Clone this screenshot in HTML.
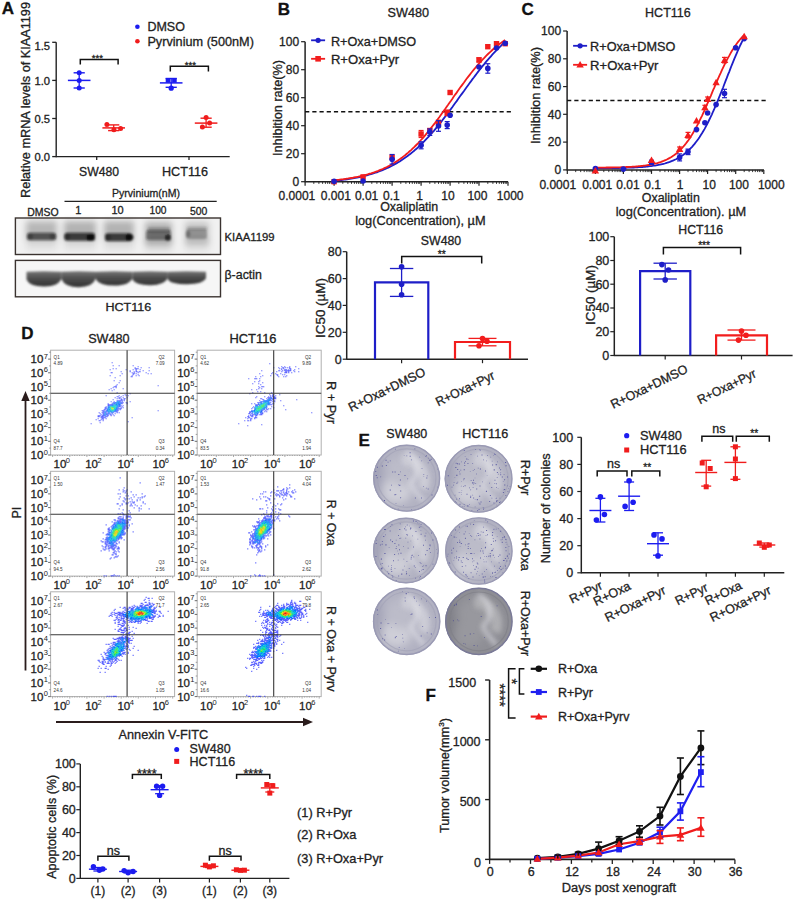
<!DOCTYPE html>
<html><head><meta charset="utf-8"><style>
html,body{margin:0;padding:0;background:#fff;overflow:hidden;}
svg{display:block;font-family:"Liberation Sans", sans-serif;}

</style></head><body>
<svg width="795" height="899" viewBox="0 0 795 899">
<rect width="795" height="899" fill="#fff"/>
<text x="1.8" y="13.8" font-size="17" text-anchor="start" fill="#111" stroke="#111" stroke-width="0.3" font-weight="bold">A</text>
<line x1="56.2" y1="42.3" x2="56.2" y2="157.2" stroke="#222" stroke-width="1.4"/>
<line x1="52.2" y1="42.3" x2="56.2" y2="42.3" stroke="#222" stroke-width="1.3"/>
<text x="50.0" y="49.7" font-size="11.2" text-anchor="end" fill="#222" stroke="#222" stroke-width="0.3" textLength="15.6" lengthAdjust="spacingAndGlyphs">1.5</text>
<line x1="52.2" y1="80.4" x2="56.2" y2="80.4" stroke="#222" stroke-width="1.3"/>
<text x="50.0" y="85.2" font-size="11.2" text-anchor="end" fill="#222" stroke="#222" stroke-width="0.3" textLength="15.6" lengthAdjust="spacingAndGlyphs">1.0</text>
<line x1="52.2" y1="118.5" x2="56.2" y2="118.5" stroke="#222" stroke-width="1.3"/>
<text x="50.0" y="122.5" font-size="11.2" text-anchor="end" fill="#222" stroke="#222" stroke-width="0.3" textLength="15.6" lengthAdjust="spacingAndGlyphs">0.5</text>
<line x1="52.2" y1="156.6" x2="56.2" y2="156.6" stroke="#222" stroke-width="1.3"/>
<text x="50.0" y="160.6" font-size="11.2" text-anchor="end" fill="#222" stroke="#222" stroke-width="0.3" textLength="15.6" lengthAdjust="spacingAndGlyphs">0.0</text>
<line x1="56.2" y1="156.6" x2="229.7" y2="156.6" stroke="#222" stroke-width="1.4"/>
<line x1="96.7" y1="156.6" x2="96.7" y2="160.1" stroke="#222" stroke-width="1.3"/>
<line x1="189.0" y1="156.6" x2="189.0" y2="160.1" stroke="#222" stroke-width="1.3"/>
<text x="99.0" y="175.5" font-size="12.5" text-anchor="middle" fill="#222" stroke="#222" stroke-width="0.3" textLength="40" lengthAdjust="spacingAndGlyphs">SW480</text>
<text x="185.0" y="175.5" font-size="12.5" text-anchor="middle" fill="#222" stroke="#222" stroke-width="0.3" textLength="46" lengthAdjust="spacingAndGlyphs">HCT116</text>
<text x="0.0" y="0.0" font-size="12.2" text-anchor="middle" fill="#222" stroke="#222" stroke-width="0.3" textLength="196" lengthAdjust="spacingAndGlyphs" transform="translate(29.6,100.0) rotate(-90)">Relative mRNA levels of KIAA1199</text>
<circle cx="137.4" cy="26.7" r="2.3" fill="#1c1cf0"/>
<text x="147.4" y="31.0" font-size="12.5" text-anchor="start" fill="#222" stroke="#222" stroke-width="0.3">DMSO</text>
<circle cx="137.4" cy="41.2" r="2.3" fill="#f01c1c"/>
<text x="147.4" y="45.5" font-size="12.5" text-anchor="start" fill="#222" stroke="#222" stroke-width="0.3" textLength="106.5" lengthAdjust="spacingAndGlyphs">Pyrvinium (500nM)</text>
<line x1="79.2" y1="72.8" x2="79.2" y2="88.0" stroke="#1c1cf0" stroke-width="1.3"/>
<line x1="67.9" y1="80.4" x2="90.5" y2="80.4" stroke="#1c1cf0" stroke-width="1.5"/>
<line x1="73.6" y1="72.8" x2="84.8" y2="72.8" stroke="#1c1cf0" stroke-width="1.4"/>
<line x1="73.6" y1="88.0" x2="84.8" y2="88.0" stroke="#1c1cf0" stroke-width="1.4"/>
<circle cx="79.2" cy="72.8" r="2.5" fill="#1c1cf0"/>
<circle cx="79.2" cy="80.4" r="2.5" fill="#1c1cf0"/>
<circle cx="79.2" cy="88.0" r="2.5" fill="#1c1cf0"/>
<line x1="113.7" y1="124.9" x2="113.7" y2="130.6" stroke="#f01c1c" stroke-width="1.3"/>
<line x1="102.4" y1="127.9" x2="125.0" y2="127.9" stroke="#f01c1c" stroke-width="1.5"/>
<line x1="108.1" y1="124.9" x2="119.3" y2="124.9" stroke="#f01c1c" stroke-width="1.4"/>
<line x1="108.1" y1="130.6" x2="119.3" y2="130.6" stroke="#f01c1c" stroke-width="1.4"/>
<circle cx="106.9" cy="124.6" r="2.5" fill="#f01c1c"/>
<circle cx="113.9" cy="129.8" r="2.5" fill="#f01c1c"/>
<circle cx="120.6" cy="128.6" r="2.5" fill="#f01c1c"/>
<line x1="171.2" y1="78.5" x2="171.2" y2="87.3" stroke="#1c1cf0" stroke-width="1.3"/>
<line x1="159.9" y1="82.9" x2="182.5" y2="82.9" stroke="#1c1cf0" stroke-width="1.5"/>
<line x1="165.6" y1="78.5" x2="176.8" y2="78.5" stroke="#1c1cf0" stroke-width="1.4"/>
<line x1="165.6" y1="87.3" x2="176.8" y2="87.3" stroke="#1c1cf0" stroke-width="1.4"/>
<rect x="165.7" y="78.1" width="4.6" height="4.6" fill="#1c1cf0"/>
<rect x="172.1" y="78.1" width="4.6" height="4.6" fill="#1c1cf0"/>
<circle cx="171.2" cy="88.2" r="2.6" fill="#1c1cf0"/>
<line x1="206.1" y1="118.2" x2="206.1" y2="127.2" stroke="#f01c1c" stroke-width="1.3"/>
<line x1="194.8" y1="123.1" x2="217.4" y2="123.1" stroke="#f01c1c" stroke-width="1.5"/>
<line x1="200.5" y1="118.2" x2="211.7" y2="118.2" stroke="#f01c1c" stroke-width="1.4"/>
<line x1="200.5" y1="127.2" x2="211.7" y2="127.2" stroke="#f01c1c" stroke-width="1.4"/>
<circle cx="206.1" cy="117.4" r="2.5" fill="#f01c1c"/>
<circle cx="209.6" cy="123.1" r="2.5" fill="#f01c1c"/>
<circle cx="202.4" cy="127.1" r="2.5" fill="#f01c1c"/>
<path d="M80.3 64.5V59.5H118.1V64.5" stroke="#111" stroke-width="1.5" fill="none"/>
<text x="97.4" y="61.0" font-size="9.6" text-anchor="middle" fill="#222" stroke="#222" stroke-width="0.3">***</text>
<path d="M170.3 71.6V66.3H208.4V71.6" stroke="#111" stroke-width="1.5" fill="none"/>
<text x="190.3" y="68.0" font-size="9.6" text-anchor="middle" fill="#222" stroke="#222" stroke-width="0.3">***</text>
<text x="146.0" y="196.8" font-size="11" text-anchor="middle" fill="#222" stroke="#222" stroke-width="0.3" textLength="68" lengthAdjust="spacingAndGlyphs">Pyrvinium(nM)</text>
<line x1="64.5" y1="201.4" x2="216.7" y2="201.4" stroke="#222" stroke-width="1.2"/>
<text x="42.9" y="215.8" font-size="11" text-anchor="middle" fill="#222" stroke="#222" stroke-width="0.3" textLength="31.4" lengthAdjust="spacingAndGlyphs">DMSO</text>
<text x="78.2" y="213.8" font-size="11" text-anchor="middle" fill="#222" stroke="#222" stroke-width="0.3">1</text>
<text x="117.5" y="213.8" font-size="11" text-anchor="middle" fill="#222" stroke="#222" stroke-width="0.3">10</text>
<text x="158.0" y="214.0" font-size="11" text-anchor="middle" fill="#222" stroke="#222" stroke-width="0.3" textLength="17" lengthAdjust="spacingAndGlyphs">100</text>
<text x="198.7" y="215.4" font-size="11" text-anchor="middle" fill="#222" stroke="#222" stroke-width="0.3" textLength="17.4" lengthAdjust="spacingAndGlyphs">500</text>
<defs><filter id="bl2" x="-20%" y="-50%" width="140%" height="200%"><feGaussianBlur stdDeviation="1.6"/></filter><filter id="bl1" x="-20%" y="-50%" width="140%" height="200%"><feGaussianBlur stdDeviation="1.3"/></filter><filter id="bl4" x="-30%" y="-60%" width="160%" height="220%"><feGaussianBlur stdDeviation="3"/></filter></defs>
<rect x="15.4" y="218.0" width="205.1" height="36.5" fill="#f1f1f1"/>
<g filter="url(#bl4)">
<rect x="26" y="221" width="31" height="19" fill="#000" opacity="0.24"/>
<rect x="64" y="221" width="32" height="19" fill="#000" opacity="0.26"/>
<rect x="104" y="221" width="30" height="19" fill="#000" opacity="0.26"/>
<rect x="145" y="222" width="27" height="22" fill="#000" opacity="0.26"/>
<rect x="185" y="222" width="24" height="22" fill="#000" opacity="0.19"/>
<rect x="26" y="238" width="31" height="12" fill="#000" opacity="0.08"/>
<rect x="64" y="238" width="32" height="12" fill="#000" opacity="0.08"/>
<rect x="104" y="238" width="30" height="12" fill="#000" opacity="0.08"/>
<rect x="145" y="238" width="27" height="13" fill="#000" opacity="0.1"/>
<rect x="185" y="238" width="24" height="13" fill="#000" opacity="0.08"/>
</g>
<g filter="url(#bl1)">
<rect x="27" y="232.85" width="29" height="7.5" rx="2.5" fill="#111" opacity="0.62"/>
<rect x="64.5" y="232.8" width="30.5" height="8" rx="2.5" fill="#111" opacity="0.75"/>
<rect x="105" y="233.2" width="27" height="8" rx="2.5" fill="#111" opacity="0.75"/>
<rect x="146" y="230.0" width="25" height="10" rx="2.5" fill="#111" opacity="0.45"/>
<rect x="186" y="229.0" width="21" height="10" rx="2.5" fill="#111" opacity="0.26"/>
<rect x="148" y="227.5" width="22" height="5" fill="#222" opacity="0.25"/>
<rect x="187" y="227" width="20" height="3" fill="#222" opacity="0.22"/>
<ellipse cx="30" cy="236.6" rx="3" ry="3.2" fill="#000" opacity="0.3"/>
<ellipse cx="53" cy="236.6" rx="3.4" ry="3.2" fill="#000" opacity="0.3"/>
<ellipse cx="67" cy="236.8" rx="3" ry="3.2" fill="#000" opacity="0.35"/>
<ellipse cx="90.5" cy="237.5" rx="4" ry="3.2" fill="#000" opacity="0.75"/>
<ellipse cx="108" cy="237.2" rx="3" ry="3.2" fill="#000" opacity="0.35"/>
<ellipse cx="129.5" cy="237.2" rx="4" ry="3.2" fill="#000" opacity="0.75"/>
<ellipse cx="168" cy="237.8" rx="3" ry="3.2" fill="#000" opacity="0.6"/>
<ellipse cx="188" cy="234" rx="2.4" ry="3.2" fill="#000" opacity="0.25"/>
</g>
<rect x="15.4" y="218.0" width="205.1" height="36.5" fill="none" stroke="#3b3330" stroke-width="1.4"/>
<rect x="15.4" y="260.4" width="205.1" height="36.4" fill="#f6f6f6"/>
<defs><linearGradient id="bact" x1="0" y1="0" x2="0" y2="1"><stop offset="0" stop-color="#767676"/><stop offset="0.45" stop-color="#4e4e4e"/><stop offset="1" stop-color="#333333"/></linearGradient></defs>
<g filter="url(#bl1)">
<path d="M26.5 271.8 Q44.1 270.8 61.7 271.8 L61.7 278 Q58.7 286.5 44.1 286.5 Q29.5 286.5 26.5 279.5 Z" fill="url(#bact)"/>
<path d="M61.7 271.8 Q78.85 270.8 96 271.8 L96 278 Q93 287.2 78.85 287.2 Q64.7 287.2 61.7 279.5 Z" fill="url(#bact)"/>
<path d="M96 271.8 Q114.25 270.8 132.5 271.8 L132.5 278 Q129.5 285.5 114.25 285.5 Q99 285.5 96 279.5 Z" fill="url(#bact)"/>
<path d="M132.5 271.8 Q150.15 270.8 167.8 271.8 L167.8 278 Q164.8 285.2 150.15 285.2 Q135.5 285.2 132.5 279.5 Z" fill="url(#bact)"/>
<path d="M167.8 271.8 Q186.9 270.8 206 271.8 L206 278 Q203 284.2 186.9 284.2 Q170.8 284.2 167.8 279.5 Z" fill="url(#bact)"/>
</g>
<rect x="15.4" y="260.4" width="205.1" height="36.4" fill="none" stroke="#3b3330" stroke-width="1.4"/>
<text x="224.5" y="240.7" font-size="11.3" text-anchor="start" fill="#222" stroke="#222" stroke-width="0.3">KIAA1199</text>
<text x="224.5" y="279.0" font-size="12" text-anchor="start" fill="#222" stroke="#222" stroke-width="0.3" textLength="37.4" lengthAdjust="spacingAndGlyphs">β-actin</text>
<text x="128.3" y="310.8" font-size="11.7" text-anchor="middle" fill="#222" stroke="#222" stroke-width="0.3" textLength="45.8" lengthAdjust="spacingAndGlyphs">HCT116</text>
<text x="277.7" y="14.8" font-size="17" text-anchor="start" fill="#111" stroke="#111" stroke-width="0.3" font-weight="bold">B</text>
<text x="408.3" y="17.2" font-size="12.6" text-anchor="middle" fill="#222" stroke="#222" stroke-width="0.3" textLength="41.5" lengthAdjust="spacingAndGlyphs">SW480</text>
<line x1="305.1" y1="41.7" x2="305.1" y2="182.3" stroke="#222" stroke-width="1.5"/>
<line x1="301.1" y1="181.7" x2="305.1" y2="181.7" stroke="#222" stroke-width="1.2"/>
<text x="299.1" y="186.0" font-size="12" text-anchor="end" fill="#222" stroke="#222" stroke-width="0.3">0</text>
<line x1="301.1" y1="153.7" x2="305.1" y2="153.7" stroke="#222" stroke-width="1.2"/>
<text x="299.1" y="158.0" font-size="12" text-anchor="end" fill="#222" stroke="#222" stroke-width="0.3">20</text>
<line x1="301.1" y1="125.7" x2="305.1" y2="125.7" stroke="#222" stroke-width="1.2"/>
<text x="299.1" y="130.0" font-size="12" text-anchor="end" fill="#222" stroke="#222" stroke-width="0.3">40</text>
<line x1="301.1" y1="97.7" x2="305.1" y2="97.7" stroke="#222" stroke-width="1.2"/>
<text x="299.1" y="102.0" font-size="12" text-anchor="end" fill="#222" stroke="#222" stroke-width="0.3">60</text>
<line x1="301.1" y1="69.7" x2="305.1" y2="69.7" stroke="#222" stroke-width="1.2"/>
<text x="299.1" y="74.0" font-size="12" text-anchor="end" fill="#222" stroke="#222" stroke-width="0.3">80</text>
<line x1="301.1" y1="41.7" x2="305.1" y2="41.7" stroke="#222" stroke-width="1.2"/>
<text x="299.1" y="46.0" font-size="12" text-anchor="end" fill="#222" stroke="#222" stroke-width="0.3">100</text>
<line x1="305.1" y1="181.7" x2="508.0" y2="181.7" stroke="#222" stroke-width="1.5"/>
<line x1="305.1" y1="181.7" x2="305.1" y2="185.7" stroke="#222" stroke-width="1.2"/>
<line x1="313.8" y1="181.7" x2="313.8" y2="183.9" stroke="#222" stroke-width="0.9"/>
<line x1="318.9" y1="181.7" x2="318.9" y2="183.9" stroke="#222" stroke-width="0.9"/>
<line x1="322.6" y1="181.7" x2="322.6" y2="183.9" stroke="#222" stroke-width="0.9"/>
<line x1="325.4" y1="181.7" x2="325.4" y2="183.9" stroke="#222" stroke-width="0.9"/>
<line x1="327.7" y1="181.7" x2="327.7" y2="183.9" stroke="#222" stroke-width="0.9"/>
<line x1="329.6" y1="181.7" x2="329.6" y2="183.9" stroke="#222" stroke-width="0.9"/>
<line x1="331.3" y1="181.7" x2="331.3" y2="183.9" stroke="#222" stroke-width="0.9"/>
<line x1="332.8" y1="181.7" x2="332.8" y2="183.9" stroke="#222" stroke-width="0.9"/>
<line x1="334.1" y1="181.7" x2="334.1" y2="185.7" stroke="#222" stroke-width="1.2"/>
<line x1="342.8" y1="181.7" x2="342.8" y2="183.9" stroke="#222" stroke-width="0.9"/>
<line x1="347.9" y1="181.7" x2="347.9" y2="183.9" stroke="#222" stroke-width="0.9"/>
<line x1="351.5" y1="181.7" x2="351.5" y2="183.9" stroke="#222" stroke-width="0.9"/>
<line x1="354.4" y1="181.7" x2="354.4" y2="183.9" stroke="#222" stroke-width="0.9"/>
<line x1="356.6" y1="181.7" x2="356.6" y2="183.9" stroke="#222" stroke-width="0.9"/>
<line x1="358.6" y1="181.7" x2="358.6" y2="183.9" stroke="#222" stroke-width="0.9"/>
<line x1="360.3" y1="181.7" x2="360.3" y2="183.9" stroke="#222" stroke-width="0.9"/>
<line x1="361.8" y1="181.7" x2="361.8" y2="183.9" stroke="#222" stroke-width="0.9"/>
<line x1="363.1" y1="181.7" x2="363.1" y2="185.7" stroke="#222" stroke-width="1.2"/>
<line x1="371.8" y1="181.7" x2="371.8" y2="183.9" stroke="#222" stroke-width="0.9"/>
<line x1="376.9" y1="181.7" x2="376.9" y2="183.9" stroke="#222" stroke-width="0.9"/>
<line x1="380.5" y1="181.7" x2="380.5" y2="183.9" stroke="#222" stroke-width="0.9"/>
<line x1="383.3" y1="181.7" x2="383.3" y2="183.9" stroke="#222" stroke-width="0.9"/>
<line x1="385.6" y1="181.7" x2="385.6" y2="183.9" stroke="#222" stroke-width="0.9"/>
<line x1="387.6" y1="181.7" x2="387.6" y2="183.9" stroke="#222" stroke-width="0.9"/>
<line x1="389.3" y1="181.7" x2="389.3" y2="183.9" stroke="#222" stroke-width="0.9"/>
<line x1="390.7" y1="181.7" x2="390.7" y2="183.9" stroke="#222" stroke-width="0.9"/>
<line x1="392.1" y1="181.7" x2="392.1" y2="185.7" stroke="#222" stroke-width="1.2"/>
<line x1="400.8" y1="181.7" x2="400.8" y2="183.9" stroke="#222" stroke-width="0.9"/>
<line x1="405.9" y1="181.7" x2="405.9" y2="183.9" stroke="#222" stroke-width="0.9"/>
<line x1="409.5" y1="181.7" x2="409.5" y2="183.9" stroke="#222" stroke-width="0.9"/>
<line x1="412.3" y1="181.7" x2="412.3" y2="183.9" stroke="#222" stroke-width="0.9"/>
<line x1="414.6" y1="181.7" x2="414.6" y2="183.9" stroke="#222" stroke-width="0.9"/>
<line x1="416.6" y1="181.7" x2="416.6" y2="183.9" stroke="#222" stroke-width="0.9"/>
<line x1="418.3" y1="181.7" x2="418.3" y2="183.9" stroke="#222" stroke-width="0.9"/>
<line x1="419.7" y1="181.7" x2="419.7" y2="183.9" stroke="#222" stroke-width="0.9"/>
<line x1="421.1" y1="181.7" x2="421.1" y2="185.7" stroke="#222" stroke-width="1.2"/>
<line x1="429.8" y1="181.7" x2="429.8" y2="183.9" stroke="#222" stroke-width="0.9"/>
<line x1="434.9" y1="181.7" x2="434.9" y2="183.9" stroke="#222" stroke-width="0.9"/>
<line x1="438.5" y1="181.7" x2="438.5" y2="183.9" stroke="#222" stroke-width="0.9"/>
<line x1="441.3" y1="181.7" x2="441.3" y2="183.9" stroke="#222" stroke-width="0.9"/>
<line x1="443.6" y1="181.7" x2="443.6" y2="183.9" stroke="#222" stroke-width="0.9"/>
<line x1="445.6" y1="181.7" x2="445.6" y2="183.9" stroke="#222" stroke-width="0.9"/>
<line x1="447.2" y1="181.7" x2="447.2" y2="183.9" stroke="#222" stroke-width="0.9"/>
<line x1="448.7" y1="181.7" x2="448.7" y2="183.9" stroke="#222" stroke-width="0.9"/>
<line x1="450.1" y1="181.7" x2="450.1" y2="185.7" stroke="#222" stroke-width="1.2"/>
<line x1="458.8" y1="181.7" x2="458.8" y2="183.9" stroke="#222" stroke-width="0.9"/>
<line x1="463.9" y1="181.7" x2="463.9" y2="183.9" stroke="#222" stroke-width="0.9"/>
<line x1="467.5" y1="181.7" x2="467.5" y2="183.9" stroke="#222" stroke-width="0.9"/>
<line x1="470.3" y1="181.7" x2="470.3" y2="183.9" stroke="#222" stroke-width="0.9"/>
<line x1="472.6" y1="181.7" x2="472.6" y2="183.9" stroke="#222" stroke-width="0.9"/>
<line x1="474.5" y1="181.7" x2="474.5" y2="183.9" stroke="#222" stroke-width="0.9"/>
<line x1="476.2" y1="181.7" x2="476.2" y2="183.9" stroke="#222" stroke-width="0.9"/>
<line x1="477.7" y1="181.7" x2="477.7" y2="183.9" stroke="#222" stroke-width="0.9"/>
<line x1="479.0" y1="181.7" x2="479.0" y2="185.7" stroke="#222" stroke-width="1.2"/>
<line x1="487.8" y1="181.7" x2="487.8" y2="183.9" stroke="#222" stroke-width="0.9"/>
<line x1="492.9" y1="181.7" x2="492.9" y2="183.9" stroke="#222" stroke-width="0.9"/>
<line x1="496.5" y1="181.7" x2="496.5" y2="183.9" stroke="#222" stroke-width="0.9"/>
<line x1="499.3" y1="181.7" x2="499.3" y2="183.9" stroke="#222" stroke-width="0.9"/>
<line x1="501.6" y1="181.7" x2="501.6" y2="183.9" stroke="#222" stroke-width="0.9"/>
<line x1="503.5" y1="181.7" x2="503.5" y2="183.9" stroke="#222" stroke-width="0.9"/>
<line x1="505.2" y1="181.7" x2="505.2" y2="183.9" stroke="#222" stroke-width="0.9"/>
<line x1="506.7" y1="181.7" x2="506.7" y2="183.9" stroke="#222" stroke-width="0.9"/>
<line x1="508.0" y1="181.7" x2="508.0" y2="185.7" stroke="#222" stroke-width="1.2"/>
<text x="296.9" y="199.6" font-size="12" text-anchor="middle" fill="#222" stroke="#222" stroke-width="0.3">0.0001</text>
<text x="335.8" y="199.6" font-size="12" text-anchor="middle" fill="#222" stroke="#222" stroke-width="0.3">0.001</text>
<text x="366.6" y="199.6" font-size="12" text-anchor="middle" fill="#222" stroke="#222" stroke-width="0.3">0.01</text>
<text x="391.4" y="199.6" font-size="12" text-anchor="middle" fill="#222" stroke="#222" stroke-width="0.3">0.1</text>
<text x="419.7" y="199.6" font-size="12" text-anchor="middle" fill="#222" stroke="#222" stroke-width="0.3">1</text>
<text x="447.9" y="199.6" font-size="12" text-anchor="middle" fill="#222" stroke="#222" stroke-width="0.3">10</text>
<text x="477.4" y="199.6" font-size="12" text-anchor="middle" fill="#222" stroke="#222" stroke-width="0.3">100</text>
<text x="510.2" y="199.6" font-size="12" text-anchor="middle" fill="#222" stroke="#222" stroke-width="0.3">1000</text>
<text x="409.2" y="211.4" font-size="12.5" text-anchor="middle" fill="#222" stroke="#222" stroke-width="0.3" textLength="58" lengthAdjust="spacingAndGlyphs">Oxaliplatin</text>
<text x="420.4" y="225.3" font-size="12.5" text-anchor="middle" fill="#222" stroke="#222" stroke-width="0.3" textLength="130.5" lengthAdjust="spacingAndGlyphs">log(Concentration), µM</text>
<text x="0.0" y="0.0" font-size="12" text-anchor="middle" fill="#222" stroke="#222" stroke-width="0.3" textLength="96" lengthAdjust="spacingAndGlyphs" transform="translate(281.5,108.0) rotate(-90)">Inhibition rate(%)</text>
<line x1="305.1" y1="111.7" x2="511.7" y2="111.7" stroke="#111" stroke-width="1.5" stroke-dasharray="4.2,3"/>
<path d="M334.1 180.9L335.5 180.8L336.9 180.6L338.4 180.4L339.8 180.3L341.2 180.1L342.6 179.9L344.1 179.7L345.5 179.5L346.9 179.3L348.3 179.1L349.8 178.9L351.2 178.7L352.6 178.4L354.0 178.1L355.5 177.9L356.9 177.6L358.3 177.3L359.7 177.0L361.2 176.7L362.6 176.4L364.0 176.0L365.4 175.7L366.9 175.3L368.3 174.9L369.7 174.5L371.1 174.1L372.6 173.7L374.0 173.2L375.4 172.7L376.9 172.3L378.3 171.7L379.7 171.2L381.1 170.7L382.6 170.1L384.0 169.5L385.4 168.9L386.8 168.3L388.3 167.6L389.7 166.9L391.1 166.2L392.5 165.5L394.0 164.7L395.4 163.9L396.8 163.1L398.2 162.3L399.7 161.4L401.1 160.5L402.5 159.6L403.9 158.6L405.4 157.6L406.8 156.6L408.2 155.5L409.6 154.4L411.1 153.3L412.5 152.1L413.9 151.0L415.3 149.7L416.8 148.5L418.2 147.2L419.6 145.9L421.0 144.5L422.5 143.1L423.9 141.7L425.3 140.2L426.7 138.7L428.2 137.2L429.6 135.6L431.0 134.0L432.4 132.4L433.9 130.8L435.3 129.1L436.7 127.4L438.1 125.6L439.6 123.8L441.0 122.1L442.4 120.2L443.8 118.4L445.3 116.5L446.7 114.7L448.1 112.8L449.5 110.8L451.0 108.9L452.4 107.0L453.8 105.0L455.2 103.0L456.7 101.1L458.1 99.1L459.5 97.1L460.9 95.1L462.4 93.1L463.8 91.2L465.2 89.2L466.6 87.2L468.1 85.2L469.5 83.3L470.9 81.4L472.3 79.4L473.8 77.5L475.2 75.6L476.6 73.7L478.0 71.9L479.5 70.0L480.9 68.2L482.3 66.4L483.8 64.7L485.2 62.9L486.6 61.2L488.0 59.6L489.5 57.9L490.9 56.3L492.3 54.7L493.7 53.2L495.2 51.6L496.6 50.1L498.0 48.7L499.4 47.3L500.9 45.9L502.3 44.5L503.7 43.2L505.1 41.9" stroke="#1e1ec8" stroke-width="1.8" fill="none"/>
<path d="M334.1 180.2L335.5 180.1L336.9 179.9L338.4 179.8L339.8 179.6L341.2 179.4L342.6 179.3L344.1 179.1L345.5 178.9L346.9 178.7L348.3 178.5L349.8 178.2L351.2 178.0L352.6 177.8L354.0 177.5L355.5 177.2L356.9 177.0L358.3 176.7L359.7 176.3L361.2 176.0L362.6 175.7L364.0 175.3L365.4 175.0L366.9 174.6L368.3 174.2L369.7 173.7L371.1 173.3L372.6 172.8L374.0 172.4L375.4 171.9L376.9 171.3L378.3 170.8L379.7 170.2L381.1 169.6L382.6 169.0L384.0 168.3L385.4 167.7L386.8 167.0L388.3 166.2L389.7 165.5L391.1 164.7L392.5 163.9L394.0 163.0L395.4 162.1L396.8 161.2L398.2 160.3L399.7 159.3L401.1 158.2L402.5 157.2L403.9 156.1L405.4 155.0L406.8 153.8L408.2 152.6L409.6 151.3L411.1 150.1L412.5 148.7L413.9 147.4L415.3 146.0L416.8 144.5L418.2 143.1L419.6 141.5L421.0 140.0L422.5 138.4L423.9 136.8L425.3 135.1L426.7 133.4L428.2 131.7L429.6 129.9L431.0 128.1L432.4 126.3L433.9 124.4L435.3 122.6L436.7 120.7L438.1 118.7L439.6 116.8L441.0 114.8L442.4 112.8L443.8 110.8L445.3 108.8L446.7 106.8L448.1 104.8L449.5 102.7L451.0 100.7L452.4 98.7L453.8 96.6L455.2 94.6L456.7 92.6L458.1 90.6L459.5 88.6L460.9 86.6L462.4 84.6L463.8 82.7L465.2 80.7L466.6 78.8L468.1 76.9L469.5 75.1L470.9 73.3L472.3 71.5L473.8 69.7L475.2 68.0L476.6 66.3L478.0 64.6L479.5 63.0L480.9 61.4L482.3 59.8L483.8 58.3L485.2 56.8L486.6 55.4L488.0 54.0L489.5 52.6L490.9 51.3L492.3 50.0L493.7 48.8L495.2 47.5L496.6 46.4L498.0 45.2L499.4 44.1L500.9 43.1L502.3 42.1L503.7 41.1L505.1 40.1" stroke="#f21d1d" stroke-width="1.8" fill="none"/>
<rect x="331.4" y="179.0" width="5.4" height="5.4" fill="#f21d1d"/>
<rect x="360.4" y="174.2" width="5.4" height="5.4" fill="#f21d1d"/>
<rect x="389.4" y="154.5" width="5.4" height="5.4" fill="#f21d1d"/>
<line x1="421.1" y1="130.5" x2="421.1" y2="137.5" stroke="#f21d1d" stroke-width="1.2"/>
<line x1="418.6" y1="130.5" x2="423.6" y2="130.5" stroke="#f21d1d" stroke-width="1.2"/>
<line x1="418.6" y1="137.5" x2="423.6" y2="137.5" stroke="#f21d1d" stroke-width="1.2"/>
<rect x="418.4" y="131.3" width="5.4" height="5.4" fill="#f21d1d"/>
<rect x="427.1" y="127.8" width="5.4" height="5.4" fill="#f21d1d"/>
<rect x="435.8" y="119.6" width="5.4" height="5.4" fill="#f21d1d"/>
<line x1="447.2" y1="110.0" x2="447.2" y2="115.6" stroke="#f21d1d" stroke-width="1.2"/>
<line x1="444.7" y1="110.0" x2="449.7" y2="110.0" stroke="#f21d1d" stroke-width="1.2"/>
<line x1="444.7" y1="115.6" x2="449.7" y2="115.6" stroke="#f21d1d" stroke-width="1.2"/>
<rect x="444.5" y="110.1" width="5.4" height="5.4" fill="#f21d1d"/>
<rect x="447.4" y="89.8" width="5.4" height="5.4" fill="#f21d1d"/>
<line x1="479.0" y1="57.8" x2="479.0" y2="62.0" stroke="#f21d1d" stroke-width="1.2"/>
<line x1="476.5" y1="57.8" x2="481.5" y2="57.8" stroke="#f21d1d" stroke-width="1.2"/>
<line x1="476.5" y1="62.0" x2="481.5" y2="62.0" stroke="#f21d1d" stroke-width="1.2"/>
<rect x="476.3" y="57.2" width="5.4" height="5.4" fill="#f21d1d"/>
<rect x="485.1" y="44.0" width="5.4" height="5.4" fill="#f21d1d"/>
<rect x="493.8" y="41.0" width="5.4" height="5.4" fill="#f21d1d"/>
<rect x="502.5" y="41.0" width="5.4" height="5.4" fill="#f21d1d"/>
<circle cx="334.1" cy="181.3" r="2.8" fill="#1e1ec8"/>
<circle cx="363.1" cy="181.0" r="2.8" fill="#1e1ec8"/>
<line x1="392.1" y1="154.5" x2="392.1" y2="164.1" stroke="#1e1ec8" stroke-width="1.2"/>
<line x1="389.6" y1="154.5" x2="394.6" y2="154.5" stroke="#1e1ec8" stroke-width="1.2"/>
<line x1="389.6" y1="164.1" x2="394.6" y2="164.1" stroke="#1e1ec8" stroke-width="1.2"/>
<circle cx="392.1" cy="159.3" r="2.8" fill="#1e1ec8"/>
<line x1="421.1" y1="141.8" x2="421.1" y2="148.8" stroke="#1e1ec8" stroke-width="1.2"/>
<line x1="418.6" y1="141.8" x2="423.6" y2="141.8" stroke="#1e1ec8" stroke-width="1.2"/>
<line x1="418.6" y1="148.8" x2="423.6" y2="148.8" stroke="#1e1ec8" stroke-width="1.2"/>
<circle cx="421.1" cy="145.3" r="2.8" fill="#1e1ec8"/>
<line x1="429.8" y1="128.9" x2="429.8" y2="135.4" stroke="#1e1ec8" stroke-width="1.2"/>
<line x1="427.3" y1="128.9" x2="432.3" y2="128.9" stroke="#1e1ec8" stroke-width="1.2"/>
<line x1="427.3" y1="135.4" x2="432.3" y2="135.4" stroke="#1e1ec8" stroke-width="1.2"/>
<circle cx="429.8" cy="132.1" r="2.8" fill="#1e1ec8"/>
<line x1="438.5" y1="120.7" x2="438.5" y2="131.3" stroke="#1e1ec8" stroke-width="1.2"/>
<line x1="436.0" y1="120.7" x2="441.0" y2="120.7" stroke="#1e1ec8" stroke-width="1.2"/>
<line x1="436.0" y1="131.3" x2="441.0" y2="131.3" stroke="#1e1ec8" stroke-width="1.2"/>
<circle cx="438.5" cy="126.0" r="2.8" fill="#1e1ec8"/>
<line x1="447.2" y1="121.6" x2="447.2" y2="128.6" stroke="#1e1ec8" stroke-width="1.2"/>
<line x1="444.7" y1="121.6" x2="449.7" y2="121.6" stroke="#1e1ec8" stroke-width="1.2"/>
<line x1="444.7" y1="128.6" x2="449.7" y2="128.6" stroke="#1e1ec8" stroke-width="1.2"/>
<circle cx="447.2" cy="125.1" r="2.8" fill="#1e1ec8"/>
<circle cx="450.1" cy="115.3" r="2.8" fill="#1e1ec8"/>
<circle cx="479.0" cy="67.0" r="2.8" fill="#1e1ec8"/>
<line x1="487.8" y1="63.7" x2="487.8" y2="73.2" stroke="#1e1ec8" stroke-width="1.2"/>
<line x1="485.3" y1="63.7" x2="490.3" y2="63.7" stroke="#1e1ec8" stroke-width="1.2"/>
<line x1="485.3" y1="73.2" x2="490.3" y2="73.2" stroke="#1e1ec8" stroke-width="1.2"/>
<circle cx="487.8" cy="68.4" r="2.8" fill="#1e1ec8"/>
<circle cx="496.5" cy="48.0" r="2.8" fill="#1e1ec8"/>
<circle cx="505.2" cy="43.2" r="2.8" fill="#1e1ec8"/>
<line x1="311.1" y1="40.3" x2="325.1" y2="40.3" stroke="#1e1ec8" stroke-width="1.8"/>
<circle cx="318.1" cy="40.3" r="2.6" fill="#1e1ec8"/>
<text x="330.9" y="45.9" font-size="12.8" text-anchor="start" fill="#222" stroke="#222" stroke-width="0.3" textLength="85.3" lengthAdjust="spacingAndGlyphs">R+Oxa+DMSO</text>
<line x1="311.1" y1="58.8" x2="325.1" y2="58.8" stroke="#f21d1d" stroke-width="1.8"/>
<rect x="315.3" y="56.0" width="5.6" height="5.6" fill="#f21d1d"/>
<text x="330.9" y="64.4" font-size="12.8" text-anchor="start" fill="#222" stroke="#222" stroke-width="0.3" textLength="68.3" lengthAdjust="spacingAndGlyphs">R+Oxa+Pyr</text>
<text x="521.6" y="14.8" font-size="17" text-anchor="start" fill="#111" stroke="#111" stroke-width="0.3" font-weight="bold">C</text>
<text x="667.9" y="16.6" font-size="12.6" text-anchor="middle" fill="#222" stroke="#222" stroke-width="0.3" textLength="45.6" lengthAdjust="spacingAndGlyphs">HCT116</text>
<line x1="567.1" y1="31.0" x2="567.1" y2="170.5" stroke="#222" stroke-width="1.5"/>
<line x1="563.1" y1="169.9" x2="567.1" y2="169.9" stroke="#222" stroke-width="1.2"/>
<text x="561.1" y="174.2" font-size="12" text-anchor="end" fill="#222" stroke="#222" stroke-width="0.3">0</text>
<line x1="563.1" y1="142.1" x2="567.1" y2="142.1" stroke="#222" stroke-width="1.2"/>
<text x="561.1" y="146.4" font-size="12" text-anchor="end" fill="#222" stroke="#222" stroke-width="0.3">20</text>
<line x1="563.1" y1="114.3" x2="567.1" y2="114.3" stroke="#222" stroke-width="1.2"/>
<text x="561.1" y="118.6" font-size="12" text-anchor="end" fill="#222" stroke="#222" stroke-width="0.3">40</text>
<line x1="563.1" y1="86.6" x2="567.1" y2="86.6" stroke="#222" stroke-width="1.2"/>
<text x="561.1" y="90.9" font-size="12" text-anchor="end" fill="#222" stroke="#222" stroke-width="0.3">60</text>
<line x1="563.1" y1="58.8" x2="567.1" y2="58.8" stroke="#222" stroke-width="1.2"/>
<text x="561.1" y="63.1" font-size="12" text-anchor="end" fill="#222" stroke="#222" stroke-width="0.3">80</text>
<line x1="563.1" y1="31.0" x2="567.1" y2="31.0" stroke="#222" stroke-width="1.2"/>
<text x="561.1" y="35.3" font-size="12" text-anchor="end" fill="#222" stroke="#222" stroke-width="0.3">100</text>
<line x1="567.1" y1="169.9" x2="764.0" y2="169.9" stroke="#222" stroke-width="1.5"/>
<line x1="567.3" y1="169.9" x2="567.3" y2="173.9" stroke="#222" stroke-width="1.2"/>
<line x1="575.7" y1="169.9" x2="575.7" y2="172.1" stroke="#222" stroke-width="0.9"/>
<line x1="580.7" y1="169.9" x2="580.7" y2="172.1" stroke="#222" stroke-width="0.9"/>
<line x1="584.2" y1="169.9" x2="584.2" y2="172.1" stroke="#222" stroke-width="0.9"/>
<line x1="586.9" y1="169.9" x2="586.9" y2="172.1" stroke="#222" stroke-width="0.9"/>
<line x1="589.1" y1="169.9" x2="589.1" y2="172.1" stroke="#222" stroke-width="0.9"/>
<line x1="591.0" y1="169.9" x2="591.0" y2="172.1" stroke="#222" stroke-width="0.9"/>
<line x1="592.6" y1="169.9" x2="592.6" y2="172.1" stroke="#222" stroke-width="0.9"/>
<line x1="594.1" y1="169.9" x2="594.1" y2="172.1" stroke="#222" stroke-width="0.9"/>
<line x1="595.4" y1="169.9" x2="595.4" y2="173.9" stroke="#222" stroke-width="1.2"/>
<line x1="603.8" y1="169.9" x2="603.8" y2="172.1" stroke="#222" stroke-width="0.9"/>
<line x1="608.8" y1="169.9" x2="608.8" y2="172.1" stroke="#222" stroke-width="0.9"/>
<line x1="612.3" y1="169.9" x2="612.3" y2="172.1" stroke="#222" stroke-width="0.9"/>
<line x1="615.0" y1="169.9" x2="615.0" y2="172.1" stroke="#222" stroke-width="0.9"/>
<line x1="617.2" y1="169.9" x2="617.2" y2="172.1" stroke="#222" stroke-width="0.9"/>
<line x1="619.1" y1="169.9" x2="619.1" y2="172.1" stroke="#222" stroke-width="0.9"/>
<line x1="620.7" y1="169.9" x2="620.7" y2="172.1" stroke="#222" stroke-width="0.9"/>
<line x1="622.2" y1="169.9" x2="622.2" y2="172.1" stroke="#222" stroke-width="0.9"/>
<line x1="623.4" y1="169.9" x2="623.4" y2="173.9" stroke="#222" stroke-width="1.2"/>
<line x1="631.9" y1="169.9" x2="631.9" y2="172.1" stroke="#222" stroke-width="0.9"/>
<line x1="636.8" y1="169.9" x2="636.8" y2="172.1" stroke="#222" stroke-width="0.9"/>
<line x1="640.3" y1="169.9" x2="640.3" y2="172.1" stroke="#222" stroke-width="0.9"/>
<line x1="643.1" y1="169.9" x2="643.1" y2="172.1" stroke="#222" stroke-width="0.9"/>
<line x1="645.3" y1="169.9" x2="645.3" y2="172.1" stroke="#222" stroke-width="0.9"/>
<line x1="647.2" y1="169.9" x2="647.2" y2="172.1" stroke="#222" stroke-width="0.9"/>
<line x1="648.8" y1="169.9" x2="648.8" y2="172.1" stroke="#222" stroke-width="0.9"/>
<line x1="650.2" y1="169.9" x2="650.2" y2="172.1" stroke="#222" stroke-width="0.9"/>
<line x1="651.5" y1="169.9" x2="651.5" y2="173.9" stroke="#222" stroke-width="1.2"/>
<line x1="660.0" y1="169.9" x2="660.0" y2="172.1" stroke="#222" stroke-width="0.9"/>
<line x1="664.9" y1="169.9" x2="664.9" y2="172.1" stroke="#222" stroke-width="0.9"/>
<line x1="668.4" y1="169.9" x2="668.4" y2="172.1" stroke="#222" stroke-width="0.9"/>
<line x1="671.1" y1="169.9" x2="671.1" y2="172.1" stroke="#222" stroke-width="0.9"/>
<line x1="673.4" y1="169.9" x2="673.4" y2="172.1" stroke="#222" stroke-width="0.9"/>
<line x1="675.2" y1="169.9" x2="675.2" y2="172.1" stroke="#222" stroke-width="0.9"/>
<line x1="676.9" y1="169.9" x2="676.9" y2="172.1" stroke="#222" stroke-width="0.9"/>
<line x1="678.3" y1="169.9" x2="678.3" y2="172.1" stroke="#222" stroke-width="0.9"/>
<line x1="679.6" y1="169.9" x2="679.6" y2="173.9" stroke="#222" stroke-width="1.2"/>
<line x1="688.0" y1="169.9" x2="688.0" y2="172.1" stroke="#222" stroke-width="0.9"/>
<line x1="693.0" y1="169.9" x2="693.0" y2="172.1" stroke="#222" stroke-width="0.9"/>
<line x1="696.5" y1="169.9" x2="696.5" y2="172.1" stroke="#222" stroke-width="0.9"/>
<line x1="699.2" y1="169.9" x2="699.2" y2="172.1" stroke="#222" stroke-width="0.9"/>
<line x1="701.4" y1="169.9" x2="701.4" y2="172.1" stroke="#222" stroke-width="0.9"/>
<line x1="703.3" y1="169.9" x2="703.3" y2="172.1" stroke="#222" stroke-width="0.9"/>
<line x1="704.9" y1="169.9" x2="704.9" y2="172.1" stroke="#222" stroke-width="0.9"/>
<line x1="706.4" y1="169.9" x2="706.4" y2="172.1" stroke="#222" stroke-width="0.9"/>
<line x1="707.6" y1="169.9" x2="707.6" y2="173.9" stroke="#222" stroke-width="1.2"/>
<line x1="716.1" y1="169.9" x2="716.1" y2="172.1" stroke="#222" stroke-width="0.9"/>
<line x1="721.0" y1="169.9" x2="721.0" y2="172.1" stroke="#222" stroke-width="0.9"/>
<line x1="724.5" y1="169.9" x2="724.5" y2="172.1" stroke="#222" stroke-width="0.9"/>
<line x1="727.3" y1="169.9" x2="727.3" y2="172.1" stroke="#222" stroke-width="0.9"/>
<line x1="729.5" y1="169.9" x2="729.5" y2="172.1" stroke="#222" stroke-width="0.9"/>
<line x1="731.4" y1="169.9" x2="731.4" y2="172.1" stroke="#222" stroke-width="0.9"/>
<line x1="733.0" y1="169.9" x2="733.0" y2="172.1" stroke="#222" stroke-width="0.9"/>
<line x1="734.4" y1="169.9" x2="734.4" y2="172.1" stroke="#222" stroke-width="0.9"/>
<line x1="735.7" y1="169.9" x2="735.7" y2="173.9" stroke="#222" stroke-width="1.2"/>
<line x1="744.2" y1="169.9" x2="744.2" y2="172.1" stroke="#222" stroke-width="0.9"/>
<line x1="749.1" y1="169.9" x2="749.1" y2="172.1" stroke="#222" stroke-width="0.9"/>
<line x1="752.6" y1="169.9" x2="752.6" y2="172.1" stroke="#222" stroke-width="0.9"/>
<line x1="755.3" y1="169.9" x2="755.3" y2="172.1" stroke="#222" stroke-width="0.9"/>
<line x1="757.6" y1="169.9" x2="757.6" y2="172.1" stroke="#222" stroke-width="0.9"/>
<line x1="759.4" y1="169.9" x2="759.4" y2="172.1" stroke="#222" stroke-width="0.9"/>
<line x1="761.1" y1="169.9" x2="761.1" y2="172.1" stroke="#222" stroke-width="0.9"/>
<line x1="762.5" y1="169.9" x2="762.5" y2="172.1" stroke="#222" stroke-width="0.9"/>
<line x1="763.8" y1="169.9" x2="763.8" y2="173.9" stroke="#222" stroke-width="1.2"/>
<text x="557.8" y="188.9" font-size="12" text-anchor="middle" fill="#222" stroke="#222" stroke-width="0.3">0.0001</text>
<text x="597.2" y="188.9" font-size="12" text-anchor="middle" fill="#222" stroke="#222" stroke-width="0.3">0.001</text>
<text x="627.9" y="188.9" font-size="12" text-anchor="middle" fill="#222" stroke="#222" stroke-width="0.3">0.01</text>
<text x="652.6" y="188.9" font-size="12" text-anchor="middle" fill="#222" stroke="#222" stroke-width="0.3">0.1</text>
<text x="680.0" y="188.9" font-size="12" text-anchor="middle" fill="#222" stroke="#222" stroke-width="0.3">1</text>
<text x="709.2" y="188.9" font-size="12" text-anchor="middle" fill="#222" stroke="#222" stroke-width="0.3">10</text>
<text x="738.9" y="188.9" font-size="12" text-anchor="middle" fill="#222" stroke="#222" stroke-width="0.3">100</text>
<text x="771.3" y="188.9" font-size="12" text-anchor="middle" fill="#222" stroke="#222" stroke-width="0.3">1000</text>
<text x="670.8" y="201.5" font-size="12.5" text-anchor="middle" fill="#222" stroke="#222" stroke-width="0.3" textLength="58" lengthAdjust="spacingAndGlyphs">Oxaliplatin</text>
<text x="681.0" y="215.5" font-size="12.5" text-anchor="middle" fill="#222" stroke="#222" stroke-width="0.3" textLength="130.5" lengthAdjust="spacingAndGlyphs">log(Concentration). µM</text>
<text x="0.0" y="0.0" font-size="12" text-anchor="middle" fill="#222" stroke="#222" stroke-width="0.3" textLength="97" lengthAdjust="spacingAndGlyphs" transform="translate(540.2,95.5) rotate(-90)">Inhibition rate(%)</text>
<line x1="567.1" y1="100.5" x2="767.0" y2="100.5" stroke="#111" stroke-width="1.5" stroke-dasharray="4.2,3"/>
<path d="M595.4 168.2L596.6 168.2L597.8 168.2L599.1 168.2L600.3 168.2L601.6 168.2L602.8 168.2L604.0 168.2L605.3 168.2L606.5 168.1L607.8 168.1L609.0 168.1L610.2 168.1L611.5 168.1L612.7 168.1L614.0 168.1L615.2 168.0L616.4 168.0L617.7 168.0L618.9 168.0L620.2 167.9L621.4 167.9L622.6 167.9L623.9 167.9L625.1 167.8L626.4 167.8L627.6 167.7L628.8 167.7L630.1 167.7L631.3 167.6L632.6 167.6L633.8 167.5L635.0 167.4L636.3 167.4L637.5 167.3L638.8 167.2L640.0 167.1L641.2 167.1L642.5 167.0L643.7 166.9L645.0 166.8L646.2 166.6L647.4 166.5L648.7 166.4L649.9 166.2L651.2 166.1L652.4 165.9L653.6 165.7L654.9 165.6L656.1 165.4L657.4 165.1L658.6 164.9L659.8 164.7L661.1 164.4L662.3 164.1L663.6 163.8L664.8 163.5L666.0 163.1L667.3 162.7L668.5 162.3L669.8 161.9L671.0 161.4L672.2 160.9L673.5 160.4L674.7 159.8L676.0 159.2L677.2 158.6L678.4 157.9L679.7 157.2L680.9 156.4L682.2 155.6L683.4 154.7L684.6 153.7L685.9 152.7L687.1 151.7L688.4 150.6L689.6 149.4L690.8 148.1L692.1 146.8L693.3 145.4L694.6 143.9L695.8 142.3L697.0 140.7L698.3 139.0L699.5 137.2L700.7 135.3L702.0 133.3L703.2 131.2L704.5 129.1L705.7 126.8L706.9 124.5L708.2 122.0L709.4 119.5L710.7 116.9L711.9 114.3L713.1 111.5L714.4 108.7L715.6 105.8L716.9 102.9L718.1 99.9L719.3 96.8L720.6 93.7L721.8 90.6L723.1 87.5L724.3 84.3L725.5 81.1L726.8 77.9L728.0 74.7L729.3 71.6L730.5 68.4L731.7 65.3L733.0 62.2L734.2 59.2L735.5 56.2L736.7 53.3L737.9 50.5L739.2 47.7L740.4 45.0L741.7 42.3L742.9 39.8L744.1 37.3" stroke="#1e1ec8" stroke-width="1.8" fill="none"/>
<path d="M595.4 167.6L596.6 167.6L597.8 167.6L599.1 167.6L600.3 167.6L601.6 167.6L602.8 167.6L604.0 167.6L605.3 167.6L606.5 167.5L607.8 167.5L609.0 167.5L610.2 167.5L611.5 167.5L612.7 167.4L614.0 167.4L615.2 167.4L616.4 167.4L617.7 167.3L618.9 167.3L620.2 167.3L621.4 167.2L622.6 167.2L623.9 167.1L625.1 167.1L626.4 167.0L627.6 167.0L628.8 166.9L630.1 166.9L631.3 166.8L632.6 166.7L633.8 166.6L635.0 166.6L636.3 166.5L637.5 166.4L638.8 166.2L640.0 166.1L641.2 166.0L642.5 165.9L643.7 165.7L645.0 165.6L646.2 165.4L647.4 165.2L648.7 165.0L649.9 164.8L651.2 164.5L652.4 164.3L653.6 164.0L654.9 163.7L656.1 163.4L657.4 163.1L658.6 162.7L659.8 162.3L661.1 161.9L662.3 161.4L663.6 160.9L664.8 160.4L666.0 159.9L667.3 159.3L668.5 158.6L669.8 157.9L671.0 157.2L672.2 156.4L673.5 155.6L674.7 154.7L676.0 153.7L677.2 152.7L678.4 151.6L679.7 150.4L680.9 149.2L682.2 147.9L683.4 146.5L684.6 145.1L685.9 143.5L687.1 141.9L688.4 140.2L689.6 138.4L690.8 136.5L692.1 134.5L693.3 132.5L694.6 130.3L695.8 128.1L697.0 125.8L698.3 123.4L699.5 120.9L700.7 118.4L702.0 115.8L703.2 113.1L704.5 110.4L705.7 107.6L706.9 104.7L708.2 101.9L709.4 99.0L710.7 96.1L711.9 93.1L713.1 90.2L714.4 87.3L715.6 84.4L716.9 81.5L718.1 78.6L719.3 75.8L720.6 73.1L721.8 70.4L723.1 67.7L724.3 65.1L725.5 62.6L726.8 60.2L728.0 57.8L729.3 55.6L730.5 53.4L731.7 51.3L733.0 49.3L734.2 47.3L735.5 45.5L736.7 43.8L737.9 42.1L739.2 40.5L740.4 39.0L741.7 37.6L742.9 36.3L744.1 35.0" stroke="#f21d1d" stroke-width="1.8" fill="none"/>
<circle cx="595.4" cy="168.5" r="2.8" fill="#1e1ec8"/>
<circle cx="623.4" cy="169.1" r="2.8" fill="#1e1ec8"/>
<line x1="651.5" y1="160.2" x2="651.5" y2="164.3" stroke="#1e1ec8" stroke-width="1.2"/>
<line x1="649.0" y1="160.2" x2="654.0" y2="160.2" stroke="#1e1ec8" stroke-width="1.2"/>
<line x1="649.0" y1="164.3" x2="654.0" y2="164.3" stroke="#1e1ec8" stroke-width="1.2"/>
<circle cx="651.5" cy="162.3" r="2.8" fill="#1e1ec8"/>
<line x1="679.6" y1="153.9" x2="679.6" y2="160.9" stroke="#1e1ec8" stroke-width="1.2"/>
<line x1="677.1" y1="153.9" x2="682.1" y2="153.9" stroke="#1e1ec8" stroke-width="1.2"/>
<line x1="677.1" y1="160.9" x2="682.1" y2="160.9" stroke="#1e1ec8" stroke-width="1.2"/>
<circle cx="679.6" cy="157.4" r="2.8" fill="#1e1ec8"/>
<line x1="688.0" y1="149.1" x2="688.0" y2="154.6" stroke="#1e1ec8" stroke-width="1.2"/>
<line x1="685.5" y1="149.1" x2="690.5" y2="149.1" stroke="#1e1ec8" stroke-width="1.2"/>
<line x1="685.5" y1="154.6" x2="690.5" y2="154.6" stroke="#1e1ec8" stroke-width="1.2"/>
<circle cx="688.0" cy="151.8" r="2.8" fill="#1e1ec8"/>
<circle cx="696.5" cy="129.6" r="2.8" fill="#1e1ec8"/>
<circle cx="704.9" cy="122.7" r="2.8" fill="#1e1ec8"/>
<circle cx="707.6" cy="113.0" r="2.8" fill="#1e1ec8"/>
<circle cx="716.1" cy="104.6" r="2.8" fill="#1e1ec8"/>
<line x1="724.5" y1="89.3" x2="724.5" y2="97.7" stroke="#1e1ec8" stroke-width="1.2"/>
<line x1="722.0" y1="89.3" x2="727.0" y2="89.3" stroke="#1e1ec8" stroke-width="1.2"/>
<line x1="722.0" y1="97.7" x2="727.0" y2="97.7" stroke="#1e1ec8" stroke-width="1.2"/>
<circle cx="724.5" cy="93.5" r="2.8" fill="#1e1ec8"/>
<circle cx="735.7" cy="47.7" r="2.8" fill="#1e1ec8"/>
<circle cx="744.2" cy="38.6" r="2.8" fill="#1e1ec8"/>
<path d="M595.4 166.9L599.1 173.4L591.6 173.4Z" fill="#f21d1d"/>
<path d="M651.5 156.5L655.2 163.0L647.8 163.0Z" fill="#f21d1d"/>
<line x1="679.6" y1="147.0" x2="679.6" y2="151.1" stroke="#f21d1d" stroke-width="1.2"/>
<line x1="677.1" y1="147.0" x2="682.1" y2="147.0" stroke="#f21d1d" stroke-width="1.2"/>
<line x1="677.1" y1="151.1" x2="682.1" y2="151.1" stroke="#f21d1d" stroke-width="1.2"/>
<path d="M679.6 145.3L683.3 151.9L675.9 151.9Z" fill="#f21d1d"/>
<line x1="688.0" y1="132.4" x2="688.0" y2="138.0" stroke="#f21d1d" stroke-width="1.2"/>
<line x1="685.5" y1="132.4" x2="690.5" y2="132.4" stroke="#f21d1d" stroke-width="1.2"/>
<line x1="685.5" y1="138.0" x2="690.5" y2="138.0" stroke="#f21d1d" stroke-width="1.2"/>
<path d="M688.0 131.5L691.7 138.0L684.3 138.0Z" fill="#f21d1d"/>
<path d="M696.5 116.9L700.2 123.4L692.8 123.4Z" fill="#f21d1d"/>
<line x1="704.9" y1="105.3" x2="704.9" y2="109.5" stroke="#f21d1d" stroke-width="1.2"/>
<line x1="702.4" y1="105.3" x2="707.4" y2="105.3" stroke="#f21d1d" stroke-width="1.2"/>
<line x1="702.4" y1="109.5" x2="707.4" y2="109.5" stroke="#f21d1d" stroke-width="1.2"/>
<path d="M704.9 103.7L708.6 110.2L701.2 110.2Z" fill="#f21d1d"/>
<line x1="707.6" y1="97.0" x2="707.6" y2="101.1" stroke="#f21d1d" stroke-width="1.2"/>
<line x1="705.1" y1="97.0" x2="710.1" y2="97.0" stroke="#f21d1d" stroke-width="1.2"/>
<line x1="705.1" y1="101.1" x2="710.1" y2="101.1" stroke="#f21d1d" stroke-width="1.2"/>
<path d="M707.6 95.3L711.4 101.9L703.9 101.9Z" fill="#f21d1d"/>
<path d="M716.1 78.7L719.8 85.2L712.4 85.2Z" fill="#f21d1d"/>
<line x1="724.5" y1="57.4" x2="724.5" y2="62.9" stroke="#f21d1d" stroke-width="1.2"/>
<line x1="722.0" y1="57.4" x2="727.0" y2="57.4" stroke="#f21d1d" stroke-width="1.2"/>
<line x1="722.0" y1="62.9" x2="727.0" y2="62.9" stroke="#f21d1d" stroke-width="1.2"/>
<path d="M724.5 56.4L728.3 63.0L720.8 63.0Z" fill="#f21d1d"/>
<path d="M744.2 32.8L747.9 39.3L740.4 39.3Z" fill="#f21d1d"/>
<line x1="573.1" y1="45.8" x2="587.1" y2="45.8" stroke="#1e1ec8" stroke-width="1.8"/>
<circle cx="580.1" cy="45.8" r="2.6" fill="#1e1ec8"/>
<text x="590.1" y="51.4" font-size="12.8" text-anchor="start" fill="#222" stroke="#222" stroke-width="0.3" textLength="85.3" lengthAdjust="spacingAndGlyphs">R+Oxa+DMSO</text>
<line x1="573.1" y1="64.8" x2="587.1" y2="64.8" stroke="#f21d1d" stroke-width="1.8"/>
<path d="M580.1 61.1L583.8 67.6L576.4 67.6Z" fill="#f21d1d"/>
<text x="590.1" y="70.4" font-size="12.8" text-anchor="start" fill="#222" stroke="#222" stroke-width="0.3" textLength="68.3" lengthAdjust="spacingAndGlyphs">R+Oxa+Pyr</text>
<text x="441.0" y="245.0" font-size="12.3" text-anchor="middle" fill="#222" stroke="#222" stroke-width="0.3">SW480</text>
<line x1="346.7" y1="251.7" x2="346.7" y2="359.8" stroke="#222" stroke-width="1.5"/>
<line x1="342.7" y1="359.2" x2="346.7" y2="359.2" stroke="#222" stroke-width="1.2"/>
<text x="341.7" y="363.5" font-size="12.5" text-anchor="end" fill="#222" stroke="#222" stroke-width="0.3">0</text>
<line x1="342.7" y1="332.3" x2="346.7" y2="332.3" stroke="#222" stroke-width="1.2"/>
<text x="341.7" y="336.6" font-size="12.5" text-anchor="end" fill="#222" stroke="#222" stroke-width="0.3">20</text>
<line x1="342.7" y1="305.4" x2="346.7" y2="305.4" stroke="#222" stroke-width="1.2"/>
<text x="341.7" y="309.7" font-size="12.5" text-anchor="end" fill="#222" stroke="#222" stroke-width="0.3">40</text>
<line x1="342.7" y1="278.6" x2="346.7" y2="278.6" stroke="#222" stroke-width="1.2"/>
<text x="341.7" y="282.9" font-size="12.5" text-anchor="end" fill="#222" stroke="#222" stroke-width="0.3">60</text>
<line x1="342.7" y1="251.7" x2="346.7" y2="251.7" stroke="#222" stroke-width="1.2"/>
<text x="341.7" y="256.0" font-size="12.5" text-anchor="end" fill="#222" stroke="#222" stroke-width="0.3">80</text>
<line x1="346.7" y1="359.2" x2="528.0" y2="359.2" stroke="#222" stroke-width="1.5"/>
<path d="M375.0 359.2V282.3H428.3V359.2" stroke="#1e1ec8" stroke-width="2.2" fill="none"/>
<line x1="401.6" y1="359.2" x2="401.6" y2="363.2" stroke="#222" stroke-width="1.2"/>
<line x1="401.6" y1="268.5" x2="401.6" y2="296.4" stroke="#1e1ec8" stroke-width="1.3"/>
<line x1="389.9" y1="268.5" x2="413.3" y2="268.5" stroke="#1e1ec8" stroke-width="1.3"/>
<line x1="389.9" y1="296.4" x2="413.3" y2="296.4" stroke="#1e1ec8" stroke-width="1.3"/>
<circle cx="401.6" cy="266.7" r="2.8" fill="#1e1ec8"/>
<circle cx="401.6" cy="284.3" r="2.8" fill="#1e1ec8"/>
<circle cx="401.6" cy="294.7" r="2.8" fill="#1e1ec8"/>
<path d="M455.0 359.2V342.0H510.0V359.2" stroke="#f21d1d" stroke-width="2.2" fill="none"/>
<line x1="482.5" y1="359.2" x2="482.5" y2="363.2" stroke="#222" stroke-width="1.2"/>
<line x1="482.5" y1="338.4" x2="482.5" y2="345.8" stroke="#f21d1d" stroke-width="1.3"/>
<line x1="468.5" y1="338.4" x2="496.5" y2="338.4" stroke="#f21d1d" stroke-width="1.3"/>
<line x1="468.5" y1="345.8" x2="496.5" y2="345.8" stroke="#f21d1d" stroke-width="1.3"/>
<circle cx="482.5" cy="338.6" r="2.8" fill="#f21d1d"/>
<circle cx="487.0" cy="341.3" r="2.8" fill="#f21d1d"/>
<circle cx="479.0" cy="345.8" r="2.8" fill="#f21d1d"/>
<path d="M401.7 263.6V256.6H481.7V263.6" stroke="#111" stroke-width="1.5" fill="none"/>
<text x="441.7" y="258.3" font-size="10.2" text-anchor="middle" fill="#222" stroke="#222" stroke-width="0.3">**</text>
<text x="0.0" y="0.0" font-size="12.5" text-anchor="middle" fill="#222" stroke="#222" stroke-width="0.3" textLength="60" lengthAdjust="spacingAndGlyphs" transform="translate(325.0,308.0) rotate(-90)">IC50 (µM)</text>
<text x="0.0" y="0.0" font-size="12.8" text-anchor="middle" fill="#222" stroke="#222" stroke-width="0.3" textLength="84" lengthAdjust="spacingAndGlyphs" transform="translate(388.8,393.5) rotate(-26)">R+Oxa+DMSO</text>
<text x="0.0" y="0.0" font-size="12.8" text-anchor="middle" fill="#222" stroke="#222" stroke-width="0.3" textLength="64" lengthAdjust="spacingAndGlyphs" transform="translate(467.0,392.5) rotate(-26)">R+Oxa+Pyr</text>
<text x="700.7" y="234.3" font-size="12.3" text-anchor="middle" fill="#222" stroke="#222" stroke-width="0.3">HCT116</text>
<line x1="614.3" y1="236.7" x2="614.3" y2="356.1" stroke="#222" stroke-width="1.5"/>
<line x1="610.3" y1="355.5" x2="614.3" y2="355.5" stroke="#222" stroke-width="1.2"/>
<text x="609.3" y="359.8" font-size="12.5" text-anchor="end" fill="#222" stroke="#222" stroke-width="0.3">0</text>
<line x1="610.3" y1="331.7" x2="614.3" y2="331.7" stroke="#222" stroke-width="1.2"/>
<text x="609.3" y="336.0" font-size="12.5" text-anchor="end" fill="#222" stroke="#222" stroke-width="0.3">20</text>
<line x1="610.3" y1="308.0" x2="614.3" y2="308.0" stroke="#222" stroke-width="1.2"/>
<text x="609.3" y="312.3" font-size="12.5" text-anchor="end" fill="#222" stroke="#222" stroke-width="0.3">40</text>
<line x1="610.3" y1="284.2" x2="614.3" y2="284.2" stroke="#222" stroke-width="1.2"/>
<text x="609.3" y="288.5" font-size="12.5" text-anchor="end" fill="#222" stroke="#222" stroke-width="0.3">60</text>
<line x1="610.3" y1="260.5" x2="614.3" y2="260.5" stroke="#222" stroke-width="1.2"/>
<text x="609.3" y="264.8" font-size="12.5" text-anchor="end" fill="#222" stroke="#222" stroke-width="0.3">80</text>
<line x1="610.3" y1="236.7" x2="614.3" y2="236.7" stroke="#222" stroke-width="1.2"/>
<text x="609.3" y="241.0" font-size="12.5" text-anchor="end" fill="#222" stroke="#222" stroke-width="0.3">100</text>
<line x1="614.3" y1="355.5" x2="792.6" y2="355.5" stroke="#222" stroke-width="1.5"/>
<path d="M640.1 355.5V271.2H690.3V355.5" stroke="#1e1ec8" stroke-width="2.2" fill="none"/>
<line x1="665.2" y1="355.5" x2="665.2" y2="359.5" stroke="#222" stroke-width="1.2"/>
<line x1="665.2" y1="263.2" x2="665.2" y2="279.0" stroke="#1e1ec8" stroke-width="1.3"/>
<line x1="653.5" y1="263.2" x2="676.9" y2="263.2" stroke="#1e1ec8" stroke-width="1.3"/>
<line x1="653.5" y1="279.0" x2="676.9" y2="279.0" stroke="#1e1ec8" stroke-width="1.3"/>
<circle cx="661.9" cy="264.6" r="2.8" fill="#1e1ec8"/>
<circle cx="668.5" cy="270.0" r="2.8" fill="#1e1ec8"/>
<circle cx="665.2" cy="279.9" r="2.8" fill="#1e1ec8"/>
<path d="M716.1 355.5V335.3H767.0V355.5" stroke="#f21d1d" stroke-width="2.2" fill="none"/>
<line x1="741.5" y1="355.5" x2="741.5" y2="359.5" stroke="#222" stroke-width="1.2"/>
<line x1="741.5" y1="330.0" x2="741.5" y2="340.1" stroke="#f21d1d" stroke-width="1.3"/>
<line x1="727.5" y1="330.0" x2="755.5" y2="330.0" stroke="#f21d1d" stroke-width="1.3"/>
<line x1="727.5" y1="340.1" x2="755.5" y2="340.1" stroke="#f21d1d" stroke-width="1.3"/>
<circle cx="741.5" cy="331.1" r="2.8" fill="#f21d1d"/>
<circle cx="746.0" cy="335.3" r="2.8" fill="#f21d1d"/>
<circle cx="738.5" cy="340.1" r="2.8" fill="#f21d1d"/>
<path d="M663.4 254.6V247.6H740.6V254.6" stroke="#111" stroke-width="1.5" fill="none"/>
<text x="704.1" y="249.3" font-size="10.2" text-anchor="middle" fill="#222" stroke="#222" stroke-width="0.3">***</text>
<text x="0.0" y="0.0" font-size="12.5" text-anchor="middle" fill="#222" stroke="#222" stroke-width="0.3" textLength="60" lengthAdjust="spacingAndGlyphs" transform="translate(595.0,295.0) rotate(-90)">IC50 (µM)</text>
<text x="0.0" y="0.0" font-size="12.8" text-anchor="middle" fill="#222" stroke="#222" stroke-width="0.3" textLength="84" lengthAdjust="spacingAndGlyphs" transform="translate(651.0,390.5) rotate(-26)">R+Oxa+DMSO</text>
<text x="0.0" y="0.0" font-size="12.8" text-anchor="middle" fill="#222" stroke="#222" stroke-width="0.3" textLength="63.5" lengthAdjust="spacingAndGlyphs" transform="translate(728.5,390.5) rotate(-26)">R+Oxa+Pyr</text>
<text x="21.3" y="338.7" font-size="17" text-anchor="start" fill="#111" stroke="#111" stroke-width="0.3" font-weight="bold">D</text>
<text x="108.9" y="343.4" font-size="12" text-anchor="middle" fill="#222" stroke="#222" stroke-width="0.3" textLength="41.4" lengthAdjust="spacingAndGlyphs">SW480</text>
<text x="253.0" y="343.4" font-size="12" text-anchor="middle" fill="#222" stroke="#222" stroke-width="0.3" textLength="47" lengthAdjust="spacingAndGlyphs">HCT116</text>
<defs><filter id="fblur" x="-5%" y="-5%" width="110%" height="110%"><feGaussianBlur stdDeviation="0.3"/></filter></defs>
<rect x="50.6" y="350.2" width="124" height="104.8" fill="#fff" stroke="#b0b0b0" stroke-width="1"/>
<g filter="url(#fblur)">
<path d="M111.6 362.2h1.1v1.1h-1.1zM112.6 365.2h1.1v1.1h-1.1zM118.6 365.2h1.1v1.1h-1.1zM132.6 365.2h1.1v1.1h-1.1zM137.6 366.2h1.1v1.1h-1.1zM134.6 367.2h1.1v1.1h-1.1zM140.6 367.2h1.1v1.1h-1.1zM148.6 367.2h1.1v1.1h-1.1zM112.6 368.2h1.1v1.1h-1.1zM115.6 368.2h1.1v1.1h-1.1zM137.6 368.2h1.1v1.1h-1.1zM109.6 369.2h1.1v1.1h-1.1zM125.6 369.2h1.1v1.1h-1.1zM132.6 369.2h1.1v1.1h-1.1zM139.6 369.2h1.1v1.1h-1.1zM129.6 370.2h1.1v1.1h-1.1zM142.6 370.2h1.1v1.1h-1.1zM148.6 370.2h1.1v1.1h-1.1zM120.6 371.2h1.1v1.1h-1.1zM129.6 371.2h1.1v1.1h-1.1zM138.6 371.2h1.1v1.1h-1.1zM139.6 371.2h1.1v1.1h-1.1zM110.6 372.2h1.1v1.1h-1.1zM111.6 372.2h1.1v1.1h-1.1zM137.6 372.2h1.1v1.1h-1.1zM145.6 372.2h1.1v1.1h-1.1zM121.6 373.2h1.1v1.1h-1.1zM135.6 373.2h1.1v1.1h-1.1zM147.6 373.2h1.1v1.1h-1.1zM150.6 373.2h1.1v1.1h-1.1zM137.6 374.2h1.1v1.1h-1.1zM109.6 375.2h1.1v1.1h-1.1zM119.6 375.2h1.1v1.1h-1.1zM135.6 375.2h1.1v1.1h-1.1zM138.6 375.2h1.1v1.1h-1.1zM130.6 376.2h1.1v1.1h-1.1zM131.6 376.2h1.1v1.1h-1.1zM114.6 377.2h1.1v1.1h-1.1zM113.6 380.2h1.1v1.1h-1.1zM119.6 380.2h1.1v1.1h-1.1zM118.6 382.2h1.1v1.1h-1.1zM116.6 384.2h1.1v1.1h-1.1zM157.6 385.2h1.1v1.1h-1.1zM113.6 386.2h1.1v1.1h-1.1zM112.6 387.2h1.1v1.1h-1.1zM115.6 387.2h1.1v1.1h-1.1zM110.6 388.2h1.1v1.1h-1.1zM122.6 388.2h1.1v1.1h-1.1zM108.6 389.2h1.1v1.1h-1.1zM113.6 389.2h1.1v1.1h-1.1zM111.6 390.2h1.1v1.1h-1.1zM116.6 392.2h1.1v1.1h-1.1zM126.6 393.2h1.1v1.1h-1.1zM129.6 393.2h1.1v1.1h-1.1zM124.6 394.2h1.1v1.1h-1.1zM105.6 395.2h1.1v1.1h-1.1zM118.6 395.2h1.1v1.1h-1.1zM122.6 395.2h1.1v1.1h-1.1zM125.6 395.2h1.1v1.1h-1.1zM127.6 395.2h1.1v1.1h-1.1zM116.6 396.2h1.1v1.1h-1.1zM120.6 396.2h1.1v1.1h-1.1zM114.6 397.2h1.1v1.1h-1.1zM126.6 397.2h1.1v1.1h-1.1zM112.6 399.2h1.1v1.1h-1.1zM117.6 400.2h1.1v1.1h-1.1zM110.6 401.2h1.1v1.1h-1.1zM129.6 401.2h1.1v1.1h-1.1zM122.6 405.2h1.1v1.1h-1.1zM122.6 407.2h1.1v1.1h-1.1zM106.6 408.2h1.1v1.1h-1.1zM157.6 410.2h1.1v1.1h-1.1zM103.6 411.2h1.1v1.1h-1.1zM98.6 412.2h1.1v1.1h-1.1zM118.6 412.2h1.1v1.1h-1.1zM103.6 413.2h1.1v1.1h-1.1zM109.6 413.2h1.1v1.1h-1.1zM113.6 415.2h1.1v1.1h-1.1zM131.6 417.2h1.1v1.1h-1.1zM97.6 418.2h1.1v1.1h-1.1zM95.6 419.2h1.1v1.1h-1.1zM98.6 420.2h1.1v1.1h-1.1zM99.6 420.2h1.1v1.1h-1.1zM102.6 420.2h1.1v1.1h-1.1zM127.6 421.2h1.1v1.1h-1.1zM99.6 422.2h1.1v1.1h-1.1zM90.6 423.2h1.1v1.1h-1.1z" fill="#323cff" opacity="0.8"/>
<path d="M134.6 368.2h1.1v1.1h-1.1zM135.6 368.2h1.1v1.1h-1.1zM136.6 368.2h1.1v1.1h-1.1zM135.6 369.2h1.1v1.1h-1.1zM135.6 370.2h1.1v1.1h-1.1zM133.6 371.2h1.1v1.1h-1.1zM135.6 371.2h1.1v1.1h-1.1zM136.6 371.2h1.1v1.1h-1.1zM131.6 372.2h1.1v1.1h-1.1zM133.6 372.2h1.1v1.1h-1.1zM132.6 373.2h1.1v1.1h-1.1zM133.6 373.2h1.1v1.1h-1.1zM132.6 374.2h1.1v1.1h-1.1zM131.6 375.2h1.1v1.1h-1.1zM115.6 385.2h1.1v1.1h-1.1zM114.6 386.2h1.1v1.1h-1.1zM115.6 386.2h1.1v1.1h-1.1zM117.6 396.2h1.1v1.1h-1.1zM118.6 397.2h1.1v1.1h-1.1zM119.6 397.2h1.1v1.1h-1.1zM122.6 397.2h1.1v1.1h-1.1zM116.6 398.2h1.1v1.1h-1.1zM118.6 398.2h1.1v1.1h-1.1zM120.6 398.2h1.1v1.1h-1.1zM123.6 398.2h1.1v1.1h-1.1zM124.6 398.2h1.1v1.1h-1.1zM120.6 399.2h1.1v1.1h-1.1zM121.6 399.2h1.1v1.1h-1.1zM123.6 399.2h1.1v1.1h-1.1zM121.6 400.2h1.1v1.1h-1.1zM123.6 400.2h1.1v1.1h-1.1zM113.6 401.2h1.1v1.1h-1.1zM121.6 401.2h1.1v1.1h-1.1zM112.6 402.2h1.1v1.1h-1.1zM122.6 402.2h1.1v1.1h-1.1zM125.6 402.2h1.1v1.1h-1.1zM126.6 402.2h1.1v1.1h-1.1zM107.6 403.2h1.1v1.1h-1.1zM126.6 403.2h1.1v1.1h-1.1zM107.6 404.2h1.1v1.1h-1.1zM108.6 404.2h1.1v1.1h-1.1zM107.6 405.2h1.1v1.1h-1.1zM108.6 405.2h1.1v1.1h-1.1zM117.6 405.2h1.1v1.1h-1.1zM120.6 405.2h1.1v1.1h-1.1zM105.6 406.2h1.1v1.1h-1.1zM121.6 406.2h1.1v1.1h-1.1zM104.6 407.2h1.1v1.1h-1.1zM105.6 407.2h1.1v1.1h-1.1zM120.6 407.2h1.1v1.1h-1.1zM104.6 408.2h1.1v1.1h-1.1zM117.6 408.2h1.1v1.1h-1.1zM118.6 408.2h1.1v1.1h-1.1zM119.6 408.2h1.1v1.1h-1.1zM120.6 408.2h1.1v1.1h-1.1zM103.6 409.2h1.1v1.1h-1.1zM104.6 409.2h1.1v1.1h-1.1zM119.6 409.2h1.1v1.1h-1.1zM101.6 410.2h1.1v1.1h-1.1zM102.6 410.2h1.1v1.1h-1.1zM105.6 410.2h1.1v1.1h-1.1zM117.6 410.2h1.1v1.1h-1.1zM102.6 411.2h1.1v1.1h-1.1zM116.6 411.2h1.1v1.1h-1.1zM101.6 412.2h1.1v1.1h-1.1zM103.6 412.2h1.1v1.1h-1.1zM105.6 412.2h1.1v1.1h-1.1zM110.6 412.2h1.1v1.1h-1.1zM116.6 412.2h1.1v1.1h-1.1zM99.6 413.2h1.1v1.1h-1.1zM114.6 413.2h1.1v1.1h-1.1zM100.6 414.2h1.1v1.1h-1.1zM104.6 414.2h1.1v1.1h-1.1zM107.6 414.2h1.1v1.1h-1.1zM109.6 414.2h1.1v1.1h-1.1zM110.6 414.2h1.1v1.1h-1.1zM112.6 414.2h1.1v1.1h-1.1zM97.6 415.2h1.1v1.1h-1.1zM98.6 415.2h1.1v1.1h-1.1zM99.6 415.2h1.1v1.1h-1.1zM107.6 415.2h1.1v1.1h-1.1zM110.6 415.2h1.1v1.1h-1.1zM97.6 416.2h1.1v1.1h-1.1zM98.6 416.2h1.1v1.1h-1.1zM105.6 416.2h1.1v1.1h-1.1zM106.6 416.2h1.1v1.1h-1.1zM100.6 417.2h1.1v1.1h-1.1zM102.6 417.2h1.1v1.1h-1.1zM103.6 417.2h1.1v1.1h-1.1zM104.6 417.2h1.1v1.1h-1.1zM101.6 418.2h1.1v1.1h-1.1zM102.6 418.2h1.1v1.1h-1.1zM105.6 418.2h1.1v1.1h-1.1zM100.6 419.2h1.1v1.1h-1.1zM102.6 419.2h1.1v1.1h-1.1z" fill="#323cff" opacity="0.8"/>
<path d="M116.6 400.2h1.1v1.1h-1.1zM118.6 400.2h1.1v1.1h-1.1zM119.6 400.2h1.1v1.1h-1.1zM120.6 400.2h1.1v1.1h-1.1zM119.6 401.2h1.1v1.1h-1.1zM113.6 402.2h1.1v1.1h-1.1zM119.6 402.2h1.1v1.1h-1.1zM121.6 402.2h1.1v1.1h-1.1zM111.6 403.2h1.1v1.1h-1.1zM113.6 403.2h1.1v1.1h-1.1zM114.6 403.2h1.1v1.1h-1.1zM120.6 403.2h1.1v1.1h-1.1zM121.6 403.2h1.1v1.1h-1.1zM109.6 404.2h1.1v1.1h-1.1zM110.6 404.2h1.1v1.1h-1.1zM111.6 404.2h1.1v1.1h-1.1zM112.6 404.2h1.1v1.1h-1.1zM119.6 405.2h1.1v1.1h-1.1zM117.6 406.2h1.1v1.1h-1.1zM119.6 406.2h1.1v1.1h-1.1zM117.6 407.2h1.1v1.1h-1.1zM105.6 408.2h1.1v1.1h-1.1zM116.6 409.2h1.1v1.1h-1.1zM117.6 409.2h1.1v1.1h-1.1zM103.6 410.2h1.1v1.1h-1.1zM115.6 410.2h1.1v1.1h-1.1zM116.6 410.2h1.1v1.1h-1.1zM105.6 411.2h1.1v1.1h-1.1zM106.6 411.2h1.1v1.1h-1.1zM113.6 411.2h1.1v1.1h-1.1zM115.6 411.2h1.1v1.1h-1.1zM102.6 412.2h1.1v1.1h-1.1zM107.6 412.2h1.1v1.1h-1.1zM112.6 412.2h1.1v1.1h-1.1zM102.6 413.2h1.1v1.1h-1.1zM105.6 413.2h1.1v1.1h-1.1zM106.6 413.2h1.1v1.1h-1.1zM108.6 413.2h1.1v1.1h-1.1zM111.6 413.2h1.1v1.1h-1.1zM102.6 414.2h1.1v1.1h-1.1zM106.6 414.2h1.1v1.1h-1.1zM101.6 415.2h1.1v1.1h-1.1zM102.6 415.2h1.1v1.1h-1.1zM103.6 415.2h1.1v1.1h-1.1zM106.6 415.2h1.1v1.1h-1.1zM100.6 416.2h1.1v1.1h-1.1zM101.6 416.2h1.1v1.1h-1.1zM102.6 416.2h1.1v1.1h-1.1zM104.6 416.2h1.1v1.1h-1.1zM101.6 417.2h1.1v1.1h-1.1z" fill="#323cff" opacity="0.8"/>
<path d="M116.6 401.2h1.1v1.1h-1.1zM118.6 401.2h1.1v1.1h-1.1zM114.6 402.2h1.1v1.1h-1.1zM115.6 402.2h1.1v1.1h-1.1zM120.6 402.2h1.1v1.1h-1.1zM116.6 403.2h1.1v1.1h-1.1zM118.6 403.2h1.1v1.1h-1.1zM118.6 404.2h1.1v1.1h-1.1zM119.6 404.2h1.1v1.1h-1.1zM110.6 405.2h1.1v1.1h-1.1zM118.6 405.2h1.1v1.1h-1.1zM107.6 406.2h1.1v1.1h-1.1zM118.6 406.2h1.1v1.1h-1.1zM107.6 407.2h1.1v1.1h-1.1zM116.6 408.2h1.1v1.1h-1.1zM106.6 409.2h1.1v1.1h-1.1zM107.6 409.2h1.1v1.1h-1.1zM106.6 410.2h1.1v1.1h-1.1zM113.6 410.2h1.1v1.1h-1.1zM114.6 411.2h1.1v1.1h-1.1zM104.6 412.2h1.1v1.1h-1.1zM108.6 412.2h1.1v1.1h-1.1zM111.6 412.2h1.1v1.1h-1.1zM103.6 414.2h1.1v1.1h-1.1zM105.6 414.2h1.1v1.1h-1.1zM104.6 415.2h1.1v1.1h-1.1z" fill="#0a64ff" opacity="1"/>
<path d="M117.6 402.2h1.1v1.1h-1.1zM118.6 402.2h1.1v1.1h-1.1zM117.6 403.2h1.1v1.1h-1.1zM119.6 403.2h1.1v1.1h-1.1zM114.6 404.2h1.1v1.1h-1.1zM117.6 404.2h1.1v1.1h-1.1zM109.6 405.2h1.1v1.1h-1.1zM111.6 405.2h1.1v1.1h-1.1zM112.6 405.2h1.1v1.1h-1.1zM115.6 405.2h1.1v1.1h-1.1zM108.6 406.2h1.1v1.1h-1.1zM108.6 407.2h1.1v1.1h-1.1zM115.6 407.2h1.1v1.1h-1.1zM116.6 407.2h1.1v1.1h-1.1zM115.6 408.2h1.1v1.1h-1.1zM114.6 409.2h1.1v1.1h-1.1zM115.6 409.2h1.1v1.1h-1.1zM110.6 410.2h1.1v1.1h-1.1zM114.6 410.2h1.1v1.1h-1.1zM108.6 411.2h1.1v1.1h-1.1zM110.6 411.2h1.1v1.1h-1.1zM112.6 411.2h1.1v1.1h-1.1zM107.6 413.2h1.1v1.1h-1.1z" fill="#0078ff" opacity="1"/>
<path d="M117.6 401.2h1.1v1.1h-1.1zM116.6 402.2h1.1v1.1h-1.1zM112.6 403.2h1.1v1.1h-1.1zM115.6 403.2h1.1v1.1h-1.1zM115.6 404.2h1.1v1.1h-1.1zM116.6 404.2h1.1v1.1h-1.1zM113.6 405.2h1.1v1.1h-1.1zM116.6 405.2h1.1v1.1h-1.1zM116.6 406.2h1.1v1.1h-1.1zM109.6 407.2h1.1v1.1h-1.1zM107.6 408.2h1.1v1.1h-1.1zM108.6 408.2h1.1v1.1h-1.1zM108.6 409.2h1.1v1.1h-1.1zM109.6 409.2h1.1v1.1h-1.1zM107.6 410.2h1.1v1.1h-1.1zM109.6 410.2h1.1v1.1h-1.1zM104.6 411.2h1.1v1.1h-1.1zM107.6 411.2h1.1v1.1h-1.1zM109.6 411.2h1.1v1.1h-1.1zM111.6 411.2h1.1v1.1h-1.1z" fill="#0097ed" opacity="1"/>
<path d="M113.6 404.2h1.1v1.1h-1.1zM110.6 406.2h1.1v1.1h-1.1zM115.6 406.2h1.1v1.1h-1.1zM108.6 410.2h1.1v1.1h-1.1zM104.6 413.2h1.1v1.1h-1.1z" fill="#00b6dc" opacity="1"/>
<path d="M109.6 406.2h1.1v1.1h-1.1zM111.6 406.2h1.1v1.1h-1.1zM112.6 406.2h1.1v1.1h-1.1zM113.6 406.2h1.1v1.1h-1.1zM114.6 406.2h1.1v1.1h-1.1zM114.6 407.2h1.1v1.1h-1.1zM109.6 408.2h1.1v1.1h-1.1zM110.6 408.2h1.1v1.1h-1.1zM113.6 408.2h1.1v1.1h-1.1zM114.6 408.2h1.1v1.1h-1.1zM113.6 409.2h1.1v1.1h-1.1zM111.6 410.2h1.1v1.1h-1.1zM112.6 410.2h1.1v1.1h-1.1z" fill="#00d5cb" opacity="1"/>
<path d="M114.6 405.2h1.1v1.1h-1.1zM112.6 407.2h1.1v1.1h-1.1zM113.6 407.2h1.1v1.1h-1.1zM110.6 409.2h1.1v1.1h-1.1zM112.6 409.2h1.1v1.1h-1.1z" fill="#0ddf99" opacity="1"/>
<path d="M111.6 409.2h1.1v1.1h-1.1z" fill="#1ee35e" opacity="1"/>
<path d="M111.6 407.2h1.1v1.1h-1.1z" fill="#47e631" opacity="1"/>
<path d="M110.6 407.2h1.1v1.1h-1.1z" fill="#96e619" opacity="1"/>
<path d="M111.6 408.2h1.1v1.1h-1.1zM112.6 408.2h1.1v1.1h-1.1z" fill="#e6e600" opacity="1"/>
</g>
<line x1="127.1" y1="350.2" x2="127.1" y2="455.0" stroke="#383838" stroke-width="1.1"/>
<line x1="50.6" y1="393.2" x2="174.6" y2="393.2" stroke="#383838" stroke-width="1.1"/>
<text x="53.6" y="358.5" font-size="4.6" text-anchor="start" fill="#333" stroke="#333" stroke-width="0">Q1</text>
<text x="53.6" y="365.2" font-size="4.6" text-anchor="start" fill="#333" stroke="#333" stroke-width="0">4.89</text>
<text x="164.6" y="358.5" font-size="4.6" text-anchor="end" fill="#333" stroke="#333" stroke-width="0">Q2</text>
<text x="164.6" y="365.2" font-size="4.6" text-anchor="end" fill="#333" stroke="#333" stroke-width="0">7.09</text>
<text x="53.6" y="443.0" font-size="4.6" text-anchor="start" fill="#333" stroke="#333" stroke-width="0">Q4</text>
<text x="53.6" y="450.0" font-size="4.6" text-anchor="start" fill="#333" stroke="#333" stroke-width="0">87.7</text>
<text x="164.6" y="443.0" font-size="4.6" text-anchor="end" fill="#333" stroke="#333" stroke-width="0">Q3</text>
<text x="164.6" y="450.0" font-size="4.6" text-anchor="end" fill="#333" stroke="#333" stroke-width="0">0.34</text>
<text x="43.4" y="459.0" font-size="11.5" text-anchor="end" fill="#222" stroke="#222" stroke-width="0.3">10</text>
<text x="43.7" y="454.5" font-size="7.5" text-anchor="start" fill="#222" stroke="#222" stroke-width="0">0</text>
<line x1="48.1" y1="455.0" x2="50.6" y2="455.0" stroke="#444" stroke-width="0.8"/>
<line x1="49.1" y1="448.1" x2="50.6" y2="448.1" stroke="#666" stroke-width="0.6"/>
<text x="43.4" y="445.3" font-size="11.5" text-anchor="end" fill="#222" stroke="#222" stroke-width="0.3">10</text>
<text x="43.7" y="440.8" font-size="7.5" text-anchor="start" fill="#222" stroke="#222" stroke-width="0">1</text>
<line x1="48.1" y1="441.3" x2="50.6" y2="441.3" stroke="#444" stroke-width="0.8"/>
<line x1="49.1" y1="434.4" x2="50.6" y2="434.4" stroke="#666" stroke-width="0.6"/>
<text x="43.4" y="431.6" font-size="11.5" text-anchor="end" fill="#222" stroke="#222" stroke-width="0.3">10</text>
<text x="43.7" y="427.1" font-size="7.5" text-anchor="start" fill="#222" stroke="#222" stroke-width="0">2</text>
<line x1="48.1" y1="427.6" x2="50.6" y2="427.6" stroke="#444" stroke-width="0.8"/>
<line x1="49.1" y1="420.8" x2="50.6" y2="420.8" stroke="#666" stroke-width="0.6"/>
<text x="43.4" y="417.9" font-size="11.5" text-anchor="end" fill="#222" stroke="#222" stroke-width="0.3">10</text>
<text x="43.7" y="413.4" font-size="7.5" text-anchor="start" fill="#222" stroke="#222" stroke-width="0">3</text>
<line x1="48.1" y1="413.9" x2="50.6" y2="413.9" stroke="#444" stroke-width="0.8"/>
<line x1="49.1" y1="407.0" x2="50.6" y2="407.0" stroke="#666" stroke-width="0.6"/>
<text x="43.4" y="404.2" font-size="11.5" text-anchor="end" fill="#222" stroke="#222" stroke-width="0.3">10</text>
<text x="43.7" y="399.7" font-size="7.5" text-anchor="start" fill="#222" stroke="#222" stroke-width="0">4</text>
<line x1="48.1" y1="400.2" x2="50.6" y2="400.2" stroke="#444" stroke-width="0.8"/>
<line x1="49.1" y1="393.3" x2="50.6" y2="393.3" stroke="#666" stroke-width="0.6"/>
<text x="43.4" y="390.5" font-size="11.5" text-anchor="end" fill="#222" stroke="#222" stroke-width="0.3">10</text>
<text x="43.7" y="386.0" font-size="7.5" text-anchor="start" fill="#222" stroke="#222" stroke-width="0">5</text>
<line x1="48.1" y1="386.5" x2="50.6" y2="386.5" stroke="#444" stroke-width="0.8"/>
<line x1="49.1" y1="379.6" x2="50.6" y2="379.6" stroke="#666" stroke-width="0.6"/>
<text x="43.4" y="376.8" font-size="11.5" text-anchor="end" fill="#222" stroke="#222" stroke-width="0.3">10</text>
<text x="43.7" y="372.3" font-size="7.5" text-anchor="start" fill="#222" stroke="#222" stroke-width="0">6</text>
<line x1="48.1" y1="372.8" x2="50.6" y2="372.8" stroke="#444" stroke-width="0.8"/>
<line x1="49.1" y1="365.9" x2="50.6" y2="365.9" stroke="#666" stroke-width="0.6"/>
<text x="43.4" y="363.1" font-size="11.5" text-anchor="end" fill="#222" stroke="#222" stroke-width="0.3">10</text>
<text x="43.7" y="358.6" font-size="7.5" text-anchor="start" fill="#222" stroke="#222" stroke-width="0">7</text>
<line x1="48.1" y1="359.1" x2="50.6" y2="359.1" stroke="#444" stroke-width="0.8"/>
<line x1="49.1" y1="352.2" x2="50.6" y2="352.2" stroke="#666" stroke-width="0.6"/>
<text x="53.5" y="468.0" font-size="11.5" text-anchor="start" fill="#222" stroke="#222" stroke-width="0.3">10</text>
<text x="65.8" y="463.0" font-size="7.5" text-anchor="start" fill="#222" stroke="#222" stroke-width="0">0</text>
<text x="85.2" y="468.0" font-size="11.5" text-anchor="start" fill="#222" stroke="#222" stroke-width="0.3">10</text>
<text x="97.5" y="463.0" font-size="7.5" text-anchor="start" fill="#222" stroke="#222" stroke-width="0">2</text>
<text x="117.4" y="468.0" font-size="11.5" text-anchor="start" fill="#222" stroke="#222" stroke-width="0.3">10</text>
<text x="129.7" y="463.0" font-size="7.5" text-anchor="start" fill="#222" stroke="#222" stroke-width="0">4</text>
<text x="152.4" y="468.0" font-size="11.5" text-anchor="start" fill="#222" stroke="#222" stroke-width="0.3">10</text>
<text x="164.7" y="463.0" font-size="7.5" text-anchor="start" fill="#222" stroke="#222" stroke-width="0">6</text>
<line x1="52.6" y1="455.0" x2="52.6" y2="457.0" stroke="#777" stroke-width="0.6"/>
<line x1="55.1" y1="455.0" x2="55.1" y2="456.0" stroke="#777" stroke-width="0.6"/>
<line x1="57.5" y1="455.0" x2="57.5" y2="456.0" stroke="#777" stroke-width="0.6"/>
<line x1="60.0" y1="455.0" x2="60.0" y2="456.0" stroke="#777" stroke-width="0.6"/>
<line x1="62.4" y1="455.0" x2="62.4" y2="456.0" stroke="#777" stroke-width="0.6"/>
<line x1="64.8" y1="455.0" x2="64.8" y2="456.0" stroke="#777" stroke-width="0.6"/>
<line x1="67.3" y1="455.0" x2="67.3" y2="456.0" stroke="#777" stroke-width="0.6"/>
<line x1="69.8" y1="455.0" x2="69.8" y2="457.0" stroke="#777" stroke-width="0.6"/>
<line x1="72.2" y1="455.0" x2="72.2" y2="456.0" stroke="#777" stroke-width="0.6"/>
<line x1="74.7" y1="455.0" x2="74.7" y2="456.0" stroke="#777" stroke-width="0.6"/>
<line x1="77.1" y1="455.0" x2="77.1" y2="456.0" stroke="#777" stroke-width="0.6"/>
<line x1="79.6" y1="455.0" x2="79.6" y2="456.0" stroke="#777" stroke-width="0.6"/>
<line x1="82.0" y1="455.0" x2="82.0" y2="456.0" stroke="#777" stroke-width="0.6"/>
<line x1="84.5" y1="455.0" x2="84.5" y2="456.0" stroke="#777" stroke-width="0.6"/>
<line x1="86.9" y1="455.0" x2="86.9" y2="457.0" stroke="#777" stroke-width="0.6"/>
<line x1="89.3" y1="455.0" x2="89.3" y2="456.0" stroke="#777" stroke-width="0.6"/>
<line x1="91.8" y1="455.0" x2="91.8" y2="456.0" stroke="#777" stroke-width="0.6"/>
<line x1="94.2" y1="455.0" x2="94.2" y2="456.0" stroke="#777" stroke-width="0.6"/>
<line x1="96.7" y1="455.0" x2="96.7" y2="456.0" stroke="#777" stroke-width="0.6"/>
<line x1="99.2" y1="455.0" x2="99.2" y2="456.0" stroke="#777" stroke-width="0.6"/>
<line x1="101.6" y1="455.0" x2="101.6" y2="456.0" stroke="#777" stroke-width="0.6"/>
<line x1="104.1" y1="455.0" x2="104.1" y2="457.0" stroke="#777" stroke-width="0.6"/>
<line x1="106.5" y1="455.0" x2="106.5" y2="456.0" stroke="#777" stroke-width="0.6"/>
<line x1="109.0" y1="455.0" x2="109.0" y2="456.0" stroke="#777" stroke-width="0.6"/>
<line x1="111.4" y1="455.0" x2="111.4" y2="456.0" stroke="#777" stroke-width="0.6"/>
<line x1="113.9" y1="455.0" x2="113.9" y2="456.0" stroke="#777" stroke-width="0.6"/>
<line x1="116.3" y1="455.0" x2="116.3" y2="456.0" stroke="#777" stroke-width="0.6"/>
<line x1="118.8" y1="455.0" x2="118.8" y2="456.0" stroke="#777" stroke-width="0.6"/>
<line x1="121.2" y1="455.0" x2="121.2" y2="457.0" stroke="#777" stroke-width="0.6"/>
<line x1="123.7" y1="455.0" x2="123.7" y2="456.0" stroke="#777" stroke-width="0.6"/>
<line x1="126.1" y1="455.0" x2="126.1" y2="456.0" stroke="#777" stroke-width="0.6"/>
<line x1="128.6" y1="455.0" x2="128.6" y2="456.0" stroke="#777" stroke-width="0.6"/>
<line x1="131.0" y1="455.0" x2="131.0" y2="456.0" stroke="#777" stroke-width="0.6"/>
<line x1="133.5" y1="455.0" x2="133.5" y2="456.0" stroke="#777" stroke-width="0.6"/>
<line x1="135.9" y1="455.0" x2="135.9" y2="456.0" stroke="#777" stroke-width="0.6"/>
<line x1="138.3" y1="455.0" x2="138.3" y2="457.0" stroke="#777" stroke-width="0.6"/>
<line x1="140.8" y1="455.0" x2="140.8" y2="456.0" stroke="#777" stroke-width="0.6"/>
<line x1="143.2" y1="455.0" x2="143.2" y2="456.0" stroke="#777" stroke-width="0.6"/>
<line x1="145.7" y1="455.0" x2="145.7" y2="456.0" stroke="#777" stroke-width="0.6"/>
<line x1="148.2" y1="455.0" x2="148.2" y2="456.0" stroke="#777" stroke-width="0.6"/>
<line x1="150.6" y1="455.0" x2="150.6" y2="456.0" stroke="#777" stroke-width="0.6"/>
<line x1="153.1" y1="455.0" x2="153.1" y2="456.0" stroke="#777" stroke-width="0.6"/>
<line x1="155.5" y1="455.0" x2="155.5" y2="457.0" stroke="#777" stroke-width="0.6"/>
<line x1="158.0" y1="455.0" x2="158.0" y2="456.0" stroke="#777" stroke-width="0.6"/>
<line x1="160.4" y1="455.0" x2="160.4" y2="456.0" stroke="#777" stroke-width="0.6"/>
<line x1="162.9" y1="455.0" x2="162.9" y2="456.0" stroke="#777" stroke-width="0.6"/>
<line x1="165.3" y1="455.0" x2="165.3" y2="456.0" stroke="#777" stroke-width="0.6"/>
<line x1="167.8" y1="455.0" x2="167.8" y2="456.0" stroke="#777" stroke-width="0.6"/>
<line x1="170.2" y1="455.0" x2="170.2" y2="456.0" stroke="#777" stroke-width="0.6"/>
<line x1="172.7" y1="455.0" x2="172.7" y2="457.0" stroke="#777" stroke-width="0.6"/>
<rect x="197.2" y="350.2" width="124" height="104.8" fill="#fff" stroke="#b0b0b0" stroke-width="1"/>
<g filter="url(#fblur)">
<path d="M269.2 363.2h1.1v1.1h-1.1zM281.2 366.2h1.1v1.1h-1.1zM295.2 366.2h1.1v1.1h-1.1zM273.2 367.2h1.1v1.1h-1.1zM278.2 367.2h1.1v1.1h-1.1zM298.2 368.2h1.1v1.1h-1.1zM294.2 369.2h1.1v1.1h-1.1zM261.2 370.2h1.1v1.1h-1.1zM278.2 370.2h1.1v1.1h-1.1zM293.2 370.2h1.1v1.1h-1.1zM276.2 371.2h1.1v1.1h-1.1zM294.2 371.2h1.1v1.1h-1.1zM298.2 371.2h1.1v1.1h-1.1zM272.2 372.2h1.1v1.1h-1.1zM291.2 372.2h1.1v1.1h-1.1zM259.2 373.2h1.1v1.1h-1.1zM271.2 373.2h1.1v1.1h-1.1zM275.2 373.2h1.1v1.1h-1.1zM280.2 373.2h1.1v1.1h-1.1zM282.2 374.2h1.1v1.1h-1.1zM262.2 375.2h1.1v1.1h-1.1zM270.2 375.2h1.1v1.1h-1.1zM286.2 375.2h1.1v1.1h-1.1zM255.2 376.2h1.1v1.1h-1.1zM260.2 376.2h1.1v1.1h-1.1zM278.2 376.2h1.1v1.1h-1.1zM283.2 376.2h1.1v1.1h-1.1zM285.2 376.2h1.1v1.1h-1.1zM248.2 378.2h1.1v1.1h-1.1zM254.2 378.2h1.1v1.1h-1.1zM256.2 378.2h1.1v1.1h-1.1zM259.2 378.2h1.1v1.1h-1.1zM259.2 380.2h1.1v1.1h-1.1zM254.2 381.2h1.1v1.1h-1.1zM258.2 381.2h1.1v1.1h-1.1zM262.2 382.2h1.1v1.1h-1.1zM252.2 383.2h1.1v1.1h-1.1zM258.2 383.2h1.1v1.1h-1.1zM260.2 384.2h1.1v1.1h-1.1zM258.2 386.2h1.1v1.1h-1.1zM263.2 386.2h1.1v1.1h-1.1zM258.2 388.2h1.1v1.1h-1.1zM261.2 388.2h1.1v1.1h-1.1zM251.2 389.2h1.1v1.1h-1.1zM256.2 389.2h1.1v1.1h-1.1zM257.2 391.2h1.1v1.1h-1.1zM260.2 391.2h1.1v1.1h-1.1zM252.2 392.2h1.1v1.1h-1.1zM264.2 392.2h1.1v1.1h-1.1zM271.2 392.2h1.1v1.1h-1.1zM249.2 393.2h1.1v1.1h-1.1zM279.2 394.2h1.1v1.1h-1.1zM256.2 396.2h1.1v1.1h-1.1zM264.2 396.2h1.1v1.1h-1.1zM255.2 397.2h1.1v1.1h-1.1zM271.2 397.2h1.1v1.1h-1.1zM260.2 398.2h1.1v1.1h-1.1zM296.2 399.2h1.1v1.1h-1.1zM270.2 400.2h1.1v1.1h-1.1zM280.2 400.2h1.1v1.1h-1.1zM251.2 403.2h1.1v1.1h-1.1zM254.2 403.2h1.1v1.1h-1.1zM257.2 404.2h1.1v1.1h-1.1zM283.2 405.2h1.1v1.1h-1.1zM271.2 406.2h1.1v1.1h-1.1zM273.2 407.2h1.1v1.1h-1.1zM270.2 408.2h1.1v1.1h-1.1zM285.2 409.2h1.1v1.1h-1.1zM266.2 411.2h1.1v1.1h-1.1zM311.2 412.2h1.1v1.1h-1.1zM252.2 413.2h1.1v1.1h-1.1zM245.2 417.2h1.1v1.1h-1.1zM244.2 420.2h1.1v1.1h-1.1zM247.2 420.2h1.1v1.1h-1.1zM238.2 423.2h1.1v1.1h-1.1zM261.2 424.2h1.1v1.1h-1.1zM247.2 425.2h1.1v1.1h-1.1z" fill="#323cff" opacity="0.8"/>
<path d="M284.2 366.2h1.1v1.1h-1.1zM289.2 366.2h1.1v1.1h-1.1zM282.2 367.2h1.1v1.1h-1.1zM283.2 367.2h1.1v1.1h-1.1zM285.2 367.2h1.1v1.1h-1.1zM287.2 367.2h1.1v1.1h-1.1zM289.2 367.2h1.1v1.1h-1.1zM279.2 368.2h1.1v1.1h-1.1zM281.2 368.2h1.1v1.1h-1.1zM283.2 368.2h1.1v1.1h-1.1zM289.2 368.2h1.1v1.1h-1.1zM290.2 368.2h1.1v1.1h-1.1zM281.2 369.2h1.1v1.1h-1.1zM284.2 369.2h1.1v1.1h-1.1zM285.2 369.2h1.1v1.1h-1.1zM286.2 369.2h1.1v1.1h-1.1zM288.2 369.2h1.1v1.1h-1.1zM290.2 369.2h1.1v1.1h-1.1zM279.2 370.2h1.1v1.1h-1.1zM282.2 370.2h1.1v1.1h-1.1zM284.2 370.2h1.1v1.1h-1.1zM287.2 370.2h1.1v1.1h-1.1zM288.2 370.2h1.1v1.1h-1.1zM289.2 370.2h1.1v1.1h-1.1zM290.2 370.2h1.1v1.1h-1.1zM281.2 371.2h1.1v1.1h-1.1zM285.2 371.2h1.1v1.1h-1.1zM286.2 371.2h1.1v1.1h-1.1zM288.2 371.2h1.1v1.1h-1.1zM284.2 372.2h1.1v1.1h-1.1zM285.2 372.2h1.1v1.1h-1.1zM286.2 372.2h1.1v1.1h-1.1zM288.2 372.2h1.1v1.1h-1.1zM276.2 374.2h1.1v1.1h-1.1zM277.2 374.2h1.1v1.1h-1.1zM284.2 374.2h1.1v1.1h-1.1zM277.2 375.2h1.1v1.1h-1.1zM255.2 378.2h1.1v1.1h-1.1zM261.2 386.2h1.1v1.1h-1.1zM262.2 386.2h1.1v1.1h-1.1zM259.2 387.2h1.1v1.1h-1.1zM269.2 394.2h1.1v1.1h-1.1zM272.2 394.2h1.1v1.1h-1.1zM273.2 394.2h1.1v1.1h-1.1zM270.2 395.2h1.1v1.1h-1.1zM272.2 395.2h1.1v1.1h-1.1zM275.2 395.2h1.1v1.1h-1.1zM268.2 396.2h1.1v1.1h-1.1zM272.2 396.2h1.1v1.1h-1.1zM273.2 396.2h1.1v1.1h-1.1zM274.2 396.2h1.1v1.1h-1.1zM269.2 397.2h1.1v1.1h-1.1zM273.2 397.2h1.1v1.1h-1.1zM274.2 397.2h1.1v1.1h-1.1zM275.2 397.2h1.1v1.1h-1.1zM261.2 398.2h1.1v1.1h-1.1zM273.2 398.2h1.1v1.1h-1.1zM274.2 398.2h1.1v1.1h-1.1zM275.2 398.2h1.1v1.1h-1.1zM262.2 399.2h1.1v1.1h-1.1zM263.2 399.2h1.1v1.1h-1.1zM259.2 400.2h1.1v1.1h-1.1zM274.2 400.2h1.1v1.1h-1.1zM262.2 401.2h1.1v1.1h-1.1zM272.2 401.2h1.1v1.1h-1.1zM274.2 401.2h1.1v1.1h-1.1zM257.2 402.2h1.1v1.1h-1.1zM259.2 402.2h1.1v1.1h-1.1zM261.2 402.2h1.1v1.1h-1.1zM272.2 403.2h1.1v1.1h-1.1zM273.2 403.2h1.1v1.1h-1.1zM255.2 404.2h1.1v1.1h-1.1zM267.2 404.2h1.1v1.1h-1.1zM271.2 404.2h1.1v1.1h-1.1zM253.2 406.2h1.1v1.1h-1.1zM252.2 407.2h1.1v1.1h-1.1zM251.2 408.2h1.1v1.1h-1.1zM268.2 408.2h1.1v1.1h-1.1zM262.2 409.2h1.1v1.1h-1.1zM263.2 409.2h1.1v1.1h-1.1zM266.2 409.2h1.1v1.1h-1.1zM267.2 409.2h1.1v1.1h-1.1zM265.2 410.2h1.1v1.1h-1.1zM249.2 411.2h1.1v1.1h-1.1zM250.2 411.2h1.1v1.1h-1.1zM264.2 411.2h1.1v1.1h-1.1zM249.2 412.2h1.1v1.1h-1.1zM262.2 412.2h1.1v1.1h-1.1zM248.2 413.2h1.1v1.1h-1.1zM249.2 413.2h1.1v1.1h-1.1zM256.2 413.2h1.1v1.1h-1.1zM261.2 413.2h1.1v1.1h-1.1zM262.2 413.2h1.1v1.1h-1.1zM250.2 414.2h1.1v1.1h-1.1zM253.2 414.2h1.1v1.1h-1.1zM259.2 414.2h1.1v1.1h-1.1zM260.2 414.2h1.1v1.1h-1.1zM261.2 414.2h1.1v1.1h-1.1zM248.2 415.2h1.1v1.1h-1.1zM250.2 415.2h1.1v1.1h-1.1zM247.2 416.2h1.1v1.1h-1.1zM248.2 416.2h1.1v1.1h-1.1zM251.2 416.2h1.1v1.1h-1.1zM252.2 416.2h1.1v1.1h-1.1zM255.2 416.2h1.1v1.1h-1.1zM248.2 417.2h1.1v1.1h-1.1zM249.2 417.2h1.1v1.1h-1.1zM254.2 417.2h1.1v1.1h-1.1zM255.2 417.2h1.1v1.1h-1.1zM256.2 417.2h1.1v1.1h-1.1zM247.2 418.2h1.1v1.1h-1.1zM250.2 418.2h1.1v1.1h-1.1zM251.2 418.2h1.1v1.1h-1.1zM254.2 418.2h1.1v1.1h-1.1zM250.2 419.2h1.1v1.1h-1.1zM248.2 420.2h1.1v1.1h-1.1zM250.2 420.2h1.1v1.1h-1.1z" fill="#323cff" opacity="0.8"/>
<path d="M285.2 370.2h1.1v1.1h-1.1zM286.2 370.2h1.1v1.1h-1.1zM270.2 396.2h1.1v1.1h-1.1zM267.2 397.2h1.1v1.1h-1.1zM268.2 397.2h1.1v1.1h-1.1zM266.2 398.2h1.1v1.1h-1.1zM268.2 398.2h1.1v1.1h-1.1zM270.2 398.2h1.1v1.1h-1.1zM272.2 398.2h1.1v1.1h-1.1zM270.2 399.2h1.1v1.1h-1.1zM272.2 399.2h1.1v1.1h-1.1zM263.2 400.2h1.1v1.1h-1.1zM271.2 400.2h1.1v1.1h-1.1zM260.2 401.2h1.1v1.1h-1.1zM258.2 402.2h1.1v1.1h-1.1zM269.2 402.2h1.1v1.1h-1.1zM270.2 402.2h1.1v1.1h-1.1zM256.2 404.2h1.1v1.1h-1.1zM269.2 404.2h1.1v1.1h-1.1zM270.2 404.2h1.1v1.1h-1.1zM257.2 405.2h1.1v1.1h-1.1zM265.2 406.2h1.1v1.1h-1.1zM266.2 407.2h1.1v1.1h-1.1zM254.2 408.2h1.1v1.1h-1.1zM266.2 408.2h1.1v1.1h-1.1zM264.2 409.2h1.1v1.1h-1.1zM252.2 410.2h1.1v1.1h-1.1zM260.2 410.2h1.1v1.1h-1.1zM262.2 410.2h1.1v1.1h-1.1zM259.2 411.2h1.1v1.1h-1.1zM250.2 412.2h1.1v1.1h-1.1zM261.2 412.2h1.1v1.1h-1.1zM251.2 413.2h1.1v1.1h-1.1zM260.2 413.2h1.1v1.1h-1.1zM252.2 414.2h1.1v1.1h-1.1zM254.2 414.2h1.1v1.1h-1.1zM256.2 414.2h1.1v1.1h-1.1zM257.2 414.2h1.1v1.1h-1.1zM251.2 415.2h1.1v1.1h-1.1zM252.2 415.2h1.1v1.1h-1.1zM255.2 415.2h1.1v1.1h-1.1zM256.2 415.2h1.1v1.1h-1.1z" fill="#323cff" opacity="0.8"/>
<path d="M270.2 397.2h1.1v1.1h-1.1zM269.2 398.2h1.1v1.1h-1.1zM271.2 398.2h1.1v1.1h-1.1zM267.2 399.2h1.1v1.1h-1.1zM265.2 400.2h1.1v1.1h-1.1zM266.2 400.2h1.1v1.1h-1.1zM268.2 400.2h1.1v1.1h-1.1zM269.2 400.2h1.1v1.1h-1.1zM261.2 401.2h1.1v1.1h-1.1zM264.2 401.2h1.1v1.1h-1.1zM267.2 401.2h1.1v1.1h-1.1zM260.2 402.2h1.1v1.1h-1.1zM258.2 403.2h1.1v1.1h-1.1zM261.2 403.2h1.1v1.1h-1.1zM267.2 403.2h1.1v1.1h-1.1zM269.2 403.2h1.1v1.1h-1.1zM258.2 404.2h1.1v1.1h-1.1zM268.2 404.2h1.1v1.1h-1.1zM255.2 405.2h1.1v1.1h-1.1zM256.2 405.2h1.1v1.1h-1.1zM259.2 405.2h1.1v1.1h-1.1zM265.2 407.2h1.1v1.1h-1.1zM255.2 408.2h1.1v1.1h-1.1zM263.2 408.2h1.1v1.1h-1.1zM261.2 409.2h1.1v1.1h-1.1zM251.2 410.2h1.1v1.1h-1.1zM261.2 410.2h1.1v1.1h-1.1zM251.2 411.2h1.1v1.1h-1.1zM252.2 411.2h1.1v1.1h-1.1zM260.2 411.2h1.1v1.1h-1.1zM261.2 411.2h1.1v1.1h-1.1zM257.2 412.2h1.1v1.1h-1.1zM260.2 412.2h1.1v1.1h-1.1zM254.2 413.2h1.1v1.1h-1.1zM257.2 413.2h1.1v1.1h-1.1zM255.2 414.2h1.1v1.1h-1.1z" fill="#0a64ff" opacity="1"/>
<path d="M268.2 399.2h1.1v1.1h-1.1zM269.2 399.2h1.1v1.1h-1.1zM264.2 400.2h1.1v1.1h-1.1zM267.2 400.2h1.1v1.1h-1.1zM263.2 401.2h1.1v1.1h-1.1zM265.2 401.2h1.1v1.1h-1.1zM266.2 401.2h1.1v1.1h-1.1zM268.2 401.2h1.1v1.1h-1.1zM268.2 402.2h1.1v1.1h-1.1zM266.2 403.2h1.1v1.1h-1.1zM268.2 403.2h1.1v1.1h-1.1zM265.2 404.2h1.1v1.1h-1.1zM266.2 405.2h1.1v1.1h-1.1zM255.2 406.2h1.1v1.1h-1.1zM257.2 406.2h1.1v1.1h-1.1zM266.2 406.2h1.1v1.1h-1.1zM263.2 407.2h1.1v1.1h-1.1zM262.2 408.2h1.1v1.1h-1.1zM254.2 409.2h1.1v1.1h-1.1zM255.2 409.2h1.1v1.1h-1.1zM253.2 410.2h1.1v1.1h-1.1zM254.2 410.2h1.1v1.1h-1.1zM254.2 411.2h1.1v1.1h-1.1zM258.2 411.2h1.1v1.1h-1.1zM252.2 412.2h1.1v1.1h-1.1zM255.2 412.2h1.1v1.1h-1.1zM256.2 412.2h1.1v1.1h-1.1z" fill="#0078ff" opacity="1"/>
<path d="M264.2 402.2h1.1v1.1h-1.1zM265.2 402.2h1.1v1.1h-1.1zM267.2 402.2h1.1v1.1h-1.1zM260.2 403.2h1.1v1.1h-1.1zM263.2 403.2h1.1v1.1h-1.1zM259.2 404.2h1.1v1.1h-1.1zM264.2 406.2h1.1v1.1h-1.1zM254.2 407.2h1.1v1.1h-1.1zM264.2 407.2h1.1v1.1h-1.1zM264.2 408.2h1.1v1.1h-1.1zM254.2 412.2h1.1v1.1h-1.1zM258.2 412.2h1.1v1.1h-1.1z" fill="#0097ed" opacity="1"/>
<path d="M263.2 402.2h1.1v1.1h-1.1zM266.2 402.2h1.1v1.1h-1.1zM262.2 403.2h1.1v1.1h-1.1zM260.2 404.2h1.1v1.1h-1.1zM261.2 404.2h1.1v1.1h-1.1zM266.2 404.2h1.1v1.1h-1.1zM264.2 405.2h1.1v1.1h-1.1zM265.2 405.2h1.1v1.1h-1.1zM256.2 406.2h1.1v1.1h-1.1zM255.2 407.2h1.1v1.1h-1.1zM257.2 407.2h1.1v1.1h-1.1zM259.2 407.2h1.1v1.1h-1.1zM262.2 407.2h1.1v1.1h-1.1zM256.2 408.2h1.1v1.1h-1.1zM261.2 408.2h1.1v1.1h-1.1zM260.2 409.2h1.1v1.1h-1.1zM257.2 410.2h1.1v1.1h-1.1zM253.2 411.2h1.1v1.1h-1.1zM255.2 411.2h1.1v1.1h-1.1zM256.2 411.2h1.1v1.1h-1.1zM257.2 411.2h1.1v1.1h-1.1zM255.2 413.2h1.1v1.1h-1.1z" fill="#00b6dc" opacity="1"/>
<path d="M265.2 403.2h1.1v1.1h-1.1zM264.2 404.2h1.1v1.1h-1.1zM260.2 405.2h1.1v1.1h-1.1zM261.2 406.2h1.1v1.1h-1.1zM256.2 407.2h1.1v1.1h-1.1zM260.2 408.2h1.1v1.1h-1.1zM257.2 409.2h1.1v1.1h-1.1zM259.2 409.2h1.1v1.1h-1.1zM255.2 410.2h1.1v1.1h-1.1zM259.2 410.2h1.1v1.1h-1.1z" fill="#00d5cb" opacity="1"/>
<path d="M264.2 403.2h1.1v1.1h-1.1zM262.2 404.2h1.1v1.1h-1.1zM263.2 405.2h1.1v1.1h-1.1zM259.2 406.2h1.1v1.1h-1.1zM260.2 406.2h1.1v1.1h-1.1zM263.2 406.2h1.1v1.1h-1.1zM258.2 407.2h1.1v1.1h-1.1zM261.2 407.2h1.1v1.1h-1.1zM256.2 409.2h1.1v1.1h-1.1zM258.2 409.2h1.1v1.1h-1.1zM256.2 410.2h1.1v1.1h-1.1zM258.2 410.2h1.1v1.1h-1.1z" fill="#0ddf99" opacity="1"/>
<path d="M262.2 405.2h1.1v1.1h-1.1zM258.2 406.2h1.1v1.1h-1.1zM260.2 407.2h1.1v1.1h-1.1zM257.2 408.2h1.1v1.1h-1.1zM258.2 408.2h1.1v1.1h-1.1z" fill="#1ee35e" opacity="1"/>
<path d="M263.2 404.2h1.1v1.1h-1.1zM261.2 405.2h1.1v1.1h-1.1zM262.2 406.2h1.1v1.1h-1.1zM259.2 408.2h1.1v1.1h-1.1z" fill="#47e631" opacity="1"/>
</g>
<line x1="273.7" y1="350.2" x2="273.7" y2="455.0" stroke="#383838" stroke-width="1.1"/>
<line x1="197.2" y1="393.2" x2="321.2" y2="393.2" stroke="#383838" stroke-width="1.1"/>
<text x="200.2" y="358.5" font-size="4.6" text-anchor="start" fill="#333" stroke="#333" stroke-width="0">Q1</text>
<text x="200.2" y="365.2" font-size="4.6" text-anchor="start" fill="#333" stroke="#333" stroke-width="0">4.62</text>
<text x="311.2" y="358.5" font-size="4.6" text-anchor="end" fill="#333" stroke="#333" stroke-width="0">Q2</text>
<text x="311.2" y="365.2" font-size="4.6" text-anchor="end" fill="#333" stroke="#333" stroke-width="0">9.89</text>
<text x="200.2" y="443.0" font-size="4.6" text-anchor="start" fill="#333" stroke="#333" stroke-width="0">Q4</text>
<text x="200.2" y="450.0" font-size="4.6" text-anchor="start" fill="#333" stroke="#333" stroke-width="0">83.5</text>
<text x="311.2" y="443.0" font-size="4.6" text-anchor="end" fill="#333" stroke="#333" stroke-width="0">Q3</text>
<text x="311.2" y="450.0" font-size="4.6" text-anchor="end" fill="#333" stroke="#333" stroke-width="0">1.94</text>
<text x="190.0" y="459.0" font-size="11.5" text-anchor="end" fill="#222" stroke="#222" stroke-width="0.3">10</text>
<text x="190.3" y="454.5" font-size="7.5" text-anchor="start" fill="#222" stroke="#222" stroke-width="0">0</text>
<line x1="194.7" y1="455.0" x2="197.2" y2="455.0" stroke="#444" stroke-width="0.8"/>
<line x1="195.7" y1="448.1" x2="197.2" y2="448.1" stroke="#666" stroke-width="0.6"/>
<text x="190.0" y="445.3" font-size="11.5" text-anchor="end" fill="#222" stroke="#222" stroke-width="0.3">10</text>
<text x="190.3" y="440.8" font-size="7.5" text-anchor="start" fill="#222" stroke="#222" stroke-width="0">1</text>
<line x1="194.7" y1="441.3" x2="197.2" y2="441.3" stroke="#444" stroke-width="0.8"/>
<line x1="195.7" y1="434.4" x2="197.2" y2="434.4" stroke="#666" stroke-width="0.6"/>
<text x="190.0" y="431.6" font-size="11.5" text-anchor="end" fill="#222" stroke="#222" stroke-width="0.3">10</text>
<text x="190.3" y="427.1" font-size="7.5" text-anchor="start" fill="#222" stroke="#222" stroke-width="0">2</text>
<line x1="194.7" y1="427.6" x2="197.2" y2="427.6" stroke="#444" stroke-width="0.8"/>
<line x1="195.7" y1="420.8" x2="197.2" y2="420.8" stroke="#666" stroke-width="0.6"/>
<text x="190.0" y="417.9" font-size="11.5" text-anchor="end" fill="#222" stroke="#222" stroke-width="0.3">10</text>
<text x="190.3" y="413.4" font-size="7.5" text-anchor="start" fill="#222" stroke="#222" stroke-width="0">3</text>
<line x1="194.7" y1="413.9" x2="197.2" y2="413.9" stroke="#444" stroke-width="0.8"/>
<line x1="195.7" y1="407.0" x2="197.2" y2="407.0" stroke="#666" stroke-width="0.6"/>
<text x="190.0" y="404.2" font-size="11.5" text-anchor="end" fill="#222" stroke="#222" stroke-width="0.3">10</text>
<text x="190.3" y="399.7" font-size="7.5" text-anchor="start" fill="#222" stroke="#222" stroke-width="0">4</text>
<line x1="194.7" y1="400.2" x2="197.2" y2="400.2" stroke="#444" stroke-width="0.8"/>
<line x1="195.7" y1="393.3" x2="197.2" y2="393.3" stroke="#666" stroke-width="0.6"/>
<text x="190.0" y="390.5" font-size="11.5" text-anchor="end" fill="#222" stroke="#222" stroke-width="0.3">10</text>
<text x="190.3" y="386.0" font-size="7.5" text-anchor="start" fill="#222" stroke="#222" stroke-width="0">5</text>
<line x1="194.7" y1="386.5" x2="197.2" y2="386.5" stroke="#444" stroke-width="0.8"/>
<line x1="195.7" y1="379.6" x2="197.2" y2="379.6" stroke="#666" stroke-width="0.6"/>
<text x="190.0" y="376.8" font-size="11.5" text-anchor="end" fill="#222" stroke="#222" stroke-width="0.3">10</text>
<text x="190.3" y="372.3" font-size="7.5" text-anchor="start" fill="#222" stroke="#222" stroke-width="0">6</text>
<line x1="194.7" y1="372.8" x2="197.2" y2="372.8" stroke="#444" stroke-width="0.8"/>
<line x1="195.7" y1="365.9" x2="197.2" y2="365.9" stroke="#666" stroke-width="0.6"/>
<text x="190.0" y="363.1" font-size="11.5" text-anchor="end" fill="#222" stroke="#222" stroke-width="0.3">10</text>
<text x="190.3" y="358.6" font-size="7.5" text-anchor="start" fill="#222" stroke="#222" stroke-width="0">7</text>
<line x1="194.7" y1="359.1" x2="197.2" y2="359.1" stroke="#444" stroke-width="0.8"/>
<line x1="195.7" y1="352.2" x2="197.2" y2="352.2" stroke="#666" stroke-width="0.6"/>
<text x="200.1" y="468.0" font-size="11.5" text-anchor="start" fill="#222" stroke="#222" stroke-width="0.3">10</text>
<text x="212.4" y="463.0" font-size="7.5" text-anchor="start" fill="#222" stroke="#222" stroke-width="0">0</text>
<text x="231.8" y="468.0" font-size="11.5" text-anchor="start" fill="#222" stroke="#222" stroke-width="0.3">10</text>
<text x="244.1" y="463.0" font-size="7.5" text-anchor="start" fill="#222" stroke="#222" stroke-width="0">2</text>
<text x="264.0" y="468.0" font-size="11.5" text-anchor="start" fill="#222" stroke="#222" stroke-width="0.3">10</text>
<text x="276.3" y="463.0" font-size="7.5" text-anchor="start" fill="#222" stroke="#222" stroke-width="0">4</text>
<text x="299.0" y="468.0" font-size="11.5" text-anchor="start" fill="#222" stroke="#222" stroke-width="0.3">10</text>
<text x="311.3" y="463.0" font-size="7.5" text-anchor="start" fill="#222" stroke="#222" stroke-width="0">6</text>
<line x1="199.2" y1="455.0" x2="199.2" y2="457.0" stroke="#777" stroke-width="0.6"/>
<line x1="201.6" y1="455.0" x2="201.6" y2="456.0" stroke="#777" stroke-width="0.6"/>
<line x1="204.1" y1="455.0" x2="204.1" y2="456.0" stroke="#777" stroke-width="0.6"/>
<line x1="206.5" y1="455.0" x2="206.5" y2="456.0" stroke="#777" stroke-width="0.6"/>
<line x1="209.0" y1="455.0" x2="209.0" y2="456.0" stroke="#777" stroke-width="0.6"/>
<line x1="211.4" y1="455.0" x2="211.4" y2="456.0" stroke="#777" stroke-width="0.6"/>
<line x1="213.9" y1="455.0" x2="213.9" y2="456.0" stroke="#777" stroke-width="0.6"/>
<line x1="216.3" y1="455.0" x2="216.3" y2="457.0" stroke="#777" stroke-width="0.6"/>
<line x1="218.8" y1="455.0" x2="218.8" y2="456.0" stroke="#777" stroke-width="0.6"/>
<line x1="221.2" y1="455.0" x2="221.2" y2="456.0" stroke="#777" stroke-width="0.6"/>
<line x1="223.7" y1="455.0" x2="223.7" y2="456.0" stroke="#777" stroke-width="0.6"/>
<line x1="226.1" y1="455.0" x2="226.1" y2="456.0" stroke="#777" stroke-width="0.6"/>
<line x1="228.6" y1="455.0" x2="228.6" y2="456.0" stroke="#777" stroke-width="0.6"/>
<line x1="231.0" y1="455.0" x2="231.0" y2="456.0" stroke="#777" stroke-width="0.6"/>
<line x1="233.5" y1="455.0" x2="233.5" y2="457.0" stroke="#777" stroke-width="0.6"/>
<line x1="235.9" y1="455.0" x2="235.9" y2="456.0" stroke="#777" stroke-width="0.6"/>
<line x1="238.4" y1="455.0" x2="238.4" y2="456.0" stroke="#777" stroke-width="0.6"/>
<line x1="240.8" y1="455.0" x2="240.8" y2="456.0" stroke="#777" stroke-width="0.6"/>
<line x1="243.3" y1="455.0" x2="243.3" y2="456.0" stroke="#777" stroke-width="0.6"/>
<line x1="245.8" y1="455.0" x2="245.8" y2="456.0" stroke="#777" stroke-width="0.6"/>
<line x1="248.2" y1="455.0" x2="248.2" y2="456.0" stroke="#777" stroke-width="0.6"/>
<line x1="250.6" y1="455.0" x2="250.6" y2="457.0" stroke="#777" stroke-width="0.6"/>
<line x1="253.1" y1="455.0" x2="253.1" y2="456.0" stroke="#777" stroke-width="0.6"/>
<line x1="255.5" y1="455.0" x2="255.5" y2="456.0" stroke="#777" stroke-width="0.6"/>
<line x1="258.0" y1="455.0" x2="258.0" y2="456.0" stroke="#777" stroke-width="0.6"/>
<line x1="260.4" y1="455.0" x2="260.4" y2="456.0" stroke="#777" stroke-width="0.6"/>
<line x1="262.9" y1="455.0" x2="262.9" y2="456.0" stroke="#777" stroke-width="0.6"/>
<line x1="265.4" y1="455.0" x2="265.4" y2="456.0" stroke="#777" stroke-width="0.6"/>
<line x1="267.8" y1="455.0" x2="267.8" y2="457.0" stroke="#777" stroke-width="0.6"/>
<line x1="270.2" y1="455.0" x2="270.2" y2="456.0" stroke="#777" stroke-width="0.6"/>
<line x1="272.7" y1="455.0" x2="272.7" y2="456.0" stroke="#777" stroke-width="0.6"/>
<line x1="275.1" y1="455.0" x2="275.1" y2="456.0" stroke="#777" stroke-width="0.6"/>
<line x1="277.6" y1="455.0" x2="277.6" y2="456.0" stroke="#777" stroke-width="0.6"/>
<line x1="280.1" y1="455.0" x2="280.1" y2="456.0" stroke="#777" stroke-width="0.6"/>
<line x1="282.5" y1="455.0" x2="282.5" y2="456.0" stroke="#777" stroke-width="0.6"/>
<line x1="284.9" y1="455.0" x2="284.9" y2="457.0" stroke="#777" stroke-width="0.6"/>
<line x1="287.4" y1="455.0" x2="287.4" y2="456.0" stroke="#777" stroke-width="0.6"/>
<line x1="289.9" y1="455.0" x2="289.9" y2="456.0" stroke="#777" stroke-width="0.6"/>
<line x1="292.3" y1="455.0" x2="292.3" y2="456.0" stroke="#777" stroke-width="0.6"/>
<line x1="294.8" y1="455.0" x2="294.8" y2="456.0" stroke="#777" stroke-width="0.6"/>
<line x1="297.2" y1="455.0" x2="297.2" y2="456.0" stroke="#777" stroke-width="0.6"/>
<line x1="299.6" y1="455.0" x2="299.6" y2="456.0" stroke="#777" stroke-width="0.6"/>
<line x1="302.1" y1="455.0" x2="302.1" y2="457.0" stroke="#777" stroke-width="0.6"/>
<line x1="304.6" y1="455.0" x2="304.6" y2="456.0" stroke="#777" stroke-width="0.6"/>
<line x1="307.0" y1="455.0" x2="307.0" y2="456.0" stroke="#777" stroke-width="0.6"/>
<line x1="309.4" y1="455.0" x2="309.4" y2="456.0" stroke="#777" stroke-width="0.6"/>
<line x1="311.9" y1="455.0" x2="311.9" y2="456.0" stroke="#777" stroke-width="0.6"/>
<line x1="314.4" y1="455.0" x2="314.4" y2="456.0" stroke="#777" stroke-width="0.6"/>
<line x1="316.8" y1="455.0" x2="316.8" y2="456.0" stroke="#777" stroke-width="0.6"/>
<line x1="319.2" y1="455.0" x2="319.2" y2="457.0" stroke="#777" stroke-width="0.6"/>
<text x="0.0" y="0.0" font-size="13.3" text-anchor="middle" fill="#222" stroke="#222" stroke-width="0.3" textLength="43" lengthAdjust="spacingAndGlyphs" transform="translate(326.7,402.4) rotate(90)">R + Pyr</text>
<rect x="50.6" y="471.3" width="124" height="104.8" fill="#fff" stroke="#b0b0b0" stroke-width="1"/>
<g filter="url(#fblur)">
<path d="M119.6 477.3h1.1v1.1h-1.1zM139.6 482.3h1.1v1.1h-1.1zM123.6 487.3h1.1v1.1h-1.1zM118.6 489.3h1.1v1.1h-1.1zM122.6 489.3h1.1v1.1h-1.1zM126.6 489.3h1.1v1.1h-1.1zM122.6 491.3h1.1v1.1h-1.1zM130.6 491.3h1.1v1.1h-1.1zM124.6 492.3h1.1v1.1h-1.1zM117.6 493.3h1.1v1.1h-1.1zM119.6 493.3h1.1v1.1h-1.1zM126.6 493.3h1.1v1.1h-1.1zM141.6 493.3h1.1v1.1h-1.1zM132.6 494.3h1.1v1.1h-1.1zM135.6 494.3h1.1v1.1h-1.1zM125.6 495.3h1.1v1.1h-1.1zM127.6 495.3h1.1v1.1h-1.1zM144.6 495.3h1.1v1.1h-1.1zM119.6 496.3h1.1v1.1h-1.1zM133.6 496.3h1.1v1.1h-1.1zM141.6 496.3h1.1v1.1h-1.1zM143.6 496.3h1.1v1.1h-1.1zM123.6 497.3h1.1v1.1h-1.1zM130.6 497.3h1.1v1.1h-1.1zM137.6 497.3h1.1v1.1h-1.1zM139.6 497.3h1.1v1.1h-1.1zM141.6 497.3h1.1v1.1h-1.1zM118.6 498.3h1.1v1.1h-1.1zM126.6 498.3h1.1v1.1h-1.1zM128.6 498.3h1.1v1.1h-1.1zM131.6 499.3h1.1v1.1h-1.1zM136.6 499.3h1.1v1.1h-1.1zM139.6 499.3h1.1v1.1h-1.1zM122.6 500.3h1.1v1.1h-1.1zM136.6 500.3h1.1v1.1h-1.1zM123.6 501.3h1.1v1.1h-1.1zM129.6 501.3h1.1v1.1h-1.1zM131.6 501.3h1.1v1.1h-1.1zM133.6 501.3h1.1v1.1h-1.1zM142.6 501.3h1.1v1.1h-1.1zM127.6 502.3h1.1v1.1h-1.1zM142.6 502.3h1.1v1.1h-1.1zM116.6 503.3h1.1v1.1h-1.1zM117.6 503.3h1.1v1.1h-1.1zM121.6 503.3h1.1v1.1h-1.1zM130.6 503.3h1.1v1.1h-1.1zM144.6 503.3h1.1v1.1h-1.1zM121.6 504.3h1.1v1.1h-1.1zM134.6 504.3h1.1v1.1h-1.1zM119.6 505.3h1.1v1.1h-1.1zM129.6 505.3h1.1v1.1h-1.1zM131.6 505.3h1.1v1.1h-1.1zM136.6 505.3h1.1v1.1h-1.1zM140.6 505.3h1.1v1.1h-1.1zM133.6 507.3h1.1v1.1h-1.1zM138.6 507.3h1.1v1.1h-1.1zM118.6 508.3h1.1v1.1h-1.1zM138.6 508.3h1.1v1.1h-1.1zM140.6 508.3h1.1v1.1h-1.1zM148.6 508.3h1.1v1.1h-1.1zM122.6 509.3h1.1v1.1h-1.1zM128.6 510.3h1.1v1.1h-1.1zM138.6 510.3h1.1v1.1h-1.1zM121.6 512.3h1.1v1.1h-1.1zM129.6 512.3h1.1v1.1h-1.1zM117.6 513.3h1.1v1.1h-1.1zM119.6 513.3h1.1v1.1h-1.1zM127.6 513.3h1.1v1.1h-1.1zM130.6 517.3h1.1v1.1h-1.1zM113.6 519.3h1.1v1.1h-1.1zM129.6 519.3h1.1v1.1h-1.1zM111.6 521.3h1.1v1.1h-1.1zM131.6 523.3h1.1v1.1h-1.1zM105.6 524.3h1.1v1.1h-1.1zM126.6 530.3h1.1v1.1h-1.1zM132.6 531.3h1.1v1.1h-1.1zM102.6 532.3h1.1v1.1h-1.1zM102.6 538.3h1.1v1.1h-1.1zM123.6 539.3h1.1v1.1h-1.1zM100.6 540.3h1.1v1.1h-1.1zM118.6 541.3h1.1v1.1h-1.1zM118.6 542.3h1.1v1.1h-1.1zM113.6 544.3h1.1v1.1h-1.1zM101.6 545.3h1.1v1.1h-1.1zM102.6 548.3h1.1v1.1h-1.1zM103.6 549.3h1.1v1.1h-1.1zM104.6 549.3h1.1v1.1h-1.1zM100.6 550.3h1.1v1.1h-1.1zM108.6 550.3h1.1v1.1h-1.1zM117.6 550.3h1.1v1.1h-1.1zM115.6 551.3h1.1v1.1h-1.1zM118.6 551.3h1.1v1.1h-1.1zM111.6 554.3h1.1v1.1h-1.1zM112.6 554.3h1.1v1.1h-1.1zM117.6 555.3h1.1v1.1h-1.1zM116.6 556.3h1.1v1.1h-1.1zM110.6 557.3h1.1v1.1h-1.1zM113.6 557.3h1.1v1.1h-1.1zM109.6 558.3h1.1v1.1h-1.1zM103.6 575.3h1.1v1.1h-1.1zM105.6 575.3h1.1v1.1h-1.1zM114.6 575.3h1.1v1.1h-1.1zM116.6 575.3h1.1v1.1h-1.1zM118.6 575.3h1.1v1.1h-1.1z" fill="#323cff" opacity="0.8"/>
<path d="M123.6 490.3h1.1v1.1h-1.1zM125.6 490.3h1.1v1.1h-1.1zM125.6 491.3h1.1v1.1h-1.1zM124.6 498.3h1.1v1.1h-1.1zM124.6 499.3h1.1v1.1h-1.1zM125.6 502.3h1.1v1.1h-1.1zM132.6 502.3h1.1v1.1h-1.1zM133.6 502.3h1.1v1.1h-1.1zM125.6 503.3h1.1v1.1h-1.1zM126.6 503.3h1.1v1.1h-1.1zM130.6 504.3h1.1v1.1h-1.1zM122.6 513.3h1.1v1.1h-1.1zM122.6 514.3h1.1v1.1h-1.1zM123.6 514.3h1.1v1.1h-1.1zM125.6 514.3h1.1v1.1h-1.1zM125.6 515.3h1.1v1.1h-1.1zM127.6 515.3h1.1v1.1h-1.1zM129.6 515.3h1.1v1.1h-1.1zM118.6 516.3h1.1v1.1h-1.1zM119.6 516.3h1.1v1.1h-1.1zM120.6 516.3h1.1v1.1h-1.1zM122.6 516.3h1.1v1.1h-1.1zM125.6 516.3h1.1v1.1h-1.1zM126.6 516.3h1.1v1.1h-1.1zM127.6 516.3h1.1v1.1h-1.1zM128.6 516.3h1.1v1.1h-1.1zM129.6 516.3h1.1v1.1h-1.1zM117.6 517.3h1.1v1.1h-1.1zM122.6 517.3h1.1v1.1h-1.1zM125.6 517.3h1.1v1.1h-1.1zM117.6 518.3h1.1v1.1h-1.1zM118.6 518.3h1.1v1.1h-1.1zM119.6 518.3h1.1v1.1h-1.1zM120.6 518.3h1.1v1.1h-1.1zM125.6 518.3h1.1v1.1h-1.1zM114.6 519.3h1.1v1.1h-1.1zM119.6 519.3h1.1v1.1h-1.1zM124.6 519.3h1.1v1.1h-1.1zM127.6 519.3h1.1v1.1h-1.1zM128.6 519.3h1.1v1.1h-1.1zM114.6 520.3h1.1v1.1h-1.1zM116.6 520.3h1.1v1.1h-1.1zM117.6 520.3h1.1v1.1h-1.1zM126.6 520.3h1.1v1.1h-1.1zM118.6 521.3h1.1v1.1h-1.1zM127.6 521.3h1.1v1.1h-1.1zM113.6 522.3h1.1v1.1h-1.1zM114.6 522.3h1.1v1.1h-1.1zM126.6 522.3h1.1v1.1h-1.1zM127.6 522.3h1.1v1.1h-1.1zM113.6 523.3h1.1v1.1h-1.1zM126.6 523.3h1.1v1.1h-1.1zM112.6 524.3h1.1v1.1h-1.1zM128.6 524.3h1.1v1.1h-1.1zM111.6 525.3h1.1v1.1h-1.1zM124.6 525.3h1.1v1.1h-1.1zM125.6 525.3h1.1v1.1h-1.1zM126.6 525.3h1.1v1.1h-1.1zM128.6 525.3h1.1v1.1h-1.1zM110.6 526.3h1.1v1.1h-1.1zM126.6 526.3h1.1v1.1h-1.1zM108.6 527.3h1.1v1.1h-1.1zM126.6 527.3h1.1v1.1h-1.1zM127.6 527.3h1.1v1.1h-1.1zM107.6 528.3h1.1v1.1h-1.1zM108.6 528.3h1.1v1.1h-1.1zM123.6 528.3h1.1v1.1h-1.1zM124.6 528.3h1.1v1.1h-1.1zM126.6 528.3h1.1v1.1h-1.1zM107.6 529.3h1.1v1.1h-1.1zM108.6 529.3h1.1v1.1h-1.1zM107.6 531.3h1.1v1.1h-1.1zM123.6 531.3h1.1v1.1h-1.1zM110.6 532.3h1.1v1.1h-1.1zM124.6 532.3h1.1v1.1h-1.1zM106.6 533.3h1.1v1.1h-1.1zM107.6 533.3h1.1v1.1h-1.1zM121.6 533.3h1.1v1.1h-1.1zM123.6 533.3h1.1v1.1h-1.1zM124.6 533.3h1.1v1.1h-1.1zM105.6 534.3h1.1v1.1h-1.1zM106.6 534.3h1.1v1.1h-1.1zM122.6 534.3h1.1v1.1h-1.1zM123.6 534.3h1.1v1.1h-1.1zM106.6 536.3h1.1v1.1h-1.1zM105.6 537.3h1.1v1.1h-1.1zM120.6 537.3h1.1v1.1h-1.1zM121.6 537.3h1.1v1.1h-1.1zM105.6 538.3h1.1v1.1h-1.1zM118.6 538.3h1.1v1.1h-1.1zM120.6 538.3h1.1v1.1h-1.1zM104.6 539.3h1.1v1.1h-1.1zM117.6 539.3h1.1v1.1h-1.1zM101.6 541.3h1.1v1.1h-1.1zM102.6 541.3h1.1v1.1h-1.1zM104.6 541.3h1.1v1.1h-1.1zM105.6 541.3h1.1v1.1h-1.1zM107.6 541.3h1.1v1.1h-1.1zM109.6 541.3h1.1v1.1h-1.1zM111.6 541.3h1.1v1.1h-1.1zM113.6 541.3h1.1v1.1h-1.1zM104.6 542.3h1.1v1.1h-1.1zM106.6 542.3h1.1v1.1h-1.1zM115.6 542.3h1.1v1.1h-1.1zM104.6 543.3h1.1v1.1h-1.1zM105.6 543.3h1.1v1.1h-1.1zM107.6 543.3h1.1v1.1h-1.1zM115.6 543.3h1.1v1.1h-1.1zM116.6 543.3h1.1v1.1h-1.1zM105.6 544.3h1.1v1.1h-1.1zM106.6 544.3h1.1v1.1h-1.1zM105.6 545.3h1.1v1.1h-1.1zM107.6 545.3h1.1v1.1h-1.1zM108.6 545.3h1.1v1.1h-1.1zM111.6 545.3h1.1v1.1h-1.1zM114.6 545.3h1.1v1.1h-1.1zM115.6 545.3h1.1v1.1h-1.1zM102.6 546.3h1.1v1.1h-1.1zM104.6 546.3h1.1v1.1h-1.1zM105.6 546.3h1.1v1.1h-1.1zM107.6 546.3h1.1v1.1h-1.1zM115.6 546.3h1.1v1.1h-1.1zM117.6 546.3h1.1v1.1h-1.1zM104.6 547.3h1.1v1.1h-1.1zM108.6 547.3h1.1v1.1h-1.1zM109.6 547.3h1.1v1.1h-1.1zM110.6 547.3h1.1v1.1h-1.1zM113.6 547.3h1.1v1.1h-1.1zM114.6 547.3h1.1v1.1h-1.1zM117.6 547.3h1.1v1.1h-1.1zM118.6 547.3h1.1v1.1h-1.1zM105.6 548.3h1.1v1.1h-1.1zM107.6 548.3h1.1v1.1h-1.1zM108.6 548.3h1.1v1.1h-1.1zM111.6 548.3h1.1v1.1h-1.1zM112.6 548.3h1.1v1.1h-1.1zM113.6 548.3h1.1v1.1h-1.1zM116.6 548.3h1.1v1.1h-1.1zM117.6 548.3h1.1v1.1h-1.1zM118.6 548.3h1.1v1.1h-1.1zM112.6 549.3h1.1v1.1h-1.1zM113.6 549.3h1.1v1.1h-1.1zM114.6 550.3h1.1v1.1h-1.1zM113.6 551.3h1.1v1.1h-1.1zM112.6 552.3h1.1v1.1h-1.1zM113.6 552.3h1.1v1.1h-1.1zM114.6 553.3h1.1v1.1h-1.1zM115.6 553.3h1.1v1.1h-1.1zM115.6 554.3h1.1v1.1h-1.1zM114.6 556.3h1.1v1.1h-1.1zM115.6 556.3h1.1v1.1h-1.1zM113.6 574.3h1.1v1.1h-1.1zM110.6 575.3h1.1v1.1h-1.1zM111.6 575.3h1.1v1.1h-1.1zM112.6 575.3h1.1v1.1h-1.1z" fill="#323cff" opacity="0.8"/>
<path d="M121.6 518.3h1.1v1.1h-1.1zM122.6 518.3h1.1v1.1h-1.1zM120.6 519.3h1.1v1.1h-1.1zM123.6 519.3h1.1v1.1h-1.1zM118.6 520.3h1.1v1.1h-1.1zM119.6 520.3h1.1v1.1h-1.1zM121.6 520.3h1.1v1.1h-1.1zM124.6 520.3h1.1v1.1h-1.1zM125.6 520.3h1.1v1.1h-1.1zM116.6 521.3h1.1v1.1h-1.1zM119.6 521.3h1.1v1.1h-1.1zM120.6 521.3h1.1v1.1h-1.1zM124.6 521.3h1.1v1.1h-1.1zM126.6 521.3h1.1v1.1h-1.1zM119.6 522.3h1.1v1.1h-1.1zM120.6 522.3h1.1v1.1h-1.1zM124.6 522.3h1.1v1.1h-1.1zM125.6 522.3h1.1v1.1h-1.1zM114.6 523.3h1.1v1.1h-1.1zM125.6 523.3h1.1v1.1h-1.1zM112.6 525.3h1.1v1.1h-1.1zM123.6 525.3h1.1v1.1h-1.1zM123.6 526.3h1.1v1.1h-1.1zM124.6 526.3h1.1v1.1h-1.1zM111.6 527.3h1.1v1.1h-1.1zM123.6 527.3h1.1v1.1h-1.1zM124.6 527.3h1.1v1.1h-1.1zM122.6 528.3h1.1v1.1h-1.1zM109.6 529.3h1.1v1.1h-1.1zM122.6 529.3h1.1v1.1h-1.1zM123.6 529.3h1.1v1.1h-1.1zM108.6 530.3h1.1v1.1h-1.1zM108.6 531.3h1.1v1.1h-1.1zM121.6 531.3h1.1v1.1h-1.1zM108.6 533.3h1.1v1.1h-1.1zM120.6 533.3h1.1v1.1h-1.1zM122.6 533.3h1.1v1.1h-1.1zM120.6 535.3h1.1v1.1h-1.1zM108.6 536.3h1.1v1.1h-1.1zM118.6 536.3h1.1v1.1h-1.1zM120.6 536.3h1.1v1.1h-1.1zM106.6 537.3h1.1v1.1h-1.1zM118.6 537.3h1.1v1.1h-1.1zM119.6 537.3h1.1v1.1h-1.1zM106.6 538.3h1.1v1.1h-1.1zM107.6 538.3h1.1v1.1h-1.1zM116.6 538.3h1.1v1.1h-1.1zM105.6 539.3h1.1v1.1h-1.1zM106.6 540.3h1.1v1.1h-1.1zM107.6 540.3h1.1v1.1h-1.1zM115.6 540.3h1.1v1.1h-1.1zM116.6 540.3h1.1v1.1h-1.1zM106.6 541.3h1.1v1.1h-1.1zM109.6 542.3h1.1v1.1h-1.1zM112.6 542.3h1.1v1.1h-1.1zM113.6 542.3h1.1v1.1h-1.1zM108.6 543.3h1.1v1.1h-1.1zM110.6 543.3h1.1v1.1h-1.1zM111.6 544.3h1.1v1.1h-1.1zM112.6 544.3h1.1v1.1h-1.1zM114.6 544.3h1.1v1.1h-1.1zM109.6 545.3h1.1v1.1h-1.1zM110.6 545.3h1.1v1.1h-1.1zM113.6 545.3h1.1v1.1h-1.1zM110.6 546.3h1.1v1.1h-1.1zM111.6 546.3h1.1v1.1h-1.1zM112.6 546.3h1.1v1.1h-1.1zM111.6 547.3h1.1v1.1h-1.1z" fill="#323cff" opacity="0.8"/>
<path d="M122.6 520.3h1.1v1.1h-1.1zM123.6 521.3h1.1v1.1h-1.1zM115.6 522.3h1.1v1.1h-1.1zM117.6 522.3h1.1v1.1h-1.1zM118.6 522.3h1.1v1.1h-1.1zM123.6 522.3h1.1v1.1h-1.1zM116.6 523.3h1.1v1.1h-1.1zM121.6 523.3h1.1v1.1h-1.1zM122.6 523.3h1.1v1.1h-1.1zM124.6 523.3h1.1v1.1h-1.1zM113.6 524.3h1.1v1.1h-1.1zM122.6 525.3h1.1v1.1h-1.1zM112.6 527.3h1.1v1.1h-1.1zM121.6 527.3h1.1v1.1h-1.1zM111.6 528.3h1.1v1.1h-1.1zM121.6 529.3h1.1v1.1h-1.1zM121.6 530.3h1.1v1.1h-1.1zM122.6 530.3h1.1v1.1h-1.1zM110.6 531.3h1.1v1.1h-1.1zM120.6 531.3h1.1v1.1h-1.1zM108.6 532.3h1.1v1.1h-1.1zM109.6 532.3h1.1v1.1h-1.1zM120.6 532.3h1.1v1.1h-1.1zM107.6 534.3h1.1v1.1h-1.1zM108.6 534.3h1.1v1.1h-1.1zM109.6 534.3h1.1v1.1h-1.1zM119.6 534.3h1.1v1.1h-1.1zM120.6 534.3h1.1v1.1h-1.1zM118.6 535.3h1.1v1.1h-1.1zM119.6 535.3h1.1v1.1h-1.1zM110.6 536.3h1.1v1.1h-1.1zM119.6 536.3h1.1v1.1h-1.1zM108.6 538.3h1.1v1.1h-1.1zM106.6 539.3h1.1v1.1h-1.1zM108.6 539.3h1.1v1.1h-1.1zM112.6 539.3h1.1v1.1h-1.1zM115.6 539.3h1.1v1.1h-1.1zM108.6 541.3h1.1v1.1h-1.1zM114.6 541.3h1.1v1.1h-1.1zM108.6 542.3h1.1v1.1h-1.1zM110.6 542.3h1.1v1.1h-1.1zM109.6 543.3h1.1v1.1h-1.1zM112.6 543.3h1.1v1.1h-1.1zM112.6 545.3h1.1v1.1h-1.1z" fill="#0a64ff" opacity="1"/>
<path d="M121.6 519.3h1.1v1.1h-1.1zM122.6 519.3h1.1v1.1h-1.1zM123.6 520.3h1.1v1.1h-1.1zM117.6 521.3h1.1v1.1h-1.1zM121.6 521.3h1.1v1.1h-1.1zM121.6 522.3h1.1v1.1h-1.1zM122.6 522.3h1.1v1.1h-1.1zM117.6 523.3h1.1v1.1h-1.1zM118.6 523.3h1.1v1.1h-1.1zM119.6 523.3h1.1v1.1h-1.1zM123.6 523.3h1.1v1.1h-1.1zM114.6 524.3h1.1v1.1h-1.1zM121.6 524.3h1.1v1.1h-1.1zM123.6 524.3h1.1v1.1h-1.1zM114.6 525.3h1.1v1.1h-1.1zM115.6 525.3h1.1v1.1h-1.1zM121.6 525.3h1.1v1.1h-1.1zM112.6 526.3h1.1v1.1h-1.1zM113.6 526.3h1.1v1.1h-1.1zM122.6 526.3h1.1v1.1h-1.1zM113.6 527.3h1.1v1.1h-1.1zM122.6 527.3h1.1v1.1h-1.1zM111.6 529.3h1.1v1.1h-1.1zM110.6 530.3h1.1v1.1h-1.1zM122.6 531.3h1.1v1.1h-1.1zM121.6 532.3h1.1v1.1h-1.1zM122.6 532.3h1.1v1.1h-1.1zM119.6 533.3h1.1v1.1h-1.1zM121.6 534.3h1.1v1.1h-1.1zM109.6 535.3h1.1v1.1h-1.1zM109.6 536.3h1.1v1.1h-1.1zM117.6 536.3h1.1v1.1h-1.1zM107.6 537.3h1.1v1.1h-1.1zM108.6 537.3h1.1v1.1h-1.1zM109.6 537.3h1.1v1.1h-1.1zM117.6 537.3h1.1v1.1h-1.1zM112.6 538.3h1.1v1.1h-1.1zM117.6 538.3h1.1v1.1h-1.1zM107.6 539.3h1.1v1.1h-1.1zM111.6 540.3h1.1v1.1h-1.1zM112.6 540.3h1.1v1.1h-1.1zM113.6 540.3h1.1v1.1h-1.1zM110.6 541.3h1.1v1.1h-1.1zM111.6 542.3h1.1v1.1h-1.1zM111.6 543.3h1.1v1.1h-1.1z" fill="#0078ff" opacity="1"/>
<path d="M120.6 523.3h1.1v1.1h-1.1zM115.6 524.3h1.1v1.1h-1.1zM116.6 524.3h1.1v1.1h-1.1zM119.6 524.3h1.1v1.1h-1.1zM124.6 524.3h1.1v1.1h-1.1zM119.6 525.3h1.1v1.1h-1.1zM114.6 526.3h1.1v1.1h-1.1zM115.6 526.3h1.1v1.1h-1.1zM116.6 526.3h1.1v1.1h-1.1zM114.6 527.3h1.1v1.1h-1.1zM116.6 527.3h1.1v1.1h-1.1zM112.6 528.3h1.1v1.1h-1.1zM113.6 528.3h1.1v1.1h-1.1zM121.6 528.3h1.1v1.1h-1.1zM120.6 530.3h1.1v1.1h-1.1zM118.6 533.3h1.1v1.1h-1.1zM117.6 534.3h1.1v1.1h-1.1zM116.6 535.3h1.1v1.1h-1.1zM115.6 536.3h1.1v1.1h-1.1zM116.6 536.3h1.1v1.1h-1.1zM110.6 537.3h1.1v1.1h-1.1zM116.6 537.3h1.1v1.1h-1.1zM110.6 538.3h1.1v1.1h-1.1zM111.6 538.3h1.1v1.1h-1.1zM115.6 538.3h1.1v1.1h-1.1zM110.6 539.3h1.1v1.1h-1.1zM113.6 539.3h1.1v1.1h-1.1zM109.6 540.3h1.1v1.1h-1.1zM110.6 540.3h1.1v1.1h-1.1zM114.6 540.3h1.1v1.1h-1.1zM110.6 544.3h1.1v1.1h-1.1z" fill="#0097ed" opacity="1"/>
<path d="M116.6 522.3h1.1v1.1h-1.1zM118.6 524.3h1.1v1.1h-1.1zM120.6 524.3h1.1v1.1h-1.1zM122.6 524.3h1.1v1.1h-1.1zM116.6 525.3h1.1v1.1h-1.1zM118.6 526.3h1.1v1.1h-1.1zM120.6 526.3h1.1v1.1h-1.1zM121.6 526.3h1.1v1.1h-1.1zM115.6 527.3h1.1v1.1h-1.1zM120.6 529.3h1.1v1.1h-1.1zM112.6 531.3h1.1v1.1h-1.1zM119.6 531.3h1.1v1.1h-1.1zM111.6 532.3h1.1v1.1h-1.1zM119.6 532.3h1.1v1.1h-1.1zM110.6 533.3h1.1v1.1h-1.1zM110.6 534.3h1.1v1.1h-1.1zM111.6 534.3h1.1v1.1h-1.1zM112.6 534.3h1.1v1.1h-1.1zM110.6 535.3h1.1v1.1h-1.1zM111.6 535.3h1.1v1.1h-1.1zM117.6 535.3h1.1v1.1h-1.1zM111.6 536.3h1.1v1.1h-1.1zM111.6 537.3h1.1v1.1h-1.1zM113.6 537.3h1.1v1.1h-1.1zM115.6 537.3h1.1v1.1h-1.1zM109.6 538.3h1.1v1.1h-1.1zM113.6 538.3h1.1v1.1h-1.1zM109.6 539.3h1.1v1.1h-1.1zM114.6 539.3h1.1v1.1h-1.1z" fill="#00b6dc" opacity="1"/>
<path d="M117.6 525.3h1.1v1.1h-1.1zM120.6 525.3h1.1v1.1h-1.1zM118.6 527.3h1.1v1.1h-1.1zM116.6 528.3h1.1v1.1h-1.1zM113.6 529.3h1.1v1.1h-1.1zM111.6 531.3h1.1v1.1h-1.1zM118.6 532.3h1.1v1.1h-1.1zM111.6 533.3h1.1v1.1h-1.1zM117.6 533.3h1.1v1.1h-1.1zM118.6 534.3h1.1v1.1h-1.1zM113.6 536.3h1.1v1.1h-1.1zM114.6 536.3h1.1v1.1h-1.1zM114.6 538.3h1.1v1.1h-1.1zM111.6 539.3h1.1v1.1h-1.1z" fill="#00d5cb" opacity="1"/>
<path d="M117.6 524.3h1.1v1.1h-1.1zM117.6 526.3h1.1v1.1h-1.1zM119.6 526.3h1.1v1.1h-1.1zM117.6 527.3h1.1v1.1h-1.1zM120.6 527.3h1.1v1.1h-1.1zM114.6 528.3h1.1v1.1h-1.1zM117.6 528.3h1.1v1.1h-1.1zM119.6 528.3h1.1v1.1h-1.1zM112.6 529.3h1.1v1.1h-1.1zM117.6 529.3h1.1v1.1h-1.1zM119.6 529.3h1.1v1.1h-1.1zM112.6 530.3h1.1v1.1h-1.1zM119.6 530.3h1.1v1.1h-1.1zM118.6 531.3h1.1v1.1h-1.1zM117.6 532.3h1.1v1.1h-1.1zM116.6 534.3h1.1v1.1h-1.1zM115.6 535.3h1.1v1.1h-1.1zM112.6 537.3h1.1v1.1h-1.1zM114.6 537.3h1.1v1.1h-1.1z" fill="#0ddf99" opacity="1"/>
<path d="M118.6 525.3h1.1v1.1h-1.1zM119.6 527.3h1.1v1.1h-1.1zM115.6 528.3h1.1v1.1h-1.1zM118.6 528.3h1.1v1.1h-1.1zM120.6 528.3h1.1v1.1h-1.1zM113.6 530.3h1.1v1.1h-1.1zM112.6 532.3h1.1v1.1h-1.1zM112.6 535.3h1.1v1.1h-1.1zM112.6 536.3h1.1v1.1h-1.1z" fill="#1ee35e" opacity="1"/>
<path d="M114.6 529.3h1.1v1.1h-1.1zM115.6 529.3h1.1v1.1h-1.1zM116.6 529.3h1.1v1.1h-1.1zM114.6 530.3h1.1v1.1h-1.1zM117.6 530.3h1.1v1.1h-1.1zM118.6 530.3h1.1v1.1h-1.1zM113.6 531.3h1.1v1.1h-1.1zM113.6 532.3h1.1v1.1h-1.1zM112.6 533.3h1.1v1.1h-1.1zM116.6 533.3h1.1v1.1h-1.1zM113.6 535.3h1.1v1.1h-1.1z" fill="#47e631" opacity="1"/>
<path d="M118.6 529.3h1.1v1.1h-1.1zM117.6 531.3h1.1v1.1h-1.1zM114.6 532.3h1.1v1.1h-1.1zM116.6 532.3h1.1v1.1h-1.1zM113.6 533.3h1.1v1.1h-1.1zM114.6 534.3h1.1v1.1h-1.1z" fill="#96e619" opacity="1"/>
<path d="M115.6 530.3h1.1v1.1h-1.1zM116.6 530.3h1.1v1.1h-1.1zM115.6 531.3h1.1v1.1h-1.1zM115.6 533.3h1.1v1.1h-1.1zM113.6 534.3h1.1v1.1h-1.1zM115.6 534.3h1.1v1.1h-1.1zM114.6 535.3h1.1v1.1h-1.1z" fill="#e6e600" opacity="1"/>
<path d="M114.6 531.3h1.1v1.1h-1.1zM115.6 532.3h1.1v1.1h-1.1zM114.6 533.3h1.1v1.1h-1.1z" fill="#f2ba00" opacity="1"/>
<path d="M116.6 531.3h1.1v1.1h-1.1z" fill="#fe8f00" opacity="1"/>
</g>
<line x1="127.1" y1="471.3" x2="127.1" y2="576.1" stroke="#383838" stroke-width="1.1"/>
<line x1="50.6" y1="514.3" x2="174.6" y2="514.3" stroke="#383838" stroke-width="1.1"/>
<text x="53.6" y="479.6" font-size="4.6" text-anchor="start" fill="#333" stroke="#333" stroke-width="0">Q1</text>
<text x="53.6" y="486.3" font-size="4.6" text-anchor="start" fill="#333" stroke="#333" stroke-width="0">1.50</text>
<text x="164.6" y="479.6" font-size="4.6" text-anchor="end" fill="#333" stroke="#333" stroke-width="0">Q2</text>
<text x="164.6" y="486.3" font-size="4.6" text-anchor="end" fill="#333" stroke="#333" stroke-width="0">1.47</text>
<text x="53.6" y="564.1" font-size="4.6" text-anchor="start" fill="#333" stroke="#333" stroke-width="0">Q4</text>
<text x="53.6" y="571.1" font-size="4.6" text-anchor="start" fill="#333" stroke="#333" stroke-width="0">94.5</text>
<text x="164.6" y="564.1" font-size="4.6" text-anchor="end" fill="#333" stroke="#333" stroke-width="0">Q3</text>
<text x="164.6" y="571.1" font-size="4.6" text-anchor="end" fill="#333" stroke="#333" stroke-width="0">2.56</text>
<text x="43.4" y="580.1" font-size="11.5" text-anchor="end" fill="#222" stroke="#222" stroke-width="0.3">10</text>
<text x="43.7" y="575.6" font-size="7.5" text-anchor="start" fill="#222" stroke="#222" stroke-width="0">0</text>
<line x1="48.1" y1="576.1" x2="50.6" y2="576.1" stroke="#444" stroke-width="0.8"/>
<line x1="49.1" y1="569.2" x2="50.6" y2="569.2" stroke="#666" stroke-width="0.6"/>
<text x="43.4" y="566.4" font-size="11.5" text-anchor="end" fill="#222" stroke="#222" stroke-width="0.3">10</text>
<text x="43.7" y="561.9" font-size="7.5" text-anchor="start" fill="#222" stroke="#222" stroke-width="0">1</text>
<line x1="48.1" y1="562.4" x2="50.6" y2="562.4" stroke="#444" stroke-width="0.8"/>
<line x1="49.1" y1="555.5" x2="50.6" y2="555.5" stroke="#666" stroke-width="0.6"/>
<text x="43.4" y="552.7" font-size="11.5" text-anchor="end" fill="#222" stroke="#222" stroke-width="0.3">10</text>
<text x="43.7" y="548.2" font-size="7.5" text-anchor="start" fill="#222" stroke="#222" stroke-width="0">2</text>
<line x1="48.1" y1="548.7" x2="50.6" y2="548.7" stroke="#444" stroke-width="0.8"/>
<line x1="49.1" y1="541.9" x2="50.6" y2="541.9" stroke="#666" stroke-width="0.6"/>
<text x="43.4" y="539.0" font-size="11.5" text-anchor="end" fill="#222" stroke="#222" stroke-width="0.3">10</text>
<text x="43.7" y="534.5" font-size="7.5" text-anchor="start" fill="#222" stroke="#222" stroke-width="0">3</text>
<line x1="48.1" y1="535.0" x2="50.6" y2="535.0" stroke="#444" stroke-width="0.8"/>
<line x1="49.1" y1="528.1" x2="50.6" y2="528.1" stroke="#666" stroke-width="0.6"/>
<text x="43.4" y="525.3" font-size="11.5" text-anchor="end" fill="#222" stroke="#222" stroke-width="0.3">10</text>
<text x="43.7" y="520.8" font-size="7.5" text-anchor="start" fill="#222" stroke="#222" stroke-width="0">4</text>
<line x1="48.1" y1="521.3" x2="50.6" y2="521.3" stroke="#444" stroke-width="0.8"/>
<line x1="49.1" y1="514.5" x2="50.6" y2="514.5" stroke="#666" stroke-width="0.6"/>
<text x="43.4" y="511.6" font-size="11.5" text-anchor="end" fill="#222" stroke="#222" stroke-width="0.3">10</text>
<text x="43.7" y="507.1" font-size="7.5" text-anchor="start" fill="#222" stroke="#222" stroke-width="0">5</text>
<line x1="48.1" y1="507.6" x2="50.6" y2="507.6" stroke="#444" stroke-width="0.8"/>
<line x1="49.1" y1="500.8" x2="50.6" y2="500.8" stroke="#666" stroke-width="0.6"/>
<text x="43.4" y="497.9" font-size="11.5" text-anchor="end" fill="#222" stroke="#222" stroke-width="0.3">10</text>
<text x="43.7" y="493.4" font-size="7.5" text-anchor="start" fill="#222" stroke="#222" stroke-width="0">6</text>
<line x1="48.1" y1="493.9" x2="50.6" y2="493.9" stroke="#444" stroke-width="0.8"/>
<line x1="49.1" y1="487.1" x2="50.6" y2="487.1" stroke="#666" stroke-width="0.6"/>
<text x="43.4" y="484.2" font-size="11.5" text-anchor="end" fill="#222" stroke="#222" stroke-width="0.3">10</text>
<text x="43.7" y="479.7" font-size="7.5" text-anchor="start" fill="#222" stroke="#222" stroke-width="0">7</text>
<line x1="48.1" y1="480.2" x2="50.6" y2="480.2" stroke="#444" stroke-width="0.8"/>
<line x1="49.1" y1="473.4" x2="50.6" y2="473.4" stroke="#666" stroke-width="0.6"/>
<text x="53.5" y="589.1" font-size="11.5" text-anchor="start" fill="#222" stroke="#222" stroke-width="0.3">10</text>
<text x="65.8" y="584.1" font-size="7.5" text-anchor="start" fill="#222" stroke="#222" stroke-width="0">0</text>
<text x="85.2" y="589.1" font-size="11.5" text-anchor="start" fill="#222" stroke="#222" stroke-width="0.3">10</text>
<text x="97.5" y="584.1" font-size="7.5" text-anchor="start" fill="#222" stroke="#222" stroke-width="0">2</text>
<text x="117.4" y="589.1" font-size="11.5" text-anchor="start" fill="#222" stroke="#222" stroke-width="0.3">10</text>
<text x="129.7" y="584.1" font-size="7.5" text-anchor="start" fill="#222" stroke="#222" stroke-width="0">4</text>
<text x="152.4" y="589.1" font-size="11.5" text-anchor="start" fill="#222" stroke="#222" stroke-width="0.3">10</text>
<text x="164.7" y="584.1" font-size="7.5" text-anchor="start" fill="#222" stroke="#222" stroke-width="0">6</text>
<line x1="52.6" y1="576.1" x2="52.6" y2="578.1" stroke="#777" stroke-width="0.6"/>
<line x1="55.1" y1="576.1" x2="55.1" y2="577.1" stroke="#777" stroke-width="0.6"/>
<line x1="57.5" y1="576.1" x2="57.5" y2="577.1" stroke="#777" stroke-width="0.6"/>
<line x1="60.0" y1="576.1" x2="60.0" y2="577.1" stroke="#777" stroke-width="0.6"/>
<line x1="62.4" y1="576.1" x2="62.4" y2="577.1" stroke="#777" stroke-width="0.6"/>
<line x1="64.8" y1="576.1" x2="64.8" y2="577.1" stroke="#777" stroke-width="0.6"/>
<line x1="67.3" y1="576.1" x2="67.3" y2="577.1" stroke="#777" stroke-width="0.6"/>
<line x1="69.8" y1="576.1" x2="69.8" y2="578.1" stroke="#777" stroke-width="0.6"/>
<line x1="72.2" y1="576.1" x2="72.2" y2="577.1" stroke="#777" stroke-width="0.6"/>
<line x1="74.7" y1="576.1" x2="74.7" y2="577.1" stroke="#777" stroke-width="0.6"/>
<line x1="77.1" y1="576.1" x2="77.1" y2="577.1" stroke="#777" stroke-width="0.6"/>
<line x1="79.6" y1="576.1" x2="79.6" y2="577.1" stroke="#777" stroke-width="0.6"/>
<line x1="82.0" y1="576.1" x2="82.0" y2="577.1" stroke="#777" stroke-width="0.6"/>
<line x1="84.5" y1="576.1" x2="84.5" y2="577.1" stroke="#777" stroke-width="0.6"/>
<line x1="86.9" y1="576.1" x2="86.9" y2="578.1" stroke="#777" stroke-width="0.6"/>
<line x1="89.3" y1="576.1" x2="89.3" y2="577.1" stroke="#777" stroke-width="0.6"/>
<line x1="91.8" y1="576.1" x2="91.8" y2="577.1" stroke="#777" stroke-width="0.6"/>
<line x1="94.2" y1="576.1" x2="94.2" y2="577.1" stroke="#777" stroke-width="0.6"/>
<line x1="96.7" y1="576.1" x2="96.7" y2="577.1" stroke="#777" stroke-width="0.6"/>
<line x1="99.2" y1="576.1" x2="99.2" y2="577.1" stroke="#777" stroke-width="0.6"/>
<line x1="101.6" y1="576.1" x2="101.6" y2="577.1" stroke="#777" stroke-width="0.6"/>
<line x1="104.1" y1="576.1" x2="104.1" y2="578.1" stroke="#777" stroke-width="0.6"/>
<line x1="106.5" y1="576.1" x2="106.5" y2="577.1" stroke="#777" stroke-width="0.6"/>
<line x1="109.0" y1="576.1" x2="109.0" y2="577.1" stroke="#777" stroke-width="0.6"/>
<line x1="111.4" y1="576.1" x2="111.4" y2="577.1" stroke="#777" stroke-width="0.6"/>
<line x1="113.9" y1="576.1" x2="113.9" y2="577.1" stroke="#777" stroke-width="0.6"/>
<line x1="116.3" y1="576.1" x2="116.3" y2="577.1" stroke="#777" stroke-width="0.6"/>
<line x1="118.8" y1="576.1" x2="118.8" y2="577.1" stroke="#777" stroke-width="0.6"/>
<line x1="121.2" y1="576.1" x2="121.2" y2="578.1" stroke="#777" stroke-width="0.6"/>
<line x1="123.7" y1="576.1" x2="123.7" y2="577.1" stroke="#777" stroke-width="0.6"/>
<line x1="126.1" y1="576.1" x2="126.1" y2="577.1" stroke="#777" stroke-width="0.6"/>
<line x1="128.6" y1="576.1" x2="128.6" y2="577.1" stroke="#777" stroke-width="0.6"/>
<line x1="131.0" y1="576.1" x2="131.0" y2="577.1" stroke="#777" stroke-width="0.6"/>
<line x1="133.5" y1="576.1" x2="133.5" y2="577.1" stroke="#777" stroke-width="0.6"/>
<line x1="135.9" y1="576.1" x2="135.9" y2="577.1" stroke="#777" stroke-width="0.6"/>
<line x1="138.3" y1="576.1" x2="138.3" y2="578.1" stroke="#777" stroke-width="0.6"/>
<line x1="140.8" y1="576.1" x2="140.8" y2="577.1" stroke="#777" stroke-width="0.6"/>
<line x1="143.2" y1="576.1" x2="143.2" y2="577.1" stroke="#777" stroke-width="0.6"/>
<line x1="145.7" y1="576.1" x2="145.7" y2="577.1" stroke="#777" stroke-width="0.6"/>
<line x1="148.2" y1="576.1" x2="148.2" y2="577.1" stroke="#777" stroke-width="0.6"/>
<line x1="150.6" y1="576.1" x2="150.6" y2="577.1" stroke="#777" stroke-width="0.6"/>
<line x1="153.1" y1="576.1" x2="153.1" y2="577.1" stroke="#777" stroke-width="0.6"/>
<line x1="155.5" y1="576.1" x2="155.5" y2="578.1" stroke="#777" stroke-width="0.6"/>
<line x1="158.0" y1="576.1" x2="158.0" y2="577.1" stroke="#777" stroke-width="0.6"/>
<line x1="160.4" y1="576.1" x2="160.4" y2="577.1" stroke="#777" stroke-width="0.6"/>
<line x1="162.9" y1="576.1" x2="162.9" y2="577.1" stroke="#777" stroke-width="0.6"/>
<line x1="165.3" y1="576.1" x2="165.3" y2="577.1" stroke="#777" stroke-width="0.6"/>
<line x1="167.8" y1="576.1" x2="167.8" y2="577.1" stroke="#777" stroke-width="0.6"/>
<line x1="170.2" y1="576.1" x2="170.2" y2="577.1" stroke="#777" stroke-width="0.6"/>
<line x1="172.7" y1="576.1" x2="172.7" y2="578.1" stroke="#777" stroke-width="0.6"/>
<rect x="197.2" y="471.3" width="124" height="104.8" fill="#fff" stroke="#b0b0b0" stroke-width="1"/>
<g filter="url(#fblur)">
<path d="M289.2 484.3h1.1v1.1h-1.1zM277.2 486.3h1.1v1.1h-1.1zM286.2 487.3h1.1v1.1h-1.1zM289.2 487.3h1.1v1.1h-1.1zM287.2 488.3h1.1v1.1h-1.1zM273.2 489.3h1.1v1.1h-1.1zM294.2 489.3h1.1v1.1h-1.1zM276.2 490.3h1.1v1.1h-1.1zM277.2 490.3h1.1v1.1h-1.1zM278.2 490.3h1.1v1.1h-1.1zM292.2 490.3h1.1v1.1h-1.1zM263.2 491.3h1.1v1.1h-1.1zM265.2 491.3h1.1v1.1h-1.1zM271.2 491.3h1.1v1.1h-1.1zM288.2 491.3h1.1v1.1h-1.1zM291.2 491.3h1.1v1.1h-1.1zM295.2 491.3h1.1v1.1h-1.1zM270.2 492.3h1.1v1.1h-1.1zM274.2 492.3h1.1v1.1h-1.1zM292.2 492.3h1.1v1.1h-1.1zM293.2 492.3h1.1v1.1h-1.1zM260.2 493.3h1.1v1.1h-1.1zM262.2 493.3h1.1v1.1h-1.1zM275.2 494.3h1.1v1.1h-1.1zM289.2 494.3h1.1v1.1h-1.1zM270.2 495.3h1.1v1.1h-1.1zM276.2 495.3h1.1v1.1h-1.1zM259.2 496.3h1.1v1.1h-1.1zM263.2 496.3h1.1v1.1h-1.1zM265.2 496.3h1.1v1.1h-1.1zM279.2 496.3h1.1v1.1h-1.1zM267.2 497.3h1.1v1.1h-1.1zM282.2 497.3h1.1v1.1h-1.1zM252.2 498.3h1.1v1.1h-1.1zM260.2 498.3h1.1v1.1h-1.1zM269.2 498.3h1.1v1.1h-1.1zM274.2 498.3h1.1v1.1h-1.1zM285.2 498.3h1.1v1.1h-1.1zM294.2 498.3h1.1v1.1h-1.1zM256.2 499.3h1.1v1.1h-1.1zM269.2 499.3h1.1v1.1h-1.1zM283.2 499.3h1.1v1.1h-1.1zM265.2 500.3h1.1v1.1h-1.1zM266.2 500.3h1.1v1.1h-1.1zM270.2 502.3h1.1v1.1h-1.1zM277.2 503.3h1.1v1.1h-1.1zM281.2 503.3h1.1v1.1h-1.1zM266.2 504.3h1.1v1.1h-1.1zM273.2 504.3h1.1v1.1h-1.1zM280.2 504.3h1.1v1.1h-1.1zM275.2 505.3h1.1v1.1h-1.1zM272.2 506.3h1.1v1.1h-1.1zM267.2 507.3h1.1v1.1h-1.1zM259.2 508.3h1.1v1.1h-1.1zM260.2 508.3h1.1v1.1h-1.1zM262.2 508.3h1.1v1.1h-1.1zM271.2 508.3h1.1v1.1h-1.1zM275.2 508.3h1.1v1.1h-1.1zM278.2 508.3h1.1v1.1h-1.1zM272.2 509.3h1.1v1.1h-1.1zM279.2 509.3h1.1v1.1h-1.1zM280.2 509.3h1.1v1.1h-1.1zM266.2 510.3h1.1v1.1h-1.1zM272.2 510.3h1.1v1.1h-1.1zM275.2 511.3h1.1v1.1h-1.1zM266.2 512.3h1.1v1.1h-1.1zM271.2 512.3h1.1v1.1h-1.1zM278.2 512.3h1.1v1.1h-1.1zM263.2 513.3h1.1v1.1h-1.1zM280.2 513.3h1.1v1.1h-1.1zM261.2 514.3h1.1v1.1h-1.1zM264.2 514.3h1.1v1.1h-1.1zM278.2 515.3h1.1v1.1h-1.1zM288.2 515.3h1.1v1.1h-1.1zM275.2 516.3h1.1v1.1h-1.1zM289.2 516.3h1.1v1.1h-1.1zM258.2 518.3h1.1v1.1h-1.1zM267.2 518.3h1.1v1.1h-1.1zM276.2 518.3h1.1v1.1h-1.1zM278.2 518.3h1.1v1.1h-1.1zM279.2 520.3h1.1v1.1h-1.1zM260.2 522.3h1.1v1.1h-1.1zM252.2 525.3h1.1v1.1h-1.1zM273.2 528.3h1.1v1.1h-1.1zM251.2 531.3h1.1v1.1h-1.1zM270.2 534.3h1.1v1.1h-1.1zM268.2 535.3h1.1v1.1h-1.1zM267.2 538.3h1.1v1.1h-1.1zM249.2 544.3h1.1v1.1h-1.1zM267.2 544.3h1.1v1.1h-1.1zM265.2 545.3h1.1v1.1h-1.1zM265.2 546.3h1.1v1.1h-1.1zM252.2 547.3h1.1v1.1h-1.1zM254.2 547.3h1.1v1.1h-1.1zM247.2 548.3h1.1v1.1h-1.1zM264.2 549.3h1.1v1.1h-1.1zM261.2 550.3h1.1v1.1h-1.1zM260.2 551.3h1.1v1.1h-1.1zM257.2 552.3h1.1v1.1h-1.1zM256.2 554.3h1.1v1.1h-1.1zM255.2 562.3h1.1v1.1h-1.1zM254.2 574.3h1.1v1.1h-1.1zM273.2 574.3h1.1v1.1h-1.1zM250.2 575.3h1.1v1.1h-1.1zM255.2 575.3h1.1v1.1h-1.1zM262.2 575.3h1.1v1.1h-1.1zM264.2 575.3h1.1v1.1h-1.1z" fill="#323cff" opacity="0.8"/>
<path d="M283.2 488.3h1.1v1.1h-1.1zM282.2 489.3h1.1v1.1h-1.1zM283.2 489.3h1.1v1.1h-1.1zM286.2 489.3h1.1v1.1h-1.1zM280.2 490.3h1.1v1.1h-1.1zM281.2 490.3h1.1v1.1h-1.1zM286.2 490.3h1.1v1.1h-1.1zM283.2 491.3h1.1v1.1h-1.1zM286.2 491.3h1.1v1.1h-1.1zM279.2 492.3h1.1v1.1h-1.1zM281.2 492.3h1.1v1.1h-1.1zM283.2 492.3h1.1v1.1h-1.1zM285.2 492.3h1.1v1.1h-1.1zM286.2 492.3h1.1v1.1h-1.1zM276.2 493.3h1.1v1.1h-1.1zM280.2 493.3h1.1v1.1h-1.1zM284.2 493.3h1.1v1.1h-1.1zM286.2 493.3h1.1v1.1h-1.1zM287.2 493.3h1.1v1.1h-1.1zM277.2 494.3h1.1v1.1h-1.1zM278.2 494.3h1.1v1.1h-1.1zM281.2 494.3h1.1v1.1h-1.1zM282.2 494.3h1.1v1.1h-1.1zM284.2 494.3h1.1v1.1h-1.1zM285.2 494.3h1.1v1.1h-1.1zM279.2 495.3h1.1v1.1h-1.1zM283.2 495.3h1.1v1.1h-1.1zM286.2 495.3h1.1v1.1h-1.1zM290.2 495.3h1.1v1.1h-1.1zM290.2 496.3h1.1v1.1h-1.1zM291.2 496.3h1.1v1.1h-1.1zM268.2 498.3h1.1v1.1h-1.1zM270.2 513.3h1.1v1.1h-1.1zM273.2 513.3h1.1v1.1h-1.1zM268.2 514.3h1.1v1.1h-1.1zM270.2 514.3h1.1v1.1h-1.1zM271.2 514.3h1.1v1.1h-1.1zM273.2 514.3h1.1v1.1h-1.1zM266.2 515.3h1.1v1.1h-1.1zM267.2 515.3h1.1v1.1h-1.1zM270.2 515.3h1.1v1.1h-1.1zM271.2 515.3h1.1v1.1h-1.1zM264.2 516.3h1.1v1.1h-1.1zM265.2 516.3h1.1v1.1h-1.1zM267.2 516.3h1.1v1.1h-1.1zM268.2 516.3h1.1v1.1h-1.1zM269.2 516.3h1.1v1.1h-1.1zM271.2 516.3h1.1v1.1h-1.1zM277.2 516.3h1.1v1.1h-1.1zM263.2 517.3h1.1v1.1h-1.1zM264.2 517.3h1.1v1.1h-1.1zM271.2 517.3h1.1v1.1h-1.1zM273.2 517.3h1.1v1.1h-1.1zM277.2 517.3h1.1v1.1h-1.1zM263.2 518.3h1.1v1.1h-1.1zM265.2 518.3h1.1v1.1h-1.1zM266.2 518.3h1.1v1.1h-1.1zM270.2 518.3h1.1v1.1h-1.1zM262.2 519.3h1.1v1.1h-1.1zM272.2 519.3h1.1v1.1h-1.1zM274.2 519.3h1.1v1.1h-1.1zM259.2 520.3h1.1v1.1h-1.1zM261.2 520.3h1.1v1.1h-1.1zM271.2 520.3h1.1v1.1h-1.1zM272.2 520.3h1.1v1.1h-1.1zM273.2 520.3h1.1v1.1h-1.1zM274.2 520.3h1.1v1.1h-1.1zM256.2 521.3h1.1v1.1h-1.1zM257.2 521.3h1.1v1.1h-1.1zM258.2 521.3h1.1v1.1h-1.1zM269.2 521.3h1.1v1.1h-1.1zM257.2 522.3h1.1v1.1h-1.1zM258.2 522.3h1.1v1.1h-1.1zM272.2 522.3h1.1v1.1h-1.1zM272.2 523.3h1.1v1.1h-1.1zM258.2 524.3h1.1v1.1h-1.1zM254.2 525.3h1.1v1.1h-1.1zM256.2 525.3h1.1v1.1h-1.1zM257.2 525.3h1.1v1.1h-1.1zM253.2 526.3h1.1v1.1h-1.1zM254.2 526.3h1.1v1.1h-1.1zM255.2 526.3h1.1v1.1h-1.1zM271.2 526.3h1.1v1.1h-1.1zM271.2 527.3h1.1v1.1h-1.1zM255.2 528.3h1.1v1.1h-1.1zM253.2 529.3h1.1v1.1h-1.1zM269.2 531.3h1.1v1.1h-1.1zM270.2 531.3h1.1v1.1h-1.1zM248.2 532.3h1.1v1.1h-1.1zM249.2 532.3h1.1v1.1h-1.1zM269.2 532.3h1.1v1.1h-1.1zM252.2 533.3h1.1v1.1h-1.1zM253.2 533.3h1.1v1.1h-1.1zM265.2 533.3h1.1v1.1h-1.1zM268.2 533.3h1.1v1.1h-1.1zM250.2 534.3h1.1v1.1h-1.1zM252.2 534.3h1.1v1.1h-1.1zM255.2 534.3h1.1v1.1h-1.1zM263.2 534.3h1.1v1.1h-1.1zM267.2 534.3h1.1v1.1h-1.1zM250.2 535.3h1.1v1.1h-1.1zM251.2 535.3h1.1v1.1h-1.1zM254.2 535.3h1.1v1.1h-1.1zM265.2 535.3h1.1v1.1h-1.1zM266.2 535.3h1.1v1.1h-1.1zM251.2 536.3h1.1v1.1h-1.1zM253.2 536.3h1.1v1.1h-1.1zM250.2 537.3h1.1v1.1h-1.1zM253.2 537.3h1.1v1.1h-1.1zM262.2 537.3h1.1v1.1h-1.1zM264.2 537.3h1.1v1.1h-1.1zM249.2 538.3h1.1v1.1h-1.1zM254.2 538.3h1.1v1.1h-1.1zM263.2 538.3h1.1v1.1h-1.1zM249.2 539.3h1.1v1.1h-1.1zM250.2 539.3h1.1v1.1h-1.1zM254.2 539.3h1.1v1.1h-1.1zM251.2 540.3h1.1v1.1h-1.1zM254.2 540.3h1.1v1.1h-1.1zM255.2 540.3h1.1v1.1h-1.1zM249.2 541.3h1.1v1.1h-1.1zM250.2 541.3h1.1v1.1h-1.1zM254.2 541.3h1.1v1.1h-1.1zM261.2 541.3h1.1v1.1h-1.1zM249.2 542.3h1.1v1.1h-1.1zM250.2 542.3h1.1v1.1h-1.1zM252.2 542.3h1.1v1.1h-1.1zM260.2 542.3h1.1v1.1h-1.1zM250.2 543.3h1.1v1.1h-1.1zM252.2 543.3h1.1v1.1h-1.1zM253.2 543.3h1.1v1.1h-1.1zM262.2 543.3h1.1v1.1h-1.1zM256.2 544.3h1.1v1.1h-1.1zM257.2 544.3h1.1v1.1h-1.1zM259.2 544.3h1.1v1.1h-1.1zM251.2 545.3h1.1v1.1h-1.1zM255.2 545.3h1.1v1.1h-1.1zM256.2 545.3h1.1v1.1h-1.1zM260.2 545.3h1.1v1.1h-1.1zM251.2 546.3h1.1v1.1h-1.1zM252.2 546.3h1.1v1.1h-1.1zM256.2 546.3h1.1v1.1h-1.1zM259.2 546.3h1.1v1.1h-1.1zM260.2 546.3h1.1v1.1h-1.1zM261.2 546.3h1.1v1.1h-1.1zM256.2 547.3h1.1v1.1h-1.1zM257.2 547.3h1.1v1.1h-1.1zM258.2 547.3h1.1v1.1h-1.1zM261.2 547.3h1.1v1.1h-1.1zM258.2 548.3h1.1v1.1h-1.1zM261.2 548.3h1.1v1.1h-1.1zM257.2 549.3h1.1v1.1h-1.1zM259.2 549.3h1.1v1.1h-1.1zM258.2 550.3h1.1v1.1h-1.1zM259.2 550.3h1.1v1.1h-1.1zM258.2 551.3h1.1v1.1h-1.1zM259.2 574.3h1.1v1.1h-1.1zM258.2 575.3h1.1v1.1h-1.1zM259.2 575.3h1.1v1.1h-1.1zM260.2 575.3h1.1v1.1h-1.1z" fill="#323cff" opacity="0.8"/>
<path d="M270.2 516.3h1.1v1.1h-1.1zM265.2 517.3h1.1v1.1h-1.1zM264.2 518.3h1.1v1.1h-1.1zM268.2 518.3h1.1v1.1h-1.1zM267.2 519.3h1.1v1.1h-1.1zM262.2 520.3h1.1v1.1h-1.1zM267.2 520.3h1.1v1.1h-1.1zM268.2 520.3h1.1v1.1h-1.1zM269.2 520.3h1.1v1.1h-1.1zM261.2 521.3h1.1v1.1h-1.1zM262.2 521.3h1.1v1.1h-1.1zM271.2 521.3h1.1v1.1h-1.1zM259.2 522.3h1.1v1.1h-1.1zM271.2 522.3h1.1v1.1h-1.1zM269.2 523.3h1.1v1.1h-1.1zM259.2 524.3h1.1v1.1h-1.1zM271.2 525.3h1.1v1.1h-1.1zM255.2 527.3h1.1v1.1h-1.1zM257.2 527.3h1.1v1.1h-1.1zM270.2 528.3h1.1v1.1h-1.1zM254.2 529.3h1.1v1.1h-1.1zM255.2 529.3h1.1v1.1h-1.1zM268.2 530.3h1.1v1.1h-1.1zM254.2 531.3h1.1v1.1h-1.1zM267.2 531.3h1.1v1.1h-1.1zM254.2 532.3h1.1v1.1h-1.1zM267.2 532.3h1.1v1.1h-1.1zM252.2 535.3h1.1v1.1h-1.1zM253.2 535.3h1.1v1.1h-1.1zM262.2 535.3h1.1v1.1h-1.1zM263.2 535.3h1.1v1.1h-1.1zM264.2 535.3h1.1v1.1h-1.1zM252.2 536.3h1.1v1.1h-1.1zM263.2 537.3h1.1v1.1h-1.1zM252.2 538.3h1.1v1.1h-1.1zM252.2 539.3h1.1v1.1h-1.1zM255.2 539.3h1.1v1.1h-1.1zM259.2 539.3h1.1v1.1h-1.1zM260.2 539.3h1.1v1.1h-1.1zM261.2 539.3h1.1v1.1h-1.1zM252.2 540.3h1.1v1.1h-1.1zM256.2 540.3h1.1v1.1h-1.1zM257.2 540.3h1.1v1.1h-1.1zM258.2 540.3h1.1v1.1h-1.1zM260.2 540.3h1.1v1.1h-1.1zM252.2 541.3h1.1v1.1h-1.1zM257.2 541.3h1.1v1.1h-1.1zM253.2 542.3h1.1v1.1h-1.1zM255.2 542.3h1.1v1.1h-1.1zM259.2 542.3h1.1v1.1h-1.1zM257.2 543.3h1.1v1.1h-1.1zM258.2 543.3h1.1v1.1h-1.1zM259.2 543.3h1.1v1.1h-1.1z" fill="#323cff" opacity="0.8"/>
<path d="M265.2 519.3h1.1v1.1h-1.1zM266.2 519.3h1.1v1.1h-1.1zM268.2 519.3h1.1v1.1h-1.1zM269.2 519.3h1.1v1.1h-1.1zM270.2 519.3h1.1v1.1h-1.1zM263.2 520.3h1.1v1.1h-1.1zM264.2 520.3h1.1v1.1h-1.1zM265.2 520.3h1.1v1.1h-1.1zM270.2 521.3h1.1v1.1h-1.1zM266.2 522.3h1.1v1.1h-1.1zM269.2 522.3h1.1v1.1h-1.1zM267.2 523.3h1.1v1.1h-1.1zM270.2 523.3h1.1v1.1h-1.1zM258.2 525.3h1.1v1.1h-1.1zM269.2 527.3h1.1v1.1h-1.1zM270.2 527.3h1.1v1.1h-1.1zM256.2 528.3h1.1v1.1h-1.1zM268.2 528.3h1.1v1.1h-1.1zM269.2 528.3h1.1v1.1h-1.1zM267.2 529.3h1.1v1.1h-1.1zM268.2 529.3h1.1v1.1h-1.1zM269.2 529.3h1.1v1.1h-1.1zM267.2 530.3h1.1v1.1h-1.1zM255.2 531.3h1.1v1.1h-1.1zM254.2 533.3h1.1v1.1h-1.1zM264.2 533.3h1.1v1.1h-1.1zM252.2 537.3h1.1v1.1h-1.1zM261.2 537.3h1.1v1.1h-1.1zM253.2 538.3h1.1v1.1h-1.1zM255.2 538.3h1.1v1.1h-1.1zM257.2 538.3h1.1v1.1h-1.1zM260.2 538.3h1.1v1.1h-1.1zM261.2 538.3h1.1v1.1h-1.1zM256.2 539.3h1.1v1.1h-1.1zM257.2 539.3h1.1v1.1h-1.1zM259.2 540.3h1.1v1.1h-1.1zM253.2 541.3h1.1v1.1h-1.1zM259.2 541.3h1.1v1.1h-1.1zM254.2 542.3h1.1v1.1h-1.1zM258.2 542.3h1.1v1.1h-1.1z" fill="#0a64ff" opacity="1"/>
<path d="M269.2 518.3h1.1v1.1h-1.1zM266.2 520.3h1.1v1.1h-1.1zM266.2 521.3h1.1v1.1h-1.1zM268.2 521.3h1.1v1.1h-1.1zM268.2 522.3h1.1v1.1h-1.1zM259.2 523.3h1.1v1.1h-1.1zM269.2 524.3h1.1v1.1h-1.1zM259.2 525.3h1.1v1.1h-1.1zM268.2 525.3h1.1v1.1h-1.1zM270.2 525.3h1.1v1.1h-1.1zM258.2 526.3h1.1v1.1h-1.1zM267.2 527.3h1.1v1.1h-1.1zM257.2 528.3h1.1v1.1h-1.1zM256.2 530.3h1.1v1.1h-1.1zM266.2 530.3h1.1v1.1h-1.1zM265.2 531.3h1.1v1.1h-1.1zM256.2 532.3h1.1v1.1h-1.1zM266.2 532.3h1.1v1.1h-1.1zM255.2 533.3h1.1v1.1h-1.1zM254.2 534.3h1.1v1.1h-1.1zM255.2 535.3h1.1v1.1h-1.1zM256.2 535.3h1.1v1.1h-1.1zM255.2 536.3h1.1v1.1h-1.1zM261.2 536.3h1.1v1.1h-1.1zM262.2 536.3h1.1v1.1h-1.1zM263.2 536.3h1.1v1.1h-1.1zM255.2 537.3h1.1v1.1h-1.1zM256.2 537.3h1.1v1.1h-1.1zM260.2 537.3h1.1v1.1h-1.1zM258.2 539.3h1.1v1.1h-1.1zM255.2 541.3h1.1v1.1h-1.1zM257.2 542.3h1.1v1.1h-1.1z" fill="#0078ff" opacity="1"/>
<path d="M265.2 521.3h1.1v1.1h-1.1zM267.2 521.3h1.1v1.1h-1.1zM261.2 522.3h1.1v1.1h-1.1zM263.2 522.3h1.1v1.1h-1.1zM264.2 522.3h1.1v1.1h-1.1zM265.2 522.3h1.1v1.1h-1.1zM267.2 522.3h1.1v1.1h-1.1zM264.2 523.3h1.1v1.1h-1.1zM260.2 524.3h1.1v1.1h-1.1zM267.2 524.3h1.1v1.1h-1.1zM268.2 524.3h1.1v1.1h-1.1zM270.2 524.3h1.1v1.1h-1.1zM271.2 524.3h1.1v1.1h-1.1zM268.2 526.3h1.1v1.1h-1.1zM269.2 526.3h1.1v1.1h-1.1zM258.2 527.3h1.1v1.1h-1.1zM256.2 529.3h1.1v1.1h-1.1zM266.2 529.3h1.1v1.1h-1.1zM255.2 530.3h1.1v1.1h-1.1zM266.2 531.3h1.1v1.1h-1.1zM255.2 532.3h1.1v1.1h-1.1zM256.2 533.3h1.1v1.1h-1.1zM257.2 533.3h1.1v1.1h-1.1zM263.2 533.3h1.1v1.1h-1.1zM257.2 535.3h1.1v1.1h-1.1zM258.2 535.3h1.1v1.1h-1.1zM254.2 536.3h1.1v1.1h-1.1zM257.2 536.3h1.1v1.1h-1.1zM259.2 536.3h1.1v1.1h-1.1zM260.2 536.3h1.1v1.1h-1.1zM257.2 537.3h1.1v1.1h-1.1zM256.2 541.3h1.1v1.1h-1.1z" fill="#0097ed" opacity="1"/>
<path d="M263.2 521.3h1.1v1.1h-1.1zM264.2 521.3h1.1v1.1h-1.1zM262.2 522.3h1.1v1.1h-1.1zM261.2 523.3h1.1v1.1h-1.1zM262.2 523.3h1.1v1.1h-1.1zM263.2 523.3h1.1v1.1h-1.1zM268.2 523.3h1.1v1.1h-1.1zM266.2 524.3h1.1v1.1h-1.1zM260.2 525.3h1.1v1.1h-1.1zM267.2 525.3h1.1v1.1h-1.1zM266.2 526.3h1.1v1.1h-1.1zM267.2 526.3h1.1v1.1h-1.1zM266.2 527.3h1.1v1.1h-1.1zM257.2 529.3h1.1v1.1h-1.1zM257.2 530.3h1.1v1.1h-1.1zM264.2 530.3h1.1v1.1h-1.1zM257.2 531.3h1.1v1.1h-1.1zM257.2 532.3h1.1v1.1h-1.1zM264.2 532.3h1.1v1.1h-1.1zM265.2 532.3h1.1v1.1h-1.1zM262.2 533.3h1.1v1.1h-1.1zM256.2 534.3h1.1v1.1h-1.1zM260.2 534.3h1.1v1.1h-1.1zM262.2 534.3h1.1v1.1h-1.1zM260.2 535.3h1.1v1.1h-1.1zM256.2 536.3h1.1v1.1h-1.1zM258.2 536.3h1.1v1.1h-1.1zM258.2 537.3h1.1v1.1h-1.1zM256.2 538.3h1.1v1.1h-1.1zM258.2 538.3h1.1v1.1h-1.1z" fill="#00b6dc" opacity="1"/>
<path d="M265.2 523.3h1.1v1.1h-1.1zM266.2 523.3h1.1v1.1h-1.1zM261.2 524.3h1.1v1.1h-1.1zM262.2 524.3h1.1v1.1h-1.1zM264.2 524.3h1.1v1.1h-1.1zM261.2 525.3h1.1v1.1h-1.1zM259.2 526.3h1.1v1.1h-1.1zM259.2 527.3h1.1v1.1h-1.1zM268.2 527.3h1.1v1.1h-1.1zM258.2 528.3h1.1v1.1h-1.1zM259.2 528.3h1.1v1.1h-1.1zM266.2 528.3h1.1v1.1h-1.1zM267.2 528.3h1.1v1.1h-1.1zM264.2 529.3h1.1v1.1h-1.1zM265.2 530.3h1.1v1.1h-1.1zM256.2 531.3h1.1v1.1h-1.1zM264.2 531.3h1.1v1.1h-1.1zM261.2 534.3h1.1v1.1h-1.1zM261.2 535.3h1.1v1.1h-1.1zM259.2 537.3h1.1v1.1h-1.1zM259.2 538.3h1.1v1.1h-1.1z" fill="#00d5cb" opacity="1"/>
<path d="M263.2 525.3h1.1v1.1h-1.1zM264.2 525.3h1.1v1.1h-1.1zM260.2 526.3h1.1v1.1h-1.1zM261.2 526.3h1.1v1.1h-1.1zM258.2 530.3h1.1v1.1h-1.1zM258.2 531.3h1.1v1.1h-1.1zM263.2 532.3h1.1v1.1h-1.1zM257.2 534.3h1.1v1.1h-1.1zM258.2 534.3h1.1v1.1h-1.1z" fill="#0ddf99" opacity="1"/>
<path d="M265.2 524.3h1.1v1.1h-1.1zM262.2 525.3h1.1v1.1h-1.1zM265.2 525.3h1.1v1.1h-1.1zM265.2 526.3h1.1v1.1h-1.1zM265.2 527.3h1.1v1.1h-1.1zM265.2 528.3h1.1v1.1h-1.1zM265.2 529.3h1.1v1.1h-1.1zM259.2 530.3h1.1v1.1h-1.1zM263.2 531.3h1.1v1.1h-1.1zM262.2 532.3h1.1v1.1h-1.1zM259.2 535.3h1.1v1.1h-1.1z" fill="#1ee35e" opacity="1"/>
<path d="M263.2 524.3h1.1v1.1h-1.1zM262.2 526.3h1.1v1.1h-1.1zM261.2 527.3h1.1v1.1h-1.1zM264.2 528.3h1.1v1.1h-1.1zM258.2 529.3h1.1v1.1h-1.1zM262.2 530.3h1.1v1.1h-1.1zM262.2 531.3h1.1v1.1h-1.1zM258.2 532.3h1.1v1.1h-1.1zM258.2 533.3h1.1v1.1h-1.1zM259.2 533.3h1.1v1.1h-1.1zM260.2 533.3h1.1v1.1h-1.1zM261.2 533.3h1.1v1.1h-1.1zM259.2 534.3h1.1v1.1h-1.1z" fill="#47e631" opacity="1"/>
<path d="M264.2 526.3h1.1v1.1h-1.1zM260.2 527.3h1.1v1.1h-1.1zM262.2 527.3h1.1v1.1h-1.1zM260.2 528.3h1.1v1.1h-1.1zM262.2 528.3h1.1v1.1h-1.1zM259.2 529.3h1.1v1.1h-1.1zM263.2 530.3h1.1v1.1h-1.1zM259.2 532.3h1.1v1.1h-1.1z" fill="#96e619" opacity="1"/>
<path d="M263.2 526.3h1.1v1.1h-1.1zM264.2 527.3h1.1v1.1h-1.1zM262.2 529.3h1.1v1.1h-1.1zM263.2 529.3h1.1v1.1h-1.1zM260.2 530.3h1.1v1.1h-1.1zM259.2 531.3h1.1v1.1h-1.1zM260.2 531.3h1.1v1.1h-1.1zM260.2 532.3h1.1v1.1h-1.1z" fill="#e6e600" opacity="1"/>
<path d="M263.2 527.3h1.1v1.1h-1.1zM261.2 528.3h1.1v1.1h-1.1zM263.2 528.3h1.1v1.1h-1.1zM260.2 529.3h1.1v1.1h-1.1zM261.2 529.3h1.1v1.1h-1.1zM261.2 530.3h1.1v1.1h-1.1zM261.2 531.3h1.1v1.1h-1.1zM261.2 532.3h1.1v1.1h-1.1z" fill="#f2ba00" opacity="1"/>
</g>
<line x1="273.7" y1="471.3" x2="273.7" y2="576.1" stroke="#383838" stroke-width="1.1"/>
<line x1="197.2" y1="514.3" x2="321.2" y2="514.3" stroke="#383838" stroke-width="1.1"/>
<text x="200.2" y="479.6" font-size="4.6" text-anchor="start" fill="#333" stroke="#333" stroke-width="0">Q1</text>
<text x="200.2" y="486.3" font-size="4.6" text-anchor="start" fill="#333" stroke="#333" stroke-width="0">1.53</text>
<text x="311.2" y="479.6" font-size="4.6" text-anchor="end" fill="#333" stroke="#333" stroke-width="0">Q2</text>
<text x="311.2" y="486.3" font-size="4.6" text-anchor="end" fill="#333" stroke="#333" stroke-width="0">4.04</text>
<text x="200.2" y="564.1" font-size="4.6" text-anchor="start" fill="#333" stroke="#333" stroke-width="0">Q4</text>
<text x="200.2" y="571.1" font-size="4.6" text-anchor="start" fill="#333" stroke="#333" stroke-width="0">91.8</text>
<text x="311.2" y="564.1" font-size="4.6" text-anchor="end" fill="#333" stroke="#333" stroke-width="0">Q3</text>
<text x="311.2" y="571.1" font-size="4.6" text-anchor="end" fill="#333" stroke="#333" stroke-width="0">2.62</text>
<text x="190.0" y="580.1" font-size="11.5" text-anchor="end" fill="#222" stroke="#222" stroke-width="0.3">10</text>
<text x="190.3" y="575.6" font-size="7.5" text-anchor="start" fill="#222" stroke="#222" stroke-width="0">0</text>
<line x1="194.7" y1="576.1" x2="197.2" y2="576.1" stroke="#444" stroke-width="0.8"/>
<line x1="195.7" y1="569.2" x2="197.2" y2="569.2" stroke="#666" stroke-width="0.6"/>
<text x="190.0" y="566.4" font-size="11.5" text-anchor="end" fill="#222" stroke="#222" stroke-width="0.3">10</text>
<text x="190.3" y="561.9" font-size="7.5" text-anchor="start" fill="#222" stroke="#222" stroke-width="0">1</text>
<line x1="194.7" y1="562.4" x2="197.2" y2="562.4" stroke="#444" stroke-width="0.8"/>
<line x1="195.7" y1="555.5" x2="197.2" y2="555.5" stroke="#666" stroke-width="0.6"/>
<text x="190.0" y="552.7" font-size="11.5" text-anchor="end" fill="#222" stroke="#222" stroke-width="0.3">10</text>
<text x="190.3" y="548.2" font-size="7.5" text-anchor="start" fill="#222" stroke="#222" stroke-width="0">2</text>
<line x1="194.7" y1="548.7" x2="197.2" y2="548.7" stroke="#444" stroke-width="0.8"/>
<line x1="195.7" y1="541.9" x2="197.2" y2="541.9" stroke="#666" stroke-width="0.6"/>
<text x="190.0" y="539.0" font-size="11.5" text-anchor="end" fill="#222" stroke="#222" stroke-width="0.3">10</text>
<text x="190.3" y="534.5" font-size="7.5" text-anchor="start" fill="#222" stroke="#222" stroke-width="0">3</text>
<line x1="194.7" y1="535.0" x2="197.2" y2="535.0" stroke="#444" stroke-width="0.8"/>
<line x1="195.7" y1="528.1" x2="197.2" y2="528.1" stroke="#666" stroke-width="0.6"/>
<text x="190.0" y="525.3" font-size="11.5" text-anchor="end" fill="#222" stroke="#222" stroke-width="0.3">10</text>
<text x="190.3" y="520.8" font-size="7.5" text-anchor="start" fill="#222" stroke="#222" stroke-width="0">4</text>
<line x1="194.7" y1="521.3" x2="197.2" y2="521.3" stroke="#444" stroke-width="0.8"/>
<line x1="195.7" y1="514.5" x2="197.2" y2="514.5" stroke="#666" stroke-width="0.6"/>
<text x="190.0" y="511.6" font-size="11.5" text-anchor="end" fill="#222" stroke="#222" stroke-width="0.3">10</text>
<text x="190.3" y="507.1" font-size="7.5" text-anchor="start" fill="#222" stroke="#222" stroke-width="0">5</text>
<line x1="194.7" y1="507.6" x2="197.2" y2="507.6" stroke="#444" stroke-width="0.8"/>
<line x1="195.7" y1="500.8" x2="197.2" y2="500.8" stroke="#666" stroke-width="0.6"/>
<text x="190.0" y="497.9" font-size="11.5" text-anchor="end" fill="#222" stroke="#222" stroke-width="0.3">10</text>
<text x="190.3" y="493.4" font-size="7.5" text-anchor="start" fill="#222" stroke="#222" stroke-width="0">6</text>
<line x1="194.7" y1="493.9" x2="197.2" y2="493.9" stroke="#444" stroke-width="0.8"/>
<line x1="195.7" y1="487.1" x2="197.2" y2="487.1" stroke="#666" stroke-width="0.6"/>
<text x="190.0" y="484.2" font-size="11.5" text-anchor="end" fill="#222" stroke="#222" stroke-width="0.3">10</text>
<text x="190.3" y="479.7" font-size="7.5" text-anchor="start" fill="#222" stroke="#222" stroke-width="0">7</text>
<line x1="194.7" y1="480.2" x2="197.2" y2="480.2" stroke="#444" stroke-width="0.8"/>
<line x1="195.7" y1="473.4" x2="197.2" y2="473.4" stroke="#666" stroke-width="0.6"/>
<text x="200.1" y="589.1" font-size="11.5" text-anchor="start" fill="#222" stroke="#222" stroke-width="0.3">10</text>
<text x="212.4" y="584.1" font-size="7.5" text-anchor="start" fill="#222" stroke="#222" stroke-width="0">0</text>
<text x="231.8" y="589.1" font-size="11.5" text-anchor="start" fill="#222" stroke="#222" stroke-width="0.3">10</text>
<text x="244.1" y="584.1" font-size="7.5" text-anchor="start" fill="#222" stroke="#222" stroke-width="0">2</text>
<text x="264.0" y="589.1" font-size="11.5" text-anchor="start" fill="#222" stroke="#222" stroke-width="0.3">10</text>
<text x="276.3" y="584.1" font-size="7.5" text-anchor="start" fill="#222" stroke="#222" stroke-width="0">4</text>
<text x="299.0" y="589.1" font-size="11.5" text-anchor="start" fill="#222" stroke="#222" stroke-width="0.3">10</text>
<text x="311.3" y="584.1" font-size="7.5" text-anchor="start" fill="#222" stroke="#222" stroke-width="0">6</text>
<line x1="199.2" y1="576.1" x2="199.2" y2="578.1" stroke="#777" stroke-width="0.6"/>
<line x1="201.6" y1="576.1" x2="201.6" y2="577.1" stroke="#777" stroke-width="0.6"/>
<line x1="204.1" y1="576.1" x2="204.1" y2="577.1" stroke="#777" stroke-width="0.6"/>
<line x1="206.5" y1="576.1" x2="206.5" y2="577.1" stroke="#777" stroke-width="0.6"/>
<line x1="209.0" y1="576.1" x2="209.0" y2="577.1" stroke="#777" stroke-width="0.6"/>
<line x1="211.4" y1="576.1" x2="211.4" y2="577.1" stroke="#777" stroke-width="0.6"/>
<line x1="213.9" y1="576.1" x2="213.9" y2="577.1" stroke="#777" stroke-width="0.6"/>
<line x1="216.3" y1="576.1" x2="216.3" y2="578.1" stroke="#777" stroke-width="0.6"/>
<line x1="218.8" y1="576.1" x2="218.8" y2="577.1" stroke="#777" stroke-width="0.6"/>
<line x1="221.2" y1="576.1" x2="221.2" y2="577.1" stroke="#777" stroke-width="0.6"/>
<line x1="223.7" y1="576.1" x2="223.7" y2="577.1" stroke="#777" stroke-width="0.6"/>
<line x1="226.1" y1="576.1" x2="226.1" y2="577.1" stroke="#777" stroke-width="0.6"/>
<line x1="228.6" y1="576.1" x2="228.6" y2="577.1" stroke="#777" stroke-width="0.6"/>
<line x1="231.0" y1="576.1" x2="231.0" y2="577.1" stroke="#777" stroke-width="0.6"/>
<line x1="233.5" y1="576.1" x2="233.5" y2="578.1" stroke="#777" stroke-width="0.6"/>
<line x1="235.9" y1="576.1" x2="235.9" y2="577.1" stroke="#777" stroke-width="0.6"/>
<line x1="238.4" y1="576.1" x2="238.4" y2="577.1" stroke="#777" stroke-width="0.6"/>
<line x1="240.8" y1="576.1" x2="240.8" y2="577.1" stroke="#777" stroke-width="0.6"/>
<line x1="243.3" y1="576.1" x2="243.3" y2="577.1" stroke="#777" stroke-width="0.6"/>
<line x1="245.8" y1="576.1" x2="245.8" y2="577.1" stroke="#777" stroke-width="0.6"/>
<line x1="248.2" y1="576.1" x2="248.2" y2="577.1" stroke="#777" stroke-width="0.6"/>
<line x1="250.6" y1="576.1" x2="250.6" y2="578.1" stroke="#777" stroke-width="0.6"/>
<line x1="253.1" y1="576.1" x2="253.1" y2="577.1" stroke="#777" stroke-width="0.6"/>
<line x1="255.5" y1="576.1" x2="255.5" y2="577.1" stroke="#777" stroke-width="0.6"/>
<line x1="258.0" y1="576.1" x2="258.0" y2="577.1" stroke="#777" stroke-width="0.6"/>
<line x1="260.4" y1="576.1" x2="260.4" y2="577.1" stroke="#777" stroke-width="0.6"/>
<line x1="262.9" y1="576.1" x2="262.9" y2="577.1" stroke="#777" stroke-width="0.6"/>
<line x1="265.4" y1="576.1" x2="265.4" y2="577.1" stroke="#777" stroke-width="0.6"/>
<line x1="267.8" y1="576.1" x2="267.8" y2="578.1" stroke="#777" stroke-width="0.6"/>
<line x1="270.2" y1="576.1" x2="270.2" y2="577.1" stroke="#777" stroke-width="0.6"/>
<line x1="272.7" y1="576.1" x2="272.7" y2="577.1" stroke="#777" stroke-width="0.6"/>
<line x1="275.1" y1="576.1" x2="275.1" y2="577.1" stroke="#777" stroke-width="0.6"/>
<line x1="277.6" y1="576.1" x2="277.6" y2="577.1" stroke="#777" stroke-width="0.6"/>
<line x1="280.1" y1="576.1" x2="280.1" y2="577.1" stroke="#777" stroke-width="0.6"/>
<line x1="282.5" y1="576.1" x2="282.5" y2="577.1" stroke="#777" stroke-width="0.6"/>
<line x1="284.9" y1="576.1" x2="284.9" y2="578.1" stroke="#777" stroke-width="0.6"/>
<line x1="287.4" y1="576.1" x2="287.4" y2="577.1" stroke="#777" stroke-width="0.6"/>
<line x1="289.9" y1="576.1" x2="289.9" y2="577.1" stroke="#777" stroke-width="0.6"/>
<line x1="292.3" y1="576.1" x2="292.3" y2="577.1" stroke="#777" stroke-width="0.6"/>
<line x1="294.8" y1="576.1" x2="294.8" y2="577.1" stroke="#777" stroke-width="0.6"/>
<line x1="297.2" y1="576.1" x2="297.2" y2="577.1" stroke="#777" stroke-width="0.6"/>
<line x1="299.6" y1="576.1" x2="299.6" y2="577.1" stroke="#777" stroke-width="0.6"/>
<line x1="302.1" y1="576.1" x2="302.1" y2="578.1" stroke="#777" stroke-width="0.6"/>
<line x1="304.6" y1="576.1" x2="304.6" y2="577.1" stroke="#777" stroke-width="0.6"/>
<line x1="307.0" y1="576.1" x2="307.0" y2="577.1" stroke="#777" stroke-width="0.6"/>
<line x1="309.4" y1="576.1" x2="309.4" y2="577.1" stroke="#777" stroke-width="0.6"/>
<line x1="311.9" y1="576.1" x2="311.9" y2="577.1" stroke="#777" stroke-width="0.6"/>
<line x1="314.4" y1="576.1" x2="314.4" y2="577.1" stroke="#777" stroke-width="0.6"/>
<line x1="316.8" y1="576.1" x2="316.8" y2="577.1" stroke="#777" stroke-width="0.6"/>
<line x1="319.2" y1="576.1" x2="319.2" y2="578.1" stroke="#777" stroke-width="0.6"/>
<text x="0.0" y="0.0" font-size="13.3" text-anchor="middle" fill="#222" stroke="#222" stroke-width="0.3" textLength="46" lengthAdjust="spacingAndGlyphs" transform="translate(326.7,522.7) rotate(90)">R + Oxa</text>
<rect x="50.6" y="591.8" width="124" height="104.8" fill="#fff" stroke="#b0b0b0" stroke-width="1"/>
<g filter="url(#fblur)">
<path d="M145.6 596.8h1.1v1.1h-1.1zM147.6 597.8h1.1v1.1h-1.1zM148.6 597.8h1.1v1.1h-1.1zM151.6 597.8h1.1v1.1h-1.1zM144.6 598.8h1.1v1.1h-1.1zM143.6 599.8h1.1v1.1h-1.1zM148.6 599.8h1.1v1.1h-1.1zM144.6 601.8h1.1v1.1h-1.1zM145.6 601.8h1.1v1.1h-1.1zM133.6 604.8h1.1v1.1h-1.1zM143.6 605.8h1.1v1.1h-1.1zM119.6 606.8h1.1v1.1h-1.1zM159.6 606.8h1.1v1.1h-1.1zM122.6 607.8h1.1v1.1h-1.1zM114.6 608.8h1.1v1.1h-1.1zM113.6 609.8h1.1v1.1h-1.1zM153.6 610.8h1.1v1.1h-1.1zM167.6 610.8h1.1v1.1h-1.1zM111.6 611.8h1.1v1.1h-1.1zM160.6 612.8h1.1v1.1h-1.1zM162.6 614.8h1.1v1.1h-1.1zM108.6 615.8h1.1v1.1h-1.1zM111.6 615.8h1.1v1.1h-1.1zM162.6 615.8h1.1v1.1h-1.1zM123.6 616.8h1.1v1.1h-1.1zM157.6 616.8h1.1v1.1h-1.1zM113.6 619.8h1.1v1.1h-1.1zM114.6 621.8h1.1v1.1h-1.1zM114.6 622.8h1.1v1.1h-1.1zM146.6 622.8h1.1v1.1h-1.1zM127.6 624.8h1.1v1.1h-1.1zM128.6 626.8h1.1v1.1h-1.1zM132.6 626.8h1.1v1.1h-1.1zM135.6 627.8h1.1v1.1h-1.1zM114.6 628.8h1.1v1.1h-1.1zM128.6 628.8h1.1v1.1h-1.1zM131.6 630.8h1.1v1.1h-1.1zM133.6 632.8h1.1v1.1h-1.1zM112.6 637.8h1.1v1.1h-1.1zM120.6 637.8h1.1v1.1h-1.1zM132.6 637.8h1.1v1.1h-1.1zM127.6 639.8h1.1v1.1h-1.1zM119.6 640.8h1.1v1.1h-1.1zM130.6 642.8h1.1v1.1h-1.1zM105.6 643.8h1.1v1.1h-1.1zM107.6 643.8h1.1v1.1h-1.1zM133.6 645.8h1.1v1.1h-1.1zM132.6 647.8h1.1v1.1h-1.1zM137.6 649.8h1.1v1.1h-1.1zM127.6 651.8h1.1v1.1h-1.1zM127.6 652.8h1.1v1.1h-1.1zM100.6 653.8h1.1v1.1h-1.1zM132.6 654.8h1.1v1.1h-1.1zM101.6 655.8h1.1v1.1h-1.1zM106.6 658.8h1.1v1.1h-1.1zM97.6 659.8h1.1v1.1h-1.1zM118.6 659.8h1.1v1.1h-1.1zM120.6 659.8h1.1v1.1h-1.1zM114.6 662.8h1.1v1.1h-1.1zM98.6 665.8h1.1v1.1h-1.1zM105.6 665.8h1.1v1.1h-1.1zM109.6 665.8h1.1v1.1h-1.1zM97.6 667.8h1.1v1.1h-1.1zM100.6 667.8h1.1v1.1h-1.1zM104.6 667.8h1.1v1.1h-1.1zM105.6 667.8h1.1v1.1h-1.1zM107.6 668.8h1.1v1.1h-1.1zM99.6 671.8h1.1v1.1h-1.1zM104.6 671.8h1.1v1.1h-1.1zM106.6 695.8h1.1v1.1h-1.1zM108.6 695.8h1.1v1.1h-1.1z" fill="#323cff" opacity="0.8"/>
<path d="M148.6 601.8h1.1v1.1h-1.1zM140.6 602.8h1.1v1.1h-1.1zM141.6 602.8h1.1v1.1h-1.1zM148.6 602.8h1.1v1.1h-1.1zM149.6 602.8h1.1v1.1h-1.1zM151.6 602.8h1.1v1.1h-1.1zM142.6 603.8h1.1v1.1h-1.1zM146.6 603.8h1.1v1.1h-1.1zM148.6 603.8h1.1v1.1h-1.1zM149.6 603.8h1.1v1.1h-1.1zM152.6 603.8h1.1v1.1h-1.1zM153.6 603.8h1.1v1.1h-1.1zM139.6 604.8h1.1v1.1h-1.1zM141.6 604.8h1.1v1.1h-1.1zM144.6 604.8h1.1v1.1h-1.1zM145.6 604.8h1.1v1.1h-1.1zM146.6 604.8h1.1v1.1h-1.1zM147.6 604.8h1.1v1.1h-1.1zM152.6 604.8h1.1v1.1h-1.1zM131.6 605.8h1.1v1.1h-1.1zM134.6 605.8h1.1v1.1h-1.1zM136.6 605.8h1.1v1.1h-1.1zM148.6 605.8h1.1v1.1h-1.1zM151.6 605.8h1.1v1.1h-1.1zM123.6 606.8h1.1v1.1h-1.1zM124.6 606.8h1.1v1.1h-1.1zM128.6 606.8h1.1v1.1h-1.1zM129.6 606.8h1.1v1.1h-1.1zM132.6 606.8h1.1v1.1h-1.1zM133.6 606.8h1.1v1.1h-1.1zM137.6 606.8h1.1v1.1h-1.1zM140.6 606.8h1.1v1.1h-1.1zM150.6 606.8h1.1v1.1h-1.1zM153.6 606.8h1.1v1.1h-1.1zM155.6 606.8h1.1v1.1h-1.1zM124.6 607.8h1.1v1.1h-1.1zM126.6 607.8h1.1v1.1h-1.1zM128.6 607.8h1.1v1.1h-1.1zM130.6 607.8h1.1v1.1h-1.1zM131.6 607.8h1.1v1.1h-1.1zM132.6 607.8h1.1v1.1h-1.1zM146.6 607.8h1.1v1.1h-1.1zM148.6 607.8h1.1v1.1h-1.1zM153.6 607.8h1.1v1.1h-1.1zM154.6 607.8h1.1v1.1h-1.1zM124.6 608.8h1.1v1.1h-1.1zM126.6 608.8h1.1v1.1h-1.1zM127.6 608.8h1.1v1.1h-1.1zM147.6 608.8h1.1v1.1h-1.1zM150.6 608.8h1.1v1.1h-1.1zM152.6 608.8h1.1v1.1h-1.1zM153.6 608.8h1.1v1.1h-1.1zM124.6 609.8h1.1v1.1h-1.1zM126.6 609.8h1.1v1.1h-1.1zM155.6 609.8h1.1v1.1h-1.1zM122.6 610.8h1.1v1.1h-1.1zM152.6 610.8h1.1v1.1h-1.1zM155.6 610.8h1.1v1.1h-1.1zM158.6 610.8h1.1v1.1h-1.1zM159.6 610.8h1.1v1.1h-1.1zM113.6 611.8h1.1v1.1h-1.1zM117.6 611.8h1.1v1.1h-1.1zM118.6 611.8h1.1v1.1h-1.1zM119.6 611.8h1.1v1.1h-1.1zM121.6 611.8h1.1v1.1h-1.1zM123.6 611.8h1.1v1.1h-1.1zM124.6 611.8h1.1v1.1h-1.1zM153.6 611.8h1.1v1.1h-1.1zM159.6 611.8h1.1v1.1h-1.1zM110.6 612.8h1.1v1.1h-1.1zM114.6 612.8h1.1v1.1h-1.1zM115.6 612.8h1.1v1.1h-1.1zM116.6 612.8h1.1v1.1h-1.1zM111.6 613.8h1.1v1.1h-1.1zM113.6 613.8h1.1v1.1h-1.1zM156.6 613.8h1.1v1.1h-1.1zM109.6 614.8h1.1v1.1h-1.1zM110.6 614.8h1.1v1.1h-1.1zM114.6 614.8h1.1v1.1h-1.1zM116.6 614.8h1.1v1.1h-1.1zM119.6 614.8h1.1v1.1h-1.1zM121.6 614.8h1.1v1.1h-1.1zM154.6 614.8h1.1v1.1h-1.1zM158.6 614.8h1.1v1.1h-1.1zM116.6 615.8h1.1v1.1h-1.1zM153.6 615.8h1.1v1.1h-1.1zM154.6 615.8h1.1v1.1h-1.1zM158.6 615.8h1.1v1.1h-1.1zM159.6 615.8h1.1v1.1h-1.1zM115.6 616.8h1.1v1.1h-1.1zM116.6 616.8h1.1v1.1h-1.1zM118.6 616.8h1.1v1.1h-1.1zM120.6 616.8h1.1v1.1h-1.1zM152.6 616.8h1.1v1.1h-1.1zM153.6 616.8h1.1v1.1h-1.1zM116.6 617.8h1.1v1.1h-1.1zM120.6 617.8h1.1v1.1h-1.1zM121.6 617.8h1.1v1.1h-1.1zM148.6 617.8h1.1v1.1h-1.1zM149.6 617.8h1.1v1.1h-1.1zM150.6 617.8h1.1v1.1h-1.1zM152.6 617.8h1.1v1.1h-1.1zM115.6 618.8h1.1v1.1h-1.1zM117.6 618.8h1.1v1.1h-1.1zM118.6 618.8h1.1v1.1h-1.1zM120.6 618.8h1.1v1.1h-1.1zM122.6 618.8h1.1v1.1h-1.1zM125.6 618.8h1.1v1.1h-1.1zM129.6 618.8h1.1v1.1h-1.1zM132.6 618.8h1.1v1.1h-1.1zM146.6 618.8h1.1v1.1h-1.1zM151.6 618.8h1.1v1.1h-1.1zM152.6 618.8h1.1v1.1h-1.1zM114.6 619.8h1.1v1.1h-1.1zM117.6 619.8h1.1v1.1h-1.1zM119.6 619.8h1.1v1.1h-1.1zM120.6 619.8h1.1v1.1h-1.1zM122.6 619.8h1.1v1.1h-1.1zM123.6 619.8h1.1v1.1h-1.1zM127.6 619.8h1.1v1.1h-1.1zM128.6 619.8h1.1v1.1h-1.1zM134.6 619.8h1.1v1.1h-1.1zM144.6 619.8h1.1v1.1h-1.1zM145.6 619.8h1.1v1.1h-1.1zM146.6 619.8h1.1v1.1h-1.1zM118.6 620.8h1.1v1.1h-1.1zM122.6 620.8h1.1v1.1h-1.1zM123.6 620.8h1.1v1.1h-1.1zM124.6 620.8h1.1v1.1h-1.1zM129.6 620.8h1.1v1.1h-1.1zM140.6 620.8h1.1v1.1h-1.1zM147.6 620.8h1.1v1.1h-1.1zM148.6 620.8h1.1v1.1h-1.1zM150.6 620.8h1.1v1.1h-1.1zM151.6 620.8h1.1v1.1h-1.1zM117.6 621.8h1.1v1.1h-1.1zM118.6 621.8h1.1v1.1h-1.1zM123.6 621.8h1.1v1.1h-1.1zM124.6 621.8h1.1v1.1h-1.1zM128.6 621.8h1.1v1.1h-1.1zM130.6 621.8h1.1v1.1h-1.1zM131.6 621.8h1.1v1.1h-1.1zM137.6 621.8h1.1v1.1h-1.1zM140.6 621.8h1.1v1.1h-1.1zM121.6 622.8h1.1v1.1h-1.1zM122.6 622.8h1.1v1.1h-1.1zM124.6 622.8h1.1v1.1h-1.1zM137.6 622.8h1.1v1.1h-1.1zM139.6 622.8h1.1v1.1h-1.1zM117.6 623.8h1.1v1.1h-1.1zM118.6 623.8h1.1v1.1h-1.1zM119.6 623.8h1.1v1.1h-1.1zM123.6 623.8h1.1v1.1h-1.1zM120.6 624.8h1.1v1.1h-1.1zM121.6 624.8h1.1v1.1h-1.1zM122.6 624.8h1.1v1.1h-1.1zM123.6 624.8h1.1v1.1h-1.1zM117.6 625.8h1.1v1.1h-1.1zM121.6 625.8h1.1v1.1h-1.1zM122.6 625.8h1.1v1.1h-1.1zM120.6 626.8h1.1v1.1h-1.1zM124.6 626.8h1.1v1.1h-1.1zM119.6 627.8h1.1v1.1h-1.1zM123.6 627.8h1.1v1.1h-1.1zM124.6 627.8h1.1v1.1h-1.1zM125.6 627.8h1.1v1.1h-1.1zM118.6 628.8h1.1v1.1h-1.1zM119.6 628.8h1.1v1.1h-1.1zM123.6 628.8h1.1v1.1h-1.1zM125.6 628.8h1.1v1.1h-1.1zM117.6 629.8h1.1v1.1h-1.1zM120.6 629.8h1.1v1.1h-1.1zM121.6 629.8h1.1v1.1h-1.1zM122.6 629.8h1.1v1.1h-1.1zM123.6 629.8h1.1v1.1h-1.1zM125.6 629.8h1.1v1.1h-1.1zM126.6 629.8h1.1v1.1h-1.1zM117.6 630.8h1.1v1.1h-1.1zM118.6 630.8h1.1v1.1h-1.1zM124.6 630.8h1.1v1.1h-1.1zM120.6 631.8h1.1v1.1h-1.1zM121.6 631.8h1.1v1.1h-1.1zM122.6 631.8h1.1v1.1h-1.1zM123.6 631.8h1.1v1.1h-1.1zM128.6 631.8h1.1v1.1h-1.1zM129.6 631.8h1.1v1.1h-1.1zM122.6 632.8h1.1v1.1h-1.1zM125.6 632.8h1.1v1.1h-1.1zM127.6 632.8h1.1v1.1h-1.1zM128.6 632.8h1.1v1.1h-1.1zM120.6 633.8h1.1v1.1h-1.1zM125.6 633.8h1.1v1.1h-1.1zM128.6 633.8h1.1v1.1h-1.1zM122.6 634.8h1.1v1.1h-1.1zM128.6 634.8h1.1v1.1h-1.1zM131.6 635.8h1.1v1.1h-1.1zM118.6 636.8h1.1v1.1h-1.1zM119.6 636.8h1.1v1.1h-1.1zM116.6 637.8h1.1v1.1h-1.1zM117.6 637.8h1.1v1.1h-1.1zM118.6 637.8h1.1v1.1h-1.1zM119.6 637.8h1.1v1.1h-1.1zM122.6 637.8h1.1v1.1h-1.1zM123.6 637.8h1.1v1.1h-1.1zM128.6 637.8h1.1v1.1h-1.1zM129.6 637.8h1.1v1.1h-1.1zM113.6 638.8h1.1v1.1h-1.1zM114.6 638.8h1.1v1.1h-1.1zM115.6 638.8h1.1v1.1h-1.1zM117.6 638.8h1.1v1.1h-1.1zM117.6 639.8h1.1v1.1h-1.1zM129.6 639.8h1.1v1.1h-1.1zM130.6 639.8h1.1v1.1h-1.1zM131.6 639.8h1.1v1.1h-1.1zM116.6 640.8h1.1v1.1h-1.1zM112.6 641.8h1.1v1.1h-1.1zM113.6 641.8h1.1v1.1h-1.1zM114.6 641.8h1.1v1.1h-1.1zM118.6 641.8h1.1v1.1h-1.1zM127.6 641.8h1.1v1.1h-1.1zM128.6 641.8h1.1v1.1h-1.1zM110.6 642.8h1.1v1.1h-1.1zM112.6 642.8h1.1v1.1h-1.1zM114.6 642.8h1.1v1.1h-1.1zM128.6 642.8h1.1v1.1h-1.1zM108.6 643.8h1.1v1.1h-1.1zM112.6 643.8h1.1v1.1h-1.1zM126.6 643.8h1.1v1.1h-1.1zM111.6 644.8h1.1v1.1h-1.1zM123.6 644.8h1.1v1.1h-1.1zM125.6 644.8h1.1v1.1h-1.1zM127.6 644.8h1.1v1.1h-1.1zM109.6 645.8h1.1v1.1h-1.1zM113.6 645.8h1.1v1.1h-1.1zM125.6 645.8h1.1v1.1h-1.1zM126.6 645.8h1.1v1.1h-1.1zM127.6 645.8h1.1v1.1h-1.1zM111.6 646.8h1.1v1.1h-1.1zM127.6 646.8h1.1v1.1h-1.1zM108.6 647.8h1.1v1.1h-1.1zM126.6 647.8h1.1v1.1h-1.1zM107.6 648.8h1.1v1.1h-1.1zM125.6 648.8h1.1v1.1h-1.1zM128.6 648.8h1.1v1.1h-1.1zM106.6 649.8h1.1v1.1h-1.1zM129.6 649.8h1.1v1.1h-1.1zM107.6 650.8h1.1v1.1h-1.1zM103.6 651.8h1.1v1.1h-1.1zM106.6 651.8h1.1v1.1h-1.1zM123.6 651.8h1.1v1.1h-1.1zM124.6 651.8h1.1v1.1h-1.1zM104.6 652.8h1.1v1.1h-1.1zM105.6 652.8h1.1v1.1h-1.1zM123.6 652.8h1.1v1.1h-1.1zM104.6 653.8h1.1v1.1h-1.1zM122.6 653.8h1.1v1.1h-1.1zM124.6 653.8h1.1v1.1h-1.1zM105.6 654.8h1.1v1.1h-1.1zM107.6 654.8h1.1v1.1h-1.1zM121.6 655.8h1.1v1.1h-1.1zM102.6 656.8h1.1v1.1h-1.1zM102.6 657.8h1.1v1.1h-1.1zM102.6 658.8h1.1v1.1h-1.1zM103.6 658.8h1.1v1.1h-1.1zM104.6 658.8h1.1v1.1h-1.1zM108.6 658.8h1.1v1.1h-1.1zM117.6 658.8h1.1v1.1h-1.1zM98.6 659.8h1.1v1.1h-1.1zM103.6 659.8h1.1v1.1h-1.1zM114.6 659.8h1.1v1.1h-1.1zM115.6 659.8h1.1v1.1h-1.1zM98.6 660.8h1.1v1.1h-1.1zM101.6 660.8h1.1v1.1h-1.1zM102.6 660.8h1.1v1.1h-1.1zM104.6 660.8h1.1v1.1h-1.1zM107.6 660.8h1.1v1.1h-1.1zM111.6 660.8h1.1v1.1h-1.1zM113.6 660.8h1.1v1.1h-1.1zM116.6 660.8h1.1v1.1h-1.1zM99.6 661.8h1.1v1.1h-1.1zM101.6 661.8h1.1v1.1h-1.1zM102.6 661.8h1.1v1.1h-1.1zM104.6 661.8h1.1v1.1h-1.1zM107.6 661.8h1.1v1.1h-1.1zM110.6 661.8h1.1v1.1h-1.1zM112.6 661.8h1.1v1.1h-1.1zM115.6 661.8h1.1v1.1h-1.1zM101.6 662.8h1.1v1.1h-1.1zM102.6 662.8h1.1v1.1h-1.1zM106.6 662.8h1.1v1.1h-1.1zM107.6 662.8h1.1v1.1h-1.1zM108.6 662.8h1.1v1.1h-1.1zM110.6 662.8h1.1v1.1h-1.1zM111.6 662.8h1.1v1.1h-1.1zM102.6 663.8h1.1v1.1h-1.1zM103.6 663.8h1.1v1.1h-1.1zM110.6 663.8h1.1v1.1h-1.1zM110.6 664.8h1.1v1.1h-1.1zM110.6 695.8h1.1v1.1h-1.1zM112.6 695.8h1.1v1.1h-1.1zM113.6 695.8h1.1v1.1h-1.1zM114.6 695.8h1.1v1.1h-1.1zM115.6 695.8h1.1v1.1h-1.1z" fill="#323cff" opacity="0.8"/>
<path d="M140.6 604.8h1.1v1.1h-1.1zM150.6 604.8h1.1v1.1h-1.1zM139.6 605.8h1.1v1.1h-1.1zM140.6 605.8h1.1v1.1h-1.1zM141.6 605.8h1.1v1.1h-1.1zM144.6 605.8h1.1v1.1h-1.1zM141.6 606.8h1.1v1.1h-1.1zM142.6 606.8h1.1v1.1h-1.1zM146.6 606.8h1.1v1.1h-1.1zM135.6 607.8h1.1v1.1h-1.1zM137.6 607.8h1.1v1.1h-1.1zM138.6 607.8h1.1v1.1h-1.1zM140.6 607.8h1.1v1.1h-1.1zM143.6 607.8h1.1v1.1h-1.1zM144.6 607.8h1.1v1.1h-1.1zM130.6 608.8h1.1v1.1h-1.1zM131.6 608.8h1.1v1.1h-1.1zM132.6 608.8h1.1v1.1h-1.1zM132.6 609.8h1.1v1.1h-1.1zM152.6 609.8h1.1v1.1h-1.1zM153.6 609.8h1.1v1.1h-1.1zM126.6 610.8h1.1v1.1h-1.1zM130.6 610.8h1.1v1.1h-1.1zM151.6 610.8h1.1v1.1h-1.1zM154.6 610.8h1.1v1.1h-1.1zM150.6 611.8h1.1v1.1h-1.1zM154.6 611.8h1.1v1.1h-1.1zM118.6 612.8h1.1v1.1h-1.1zM119.6 612.8h1.1v1.1h-1.1zM120.6 612.8h1.1v1.1h-1.1zM121.6 612.8h1.1v1.1h-1.1zM122.6 612.8h1.1v1.1h-1.1zM126.6 612.8h1.1v1.1h-1.1zM150.6 612.8h1.1v1.1h-1.1zM153.6 612.8h1.1v1.1h-1.1zM154.6 612.8h1.1v1.1h-1.1zM117.6 613.8h1.1v1.1h-1.1zM118.6 613.8h1.1v1.1h-1.1zM119.6 613.8h1.1v1.1h-1.1zM121.6 613.8h1.1v1.1h-1.1zM118.6 614.8h1.1v1.1h-1.1zM120.6 614.8h1.1v1.1h-1.1zM122.6 614.8h1.1v1.1h-1.1zM123.6 614.8h1.1v1.1h-1.1zM152.6 614.8h1.1v1.1h-1.1zM120.6 615.8h1.1v1.1h-1.1zM122.6 615.8h1.1v1.1h-1.1zM123.6 615.8h1.1v1.1h-1.1zM127.6 615.8h1.1v1.1h-1.1zM152.6 615.8h1.1v1.1h-1.1zM150.6 616.8h1.1v1.1h-1.1zM151.6 616.8h1.1v1.1h-1.1zM122.6 617.8h1.1v1.1h-1.1zM123.6 617.8h1.1v1.1h-1.1zM126.6 617.8h1.1v1.1h-1.1zM127.6 617.8h1.1v1.1h-1.1zM144.6 617.8h1.1v1.1h-1.1zM146.6 617.8h1.1v1.1h-1.1zM135.6 618.8h1.1v1.1h-1.1zM130.6 619.8h1.1v1.1h-1.1zM135.6 619.8h1.1v1.1h-1.1zM139.6 619.8h1.1v1.1h-1.1zM142.6 619.8h1.1v1.1h-1.1zM130.6 620.8h1.1v1.1h-1.1zM132.6 620.8h1.1v1.1h-1.1zM136.6 620.8h1.1v1.1h-1.1zM137.6 620.8h1.1v1.1h-1.1zM138.6 620.8h1.1v1.1h-1.1zM139.6 620.8h1.1v1.1h-1.1zM133.6 621.8h1.1v1.1h-1.1zM134.6 621.8h1.1v1.1h-1.1zM120.6 628.8h1.1v1.1h-1.1zM126.6 633.8h1.1v1.1h-1.1zM126.6 634.8h1.1v1.1h-1.1zM121.6 635.8h1.1v1.1h-1.1zM124.6 635.8h1.1v1.1h-1.1zM125.6 635.8h1.1v1.1h-1.1zM120.6 636.8h1.1v1.1h-1.1zM121.6 636.8h1.1v1.1h-1.1zM122.6 636.8h1.1v1.1h-1.1zM124.6 636.8h1.1v1.1h-1.1zM125.6 636.8h1.1v1.1h-1.1zM126.6 636.8h1.1v1.1h-1.1zM127.6 636.8h1.1v1.1h-1.1zM125.6 637.8h1.1v1.1h-1.1zM127.6 637.8h1.1v1.1h-1.1zM120.6 638.8h1.1v1.1h-1.1zM124.6 638.8h1.1v1.1h-1.1zM126.6 638.8h1.1v1.1h-1.1zM127.6 638.8h1.1v1.1h-1.1zM128.6 638.8h1.1v1.1h-1.1zM118.6 639.8h1.1v1.1h-1.1zM120.6 639.8h1.1v1.1h-1.1zM122.6 639.8h1.1v1.1h-1.1zM128.6 639.8h1.1v1.1h-1.1zM117.6 640.8h1.1v1.1h-1.1zM118.6 640.8h1.1v1.1h-1.1zM122.6 640.8h1.1v1.1h-1.1zM127.6 640.8h1.1v1.1h-1.1zM128.6 640.8h1.1v1.1h-1.1zM120.6 641.8h1.1v1.1h-1.1zM121.6 641.8h1.1v1.1h-1.1zM124.6 641.8h1.1v1.1h-1.1zM121.6 642.8h1.1v1.1h-1.1zM123.6 642.8h1.1v1.1h-1.1zM125.6 642.8h1.1v1.1h-1.1zM113.6 643.8h1.1v1.1h-1.1zM119.6 643.8h1.1v1.1h-1.1zM123.6 643.8h1.1v1.1h-1.1zM112.6 645.8h1.1v1.1h-1.1zM124.6 645.8h1.1v1.1h-1.1zM110.6 646.8h1.1v1.1h-1.1zM124.6 646.8h1.1v1.1h-1.1zM109.6 647.8h1.1v1.1h-1.1zM112.6 647.8h1.1v1.1h-1.1zM124.6 647.8h1.1v1.1h-1.1zM110.6 648.8h1.1v1.1h-1.1zM108.6 649.8h1.1v1.1h-1.1zM119.6 649.8h1.1v1.1h-1.1zM123.6 649.8h1.1v1.1h-1.1zM120.6 650.8h1.1v1.1h-1.1zM121.6 650.8h1.1v1.1h-1.1zM107.6 651.8h1.1v1.1h-1.1zM109.6 651.8h1.1v1.1h-1.1zM122.6 651.8h1.1v1.1h-1.1zM108.6 652.8h1.1v1.1h-1.1zM121.6 652.8h1.1v1.1h-1.1zM122.6 652.8h1.1v1.1h-1.1zM106.6 654.8h1.1v1.1h-1.1zM119.6 654.8h1.1v1.1h-1.1zM120.6 654.8h1.1v1.1h-1.1zM107.6 655.8h1.1v1.1h-1.1zM116.6 655.8h1.1v1.1h-1.1zM118.6 655.8h1.1v1.1h-1.1zM105.6 656.8h1.1v1.1h-1.1zM107.6 656.8h1.1v1.1h-1.1zM115.6 656.8h1.1v1.1h-1.1zM107.6 657.8h1.1v1.1h-1.1zM108.6 657.8h1.1v1.1h-1.1zM109.6 657.8h1.1v1.1h-1.1zM110.6 657.8h1.1v1.1h-1.1zM116.6 657.8h1.1v1.1h-1.1zM105.6 658.8h1.1v1.1h-1.1zM109.6 658.8h1.1v1.1h-1.1zM111.6 658.8h1.1v1.1h-1.1zM112.6 658.8h1.1v1.1h-1.1zM114.6 658.8h1.1v1.1h-1.1zM115.6 658.8h1.1v1.1h-1.1zM109.6 659.8h1.1v1.1h-1.1zM111.6 659.8h1.1v1.1h-1.1zM109.6 660.8h1.1v1.1h-1.1z" fill="#323cff" opacity="0.8"/>
<path d="M150.6 605.8h1.1v1.1h-1.1zM136.6 606.8h1.1v1.1h-1.1zM138.6 606.8h1.1v1.1h-1.1zM144.6 606.8h1.1v1.1h-1.1zM148.6 606.8h1.1v1.1h-1.1zM149.6 606.8h1.1v1.1h-1.1zM142.6 607.8h1.1v1.1h-1.1zM145.6 607.8h1.1v1.1h-1.1zM149.6 607.8h1.1v1.1h-1.1zM134.6 608.8h1.1v1.1h-1.1zM142.6 608.8h1.1v1.1h-1.1zM144.6 608.8h1.1v1.1h-1.1zM149.6 608.8h1.1v1.1h-1.1zM130.6 609.8h1.1v1.1h-1.1zM151.6 609.8h1.1v1.1h-1.1zM127.6 610.8h1.1v1.1h-1.1zM129.6 610.8h1.1v1.1h-1.1zM148.6 610.8h1.1v1.1h-1.1zM149.6 610.8h1.1v1.1h-1.1zM150.6 610.8h1.1v1.1h-1.1zM128.6 611.8h1.1v1.1h-1.1zM129.6 611.8h1.1v1.1h-1.1zM131.6 611.8h1.1v1.1h-1.1zM151.6 611.8h1.1v1.1h-1.1zM152.6 611.8h1.1v1.1h-1.1zM131.6 612.8h1.1v1.1h-1.1zM122.6 613.8h1.1v1.1h-1.1zM123.6 613.8h1.1v1.1h-1.1zM151.6 613.8h1.1v1.1h-1.1zM124.6 614.8h1.1v1.1h-1.1zM126.6 614.8h1.1v1.1h-1.1zM127.6 614.8h1.1v1.1h-1.1zM147.6 614.8h1.1v1.1h-1.1zM124.6 615.8h1.1v1.1h-1.1zM125.6 615.8h1.1v1.1h-1.1zM145.6 615.8h1.1v1.1h-1.1zM146.6 615.8h1.1v1.1h-1.1zM148.6 615.8h1.1v1.1h-1.1zM149.6 615.8h1.1v1.1h-1.1zM125.6 616.8h1.1v1.1h-1.1zM126.6 616.8h1.1v1.1h-1.1zM132.6 616.8h1.1v1.1h-1.1zM144.6 616.8h1.1v1.1h-1.1zM148.6 616.8h1.1v1.1h-1.1zM149.6 616.8h1.1v1.1h-1.1zM132.6 617.8h1.1v1.1h-1.1zM130.6 618.8h1.1v1.1h-1.1zM133.6 618.8h1.1v1.1h-1.1zM137.6 618.8h1.1v1.1h-1.1zM141.6 618.8h1.1v1.1h-1.1zM143.6 618.8h1.1v1.1h-1.1zM144.6 618.8h1.1v1.1h-1.1zM137.6 619.8h1.1v1.1h-1.1zM134.6 620.8h1.1v1.1h-1.1zM135.6 620.8h1.1v1.1h-1.1zM124.6 637.8h1.1v1.1h-1.1zM126.6 637.8h1.1v1.1h-1.1zM119.6 638.8h1.1v1.1h-1.1zM121.6 638.8h1.1v1.1h-1.1zM121.6 639.8h1.1v1.1h-1.1zM125.6 639.8h1.1v1.1h-1.1zM123.6 640.8h1.1v1.1h-1.1zM124.6 640.8h1.1v1.1h-1.1zM126.6 640.8h1.1v1.1h-1.1zM117.6 641.8h1.1v1.1h-1.1zM120.6 642.8h1.1v1.1h-1.1zM114.6 643.8h1.1v1.1h-1.1zM117.6 643.8h1.1v1.1h-1.1zM120.6 643.8h1.1v1.1h-1.1zM122.6 643.8h1.1v1.1h-1.1zM114.6 644.8h1.1v1.1h-1.1zM115.6 644.8h1.1v1.1h-1.1zM120.6 645.8h1.1v1.1h-1.1zM111.6 647.8h1.1v1.1h-1.1zM123.6 647.8h1.1v1.1h-1.1zM122.6 648.8h1.1v1.1h-1.1zM109.6 649.8h1.1v1.1h-1.1zM110.6 649.8h1.1v1.1h-1.1zM122.6 649.8h1.1v1.1h-1.1zM109.6 650.8h1.1v1.1h-1.1zM110.6 651.8h1.1v1.1h-1.1zM109.6 653.8h1.1v1.1h-1.1zM110.6 653.8h1.1v1.1h-1.1zM119.6 653.8h1.1v1.1h-1.1zM120.6 653.8h1.1v1.1h-1.1zM118.6 654.8h1.1v1.1h-1.1zM108.6 655.8h1.1v1.1h-1.1zM109.6 655.8h1.1v1.1h-1.1zM110.6 655.8h1.1v1.1h-1.1zM106.6 656.8h1.1v1.1h-1.1zM114.6 656.8h1.1v1.1h-1.1zM111.6 657.8h1.1v1.1h-1.1zM113.6 657.8h1.1v1.1h-1.1zM115.6 657.8h1.1v1.1h-1.1zM108.6 659.8h1.1v1.1h-1.1z" fill="#0a64ff" opacity="1"/>
<path d="M149.6 605.8h1.1v1.1h-1.1zM143.6 606.8h1.1v1.1h-1.1zM136.6 607.8h1.1v1.1h-1.1zM141.6 607.8h1.1v1.1h-1.1zM135.6 608.8h1.1v1.1h-1.1zM137.6 608.8h1.1v1.1h-1.1zM138.6 608.8h1.1v1.1h-1.1zM139.6 608.8h1.1v1.1h-1.1zM140.6 608.8h1.1v1.1h-1.1zM141.6 608.8h1.1v1.1h-1.1zM146.6 608.8h1.1v1.1h-1.1zM131.6 609.8h1.1v1.1h-1.1zM143.6 609.8h1.1v1.1h-1.1zM148.6 609.8h1.1v1.1h-1.1zM149.6 609.8h1.1v1.1h-1.1zM128.6 610.8h1.1v1.1h-1.1zM133.6 610.8h1.1v1.1h-1.1zM129.6 612.8h1.1v1.1h-1.1zM124.6 613.8h1.1v1.1h-1.1zM125.6 613.8h1.1v1.1h-1.1zM150.6 613.8h1.1v1.1h-1.1zM125.6 614.8h1.1v1.1h-1.1zM129.6 614.8h1.1v1.1h-1.1zM148.6 614.8h1.1v1.1h-1.1zM151.6 614.8h1.1v1.1h-1.1zM126.6 615.8h1.1v1.1h-1.1zM128.6 615.8h1.1v1.1h-1.1zM144.6 615.8h1.1v1.1h-1.1zM147.6 615.8h1.1v1.1h-1.1zM127.6 616.8h1.1v1.1h-1.1zM130.6 616.8h1.1v1.1h-1.1zM131.6 616.8h1.1v1.1h-1.1zM145.6 616.8h1.1v1.1h-1.1zM146.6 616.8h1.1v1.1h-1.1zM129.6 617.8h1.1v1.1h-1.1zM130.6 617.8h1.1v1.1h-1.1zM131.6 617.8h1.1v1.1h-1.1zM133.6 617.8h1.1v1.1h-1.1zM137.6 617.8h1.1v1.1h-1.1zM138.6 617.8h1.1v1.1h-1.1zM139.6 617.8h1.1v1.1h-1.1zM142.6 617.8h1.1v1.1h-1.1zM134.6 618.8h1.1v1.1h-1.1zM136.6 618.8h1.1v1.1h-1.1zM138.6 618.8h1.1v1.1h-1.1zM140.6 618.8h1.1v1.1h-1.1zM131.6 619.8h1.1v1.1h-1.1zM140.6 619.8h1.1v1.1h-1.1zM121.6 637.8h1.1v1.1h-1.1zM122.6 638.8h1.1v1.1h-1.1zM126.6 639.8h1.1v1.1h-1.1zM121.6 640.8h1.1v1.1h-1.1zM116.6 642.8h1.1v1.1h-1.1zM117.6 642.8h1.1v1.1h-1.1zM119.6 642.8h1.1v1.1h-1.1zM122.6 642.8h1.1v1.1h-1.1zM118.6 643.8h1.1v1.1h-1.1zM116.6 644.8h1.1v1.1h-1.1zM120.6 644.8h1.1v1.1h-1.1zM116.6 645.8h1.1v1.1h-1.1zM117.6 645.8h1.1v1.1h-1.1zM118.6 645.8h1.1v1.1h-1.1zM122.6 645.8h1.1v1.1h-1.1zM123.6 645.8h1.1v1.1h-1.1zM113.6 646.8h1.1v1.1h-1.1zM114.6 646.8h1.1v1.1h-1.1zM119.6 646.8h1.1v1.1h-1.1zM122.6 646.8h1.1v1.1h-1.1zM119.6 647.8h1.1v1.1h-1.1zM111.6 648.8h1.1v1.1h-1.1zM112.6 648.8h1.1v1.1h-1.1zM120.6 648.8h1.1v1.1h-1.1zM121.6 648.8h1.1v1.1h-1.1zM120.6 649.8h1.1v1.1h-1.1zM121.6 649.8h1.1v1.1h-1.1zM118.6 650.8h1.1v1.1h-1.1zM119.6 650.8h1.1v1.1h-1.1zM108.6 651.8h1.1v1.1h-1.1zM119.6 651.8h1.1v1.1h-1.1zM108.6 653.8h1.1v1.1h-1.1zM118.6 653.8h1.1v1.1h-1.1zM108.6 654.8h1.1v1.1h-1.1zM110.6 654.8h1.1v1.1h-1.1zM115.6 654.8h1.1v1.1h-1.1zM117.6 654.8h1.1v1.1h-1.1zM108.6 656.8h1.1v1.1h-1.1zM112.6 656.8h1.1v1.1h-1.1zM106.6 657.8h1.1v1.1h-1.1zM107.6 658.8h1.1v1.1h-1.1zM110.6 658.8h1.1v1.1h-1.1z" fill="#0078ff" opacity="1"/>
<path d="M145.6 606.8h1.1v1.1h-1.1zM136.6 608.8h1.1v1.1h-1.1zM145.6 608.8h1.1v1.1h-1.1zM148.6 608.8h1.1v1.1h-1.1zM134.6 609.8h1.1v1.1h-1.1zM136.6 609.8h1.1v1.1h-1.1zM144.6 609.8h1.1v1.1h-1.1zM145.6 609.8h1.1v1.1h-1.1zM146.6 609.8h1.1v1.1h-1.1zM147.6 609.8h1.1v1.1h-1.1zM150.6 609.8h1.1v1.1h-1.1zM132.6 610.8h1.1v1.1h-1.1zM126.6 611.8h1.1v1.1h-1.1zM132.6 611.8h1.1v1.1h-1.1zM146.6 611.8h1.1v1.1h-1.1zM147.6 611.8h1.1v1.1h-1.1zM148.6 611.8h1.1v1.1h-1.1zM125.6 612.8h1.1v1.1h-1.1zM127.6 612.8h1.1v1.1h-1.1zM128.6 612.8h1.1v1.1h-1.1zM149.6 612.8h1.1v1.1h-1.1zM127.6 613.8h1.1v1.1h-1.1zM129.6 613.8h1.1v1.1h-1.1zM130.6 613.8h1.1v1.1h-1.1zM148.6 613.8h1.1v1.1h-1.1zM131.6 614.8h1.1v1.1h-1.1zM132.6 614.8h1.1v1.1h-1.1zM145.6 614.8h1.1v1.1h-1.1zM130.6 615.8h1.1v1.1h-1.1zM129.6 616.8h1.1v1.1h-1.1zM134.6 616.8h1.1v1.1h-1.1zM139.6 616.8h1.1v1.1h-1.1zM134.6 617.8h1.1v1.1h-1.1zM135.6 617.8h1.1v1.1h-1.1zM136.6 617.8h1.1v1.1h-1.1zM131.6 618.8h1.1v1.1h-1.1zM142.6 618.8h1.1v1.1h-1.1zM125.6 638.8h1.1v1.1h-1.1zM119.6 641.8h1.1v1.1h-1.1zM122.6 641.8h1.1v1.1h-1.1zM123.6 641.8h1.1v1.1h-1.1zM115.6 642.8h1.1v1.1h-1.1zM118.6 642.8h1.1v1.1h-1.1zM115.6 643.8h1.1v1.1h-1.1zM116.6 643.8h1.1v1.1h-1.1zM119.6 644.8h1.1v1.1h-1.1zM122.6 644.8h1.1v1.1h-1.1zM115.6 645.8h1.1v1.1h-1.1zM121.6 645.8h1.1v1.1h-1.1zM112.6 646.8h1.1v1.1h-1.1zM117.6 646.8h1.1v1.1h-1.1zM118.6 646.8h1.1v1.1h-1.1zM120.6 646.8h1.1v1.1h-1.1zM121.6 646.8h1.1v1.1h-1.1zM113.6 647.8h1.1v1.1h-1.1zM118.6 647.8h1.1v1.1h-1.1zM121.6 647.8h1.1v1.1h-1.1zM122.6 647.8h1.1v1.1h-1.1zM119.6 648.8h1.1v1.1h-1.1zM110.6 650.8h1.1v1.1h-1.1zM110.6 652.8h1.1v1.1h-1.1zM118.6 652.8h1.1v1.1h-1.1zM119.6 652.8h1.1v1.1h-1.1zM111.6 653.8h1.1v1.1h-1.1zM117.6 653.8h1.1v1.1h-1.1zM109.6 654.8h1.1v1.1h-1.1zM116.6 654.8h1.1v1.1h-1.1zM111.6 655.8h1.1v1.1h-1.1zM112.6 655.8h1.1v1.1h-1.1zM113.6 655.8h1.1v1.1h-1.1zM115.6 655.8h1.1v1.1h-1.1zM110.6 656.8h1.1v1.1h-1.1zM111.6 656.8h1.1v1.1h-1.1z" fill="#0097ed" opacity="1"/>
<path d="M139.6 609.8h1.1v1.1h-1.1zM140.6 609.8h1.1v1.1h-1.1zM142.6 609.8h1.1v1.1h-1.1zM131.6 610.8h1.1v1.1h-1.1zM144.6 610.8h1.1v1.1h-1.1zM147.6 610.8h1.1v1.1h-1.1zM149.6 611.8h1.1v1.1h-1.1zM130.6 612.8h1.1v1.1h-1.1zM132.6 612.8h1.1v1.1h-1.1zM148.6 612.8h1.1v1.1h-1.1zM128.6 613.8h1.1v1.1h-1.1zM131.6 613.8h1.1v1.1h-1.1zM132.6 613.8h1.1v1.1h-1.1zM147.6 613.8h1.1v1.1h-1.1zM149.6 613.8h1.1v1.1h-1.1zM128.6 614.8h1.1v1.1h-1.1zM130.6 614.8h1.1v1.1h-1.1zM146.6 614.8h1.1v1.1h-1.1zM149.6 614.8h1.1v1.1h-1.1zM131.6 615.8h1.1v1.1h-1.1zM135.6 615.8h1.1v1.1h-1.1zM138.6 615.8h1.1v1.1h-1.1zM133.6 616.8h1.1v1.1h-1.1zM135.6 616.8h1.1v1.1h-1.1zM136.6 616.8h1.1v1.1h-1.1zM137.6 616.8h1.1v1.1h-1.1zM140.6 616.8h1.1v1.1h-1.1zM141.6 616.8h1.1v1.1h-1.1zM142.6 616.8h1.1v1.1h-1.1zM140.6 617.8h1.1v1.1h-1.1zM141.6 617.8h1.1v1.1h-1.1zM121.6 643.8h1.1v1.1h-1.1zM117.6 644.8h1.1v1.1h-1.1zM119.6 645.8h1.1v1.1h-1.1zM115.6 646.8h1.1v1.1h-1.1zM114.6 647.8h1.1v1.1h-1.1zM120.6 647.8h1.1v1.1h-1.1zM113.6 648.8h1.1v1.1h-1.1zM118.6 648.8h1.1v1.1h-1.1zM112.6 649.8h1.1v1.1h-1.1zM111.6 650.8h1.1v1.1h-1.1zM112.6 650.8h1.1v1.1h-1.1zM116.6 650.8h1.1v1.1h-1.1zM112.6 651.8h1.1v1.1h-1.1zM113.6 651.8h1.1v1.1h-1.1zM107.6 652.8h1.1v1.1h-1.1zM117.6 652.8h1.1v1.1h-1.1zM115.6 653.8h1.1v1.1h-1.1zM116.6 653.8h1.1v1.1h-1.1zM111.6 654.8h1.1v1.1h-1.1zM112.6 654.8h1.1v1.1h-1.1z" fill="#00b6dc" opacity="1"/>
<path d="M137.6 609.8h1.1v1.1h-1.1zM138.6 609.8h1.1v1.1h-1.1zM141.6 609.8h1.1v1.1h-1.1zM136.6 610.8h1.1v1.1h-1.1zM145.6 610.8h1.1v1.1h-1.1zM146.6 610.8h1.1v1.1h-1.1zM130.6 611.8h1.1v1.1h-1.1zM133.6 611.8h1.1v1.1h-1.1zM147.6 612.8h1.1v1.1h-1.1zM146.6 613.8h1.1v1.1h-1.1zM133.6 614.8h1.1v1.1h-1.1zM144.6 614.8h1.1v1.1h-1.1zM129.6 615.8h1.1v1.1h-1.1zM132.6 615.8h1.1v1.1h-1.1zM136.6 615.8h1.1v1.1h-1.1zM137.6 615.8h1.1v1.1h-1.1zM141.6 615.8h1.1v1.1h-1.1zM143.6 615.8h1.1v1.1h-1.1zM138.6 616.8h1.1v1.1h-1.1zM143.6 616.8h1.1v1.1h-1.1zM118.6 644.8h1.1v1.1h-1.1zM115.6 647.8h1.1v1.1h-1.1zM117.6 647.8h1.1v1.1h-1.1zM117.6 648.8h1.1v1.1h-1.1zM111.6 649.8h1.1v1.1h-1.1zM113.6 649.8h1.1v1.1h-1.1zM117.6 649.8h1.1v1.1h-1.1zM118.6 649.8h1.1v1.1h-1.1zM117.6 650.8h1.1v1.1h-1.1zM111.6 651.8h1.1v1.1h-1.1zM118.6 651.8h1.1v1.1h-1.1zM111.6 652.8h1.1v1.1h-1.1zM113.6 652.8h1.1v1.1h-1.1zM112.6 653.8h1.1v1.1h-1.1zM114.6 654.8h1.1v1.1h-1.1zM109.6 656.8h1.1v1.1h-1.1z" fill="#00d5cb" opacity="1"/>
<path d="M135.6 609.8h1.1v1.1h-1.1zM134.6 610.8h1.1v1.1h-1.1zM135.6 610.8h1.1v1.1h-1.1zM143.6 610.8h1.1v1.1h-1.1zM145.6 611.8h1.1v1.1h-1.1zM134.6 612.8h1.1v1.1h-1.1zM143.6 614.8h1.1v1.1h-1.1zM133.6 615.8h1.1v1.1h-1.1zM134.6 615.8h1.1v1.1h-1.1zM139.6 615.8h1.1v1.1h-1.1zM140.6 615.8h1.1v1.1h-1.1zM142.6 615.8h1.1v1.1h-1.1zM116.6 646.8h1.1v1.1h-1.1zM114.6 648.8h1.1v1.1h-1.1zM116.6 648.8h1.1v1.1h-1.1zM114.6 649.8h1.1v1.1h-1.1zM113.6 650.8h1.1v1.1h-1.1zM117.6 651.8h1.1v1.1h-1.1zM112.6 652.8h1.1v1.1h-1.1zM116.6 652.8h1.1v1.1h-1.1zM114.6 655.8h1.1v1.1h-1.1z" fill="#0ddf99" opacity="1"/>
<path d="M137.6 610.8h1.1v1.1h-1.1zM142.6 610.8h1.1v1.1h-1.1zM133.6 612.8h1.1v1.1h-1.1zM145.6 612.8h1.1v1.1h-1.1zM146.6 612.8h1.1v1.1h-1.1zM133.6 613.8h1.1v1.1h-1.1zM144.6 613.8h1.1v1.1h-1.1zM145.6 613.8h1.1v1.1h-1.1zM134.6 614.8h1.1v1.1h-1.1zM136.6 614.8h1.1v1.1h-1.1zM142.6 614.8h1.1v1.1h-1.1zM116.6 647.8h1.1v1.1h-1.1zM115.6 649.8h1.1v1.1h-1.1zM115.6 650.8h1.1v1.1h-1.1zM115.6 652.8h1.1v1.1h-1.1zM113.6 653.8h1.1v1.1h-1.1zM114.6 653.8h1.1v1.1h-1.1zM113.6 654.8h1.1v1.1h-1.1z" fill="#1ee35e" opacity="1"/>
<path d="M138.6 610.8h1.1v1.1h-1.1zM140.6 610.8h1.1v1.1h-1.1zM141.6 610.8h1.1v1.1h-1.1zM134.6 611.8h1.1v1.1h-1.1zM143.6 611.8h1.1v1.1h-1.1zM144.6 612.8h1.1v1.1h-1.1zM135.6 613.8h1.1v1.1h-1.1zM136.6 613.8h1.1v1.1h-1.1zM135.6 614.8h1.1v1.1h-1.1zM140.6 614.8h1.1v1.1h-1.1zM141.6 614.8h1.1v1.1h-1.1zM115.6 648.8h1.1v1.1h-1.1zM116.6 649.8h1.1v1.1h-1.1zM114.6 650.8h1.1v1.1h-1.1zM115.6 651.8h1.1v1.1h-1.1zM116.6 651.8h1.1v1.1h-1.1zM114.6 652.8h1.1v1.1h-1.1z" fill="#47e631" opacity="1"/>
<path d="M144.6 611.8h1.1v1.1h-1.1zM135.6 612.8h1.1v1.1h-1.1zM134.6 613.8h1.1v1.1h-1.1zM143.6 613.8h1.1v1.1h-1.1zM139.6 614.8h1.1v1.1h-1.1zM114.6 651.8h1.1v1.1h-1.1z" fill="#96e619" opacity="1"/>
<path d="M135.6 611.8h1.1v1.1h-1.1zM136.6 611.8h1.1v1.1h-1.1zM137.6 611.8h1.1v1.1h-1.1zM142.6 611.8h1.1v1.1h-1.1zM143.6 612.8h1.1v1.1h-1.1zM140.6 613.8h1.1v1.1h-1.1zM137.6 614.8h1.1v1.1h-1.1z" fill="#e6e600" opacity="1"/>
<path d="M139.6 610.8h1.1v1.1h-1.1zM142.6 613.8h1.1v1.1h-1.1zM138.6 614.8h1.1v1.1h-1.1z" fill="#f2ba00" opacity="1"/>
<path d="M141.6 611.8h1.1v1.1h-1.1zM136.6 612.8h1.1v1.1h-1.1z" fill="#fe8f00" opacity="1"/>
<path d="M138.6 611.8h1.1v1.1h-1.1zM139.6 611.8h1.1v1.1h-1.1zM137.6 612.8h1.1v1.1h-1.1zM138.6 612.8h1.1v1.1h-1.1zM139.6 612.8h1.1v1.1h-1.1zM140.6 612.8h1.1v1.1h-1.1zM142.6 612.8h1.1v1.1h-1.1zM137.6 613.8h1.1v1.1h-1.1zM138.6 613.8h1.1v1.1h-1.1zM139.6 613.8h1.1v1.1h-1.1z" fill="#f35209" opacity="1"/>
<path d="M140.6 611.8h1.1v1.1h-1.1zM141.6 612.8h1.1v1.1h-1.1zM141.6 613.8h1.1v1.1h-1.1z" fill="#e61414" opacity="1"/>
</g>
<line x1="127.1" y1="591.8" x2="127.1" y2="696.6" stroke="#383838" stroke-width="1.1"/>
<line x1="50.6" y1="634.8" x2="174.6" y2="634.8" stroke="#383838" stroke-width="1.1"/>
<text x="53.6" y="600.1" font-size="4.6" text-anchor="start" fill="#333" stroke="#333" stroke-width="0">Q1</text>
<text x="53.6" y="606.8" font-size="4.6" text-anchor="start" fill="#333" stroke="#333" stroke-width="0">2.67</text>
<text x="164.6" y="600.1" font-size="4.6" text-anchor="end" fill="#333" stroke="#333" stroke-width="0">Q2</text>
<text x="164.6" y="606.8" font-size="4.6" text-anchor="end" fill="#333" stroke="#333" stroke-width="0">71.7</text>
<text x="53.6" y="684.6" font-size="4.6" text-anchor="start" fill="#333" stroke="#333" stroke-width="0">Q4</text>
<text x="53.6" y="691.6" font-size="4.6" text-anchor="start" fill="#333" stroke="#333" stroke-width="0">24.6</text>
<text x="164.6" y="684.6" font-size="4.6" text-anchor="end" fill="#333" stroke="#333" stroke-width="0">Q3</text>
<text x="164.6" y="691.6" font-size="4.6" text-anchor="end" fill="#333" stroke="#333" stroke-width="0">1.05</text>
<text x="43.4" y="700.6" font-size="11.5" text-anchor="end" fill="#222" stroke="#222" stroke-width="0.3">10</text>
<text x="43.7" y="696.1" font-size="7.5" text-anchor="start" fill="#222" stroke="#222" stroke-width="0">0</text>
<line x1="48.1" y1="696.6" x2="50.6" y2="696.6" stroke="#444" stroke-width="0.8"/>
<line x1="49.1" y1="689.7" x2="50.6" y2="689.7" stroke="#666" stroke-width="0.6"/>
<text x="43.4" y="686.9" font-size="11.5" text-anchor="end" fill="#222" stroke="#222" stroke-width="0.3">10</text>
<text x="43.7" y="682.4" font-size="7.5" text-anchor="start" fill="#222" stroke="#222" stroke-width="0">1</text>
<line x1="48.1" y1="682.9" x2="50.6" y2="682.9" stroke="#444" stroke-width="0.8"/>
<line x1="49.1" y1="676.0" x2="50.6" y2="676.0" stroke="#666" stroke-width="0.6"/>
<text x="43.4" y="673.2" font-size="11.5" text-anchor="end" fill="#222" stroke="#222" stroke-width="0.3">10</text>
<text x="43.7" y="668.7" font-size="7.5" text-anchor="start" fill="#222" stroke="#222" stroke-width="0">2</text>
<line x1="48.1" y1="669.2" x2="50.6" y2="669.2" stroke="#444" stroke-width="0.8"/>
<line x1="49.1" y1="662.3" x2="50.6" y2="662.3" stroke="#666" stroke-width="0.6"/>
<text x="43.4" y="659.5" font-size="11.5" text-anchor="end" fill="#222" stroke="#222" stroke-width="0.3">10</text>
<text x="43.7" y="655.0" font-size="7.5" text-anchor="start" fill="#222" stroke="#222" stroke-width="0">3</text>
<line x1="48.1" y1="655.5" x2="50.6" y2="655.5" stroke="#444" stroke-width="0.8"/>
<line x1="49.1" y1="648.6" x2="50.6" y2="648.6" stroke="#666" stroke-width="0.6"/>
<text x="43.4" y="645.8" font-size="11.5" text-anchor="end" fill="#222" stroke="#222" stroke-width="0.3">10</text>
<text x="43.7" y="641.3" font-size="7.5" text-anchor="start" fill="#222" stroke="#222" stroke-width="0">4</text>
<line x1="48.1" y1="641.8" x2="50.6" y2="641.8" stroke="#444" stroke-width="0.8"/>
<line x1="49.1" y1="634.9" x2="50.6" y2="634.9" stroke="#666" stroke-width="0.6"/>
<text x="43.4" y="632.1" font-size="11.5" text-anchor="end" fill="#222" stroke="#222" stroke-width="0.3">10</text>
<text x="43.7" y="627.6" font-size="7.5" text-anchor="start" fill="#222" stroke="#222" stroke-width="0">5</text>
<line x1="48.1" y1="628.1" x2="50.6" y2="628.1" stroke="#444" stroke-width="0.8"/>
<line x1="49.1" y1="621.2" x2="50.6" y2="621.2" stroke="#666" stroke-width="0.6"/>
<text x="43.4" y="618.4" font-size="11.5" text-anchor="end" fill="#222" stroke="#222" stroke-width="0.3">10</text>
<text x="43.7" y="613.9" font-size="7.5" text-anchor="start" fill="#222" stroke="#222" stroke-width="0">6</text>
<line x1="48.1" y1="614.4" x2="50.6" y2="614.4" stroke="#444" stroke-width="0.8"/>
<line x1="49.1" y1="607.5" x2="50.6" y2="607.5" stroke="#666" stroke-width="0.6"/>
<text x="43.4" y="604.7" font-size="11.5" text-anchor="end" fill="#222" stroke="#222" stroke-width="0.3">10</text>
<text x="43.7" y="600.2" font-size="7.5" text-anchor="start" fill="#222" stroke="#222" stroke-width="0">7</text>
<line x1="48.1" y1="600.7" x2="50.6" y2="600.7" stroke="#444" stroke-width="0.8"/>
<line x1="49.1" y1="593.8" x2="50.6" y2="593.8" stroke="#666" stroke-width="0.6"/>
<text x="53.5" y="709.6" font-size="11.5" text-anchor="start" fill="#222" stroke="#222" stroke-width="0.3">10</text>
<text x="65.8" y="704.6" font-size="7.5" text-anchor="start" fill="#222" stroke="#222" stroke-width="0">0</text>
<text x="85.2" y="709.6" font-size="11.5" text-anchor="start" fill="#222" stroke="#222" stroke-width="0.3">10</text>
<text x="97.5" y="704.6" font-size="7.5" text-anchor="start" fill="#222" stroke="#222" stroke-width="0">2</text>
<text x="117.4" y="709.6" font-size="11.5" text-anchor="start" fill="#222" stroke="#222" stroke-width="0.3">10</text>
<text x="129.7" y="704.6" font-size="7.5" text-anchor="start" fill="#222" stroke="#222" stroke-width="0">4</text>
<text x="152.4" y="709.6" font-size="11.5" text-anchor="start" fill="#222" stroke="#222" stroke-width="0.3">10</text>
<text x="164.7" y="704.6" font-size="7.5" text-anchor="start" fill="#222" stroke="#222" stroke-width="0">6</text>
<line x1="52.6" y1="696.6" x2="52.6" y2="698.6" stroke="#777" stroke-width="0.6"/>
<line x1="55.1" y1="696.6" x2="55.1" y2="697.6" stroke="#777" stroke-width="0.6"/>
<line x1="57.5" y1="696.6" x2="57.5" y2="697.6" stroke="#777" stroke-width="0.6"/>
<line x1="60.0" y1="696.6" x2="60.0" y2="697.6" stroke="#777" stroke-width="0.6"/>
<line x1="62.4" y1="696.6" x2="62.4" y2="697.6" stroke="#777" stroke-width="0.6"/>
<line x1="64.8" y1="696.6" x2="64.8" y2="697.6" stroke="#777" stroke-width="0.6"/>
<line x1="67.3" y1="696.6" x2="67.3" y2="697.6" stroke="#777" stroke-width="0.6"/>
<line x1="69.8" y1="696.6" x2="69.8" y2="698.6" stroke="#777" stroke-width="0.6"/>
<line x1="72.2" y1="696.6" x2="72.2" y2="697.6" stroke="#777" stroke-width="0.6"/>
<line x1="74.7" y1="696.6" x2="74.7" y2="697.6" stroke="#777" stroke-width="0.6"/>
<line x1="77.1" y1="696.6" x2="77.1" y2="697.6" stroke="#777" stroke-width="0.6"/>
<line x1="79.6" y1="696.6" x2="79.6" y2="697.6" stroke="#777" stroke-width="0.6"/>
<line x1="82.0" y1="696.6" x2="82.0" y2="697.6" stroke="#777" stroke-width="0.6"/>
<line x1="84.5" y1="696.6" x2="84.5" y2="697.6" stroke="#777" stroke-width="0.6"/>
<line x1="86.9" y1="696.6" x2="86.9" y2="698.6" stroke="#777" stroke-width="0.6"/>
<line x1="89.3" y1="696.6" x2="89.3" y2="697.6" stroke="#777" stroke-width="0.6"/>
<line x1="91.8" y1="696.6" x2="91.8" y2="697.6" stroke="#777" stroke-width="0.6"/>
<line x1="94.2" y1="696.6" x2="94.2" y2="697.6" stroke="#777" stroke-width="0.6"/>
<line x1="96.7" y1="696.6" x2="96.7" y2="697.6" stroke="#777" stroke-width="0.6"/>
<line x1="99.2" y1="696.6" x2="99.2" y2="697.6" stroke="#777" stroke-width="0.6"/>
<line x1="101.6" y1="696.6" x2="101.6" y2="697.6" stroke="#777" stroke-width="0.6"/>
<line x1="104.1" y1="696.6" x2="104.1" y2="698.6" stroke="#777" stroke-width="0.6"/>
<line x1="106.5" y1="696.6" x2="106.5" y2="697.6" stroke="#777" stroke-width="0.6"/>
<line x1="109.0" y1="696.6" x2="109.0" y2="697.6" stroke="#777" stroke-width="0.6"/>
<line x1="111.4" y1="696.6" x2="111.4" y2="697.6" stroke="#777" stroke-width="0.6"/>
<line x1="113.9" y1="696.6" x2="113.9" y2="697.6" stroke="#777" stroke-width="0.6"/>
<line x1="116.3" y1="696.6" x2="116.3" y2="697.6" stroke="#777" stroke-width="0.6"/>
<line x1="118.8" y1="696.6" x2="118.8" y2="697.6" stroke="#777" stroke-width="0.6"/>
<line x1="121.2" y1="696.6" x2="121.2" y2="698.6" stroke="#777" stroke-width="0.6"/>
<line x1="123.7" y1="696.6" x2="123.7" y2="697.6" stroke="#777" stroke-width="0.6"/>
<line x1="126.1" y1="696.6" x2="126.1" y2="697.6" stroke="#777" stroke-width="0.6"/>
<line x1="128.6" y1="696.6" x2="128.6" y2="697.6" stroke="#777" stroke-width="0.6"/>
<line x1="131.0" y1="696.6" x2="131.0" y2="697.6" stroke="#777" stroke-width="0.6"/>
<line x1="133.5" y1="696.6" x2="133.5" y2="697.6" stroke="#777" stroke-width="0.6"/>
<line x1="135.9" y1="696.6" x2="135.9" y2="697.6" stroke="#777" stroke-width="0.6"/>
<line x1="138.3" y1="696.6" x2="138.3" y2="698.6" stroke="#777" stroke-width="0.6"/>
<line x1="140.8" y1="696.6" x2="140.8" y2="697.6" stroke="#777" stroke-width="0.6"/>
<line x1="143.2" y1="696.6" x2="143.2" y2="697.6" stroke="#777" stroke-width="0.6"/>
<line x1="145.7" y1="696.6" x2="145.7" y2="697.6" stroke="#777" stroke-width="0.6"/>
<line x1="148.2" y1="696.6" x2="148.2" y2="697.6" stroke="#777" stroke-width="0.6"/>
<line x1="150.6" y1="696.6" x2="150.6" y2="697.6" stroke="#777" stroke-width="0.6"/>
<line x1="153.1" y1="696.6" x2="153.1" y2="697.6" stroke="#777" stroke-width="0.6"/>
<line x1="155.5" y1="696.6" x2="155.5" y2="698.6" stroke="#777" stroke-width="0.6"/>
<line x1="158.0" y1="696.6" x2="158.0" y2="697.6" stroke="#777" stroke-width="0.6"/>
<line x1="160.4" y1="696.6" x2="160.4" y2="697.6" stroke="#777" stroke-width="0.6"/>
<line x1="162.9" y1="696.6" x2="162.9" y2="697.6" stroke="#777" stroke-width="0.6"/>
<line x1="165.3" y1="696.6" x2="165.3" y2="697.6" stroke="#777" stroke-width="0.6"/>
<line x1="167.8" y1="696.6" x2="167.8" y2="697.6" stroke="#777" stroke-width="0.6"/>
<line x1="170.2" y1="696.6" x2="170.2" y2="697.6" stroke="#777" stroke-width="0.6"/>
<line x1="172.7" y1="696.6" x2="172.7" y2="698.6" stroke="#777" stroke-width="0.6"/>
<rect x="197.2" y="591.8" width="124" height="104.8" fill="#fff" stroke="#b0b0b0" stroke-width="1"/>
<g filter="url(#fblur)">
<path d="M291.2 599.8h1.1v1.1h-1.1zM299.2 600.8h1.1v1.1h-1.1zM277.2 602.8h1.1v1.1h-1.1zM269.2 605.8h1.1v1.1h-1.1zM306.2 605.8h1.1v1.1h-1.1zM260.2 606.8h1.1v1.1h-1.1zM284.2 606.8h1.1v1.1h-1.1zM304.2 606.8h1.1v1.1h-1.1zM260.2 608.8h1.1v1.1h-1.1zM296.2 608.8h1.1v1.1h-1.1zM309.2 608.8h1.1v1.1h-1.1zM259.2 609.8h1.1v1.1h-1.1zM265.2 609.8h1.1v1.1h-1.1zM258.2 611.8h1.1v1.1h-1.1zM259.2 611.8h1.1v1.1h-1.1zM272.2 612.8h1.1v1.1h-1.1zM298.2 612.8h1.1v1.1h-1.1zM306.2 612.8h1.1v1.1h-1.1zM296.2 613.8h1.1v1.1h-1.1zM305.2 613.8h1.1v1.1h-1.1zM259.2 615.8h1.1v1.1h-1.1zM269.2 615.8h1.1v1.1h-1.1zM306.2 615.8h1.1v1.1h-1.1zM271.2 616.8h1.1v1.1h-1.1zM303.2 616.8h1.1v1.1h-1.1zM286.2 618.8h1.1v1.1h-1.1zM263.2 619.8h1.1v1.1h-1.1zM300.2 619.8h1.1v1.1h-1.1zM255.2 620.8h1.1v1.1h-1.1zM307.2 621.8h1.1v1.1h-1.1zM261.2 622.8h1.1v1.1h-1.1zM289.2 623.8h1.1v1.1h-1.1zM261.2 624.8h1.1v1.1h-1.1zM281.2 624.8h1.1v1.1h-1.1zM269.2 625.8h1.1v1.1h-1.1zM262.2 626.8h1.1v1.1h-1.1zM277.2 626.8h1.1v1.1h-1.1zM260.2 629.8h1.1v1.1h-1.1zM262.2 631.8h1.1v1.1h-1.1zM271.2 633.8h1.1v1.1h-1.1zM260.2 634.8h1.1v1.1h-1.1zM280.2 634.8h1.1v1.1h-1.1zM259.2 638.8h1.1v1.1h-1.1zM257.2 639.8h1.1v1.1h-1.1zM279.2 639.8h1.1v1.1h-1.1zM283.2 641.8h1.1v1.1h-1.1zM256.2 642.8h1.1v1.1h-1.1zM253.2 643.8h1.1v1.1h-1.1zM281.2 643.8h1.1v1.1h-1.1zM258.2 645.8h1.1v1.1h-1.1zM276.2 649.8h1.1v1.1h-1.1zM273.2 650.8h1.1v1.1h-1.1zM267.2 651.8h1.1v1.1h-1.1zM265.2 652.8h1.1v1.1h-1.1zM282.2 652.8h1.1v1.1h-1.1zM267.2 656.8h1.1v1.1h-1.1zM269.2 656.8h1.1v1.1h-1.1zM271.2 656.8h1.1v1.1h-1.1zM247.2 657.8h1.1v1.1h-1.1zM251.2 661.8h1.1v1.1h-1.1zM250.2 664.8h1.1v1.1h-1.1zM245.2 666.8h1.1v1.1h-1.1zM258.2 666.8h1.1v1.1h-1.1zM246.2 667.8h1.1v1.1h-1.1zM253.2 667.8h1.1v1.1h-1.1zM256.2 668.8h1.1v1.1h-1.1zM251.2 670.8h1.1v1.1h-1.1zM246.2 694.8h1.1v1.1h-1.1zM248.2 695.8h1.1v1.1h-1.1zM249.2 695.8h1.1v1.1h-1.1zM253.2 695.8h1.1v1.1h-1.1zM256.2 695.8h1.1v1.1h-1.1zM260.2 695.8h1.1v1.1h-1.1zM264.2 695.8h1.1v1.1h-1.1z" fill="#323cff" opacity="0.8"/>
<path d="M291.2 600.8h1.1v1.1h-1.1zM300.2 600.8h1.1v1.1h-1.1zM290.2 601.8h1.1v1.1h-1.1zM291.2 601.8h1.1v1.1h-1.1zM294.2 601.8h1.1v1.1h-1.1zM286.2 602.8h1.1v1.1h-1.1zM290.2 602.8h1.1v1.1h-1.1zM292.2 602.8h1.1v1.1h-1.1zM294.2 602.8h1.1v1.1h-1.1zM295.2 602.8h1.1v1.1h-1.1zM283.2 603.8h1.1v1.1h-1.1zM286.2 603.8h1.1v1.1h-1.1zM287.2 603.8h1.1v1.1h-1.1zM288.2 603.8h1.1v1.1h-1.1zM292.2 603.8h1.1v1.1h-1.1zM295.2 603.8h1.1v1.1h-1.1zM276.2 604.8h1.1v1.1h-1.1zM277.2 604.8h1.1v1.1h-1.1zM281.2 604.8h1.1v1.1h-1.1zM283.2 604.8h1.1v1.1h-1.1zM286.2 604.8h1.1v1.1h-1.1zM290.2 604.8h1.1v1.1h-1.1zM295.2 604.8h1.1v1.1h-1.1zM296.2 604.8h1.1v1.1h-1.1zM297.2 604.8h1.1v1.1h-1.1zM299.2 604.8h1.1v1.1h-1.1zM300.2 604.8h1.1v1.1h-1.1zM275.2 605.8h1.1v1.1h-1.1zM278.2 605.8h1.1v1.1h-1.1zM289.2 605.8h1.1v1.1h-1.1zM295.2 605.8h1.1v1.1h-1.1zM298.2 605.8h1.1v1.1h-1.1zM274.2 606.8h1.1v1.1h-1.1zM278.2 606.8h1.1v1.1h-1.1zM279.2 606.8h1.1v1.1h-1.1zM283.2 606.8h1.1v1.1h-1.1zM296.2 606.8h1.1v1.1h-1.1zM299.2 606.8h1.1v1.1h-1.1zM303.2 606.8h1.1v1.1h-1.1zM272.2 607.8h1.1v1.1h-1.1zM275.2 607.8h1.1v1.1h-1.1zM276.2 607.8h1.1v1.1h-1.1zM294.2 607.8h1.1v1.1h-1.1zM298.2 607.8h1.1v1.1h-1.1zM299.2 607.8h1.1v1.1h-1.1zM301.2 607.8h1.1v1.1h-1.1zM302.2 607.8h1.1v1.1h-1.1zM272.2 608.8h1.1v1.1h-1.1zM277.2 608.8h1.1v1.1h-1.1zM278.2 608.8h1.1v1.1h-1.1zM293.2 608.8h1.1v1.1h-1.1zM299.2 608.8h1.1v1.1h-1.1zM300.2 608.8h1.1v1.1h-1.1zM301.2 608.8h1.1v1.1h-1.1zM305.2 608.8h1.1v1.1h-1.1zM267.2 609.8h1.1v1.1h-1.1zM277.2 609.8h1.1v1.1h-1.1zM278.2 609.8h1.1v1.1h-1.1zM300.2 609.8h1.1v1.1h-1.1zM304.2 609.8h1.1v1.1h-1.1zM305.2 609.8h1.1v1.1h-1.1zM263.2 610.8h1.1v1.1h-1.1zM276.2 610.8h1.1v1.1h-1.1zM300.2 610.8h1.1v1.1h-1.1zM305.2 610.8h1.1v1.1h-1.1zM263.2 611.8h1.1v1.1h-1.1zM268.2 611.8h1.1v1.1h-1.1zM297.2 611.8h1.1v1.1h-1.1zM300.2 611.8h1.1v1.1h-1.1zM301.2 611.8h1.1v1.1h-1.1zM262.2 612.8h1.1v1.1h-1.1zM263.2 612.8h1.1v1.1h-1.1zM264.2 612.8h1.1v1.1h-1.1zM301.2 612.8h1.1v1.1h-1.1zM302.2 612.8h1.1v1.1h-1.1zM260.2 613.8h1.1v1.1h-1.1zM262.2 613.8h1.1v1.1h-1.1zM263.2 613.8h1.1v1.1h-1.1zM301.2 613.8h1.1v1.1h-1.1zM302.2 613.8h1.1v1.1h-1.1zM262.2 614.8h1.1v1.1h-1.1zM263.2 614.8h1.1v1.1h-1.1zM264.2 614.8h1.1v1.1h-1.1zM267.2 614.8h1.1v1.1h-1.1zM299.2 614.8h1.1v1.1h-1.1zM301.2 614.8h1.1v1.1h-1.1zM303.2 614.8h1.1v1.1h-1.1zM261.2 615.8h1.1v1.1h-1.1zM266.2 615.8h1.1v1.1h-1.1zM267.2 615.8h1.1v1.1h-1.1zM298.2 615.8h1.1v1.1h-1.1zM301.2 615.8h1.1v1.1h-1.1zM303.2 615.8h1.1v1.1h-1.1zM264.2 616.8h1.1v1.1h-1.1zM265.2 616.8h1.1v1.1h-1.1zM269.2 616.8h1.1v1.1h-1.1zM294.2 616.8h1.1v1.1h-1.1zM296.2 616.8h1.1v1.1h-1.1zM297.2 616.8h1.1v1.1h-1.1zM299.2 616.8h1.1v1.1h-1.1zM301.2 616.8h1.1v1.1h-1.1zM267.2 617.8h1.1v1.1h-1.1zM270.2 617.8h1.1v1.1h-1.1zM271.2 617.8h1.1v1.1h-1.1zM272.2 617.8h1.1v1.1h-1.1zM276.2 617.8h1.1v1.1h-1.1zM295.2 617.8h1.1v1.1h-1.1zM297.2 617.8h1.1v1.1h-1.1zM299.2 617.8h1.1v1.1h-1.1zM300.2 617.8h1.1v1.1h-1.1zM266.2 618.8h1.1v1.1h-1.1zM267.2 618.8h1.1v1.1h-1.1zM274.2 618.8h1.1v1.1h-1.1zM282.2 618.8h1.1v1.1h-1.1zM283.2 618.8h1.1v1.1h-1.1zM287.2 618.8h1.1v1.1h-1.1zM288.2 618.8h1.1v1.1h-1.1zM294.2 618.8h1.1v1.1h-1.1zM295.2 618.8h1.1v1.1h-1.1zM265.2 619.8h1.1v1.1h-1.1zM267.2 619.8h1.1v1.1h-1.1zM268.2 619.8h1.1v1.1h-1.1zM272.2 619.8h1.1v1.1h-1.1zM274.2 619.8h1.1v1.1h-1.1zM275.2 619.8h1.1v1.1h-1.1zM277.2 619.8h1.1v1.1h-1.1zM280.2 619.8h1.1v1.1h-1.1zM281.2 619.8h1.1v1.1h-1.1zM287.2 619.8h1.1v1.1h-1.1zM290.2 619.8h1.1v1.1h-1.1zM297.2 619.8h1.1v1.1h-1.1zM265.2 620.8h1.1v1.1h-1.1zM266.2 620.8h1.1v1.1h-1.1zM267.2 620.8h1.1v1.1h-1.1zM276.2 620.8h1.1v1.1h-1.1zM278.2 620.8h1.1v1.1h-1.1zM279.2 620.8h1.1v1.1h-1.1zM282.2 620.8h1.1v1.1h-1.1zM285.2 620.8h1.1v1.1h-1.1zM262.2 621.8h1.1v1.1h-1.1zM265.2 621.8h1.1v1.1h-1.1zM266.2 621.8h1.1v1.1h-1.1zM269.2 621.8h1.1v1.1h-1.1zM271.2 621.8h1.1v1.1h-1.1zM272.2 621.8h1.1v1.1h-1.1zM277.2 621.8h1.1v1.1h-1.1zM278.2 621.8h1.1v1.1h-1.1zM280.2 621.8h1.1v1.1h-1.1zM282.2 621.8h1.1v1.1h-1.1zM283.2 621.8h1.1v1.1h-1.1zM286.2 621.8h1.1v1.1h-1.1zM287.2 621.8h1.1v1.1h-1.1zM263.2 622.8h1.1v1.1h-1.1zM267.2 622.8h1.1v1.1h-1.1zM271.2 622.8h1.1v1.1h-1.1zM274.2 622.8h1.1v1.1h-1.1zM281.2 622.8h1.1v1.1h-1.1zM282.2 622.8h1.1v1.1h-1.1zM267.2 623.8h1.1v1.1h-1.1zM269.2 623.8h1.1v1.1h-1.1zM270.2 623.8h1.1v1.1h-1.1zM274.2 623.8h1.1v1.1h-1.1zM276.2 623.8h1.1v1.1h-1.1zM264.2 624.8h1.1v1.1h-1.1zM266.2 624.8h1.1v1.1h-1.1zM271.2 624.8h1.1v1.1h-1.1zM272.2 624.8h1.1v1.1h-1.1zM275.2 624.8h1.1v1.1h-1.1zM266.2 625.8h1.1v1.1h-1.1zM272.2 625.8h1.1v1.1h-1.1zM276.2 625.8h1.1v1.1h-1.1zM264.2 626.8h1.1v1.1h-1.1zM265.2 626.8h1.1v1.1h-1.1zM272.2 626.8h1.1v1.1h-1.1zM275.2 626.8h1.1v1.1h-1.1zM263.2 627.8h1.1v1.1h-1.1zM265.2 627.8h1.1v1.1h-1.1zM266.2 627.8h1.1v1.1h-1.1zM267.2 627.8h1.1v1.1h-1.1zM271.2 627.8h1.1v1.1h-1.1zM275.2 627.8h1.1v1.1h-1.1zM266.2 628.8h1.1v1.1h-1.1zM267.2 628.8h1.1v1.1h-1.1zM269.2 628.8h1.1v1.1h-1.1zM271.2 628.8h1.1v1.1h-1.1zM272.2 628.8h1.1v1.1h-1.1zM266.2 629.8h1.1v1.1h-1.1zM268.2 629.8h1.1v1.1h-1.1zM269.2 629.8h1.1v1.1h-1.1zM272.2 629.8h1.1v1.1h-1.1zM273.2 629.8h1.1v1.1h-1.1zM274.2 629.8h1.1v1.1h-1.1zM275.2 629.8h1.1v1.1h-1.1zM277.2 629.8h1.1v1.1h-1.1zM265.2 630.8h1.1v1.1h-1.1zM270.2 630.8h1.1v1.1h-1.1zM276.2 630.8h1.1v1.1h-1.1zM277.2 630.8h1.1v1.1h-1.1zM265.2 631.8h1.1v1.1h-1.1zM266.2 631.8h1.1v1.1h-1.1zM271.2 631.8h1.1v1.1h-1.1zM274.2 631.8h1.1v1.1h-1.1zM275.2 631.8h1.1v1.1h-1.1zM276.2 631.8h1.1v1.1h-1.1zM277.2 631.8h1.1v1.1h-1.1zM265.2 632.8h1.1v1.1h-1.1zM268.2 632.8h1.1v1.1h-1.1zM272.2 632.8h1.1v1.1h-1.1zM273.2 632.8h1.1v1.1h-1.1zM277.2 632.8h1.1v1.1h-1.1zM265.2 633.8h1.1v1.1h-1.1zM268.2 633.8h1.1v1.1h-1.1zM274.2 633.8h1.1v1.1h-1.1zM276.2 633.8h1.1v1.1h-1.1zM277.2 633.8h1.1v1.1h-1.1zM262.2 634.8h1.1v1.1h-1.1zM263.2 634.8h1.1v1.1h-1.1zM265.2 634.8h1.1v1.1h-1.1zM267.2 634.8h1.1v1.1h-1.1zM273.2 634.8h1.1v1.1h-1.1zM275.2 634.8h1.1v1.1h-1.1zM276.2 634.8h1.1v1.1h-1.1zM277.2 634.8h1.1v1.1h-1.1zM263.2 635.8h1.1v1.1h-1.1zM265.2 635.8h1.1v1.1h-1.1zM269.2 635.8h1.1v1.1h-1.1zM274.2 635.8h1.1v1.1h-1.1zM276.2 635.8h1.1v1.1h-1.1zM277.2 635.8h1.1v1.1h-1.1zM279.2 635.8h1.1v1.1h-1.1zM264.2 636.8h1.1v1.1h-1.1zM266.2 636.8h1.1v1.1h-1.1zM270.2 636.8h1.1v1.1h-1.1zM275.2 636.8h1.1v1.1h-1.1zM277.2 636.8h1.1v1.1h-1.1zM264.2 637.8h1.1v1.1h-1.1zM272.2 637.8h1.1v1.1h-1.1zM274.2 637.8h1.1v1.1h-1.1zM275.2 637.8h1.1v1.1h-1.1zM262.2 638.8h1.1v1.1h-1.1zM264.2 638.8h1.1v1.1h-1.1zM268.2 638.8h1.1v1.1h-1.1zM272.2 638.8h1.1v1.1h-1.1zM276.2 638.8h1.1v1.1h-1.1zM277.2 638.8h1.1v1.1h-1.1zM261.2 639.8h1.1v1.1h-1.1zM262.2 639.8h1.1v1.1h-1.1zM272.2 639.8h1.1v1.1h-1.1zM273.2 639.8h1.1v1.1h-1.1zM274.2 639.8h1.1v1.1h-1.1zM277.2 639.8h1.1v1.1h-1.1zM260.2 640.8h1.1v1.1h-1.1zM261.2 640.8h1.1v1.1h-1.1zM262.2 640.8h1.1v1.1h-1.1zM263.2 640.8h1.1v1.1h-1.1zM267.2 640.8h1.1v1.1h-1.1zM270.2 640.8h1.1v1.1h-1.1zM275.2 640.8h1.1v1.1h-1.1zM277.2 640.8h1.1v1.1h-1.1zM258.2 641.8h1.1v1.1h-1.1zM265.2 641.8h1.1v1.1h-1.1zM266.2 641.8h1.1v1.1h-1.1zM275.2 641.8h1.1v1.1h-1.1zM257.2 642.8h1.1v1.1h-1.1zM258.2 642.8h1.1v1.1h-1.1zM260.2 642.8h1.1v1.1h-1.1zM263.2 642.8h1.1v1.1h-1.1zM270.2 642.8h1.1v1.1h-1.1zM274.2 642.8h1.1v1.1h-1.1zM276.2 642.8h1.1v1.1h-1.1zM273.2 643.8h1.1v1.1h-1.1zM274.2 643.8h1.1v1.1h-1.1zM276.2 643.8h1.1v1.1h-1.1zM269.2 644.8h1.1v1.1h-1.1zM273.2 644.8h1.1v1.1h-1.1zM274.2 644.8h1.1v1.1h-1.1zM255.2 645.8h1.1v1.1h-1.1zM274.2 645.8h1.1v1.1h-1.1zM253.2 646.8h1.1v1.1h-1.1zM254.2 646.8h1.1v1.1h-1.1zM273.2 646.8h1.1v1.1h-1.1zM253.2 647.8h1.1v1.1h-1.1zM255.2 647.8h1.1v1.1h-1.1zM271.2 647.8h1.1v1.1h-1.1zM273.2 647.8h1.1v1.1h-1.1zM269.2 648.8h1.1v1.1h-1.1zM270.2 649.8h1.1v1.1h-1.1zM252.2 650.8h1.1v1.1h-1.1zM254.2 650.8h1.1v1.1h-1.1zM270.2 650.8h1.1v1.1h-1.1zM251.2 651.8h1.1v1.1h-1.1zM252.2 651.8h1.1v1.1h-1.1zM253.2 651.8h1.1v1.1h-1.1zM266.2 651.8h1.1v1.1h-1.1zM268.2 652.8h1.1v1.1h-1.1zM249.2 653.8h1.1v1.1h-1.1zM251.2 653.8h1.1v1.1h-1.1zM269.2 653.8h1.1v1.1h-1.1zM250.2 654.8h1.1v1.1h-1.1zM266.2 654.8h1.1v1.1h-1.1zM269.2 654.8h1.1v1.1h-1.1zM251.2 655.8h1.1v1.1h-1.1zM268.2 655.8h1.1v1.1h-1.1zM251.2 656.8h1.1v1.1h-1.1zM252.2 656.8h1.1v1.1h-1.1zM253.2 656.8h1.1v1.1h-1.1zM254.2 656.8h1.1v1.1h-1.1zM249.2 657.8h1.1v1.1h-1.1zM250.2 657.8h1.1v1.1h-1.1zM252.2 657.8h1.1v1.1h-1.1zM258.2 657.8h1.1v1.1h-1.1zM263.2 657.8h1.1v1.1h-1.1zM264.2 657.8h1.1v1.1h-1.1zM249.2 658.8h1.1v1.1h-1.1zM253.2 658.8h1.1v1.1h-1.1zM254.2 658.8h1.1v1.1h-1.1zM255.2 658.8h1.1v1.1h-1.1zM256.2 658.8h1.1v1.1h-1.1zM255.2 659.8h1.1v1.1h-1.1zM256.2 659.8h1.1v1.1h-1.1zM257.2 659.8h1.1v1.1h-1.1zM261.2 659.8h1.1v1.1h-1.1zM263.2 659.8h1.1v1.1h-1.1zM253.2 660.8h1.1v1.1h-1.1zM255.2 660.8h1.1v1.1h-1.1zM262.2 660.8h1.1v1.1h-1.1zM252.2 661.8h1.1v1.1h-1.1zM254.2 661.8h1.1v1.1h-1.1zM258.2 661.8h1.1v1.1h-1.1zM259.2 661.8h1.1v1.1h-1.1zM260.2 661.8h1.1v1.1h-1.1zM261.2 661.8h1.1v1.1h-1.1zM262.2 661.8h1.1v1.1h-1.1zM254.2 662.8h1.1v1.1h-1.1zM255.2 662.8h1.1v1.1h-1.1zM256.2 662.8h1.1v1.1h-1.1zM258.2 662.8h1.1v1.1h-1.1zM260.2 662.8h1.1v1.1h-1.1zM261.2 662.8h1.1v1.1h-1.1zM251.2 663.8h1.1v1.1h-1.1zM252.2 663.8h1.1v1.1h-1.1zM253.2 663.8h1.1v1.1h-1.1zM254.2 663.8h1.1v1.1h-1.1zM256.2 663.8h1.1v1.1h-1.1zM258.2 663.8h1.1v1.1h-1.1zM251.2 664.8h1.1v1.1h-1.1zM254.2 664.8h1.1v1.1h-1.1zM257.2 664.8h1.1v1.1h-1.1zM258.2 664.8h1.1v1.1h-1.1zM253.2 665.8h1.1v1.1h-1.1zM252.2 695.8h1.1v1.1h-1.1zM258.2 695.8h1.1v1.1h-1.1zM259.2 695.8h1.1v1.1h-1.1z" fill="#323cff" opacity="0.8"/>
<path d="M290.2 603.8h1.1v1.1h-1.1zM291.2 603.8h1.1v1.1h-1.1zM289.2 604.8h1.1v1.1h-1.1zM292.2 604.8h1.1v1.1h-1.1zM283.2 605.8h1.1v1.1h-1.1zM284.2 605.8h1.1v1.1h-1.1zM288.2 605.8h1.1v1.1h-1.1zM291.2 605.8h1.1v1.1h-1.1zM292.2 605.8h1.1v1.1h-1.1zM293.2 605.8h1.1v1.1h-1.1zM281.2 606.8h1.1v1.1h-1.1zM282.2 606.8h1.1v1.1h-1.1zM286.2 606.8h1.1v1.1h-1.1zM295.2 606.8h1.1v1.1h-1.1zM279.2 607.8h1.1v1.1h-1.1zM280.2 607.8h1.1v1.1h-1.1zM282.2 607.8h1.1v1.1h-1.1zM284.2 607.8h1.1v1.1h-1.1zM296.2 607.8h1.1v1.1h-1.1zM297.2 607.8h1.1v1.1h-1.1zM276.2 608.8h1.1v1.1h-1.1zM279.2 608.8h1.1v1.1h-1.1zM294.2 608.8h1.1v1.1h-1.1zM295.2 608.8h1.1v1.1h-1.1zM271.2 609.8h1.1v1.1h-1.1zM275.2 609.8h1.1v1.1h-1.1zM296.2 609.8h1.1v1.1h-1.1zM297.2 609.8h1.1v1.1h-1.1zM298.2 609.8h1.1v1.1h-1.1zM299.2 609.8h1.1v1.1h-1.1zM268.2 610.8h1.1v1.1h-1.1zM271.2 610.8h1.1v1.1h-1.1zM275.2 610.8h1.1v1.1h-1.1zM298.2 610.8h1.1v1.1h-1.1zM299.2 610.8h1.1v1.1h-1.1zM266.2 611.8h1.1v1.1h-1.1zM272.2 611.8h1.1v1.1h-1.1zM299.2 611.8h1.1v1.1h-1.1zM265.2 612.8h1.1v1.1h-1.1zM269.2 612.8h1.1v1.1h-1.1zM271.2 612.8h1.1v1.1h-1.1zM274.2 612.8h1.1v1.1h-1.1zM299.2 612.8h1.1v1.1h-1.1zM265.2 613.8h1.1v1.1h-1.1zM266.2 613.8h1.1v1.1h-1.1zM271.2 613.8h1.1v1.1h-1.1zM298.2 613.8h1.1v1.1h-1.1zM299.2 613.8h1.1v1.1h-1.1zM265.2 614.8h1.1v1.1h-1.1zM266.2 614.8h1.1v1.1h-1.1zM269.2 614.8h1.1v1.1h-1.1zM272.2 614.8h1.1v1.1h-1.1zM274.2 614.8h1.1v1.1h-1.1zM294.2 614.8h1.1v1.1h-1.1zM296.2 614.8h1.1v1.1h-1.1zM297.2 614.8h1.1v1.1h-1.1zM298.2 614.8h1.1v1.1h-1.1zM270.2 615.8h1.1v1.1h-1.1zM271.2 615.8h1.1v1.1h-1.1zM296.2 615.8h1.1v1.1h-1.1zM270.2 616.8h1.1v1.1h-1.1zM274.2 616.8h1.1v1.1h-1.1zM293.2 616.8h1.1v1.1h-1.1zM273.2 617.8h1.1v1.1h-1.1zM274.2 617.8h1.1v1.1h-1.1zM280.2 617.8h1.1v1.1h-1.1zM281.2 617.8h1.1v1.1h-1.1zM282.2 617.8h1.1v1.1h-1.1zM283.2 617.8h1.1v1.1h-1.1zM293.2 617.8h1.1v1.1h-1.1zM294.2 617.8h1.1v1.1h-1.1zM275.2 618.8h1.1v1.1h-1.1zM276.2 618.8h1.1v1.1h-1.1zM277.2 618.8h1.1v1.1h-1.1zM284.2 618.8h1.1v1.1h-1.1zM285.2 618.8h1.1v1.1h-1.1zM290.2 618.8h1.1v1.1h-1.1zM291.2 618.8h1.1v1.1h-1.1zM283.2 619.8h1.1v1.1h-1.1zM284.2 619.8h1.1v1.1h-1.1zM285.2 619.8h1.1v1.1h-1.1zM286.2 619.8h1.1v1.1h-1.1zM269.2 631.8h1.1v1.1h-1.1zM270.2 631.8h1.1v1.1h-1.1zM269.2 632.8h1.1v1.1h-1.1zM270.2 632.8h1.1v1.1h-1.1zM271.2 632.8h1.1v1.1h-1.1zM270.2 633.8h1.1v1.1h-1.1zM272.2 633.8h1.1v1.1h-1.1zM268.2 634.8h1.1v1.1h-1.1zM269.2 634.8h1.1v1.1h-1.1zM271.2 634.8h1.1v1.1h-1.1zM272.2 634.8h1.1v1.1h-1.1zM268.2 635.8h1.1v1.1h-1.1zM271.2 635.8h1.1v1.1h-1.1zM272.2 635.8h1.1v1.1h-1.1zM267.2 636.8h1.1v1.1h-1.1zM271.2 636.8h1.1v1.1h-1.1zM265.2 637.8h1.1v1.1h-1.1zM266.2 637.8h1.1v1.1h-1.1zM267.2 637.8h1.1v1.1h-1.1zM268.2 637.8h1.1v1.1h-1.1zM265.2 638.8h1.1v1.1h-1.1zM270.2 638.8h1.1v1.1h-1.1zM264.2 639.8h1.1v1.1h-1.1zM265.2 639.8h1.1v1.1h-1.1zM266.2 639.8h1.1v1.1h-1.1zM268.2 639.8h1.1v1.1h-1.1zM270.2 639.8h1.1v1.1h-1.1zM271.2 639.8h1.1v1.1h-1.1zM264.2 640.8h1.1v1.1h-1.1zM266.2 640.8h1.1v1.1h-1.1zM272.2 641.8h1.1v1.1h-1.1zM273.2 641.8h1.1v1.1h-1.1zM261.2 642.8h1.1v1.1h-1.1zM267.2 642.8h1.1v1.1h-1.1zM271.2 642.8h1.1v1.1h-1.1zM272.2 642.8h1.1v1.1h-1.1zM273.2 642.8h1.1v1.1h-1.1zM260.2 643.8h1.1v1.1h-1.1zM269.2 643.8h1.1v1.1h-1.1zM271.2 643.8h1.1v1.1h-1.1zM258.2 644.8h1.1v1.1h-1.1zM271.2 644.8h1.1v1.1h-1.1zM267.2 645.8h1.1v1.1h-1.1zM269.2 645.8h1.1v1.1h-1.1zM271.2 645.8h1.1v1.1h-1.1zM256.2 646.8h1.1v1.1h-1.1zM269.2 646.8h1.1v1.1h-1.1zM271.2 646.8h1.1v1.1h-1.1zM256.2 647.8h1.1v1.1h-1.1zM257.2 647.8h1.1v1.1h-1.1zM268.2 647.8h1.1v1.1h-1.1zM270.2 647.8h1.1v1.1h-1.1zM255.2 648.8h1.1v1.1h-1.1zM267.2 649.8h1.1v1.1h-1.1zM269.2 649.8h1.1v1.1h-1.1zM255.2 650.8h1.1v1.1h-1.1zM256.2 650.8h1.1v1.1h-1.1zM269.2 650.8h1.1v1.1h-1.1zM254.2 652.8h1.1v1.1h-1.1zM267.2 652.8h1.1v1.1h-1.1zM252.2 653.8h1.1v1.1h-1.1zM254.2 653.8h1.1v1.1h-1.1zM255.2 653.8h1.1v1.1h-1.1zM266.2 653.8h1.1v1.1h-1.1zM251.2 654.8h1.1v1.1h-1.1zM252.2 654.8h1.1v1.1h-1.1zM253.2 654.8h1.1v1.1h-1.1zM255.2 654.8h1.1v1.1h-1.1zM256.2 654.8h1.1v1.1h-1.1zM265.2 654.8h1.1v1.1h-1.1zM252.2 655.8h1.1v1.1h-1.1zM254.2 655.8h1.1v1.1h-1.1zM262.2 655.8h1.1v1.1h-1.1zM255.2 656.8h1.1v1.1h-1.1zM264.2 656.8h1.1v1.1h-1.1zM256.2 657.8h1.1v1.1h-1.1zM257.2 657.8h1.1v1.1h-1.1zM259.2 657.8h1.1v1.1h-1.1zM260.2 657.8h1.1v1.1h-1.1zM261.2 657.8h1.1v1.1h-1.1zM258.2 658.8h1.1v1.1h-1.1zM259.2 658.8h1.1v1.1h-1.1z" fill="#323cff" opacity="0.8"/>
<path d="M287.2 606.8h1.1v1.1h-1.1zM289.2 606.8h1.1v1.1h-1.1zM292.2 606.8h1.1v1.1h-1.1zM294.2 606.8h1.1v1.1h-1.1zM281.2 607.8h1.1v1.1h-1.1zM286.2 607.8h1.1v1.1h-1.1zM287.2 607.8h1.1v1.1h-1.1zM289.2 607.8h1.1v1.1h-1.1zM292.2 607.8h1.1v1.1h-1.1zM280.2 608.8h1.1v1.1h-1.1zM281.2 608.8h1.1v1.1h-1.1zM288.2 608.8h1.1v1.1h-1.1zM289.2 608.8h1.1v1.1h-1.1zM292.2 608.8h1.1v1.1h-1.1zM297.2 608.8h1.1v1.1h-1.1zM272.2 609.8h1.1v1.1h-1.1zM273.2 609.8h1.1v1.1h-1.1zM272.2 610.8h1.1v1.1h-1.1zM273.2 610.8h1.1v1.1h-1.1zM278.2 610.8h1.1v1.1h-1.1zM297.2 610.8h1.1v1.1h-1.1zM273.2 611.8h1.1v1.1h-1.1zM266.2 612.8h1.1v1.1h-1.1zM268.2 612.8h1.1v1.1h-1.1zM270.2 612.8h1.1v1.1h-1.1zM267.2 613.8h1.1v1.1h-1.1zM268.2 613.8h1.1v1.1h-1.1zM272.2 613.8h1.1v1.1h-1.1zM273.2 613.8h1.1v1.1h-1.1zM275.2 613.8h1.1v1.1h-1.1zM295.2 613.8h1.1v1.1h-1.1zM293.2 614.8h1.1v1.1h-1.1zM272.2 615.8h1.1v1.1h-1.1zM274.2 615.8h1.1v1.1h-1.1zM276.2 615.8h1.1v1.1h-1.1zM293.2 615.8h1.1v1.1h-1.1zM294.2 615.8h1.1v1.1h-1.1zM273.2 616.8h1.1v1.1h-1.1zM277.2 616.8h1.1v1.1h-1.1zM281.2 616.8h1.1v1.1h-1.1zM286.2 617.8h1.1v1.1h-1.1zM287.2 617.8h1.1v1.1h-1.1zM291.2 617.8h1.1v1.1h-1.1zM292.2 617.8h1.1v1.1h-1.1zM279.2 618.8h1.1v1.1h-1.1zM280.2 618.8h1.1v1.1h-1.1zM281.2 618.8h1.1v1.1h-1.1zM268.2 636.8h1.1v1.1h-1.1zM269.2 636.8h1.1v1.1h-1.1zM270.2 637.8h1.1v1.1h-1.1zM269.2 638.8h1.1v1.1h-1.1zM267.2 639.8h1.1v1.1h-1.1zM269.2 639.8h1.1v1.1h-1.1zM268.2 640.8h1.1v1.1h-1.1zM269.2 640.8h1.1v1.1h-1.1zM268.2 641.8h1.1v1.1h-1.1zM262.2 642.8h1.1v1.1h-1.1zM264.2 642.8h1.1v1.1h-1.1zM265.2 642.8h1.1v1.1h-1.1zM269.2 642.8h1.1v1.1h-1.1zM261.2 643.8h1.1v1.1h-1.1zM264.2 643.8h1.1v1.1h-1.1zM267.2 644.8h1.1v1.1h-1.1zM270.2 644.8h1.1v1.1h-1.1zM259.2 645.8h1.1v1.1h-1.1zM260.2 645.8h1.1v1.1h-1.1zM258.2 646.8h1.1v1.1h-1.1zM267.2 646.8h1.1v1.1h-1.1zM259.2 647.8h1.1v1.1h-1.1zM268.2 648.8h1.1v1.1h-1.1zM266.2 649.8h1.1v1.1h-1.1zM268.2 650.8h1.1v1.1h-1.1zM256.2 652.8h1.1v1.1h-1.1zM258.2 652.8h1.1v1.1h-1.1zM263.2 652.8h1.1v1.1h-1.1zM264.2 652.8h1.1v1.1h-1.1zM260.2 653.8h1.1v1.1h-1.1zM263.2 653.8h1.1v1.1h-1.1zM265.2 653.8h1.1v1.1h-1.1zM254.2 654.8h1.1v1.1h-1.1zM257.2 654.8h1.1v1.1h-1.1zM259.2 654.8h1.1v1.1h-1.1zM260.2 654.8h1.1v1.1h-1.1zM255.2 655.8h1.1v1.1h-1.1zM260.2 655.8h1.1v1.1h-1.1zM261.2 655.8h1.1v1.1h-1.1zM263.2 655.8h1.1v1.1h-1.1zM264.2 655.8h1.1v1.1h-1.1zM256.2 656.8h1.1v1.1h-1.1zM257.2 656.8h1.1v1.1h-1.1zM260.2 656.8h1.1v1.1h-1.1zM262.2 656.8h1.1v1.1h-1.1z" fill="#0a64ff" opacity="1"/>
<path d="M290.2 606.8h1.1v1.1h-1.1zM291.2 606.8h1.1v1.1h-1.1zM283.2 607.8h1.1v1.1h-1.1zM290.2 607.8h1.1v1.1h-1.1zM290.2 608.8h1.1v1.1h-1.1zM279.2 609.8h1.1v1.1h-1.1zM280.2 609.8h1.1v1.1h-1.1zM293.2 609.8h1.1v1.1h-1.1zM294.2 609.8h1.1v1.1h-1.1zM295.2 609.8h1.1v1.1h-1.1zM294.2 610.8h1.1v1.1h-1.1zM295.2 610.8h1.1v1.1h-1.1zM267.2 611.8h1.1v1.1h-1.1zM269.2 611.8h1.1v1.1h-1.1zM270.2 611.8h1.1v1.1h-1.1zM274.2 611.8h1.1v1.1h-1.1zM296.2 611.8h1.1v1.1h-1.1zM275.2 612.8h1.1v1.1h-1.1zM296.2 612.8h1.1v1.1h-1.1zM268.2 614.8h1.1v1.1h-1.1zM273.2 614.8h1.1v1.1h-1.1zM276.2 614.8h1.1v1.1h-1.1zM277.2 614.8h1.1v1.1h-1.1zM292.2 614.8h1.1v1.1h-1.1zM295.2 614.8h1.1v1.1h-1.1zM273.2 615.8h1.1v1.1h-1.1zM277.2 615.8h1.1v1.1h-1.1zM276.2 616.8h1.1v1.1h-1.1zM278.2 616.8h1.1v1.1h-1.1zM279.2 616.8h1.1v1.1h-1.1zM280.2 616.8h1.1v1.1h-1.1zM282.2 616.8h1.1v1.1h-1.1zM286.2 616.8h1.1v1.1h-1.1zM289.2 616.8h1.1v1.1h-1.1zM290.2 616.8h1.1v1.1h-1.1zM291.2 616.8h1.1v1.1h-1.1zM277.2 617.8h1.1v1.1h-1.1zM278.2 617.8h1.1v1.1h-1.1zM279.2 617.8h1.1v1.1h-1.1zM284.2 617.8h1.1v1.1h-1.1zM288.2 617.8h1.1v1.1h-1.1zM289.2 617.8h1.1v1.1h-1.1zM264.2 641.8h1.1v1.1h-1.1zM267.2 641.8h1.1v1.1h-1.1zM269.2 641.8h1.1v1.1h-1.1zM266.2 642.8h1.1v1.1h-1.1zM268.2 642.8h1.1v1.1h-1.1zM262.2 643.8h1.1v1.1h-1.1zM263.2 643.8h1.1v1.1h-1.1zM265.2 643.8h1.1v1.1h-1.1zM266.2 643.8h1.1v1.1h-1.1zM268.2 643.8h1.1v1.1h-1.1zM261.2 644.8h1.1v1.1h-1.1zM262.2 644.8h1.1v1.1h-1.1zM268.2 644.8h1.1v1.1h-1.1zM257.2 646.8h1.1v1.1h-1.1zM259.2 646.8h1.1v1.1h-1.1zM266.2 646.8h1.1v1.1h-1.1zM270.2 646.8h1.1v1.1h-1.1zM256.2 648.8h1.1v1.1h-1.1zM268.2 649.8h1.1v1.1h-1.1zM258.2 650.8h1.1v1.1h-1.1zM264.2 650.8h1.1v1.1h-1.1zM265.2 650.8h1.1v1.1h-1.1zM255.2 651.8h1.1v1.1h-1.1zM257.2 651.8h1.1v1.1h-1.1zM265.2 651.8h1.1v1.1h-1.1zM257.2 652.8h1.1v1.1h-1.1zM260.2 652.8h1.1v1.1h-1.1zM261.2 652.8h1.1v1.1h-1.1zM257.2 653.8h1.1v1.1h-1.1zM258.2 653.8h1.1v1.1h-1.1zM264.2 653.8h1.1v1.1h-1.1zM263.2 654.8h1.1v1.1h-1.1zM264.2 654.8h1.1v1.1h-1.1zM256.2 655.8h1.1v1.1h-1.1zM257.2 655.8h1.1v1.1h-1.1zM258.2 655.8h1.1v1.1h-1.1zM259.2 655.8h1.1v1.1h-1.1z" fill="#0078ff" opacity="1"/>
<path d="M290.2 605.8h1.1v1.1h-1.1zM288.2 607.8h1.1v1.1h-1.1zM291.2 607.8h1.1v1.1h-1.1zM282.2 608.8h1.1v1.1h-1.1zM283.2 608.8h1.1v1.1h-1.1zM285.2 608.8h1.1v1.1h-1.1zM286.2 608.8h1.1v1.1h-1.1zM291.2 609.8h1.1v1.1h-1.1zM292.2 610.8h1.1v1.1h-1.1zM293.2 610.8h1.1v1.1h-1.1zM276.2 611.8h1.1v1.1h-1.1zM277.2 611.8h1.1v1.1h-1.1zM295.2 611.8h1.1v1.1h-1.1zM276.2 612.8h1.1v1.1h-1.1zM292.2 612.8h1.1v1.1h-1.1zM295.2 612.8h1.1v1.1h-1.1zM269.2 613.8h1.1v1.1h-1.1zM270.2 613.8h1.1v1.1h-1.1zM274.2 613.8h1.1v1.1h-1.1zM293.2 613.8h1.1v1.1h-1.1zM294.2 613.8h1.1v1.1h-1.1zM270.2 614.8h1.1v1.1h-1.1zM271.2 614.8h1.1v1.1h-1.1zM275.2 614.8h1.1v1.1h-1.1zM278.2 614.8h1.1v1.1h-1.1zM275.2 615.8h1.1v1.1h-1.1zM278.2 615.8h1.1v1.1h-1.1zM290.2 615.8h1.1v1.1h-1.1zM295.2 615.8h1.1v1.1h-1.1zM287.2 616.8h1.1v1.1h-1.1zM270.2 641.8h1.1v1.1h-1.1zM267.2 643.8h1.1v1.1h-1.1zM264.2 644.8h1.1v1.1h-1.1zM257.2 645.8h1.1v1.1h-1.1zM261.2 645.8h1.1v1.1h-1.1zM265.2 645.8h1.1v1.1h-1.1zM266.2 645.8h1.1v1.1h-1.1zM268.2 645.8h1.1v1.1h-1.1zM260.2 646.8h1.1v1.1h-1.1zM262.2 646.8h1.1v1.1h-1.1zM265.2 646.8h1.1v1.1h-1.1zM268.2 646.8h1.1v1.1h-1.1zM260.2 647.8h1.1v1.1h-1.1zM267.2 647.8h1.1v1.1h-1.1zM261.2 648.8h1.1v1.1h-1.1zM265.2 648.8h1.1v1.1h-1.1zM267.2 648.8h1.1v1.1h-1.1zM257.2 649.8h1.1v1.1h-1.1zM258.2 649.8h1.1v1.1h-1.1zM259.2 649.8h1.1v1.1h-1.1zM257.2 650.8h1.1v1.1h-1.1zM266.2 650.8h1.1v1.1h-1.1zM267.2 650.8h1.1v1.1h-1.1zM256.2 651.8h1.1v1.1h-1.1zM258.2 651.8h1.1v1.1h-1.1zM259.2 652.8h1.1v1.1h-1.1zM262.2 653.8h1.1v1.1h-1.1zM258.2 654.8h1.1v1.1h-1.1zM261.2 654.8h1.1v1.1h-1.1zM262.2 654.8h1.1v1.1h-1.1z" fill="#0097ed" opacity="1"/>
<path d="M281.2 609.8h1.1v1.1h-1.1zM289.2 609.8h1.1v1.1h-1.1zM292.2 609.8h1.1v1.1h-1.1zM279.2 610.8h1.1v1.1h-1.1zM281.2 610.8h1.1v1.1h-1.1zM291.2 610.8h1.1v1.1h-1.1zM293.2 611.8h1.1v1.1h-1.1zM294.2 611.8h1.1v1.1h-1.1zM277.2 612.8h1.1v1.1h-1.1zM278.2 612.8h1.1v1.1h-1.1zM294.2 612.8h1.1v1.1h-1.1zM276.2 613.8h1.1v1.1h-1.1zM277.2 613.8h1.1v1.1h-1.1zM279.2 614.8h1.1v1.1h-1.1zM279.2 615.8h1.1v1.1h-1.1zM280.2 615.8h1.1v1.1h-1.1zM287.2 615.8h1.1v1.1h-1.1zM292.2 615.8h1.1v1.1h-1.1zM265.2 644.8h1.1v1.1h-1.1zM266.2 644.8h1.1v1.1h-1.1zM262.2 645.8h1.1v1.1h-1.1zM263.2 645.8h1.1v1.1h-1.1zM264.2 645.8h1.1v1.1h-1.1zM265.2 647.8h1.1v1.1h-1.1zM266.2 647.8h1.1v1.1h-1.1zM257.2 648.8h1.1v1.1h-1.1zM259.2 648.8h1.1v1.1h-1.1zM266.2 648.8h1.1v1.1h-1.1zM262.2 649.8h1.1v1.1h-1.1zM259.2 650.8h1.1v1.1h-1.1zM260.2 651.8h1.1v1.1h-1.1zM261.2 651.8h1.1v1.1h-1.1zM262.2 651.8h1.1v1.1h-1.1zM264.2 651.8h1.1v1.1h-1.1zM262.2 652.8h1.1v1.1h-1.1zM259.2 653.8h1.1v1.1h-1.1z" fill="#00b6dc" opacity="1"/>
<path d="M287.2 608.8h1.1v1.1h-1.1zM282.2 609.8h1.1v1.1h-1.1zM287.2 609.8h1.1v1.1h-1.1zM290.2 609.8h1.1v1.1h-1.1zM280.2 610.8h1.1v1.1h-1.1zM278.2 611.8h1.1v1.1h-1.1zM290.2 611.8h1.1v1.1h-1.1zM292.2 611.8h1.1v1.1h-1.1zM293.2 612.8h1.1v1.1h-1.1zM278.2 613.8h1.1v1.1h-1.1zM279.2 613.8h1.1v1.1h-1.1zM280.2 614.8h1.1v1.1h-1.1zM286.2 615.8h1.1v1.1h-1.1zM291.2 615.8h1.1v1.1h-1.1zM283.2 616.8h1.1v1.1h-1.1zM285.2 616.8h1.1v1.1h-1.1zM288.2 616.8h1.1v1.1h-1.1zM263.2 644.8h1.1v1.1h-1.1zM261.2 646.8h1.1v1.1h-1.1zM264.2 646.8h1.1v1.1h-1.1zM261.2 647.8h1.1v1.1h-1.1zM262.2 647.8h1.1v1.1h-1.1zM263.2 647.8h1.1v1.1h-1.1zM258.2 648.8h1.1v1.1h-1.1zM260.2 649.8h1.1v1.1h-1.1zM263.2 649.8h1.1v1.1h-1.1zM264.2 649.8h1.1v1.1h-1.1zM265.2 649.8h1.1v1.1h-1.1zM259.2 651.8h1.1v1.1h-1.1zM263.2 651.8h1.1v1.1h-1.1zM261.2 653.8h1.1v1.1h-1.1z" fill="#00d5cb" opacity="1"/>
<path d="M283.2 609.8h1.1v1.1h-1.1zM291.2 611.8h1.1v1.1h-1.1zM279.2 612.8h1.1v1.1h-1.1zM291.2 612.8h1.1v1.1h-1.1zM291.2 613.8h1.1v1.1h-1.1zM291.2 614.8h1.1v1.1h-1.1zM281.2 615.8h1.1v1.1h-1.1zM282.2 615.8h1.1v1.1h-1.1zM283.2 615.8h1.1v1.1h-1.1zM285.2 615.8h1.1v1.1h-1.1zM263.2 646.8h1.1v1.1h-1.1zM264.2 647.8h1.1v1.1h-1.1zM260.2 648.8h1.1v1.1h-1.1zM262.2 650.8h1.1v1.1h-1.1zM263.2 650.8h1.1v1.1h-1.1z" fill="#0ddf99" opacity="1"/>
<path d="M284.2 609.8h1.1v1.1h-1.1zM285.2 609.8h1.1v1.1h-1.1zM286.2 609.8h1.1v1.1h-1.1zM288.2 609.8h1.1v1.1h-1.1zM279.2 611.8h1.1v1.1h-1.1zM280.2 611.8h1.1v1.1h-1.1zM281.2 611.8h1.1v1.1h-1.1zM289.2 611.8h1.1v1.1h-1.1zM280.2 613.8h1.1v1.1h-1.1zM292.2 613.8h1.1v1.1h-1.1zM281.2 614.8h1.1v1.1h-1.1zM290.2 614.8h1.1v1.1h-1.1zM284.2 615.8h1.1v1.1h-1.1zM289.2 615.8h1.1v1.1h-1.1zM284.2 616.8h1.1v1.1h-1.1zM262.2 648.8h1.1v1.1h-1.1zM263.2 648.8h1.1v1.1h-1.1zM264.2 648.8h1.1v1.1h-1.1zM260.2 650.8h1.1v1.1h-1.1zM261.2 650.8h1.1v1.1h-1.1z" fill="#1ee35e" opacity="1"/>
<path d="M282.2 610.8h1.1v1.1h-1.1zM283.2 610.8h1.1v1.1h-1.1zM286.2 610.8h1.1v1.1h-1.1zM287.2 610.8h1.1v1.1h-1.1zM288.2 610.8h1.1v1.1h-1.1zM289.2 610.8h1.1v1.1h-1.1zM290.2 610.8h1.1v1.1h-1.1zM280.2 612.8h1.1v1.1h-1.1zM281.2 613.8h1.1v1.1h-1.1zM282.2 614.8h1.1v1.1h-1.1zM287.2 614.8h1.1v1.1h-1.1zM288.2 614.8h1.1v1.1h-1.1zM288.2 615.8h1.1v1.1h-1.1z" fill="#47e631" opacity="1"/>
<path d="M288.2 611.8h1.1v1.1h-1.1zM290.2 612.8h1.1v1.1h-1.1zM290.2 613.8h1.1v1.1h-1.1zM283.2 614.8h1.1v1.1h-1.1zM289.2 614.8h1.1v1.1h-1.1zM261.2 649.8h1.1v1.1h-1.1z" fill="#96e619" opacity="1"/>
<path d="M285.2 610.8h1.1v1.1h-1.1zM282.2 611.8h1.1v1.1h-1.1zM281.2 612.8h1.1v1.1h-1.1zM282.2 612.8h1.1v1.1h-1.1zM289.2 613.8h1.1v1.1h-1.1zM286.2 614.8h1.1v1.1h-1.1z" fill="#e6e600" opacity="1"/>
<path d="M284.2 610.8h1.1v1.1h-1.1zM284.2 611.8h1.1v1.1h-1.1zM286.2 611.8h1.1v1.1h-1.1zM288.2 612.8h1.1v1.1h-1.1zM282.2 613.8h1.1v1.1h-1.1zM284.2 613.8h1.1v1.1h-1.1zM287.2 613.8h1.1v1.1h-1.1z" fill="#f2ba00" opacity="1"/>
<path d="M283.2 611.8h1.1v1.1h-1.1zM287.2 611.8h1.1v1.1h-1.1zM283.2 612.8h1.1v1.1h-1.1zM287.2 612.8h1.1v1.1h-1.1zM289.2 612.8h1.1v1.1h-1.1zM285.2 613.8h1.1v1.1h-1.1zM286.2 613.8h1.1v1.1h-1.1zM284.2 614.8h1.1v1.1h-1.1z" fill="#fe8f00" opacity="1"/>
<path d="M285.2 611.8h1.1v1.1h-1.1zM286.2 612.8h1.1v1.1h-1.1zM288.2 613.8h1.1v1.1h-1.1zM285.2 614.8h1.1v1.1h-1.1z" fill="#f35209" opacity="1"/>
<path d="M284.2 612.8h1.1v1.1h-1.1zM285.2 612.8h1.1v1.1h-1.1zM283.2 613.8h1.1v1.1h-1.1z" fill="#e61414" opacity="1"/>
</g>
<line x1="273.7" y1="591.8" x2="273.7" y2="696.6" stroke="#383838" stroke-width="1.1"/>
<line x1="197.2" y1="634.8" x2="321.2" y2="634.8" stroke="#383838" stroke-width="1.1"/>
<text x="200.2" y="600.1" font-size="4.6" text-anchor="start" fill="#333" stroke="#333" stroke-width="0">Q1</text>
<text x="200.2" y="606.8" font-size="4.6" text-anchor="start" fill="#333" stroke="#333" stroke-width="0">2.65</text>
<text x="311.2" y="600.1" font-size="4.6" text-anchor="end" fill="#333" stroke="#333" stroke-width="0">Q2</text>
<text x="311.2" y="606.8" font-size="4.6" text-anchor="end" fill="#333" stroke="#333" stroke-width="0">79.8</text>
<text x="200.2" y="684.6" font-size="4.6" text-anchor="start" fill="#333" stroke="#333" stroke-width="0">Q4</text>
<text x="200.2" y="691.6" font-size="4.6" text-anchor="start" fill="#333" stroke="#333" stroke-width="0">16.6</text>
<text x="311.2" y="684.6" font-size="4.6" text-anchor="end" fill="#333" stroke="#333" stroke-width="0">Q3</text>
<text x="311.2" y="691.6" font-size="4.6" text-anchor="end" fill="#333" stroke="#333" stroke-width="0">1.04</text>
<text x="190.0" y="700.6" font-size="11.5" text-anchor="end" fill="#222" stroke="#222" stroke-width="0.3">10</text>
<text x="190.3" y="696.1" font-size="7.5" text-anchor="start" fill="#222" stroke="#222" stroke-width="0">0</text>
<line x1="194.7" y1="696.6" x2="197.2" y2="696.6" stroke="#444" stroke-width="0.8"/>
<line x1="195.7" y1="689.7" x2="197.2" y2="689.7" stroke="#666" stroke-width="0.6"/>
<text x="190.0" y="686.9" font-size="11.5" text-anchor="end" fill="#222" stroke="#222" stroke-width="0.3">10</text>
<text x="190.3" y="682.4" font-size="7.5" text-anchor="start" fill="#222" stroke="#222" stroke-width="0">1</text>
<line x1="194.7" y1="682.9" x2="197.2" y2="682.9" stroke="#444" stroke-width="0.8"/>
<line x1="195.7" y1="676.0" x2="197.2" y2="676.0" stroke="#666" stroke-width="0.6"/>
<text x="190.0" y="673.2" font-size="11.5" text-anchor="end" fill="#222" stroke="#222" stroke-width="0.3">10</text>
<text x="190.3" y="668.7" font-size="7.5" text-anchor="start" fill="#222" stroke="#222" stroke-width="0">2</text>
<line x1="194.7" y1="669.2" x2="197.2" y2="669.2" stroke="#444" stroke-width="0.8"/>
<line x1="195.7" y1="662.3" x2="197.2" y2="662.3" stroke="#666" stroke-width="0.6"/>
<text x="190.0" y="659.5" font-size="11.5" text-anchor="end" fill="#222" stroke="#222" stroke-width="0.3">10</text>
<text x="190.3" y="655.0" font-size="7.5" text-anchor="start" fill="#222" stroke="#222" stroke-width="0">3</text>
<line x1="194.7" y1="655.5" x2="197.2" y2="655.5" stroke="#444" stroke-width="0.8"/>
<line x1="195.7" y1="648.6" x2="197.2" y2="648.6" stroke="#666" stroke-width="0.6"/>
<text x="190.0" y="645.8" font-size="11.5" text-anchor="end" fill="#222" stroke="#222" stroke-width="0.3">10</text>
<text x="190.3" y="641.3" font-size="7.5" text-anchor="start" fill="#222" stroke="#222" stroke-width="0">4</text>
<line x1="194.7" y1="641.8" x2="197.2" y2="641.8" stroke="#444" stroke-width="0.8"/>
<line x1="195.7" y1="634.9" x2="197.2" y2="634.9" stroke="#666" stroke-width="0.6"/>
<text x="190.0" y="632.1" font-size="11.5" text-anchor="end" fill="#222" stroke="#222" stroke-width="0.3">10</text>
<text x="190.3" y="627.6" font-size="7.5" text-anchor="start" fill="#222" stroke="#222" stroke-width="0">5</text>
<line x1="194.7" y1="628.1" x2="197.2" y2="628.1" stroke="#444" stroke-width="0.8"/>
<line x1="195.7" y1="621.2" x2="197.2" y2="621.2" stroke="#666" stroke-width="0.6"/>
<text x="190.0" y="618.4" font-size="11.5" text-anchor="end" fill="#222" stroke="#222" stroke-width="0.3">10</text>
<text x="190.3" y="613.9" font-size="7.5" text-anchor="start" fill="#222" stroke="#222" stroke-width="0">6</text>
<line x1="194.7" y1="614.4" x2="197.2" y2="614.4" stroke="#444" stroke-width="0.8"/>
<line x1="195.7" y1="607.5" x2="197.2" y2="607.5" stroke="#666" stroke-width="0.6"/>
<text x="190.0" y="604.7" font-size="11.5" text-anchor="end" fill="#222" stroke="#222" stroke-width="0.3">10</text>
<text x="190.3" y="600.2" font-size="7.5" text-anchor="start" fill="#222" stroke="#222" stroke-width="0">7</text>
<line x1="194.7" y1="600.7" x2="197.2" y2="600.7" stroke="#444" stroke-width="0.8"/>
<line x1="195.7" y1="593.8" x2="197.2" y2="593.8" stroke="#666" stroke-width="0.6"/>
<text x="200.1" y="709.6" font-size="11.5" text-anchor="start" fill="#222" stroke="#222" stroke-width="0.3">10</text>
<text x="212.4" y="704.6" font-size="7.5" text-anchor="start" fill="#222" stroke="#222" stroke-width="0">0</text>
<text x="231.8" y="709.6" font-size="11.5" text-anchor="start" fill="#222" stroke="#222" stroke-width="0.3">10</text>
<text x="244.1" y="704.6" font-size="7.5" text-anchor="start" fill="#222" stroke="#222" stroke-width="0">2</text>
<text x="264.0" y="709.6" font-size="11.5" text-anchor="start" fill="#222" stroke="#222" stroke-width="0.3">10</text>
<text x="276.3" y="704.6" font-size="7.5" text-anchor="start" fill="#222" stroke="#222" stroke-width="0">4</text>
<text x="299.0" y="709.6" font-size="11.5" text-anchor="start" fill="#222" stroke="#222" stroke-width="0.3">10</text>
<text x="311.3" y="704.6" font-size="7.5" text-anchor="start" fill="#222" stroke="#222" stroke-width="0">6</text>
<line x1="199.2" y1="696.6" x2="199.2" y2="698.6" stroke="#777" stroke-width="0.6"/>
<line x1="201.6" y1="696.6" x2="201.6" y2="697.6" stroke="#777" stroke-width="0.6"/>
<line x1="204.1" y1="696.6" x2="204.1" y2="697.6" stroke="#777" stroke-width="0.6"/>
<line x1="206.5" y1="696.6" x2="206.5" y2="697.6" stroke="#777" stroke-width="0.6"/>
<line x1="209.0" y1="696.6" x2="209.0" y2="697.6" stroke="#777" stroke-width="0.6"/>
<line x1="211.4" y1="696.6" x2="211.4" y2="697.6" stroke="#777" stroke-width="0.6"/>
<line x1="213.9" y1="696.6" x2="213.9" y2="697.6" stroke="#777" stroke-width="0.6"/>
<line x1="216.3" y1="696.6" x2="216.3" y2="698.6" stroke="#777" stroke-width="0.6"/>
<line x1="218.8" y1="696.6" x2="218.8" y2="697.6" stroke="#777" stroke-width="0.6"/>
<line x1="221.2" y1="696.6" x2="221.2" y2="697.6" stroke="#777" stroke-width="0.6"/>
<line x1="223.7" y1="696.6" x2="223.7" y2="697.6" stroke="#777" stroke-width="0.6"/>
<line x1="226.1" y1="696.6" x2="226.1" y2="697.6" stroke="#777" stroke-width="0.6"/>
<line x1="228.6" y1="696.6" x2="228.6" y2="697.6" stroke="#777" stroke-width="0.6"/>
<line x1="231.0" y1="696.6" x2="231.0" y2="697.6" stroke="#777" stroke-width="0.6"/>
<line x1="233.5" y1="696.6" x2="233.5" y2="698.6" stroke="#777" stroke-width="0.6"/>
<line x1="235.9" y1="696.6" x2="235.9" y2="697.6" stroke="#777" stroke-width="0.6"/>
<line x1="238.4" y1="696.6" x2="238.4" y2="697.6" stroke="#777" stroke-width="0.6"/>
<line x1="240.8" y1="696.6" x2="240.8" y2="697.6" stroke="#777" stroke-width="0.6"/>
<line x1="243.3" y1="696.6" x2="243.3" y2="697.6" stroke="#777" stroke-width="0.6"/>
<line x1="245.8" y1="696.6" x2="245.8" y2="697.6" stroke="#777" stroke-width="0.6"/>
<line x1="248.2" y1="696.6" x2="248.2" y2="697.6" stroke="#777" stroke-width="0.6"/>
<line x1="250.6" y1="696.6" x2="250.6" y2="698.6" stroke="#777" stroke-width="0.6"/>
<line x1="253.1" y1="696.6" x2="253.1" y2="697.6" stroke="#777" stroke-width="0.6"/>
<line x1="255.5" y1="696.6" x2="255.5" y2="697.6" stroke="#777" stroke-width="0.6"/>
<line x1="258.0" y1="696.6" x2="258.0" y2="697.6" stroke="#777" stroke-width="0.6"/>
<line x1="260.4" y1="696.6" x2="260.4" y2="697.6" stroke="#777" stroke-width="0.6"/>
<line x1="262.9" y1="696.6" x2="262.9" y2="697.6" stroke="#777" stroke-width="0.6"/>
<line x1="265.4" y1="696.6" x2="265.4" y2="697.6" stroke="#777" stroke-width="0.6"/>
<line x1="267.8" y1="696.6" x2="267.8" y2="698.6" stroke="#777" stroke-width="0.6"/>
<line x1="270.2" y1="696.6" x2="270.2" y2="697.6" stroke="#777" stroke-width="0.6"/>
<line x1="272.7" y1="696.6" x2="272.7" y2="697.6" stroke="#777" stroke-width="0.6"/>
<line x1="275.1" y1="696.6" x2="275.1" y2="697.6" stroke="#777" stroke-width="0.6"/>
<line x1="277.6" y1="696.6" x2="277.6" y2="697.6" stroke="#777" stroke-width="0.6"/>
<line x1="280.1" y1="696.6" x2="280.1" y2="697.6" stroke="#777" stroke-width="0.6"/>
<line x1="282.5" y1="696.6" x2="282.5" y2="697.6" stroke="#777" stroke-width="0.6"/>
<line x1="284.9" y1="696.6" x2="284.9" y2="698.6" stroke="#777" stroke-width="0.6"/>
<line x1="287.4" y1="696.6" x2="287.4" y2="697.6" stroke="#777" stroke-width="0.6"/>
<line x1="289.9" y1="696.6" x2="289.9" y2="697.6" stroke="#777" stroke-width="0.6"/>
<line x1="292.3" y1="696.6" x2="292.3" y2="697.6" stroke="#777" stroke-width="0.6"/>
<line x1="294.8" y1="696.6" x2="294.8" y2="697.6" stroke="#777" stroke-width="0.6"/>
<line x1="297.2" y1="696.6" x2="297.2" y2="697.6" stroke="#777" stroke-width="0.6"/>
<line x1="299.6" y1="696.6" x2="299.6" y2="697.6" stroke="#777" stroke-width="0.6"/>
<line x1="302.1" y1="696.6" x2="302.1" y2="698.6" stroke="#777" stroke-width="0.6"/>
<line x1="304.6" y1="696.6" x2="304.6" y2="697.6" stroke="#777" stroke-width="0.6"/>
<line x1="307.0" y1="696.6" x2="307.0" y2="697.6" stroke="#777" stroke-width="0.6"/>
<line x1="309.4" y1="696.6" x2="309.4" y2="697.6" stroke="#777" stroke-width="0.6"/>
<line x1="311.9" y1="696.6" x2="311.9" y2="697.6" stroke="#777" stroke-width="0.6"/>
<line x1="314.4" y1="696.6" x2="314.4" y2="697.6" stroke="#777" stroke-width="0.6"/>
<line x1="316.8" y1="696.6" x2="316.8" y2="697.6" stroke="#777" stroke-width="0.6"/>
<line x1="319.2" y1="696.6" x2="319.2" y2="698.6" stroke="#777" stroke-width="0.6"/>
<text x="0.0" y="0.0" font-size="13.3" text-anchor="middle" fill="#222" stroke="#222" stroke-width="0.3" textLength="85.5" lengthAdjust="spacingAndGlyphs" transform="translate(326.7,648.7) rotate(90)">R + Oxa + Pyrv</text>
<line x1="25.5" y1="670.6" x2="25.5" y2="399.0" stroke="#2a1c1c" stroke-width="1.8"/>
<path d="M25.5 391L29.7 401L21.3 401Z" fill="#2a1c1c"/>
<text x="0.0" y="0.0" font-size="12.5" text-anchor="middle" fill="#222" stroke="#222" stroke-width="0.3" transform="translate(21.4,512.7) rotate(-90)">PI</text>
<line x1="56.0" y1="722.0" x2="304.0" y2="722.0" stroke="#2a1c1c" stroke-width="1.8"/>
<path d="M313 722L303 717.8L303 726.2Z" fill="#2a1c1c"/>
<text x="163.4" y="738.8" font-size="13" text-anchor="middle" fill="#222" stroke="#222" stroke-width="0.3" textLength="89.8" lengthAdjust="spacingAndGlyphs">Annexin V-FITC</text>
<circle cx="176.7" cy="749.6" r="2.5" fill="#1c1cf0"/>
<text x="189.6" y="752.6" font-size="12.5" text-anchor="start" fill="#222" stroke="#222" stroke-width="0.3">SW480</text>
<rect x="174.2" y="758.9" width="5.0" height="5.0" fill="#f01c1c"/>
<text x="189.6" y="766.0" font-size="12.5" text-anchor="start" fill="#222" stroke="#222" stroke-width="0.3">HCT116</text>
<line x1="80.3" y1="763.9" x2="80.3" y2="879.0" stroke="#222" stroke-width="1.4"/>
<line x1="76.3" y1="878.4" x2="80.3" y2="878.4" stroke="#222" stroke-width="1.2"/>
<text x="75.8" y="882.7" font-size="12.5" text-anchor="end" fill="#222" stroke="#222" stroke-width="0.3">0</text>
<line x1="76.3" y1="855.5" x2="80.3" y2="855.5" stroke="#222" stroke-width="1.2"/>
<text x="75.8" y="859.8" font-size="12.5" text-anchor="end" fill="#222" stroke="#222" stroke-width="0.3">20</text>
<line x1="76.3" y1="832.6" x2="80.3" y2="832.6" stroke="#222" stroke-width="1.2"/>
<text x="75.8" y="836.9" font-size="12.5" text-anchor="end" fill="#222" stroke="#222" stroke-width="0.3">40</text>
<line x1="76.3" y1="809.7" x2="80.3" y2="809.7" stroke="#222" stroke-width="1.2"/>
<text x="75.8" y="814.0" font-size="12.5" text-anchor="end" fill="#222" stroke="#222" stroke-width="0.3">60</text>
<line x1="76.3" y1="786.8" x2="80.3" y2="786.8" stroke="#222" stroke-width="1.2"/>
<text x="75.8" y="791.1" font-size="12.5" text-anchor="end" fill="#222" stroke="#222" stroke-width="0.3">80</text>
<line x1="76.3" y1="763.9" x2="80.3" y2="763.9" stroke="#222" stroke-width="1.2"/>
<text x="75.8" y="768.2" font-size="12.5" text-anchor="end" fill="#222" stroke="#222" stroke-width="0.3">100</text>
<line x1="80.3" y1="878.4" x2="289.4" y2="878.4" stroke="#222" stroke-width="1.4"/>
<line x1="97.9" y1="878.4" x2="97.9" y2="882.4" stroke="#222" stroke-width="1.2"/>
<text x="97.9" y="894.5" font-size="12" text-anchor="middle" fill="#222" stroke="#222" stroke-width="0.3">(1)</text>
<line x1="128.1" y1="878.4" x2="128.1" y2="882.4" stroke="#222" stroke-width="1.2"/>
<text x="128.1" y="894.5" font-size="12" text-anchor="middle" fill="#222" stroke="#222" stroke-width="0.3">(2)</text>
<line x1="159.6" y1="878.4" x2="159.6" y2="882.4" stroke="#222" stroke-width="1.2"/>
<text x="159.6" y="894.5" font-size="12" text-anchor="middle" fill="#222" stroke="#222" stroke-width="0.3">(3)</text>
<line x1="209.4" y1="878.4" x2="209.4" y2="882.4" stroke="#222" stroke-width="1.2"/>
<text x="209.4" y="894.5" font-size="12" text-anchor="middle" fill="#222" stroke="#222" stroke-width="0.3">(1)</text>
<line x1="240.4" y1="878.4" x2="240.4" y2="882.4" stroke="#222" stroke-width="1.2"/>
<text x="240.4" y="894.5" font-size="12" text-anchor="middle" fill="#222" stroke="#222" stroke-width="0.3">(2)</text>
<line x1="269.8" y1="878.4" x2="269.8" y2="882.4" stroke="#222" stroke-width="1.2"/>
<text x="269.8" y="894.5" font-size="12" text-anchor="middle" fill="#222" stroke="#222" stroke-width="0.3">(3)</text>
<text x="0.0" y="0.0" font-size="12.5" text-anchor="middle" fill="#222" stroke="#222" stroke-width="0.3" textLength="104" lengthAdjust="spacingAndGlyphs" transform="translate(55.5,826.8) rotate(-90)">Apoptotic cells (%)</text>
<line x1="97.9" y1="867.5" x2="97.9" y2="871.0" stroke="#1c1cf0" stroke-width="1.3"/>
<line x1="88.9" y1="869.2" x2="106.9" y2="869.2" stroke="#1c1cf0" stroke-width="1.4"/>
<line x1="93.4" y1="867.5" x2="102.4" y2="867.5" stroke="#1c1cf0" stroke-width="1.3"/>
<line x1="93.4" y1="871.0" x2="102.4" y2="871.0" stroke="#1c1cf0" stroke-width="1.3"/>
<circle cx="93.4" cy="866.7" r="2.7" fill="#1c1cf0"/>
<circle cx="99.4" cy="870.2" r="2.7" fill="#1c1cf0"/>
<circle cx="102.9" cy="869.0" r="2.7" fill="#1c1cf0"/>
<line x1="128.1" y1="870.2" x2="128.1" y2="872.9" stroke="#1c1cf0" stroke-width="1.3"/>
<line x1="119.1" y1="871.5" x2="137.1" y2="871.5" stroke="#1c1cf0" stroke-width="1.4"/>
<line x1="123.6" y1="870.2" x2="132.6" y2="870.2" stroke="#1c1cf0" stroke-width="1.3"/>
<line x1="123.6" y1="872.9" x2="132.6" y2="872.9" stroke="#1c1cf0" stroke-width="1.3"/>
<circle cx="124.1" cy="870.6" r="2.7" fill="#1c1cf0"/>
<circle cx="128.1" cy="872.7" r="2.7" fill="#1c1cf0"/>
<circle cx="133.1" cy="871.5" r="2.7" fill="#1c1cf0"/>
<line x1="159.6" y1="785.7" x2="159.6" y2="793.7" stroke="#1c1cf0" stroke-width="1.3"/>
<line x1="150.6" y1="789.7" x2="168.6" y2="789.7" stroke="#1c1cf0" stroke-width="1.4"/>
<line x1="155.1" y1="785.7" x2="164.1" y2="785.7" stroke="#1c1cf0" stroke-width="1.3"/>
<line x1="155.1" y1="793.7" x2="164.1" y2="793.7" stroke="#1c1cf0" stroke-width="1.3"/>
<circle cx="156.6" cy="786.2" r="2.7" fill="#1c1cf0"/>
<circle cx="162.6" cy="786.2" r="2.7" fill="#1c1cf0"/>
<circle cx="159.6" cy="795.4" r="2.7" fill="#1c1cf0"/>
<line x1="209.4" y1="865.2" x2="209.4" y2="867.5" stroke="#f01c1c" stroke-width="1.3"/>
<line x1="200.4" y1="866.4" x2="218.4" y2="866.4" stroke="#f01c1c" stroke-width="1.4"/>
<line x1="204.9" y1="865.2" x2="213.9" y2="865.2" stroke="#f01c1c" stroke-width="1.3"/>
<line x1="204.9" y1="867.5" x2="213.9" y2="867.5" stroke="#f01c1c" stroke-width="1.3"/>
<rect x="202.9" y="862.7" width="5.0" height="5.0" fill="#f01c1c"/>
<rect x="206.9" y="864.4" width="5.0" height="5.0" fill="#f01c1c"/>
<rect x="210.9" y="863.3" width="5.0" height="5.0" fill="#f01c1c"/>
<line x1="240.4" y1="869.2" x2="240.4" y2="871.1" stroke="#f01c1c" stroke-width="1.3"/>
<line x1="231.4" y1="870.2" x2="249.4" y2="870.2" stroke="#f01c1c" stroke-width="1.4"/>
<line x1="235.9" y1="869.2" x2="244.9" y2="869.2" stroke="#f01c1c" stroke-width="1.3"/>
<line x1="235.9" y1="871.1" x2="244.9" y2="871.1" stroke="#f01c1c" stroke-width="1.3"/>
<rect x="233.9" y="867.3" width="5.0" height="5.0" fill="#f01c1c"/>
<rect x="237.9" y="867.9" width="5.0" height="5.0" fill="#f01c1c"/>
<rect x="241.9" y="867.7" width="5.0" height="5.0" fill="#f01c1c"/>
<line x1="269.8" y1="783.9" x2="269.8" y2="792.0" stroke="#f01c1c" stroke-width="1.3"/>
<line x1="260.8" y1="787.9" x2="278.8" y2="787.9" stroke="#f01c1c" stroke-width="1.4"/>
<line x1="265.3" y1="783.9" x2="274.3" y2="783.9" stroke="#f01c1c" stroke-width="1.3"/>
<line x1="265.3" y1="792.0" x2="274.3" y2="792.0" stroke="#f01c1c" stroke-width="1.3"/>
<rect x="264.3" y="782.0" width="5.0" height="5.0" fill="#f01c1c"/>
<rect x="270.3" y="783.2" width="5.0" height="5.0" fill="#f01c1c"/>
<rect x="267.3" y="790.6" width="5.0" height="5.0" fill="#f01c1c"/>
<path d="M132.4 779V774.6H161.3V779" stroke="#111" stroke-width="1.5" fill="none"/>
<text x="146.8" y="778.4" font-size="12.5" text-anchor="middle" fill="#222" stroke="#222" stroke-width="0.3">****</text>
<path d="M236.6 779V774.6H269.8V779" stroke="#111" stroke-width="1.5" fill="none"/>
<text x="253.2" y="778.4" font-size="12.5" text-anchor="middle" fill="#222" stroke="#222" stroke-width="0.3">****</text>
<path d="M97.9 860.8V856.2H128.9V860.8" stroke="#111" stroke-width="1.5" fill="none"/>
<text x="113.4" y="854.5" font-size="12.5" text-anchor="middle" fill="#222" stroke="#222" stroke-width="0.3">ns</text>
<path d="M209.4 860.8V856.2H241V860.8" stroke="#111" stroke-width="1.5" fill="none"/>
<text x="225.2" y="854.5" font-size="12.5" text-anchor="middle" fill="#222" stroke="#222" stroke-width="0.3">ns</text>
<text x="297.0" y="817.3" font-size="12.8" text-anchor="start" fill="#222" stroke="#222" stroke-width="0.3">(1) R+Pyr</text>
<text x="297.0" y="839.4" font-size="12.8" text-anchor="start" fill="#222" stroke="#222" stroke-width="0.3">(2) R+Oxa</text>
<text x="297.0" y="863.0" font-size="12.8" text-anchor="start" fill="#222" stroke="#222" stroke-width="0.3">(3) R+Oxa+Pyr</text>
<text x="358.6" y="445.9" font-size="17" text-anchor="start" fill="#111" stroke="#111" stroke-width="0.3" font-weight="bold">E</text>
<text x="406.8" y="438.0" font-size="12.3" text-anchor="middle" fill="#222" stroke="#222" stroke-width="0.3" textLength="41" lengthAdjust="spacingAndGlyphs">SW480</text>
<text x="485.2" y="438.0" font-size="12.3" text-anchor="middle" fill="#222" stroke="#222" stroke-width="0.3" textLength="46" lengthAdjust="spacingAndGlyphs">HCT116</text>
<defs><filter id="bl3" x="-50%" y="-50%" width="200%" height="200%"><feGaussianBlur stdDeviation="4"/></filter><filter id="bl05"><feGaussianBlur stdDeviation="0.35"/></filter></defs>
<defs><filter id="bl25" x="-50%" y="-50%" width="200%" height="200%"><feGaussianBlur stdDeviation="2.5"/></filter></defs>
<clipPath id="dc0"><circle cx="406.7" cy="478.2" r="33.6"/></clipPath>
<g clip-path="url(#dc0)">
<circle cx="406.7" cy="478.2" r="33.6" fill="#b2b2c2"/>
<g filter="url(#bl3)">
<ellipse cx="396.7" cy="490.2" rx="15.120000000000001" ry="13.440000000000001" fill="#cfcfd8"/>
<ellipse cx="402.7" cy="470.2" rx="16.8" ry="15.120000000000001" fill="#bcbcc9"/>
<ellipse cx="374.78" cy="478.2" rx="8.4" ry="26.880000000000003" fill="#a4a4b8"/>
</g>
<path d="M401.4 454.1A26.208000000000002 26.208000000000002 0 0 1 427.5 491.3L417.4 486.6A15.120000000000001 15.120000000000001 0 0 0 402.4 465.1Z" fill="#cfcfd8" filter="url(#bl25)" opacity="0.9"/>
<path d="M405.7 451.3 C421.8 459.7 418.5 476.5 411.7 481.6 C408.4 484.9 418.5 493.3 423.5 501.7" stroke="#e4e4ea" stroke-width="5" fill="none" opacity="0.55" filter="url(#bl25)"/>
<circle cx="406.7" cy="478.2" r="29.232" fill="none" stroke="#a4a4b8" stroke-width="1.2" opacity="0.7" filter="url(#bl05)"/>
<path d="M419.4 456.8h0.7v0.7h-0.7zM437.4 486.7h0.9v0.9h-0.9zM414.4 448.4h0.9v0.9h-0.9zM418.5 507.9h0.7v0.7h-0.7zM389.8 460.4h0.9v0.9h-0.9zM375.3 471.1h0.9v0.9h-0.9zM409.7 455.7h1.1v1.1h-1.1zM426.8 475.5h0.8v0.8h-0.8zM425.4 456.2h0.9v0.9h-0.9zM389.8 489.1h0.7v0.7h-0.7zM400.2 471.6h0.7v0.7h-0.7zM404.5 475.0h1.0v1.0h-1.0zM427.7 488.5h0.9v0.9h-0.9zM411.2 509.4h0.8v0.8h-0.8zM376.7 477.3h0.9v0.9h-0.9zM399.2 484.8h1.1v1.1h-1.1zM385.9 465.1h0.9v0.9h-0.9zM421.0 497.6h0.9v0.9h-0.9zM394.6 471.4h1.0v1.0h-1.0zM423.3 486.0h0.7v0.7h-0.7zM406.4 455.4h0.8v0.8h-0.8zM425.9 487.8h0.7v0.7h-0.7zM400.1 497.3h1.0v1.0h-1.0zM411.1 459.4h0.9v0.9h-0.9zM380.3 476.5h0.8v0.8h-0.8zM427.8 462.6h0.7v0.7h-0.7zM381.8 465.5h1.0v1.0h-1.0zM391.0 484.7h0.9v0.9h-0.9zM403.8 455.4h0.7v0.7h-0.7zM385.5 459.7h1.1v1.1h-1.1zM426.3 477.5h1.0v1.0h-1.0zM394.9 448.7h0.9v0.9h-0.9zM421.4 460.6h0.7v0.7h-0.7zM423.4 474.0h0.8v0.8h-0.8zM407.3 478.5h0.8v0.8h-0.8zM403.1 505.5h0.6v0.6h-0.6zM429.3 459.8h1.1v1.1h-1.1zM409.6 452.2h1.0v1.0h-1.0zM428.4 457.8h0.7v0.7h-0.7zM437.4 468.7h0.9v0.9h-0.9zM387.6 461.7h0.9v0.9h-0.9zM421.6 468.2h0.8v0.8h-0.8zM395.7 503.3h0.6v0.6h-0.6zM389.8 489.9h0.8v0.8h-0.8zM392.2 471.5h1.0v1.0h-1.0zM383.9 500.1h1.1v1.1h-1.1zM395.4 494.2h0.9v0.9h-0.9zM398.3 484.6h0.7v0.7h-0.7zM414.9 497.5h1.0v1.0h-1.0zM399.9 479.6h1.0v1.0h-1.0zM426.2 455.0h0.8v0.8h-0.8zM397.8 508.7h0.8v0.8h-0.8zM376.9 466.8h1.0v1.0h-1.0zM430.7 458.7h1.0v1.0h-1.0zM400.2 490.6h1.0v1.0h-1.0zM398.3 474.1h1.0v1.0h-1.0zM431.5 494.4h1.0v1.0h-1.0zM423.5 476.0h0.6v0.6h-0.6zM375.7 474.9h1.1v1.1h-1.1zM394.4 494.2h1.1v1.1h-1.1z" fill="#3a3a94" opacity="0.7"/>
</g>
<circle cx="406.7" cy="478.2" r="32.9" fill="none" stroke="#9a9ab4" stroke-width="1.4"/>
<clipPath id="dc1"><circle cx="478.6" cy="478.8" r="34"/></clipPath>
<g clip-path="url(#dc1)">
<circle cx="478.6" cy="478.8" r="34" fill="#b2b2c2"/>
<g filter="url(#bl3)">
<ellipse cx="468.6" cy="490.8" rx="15.3" ry="13.600000000000001" fill="#cfcfd8"/>
<ellipse cx="474.6" cy="470.8" rx="17.0" ry="15.3" fill="#bcbcc9"/>
<ellipse cx="446.3" cy="478.8" rx="8.5" ry="27.200000000000003" fill="#a4a4b8"/>
</g>
<path d="M473.3 454.4A26.52 26.52 0 0 1 499.6 492.0L489.5 487.3A15.3 15.3 0 0 0 474.3 465.6Z" fill="#cfcfd8" filter="url(#bl25)" opacity="0.9"/>
<path d="M477.6 451.6 C493.9 460.1 490.5 477.1 483.7 482.2 C480.3 485.6 490.5 494.1 495.6 502.6" stroke="#e4e4ea" stroke-width="5" fill="none" opacity="0.55" filter="url(#bl25)"/>
<circle cx="478.6" cy="478.8" r="29.58" fill="none" stroke="#a4a4b8" stroke-width="1.2" opacity="0.7" filter="url(#bl05)"/>
<path d="M496.9 472.0h1.0v1.0h-1.0zM463.7 469.2h1.1v1.1h-1.1zM492.0 464.4h1.1v1.1h-1.1zM483.3 507.7h0.9v0.9h-0.9zM473.0 479.8h1.0v1.0h-1.0zM460.4 469.7h0.8v0.8h-0.8zM467.5 463.1h0.9v0.9h-0.9zM473.3 484.4h0.7v0.7h-0.7zM494.6 454.0h0.9v0.9h-0.9zM447.0 484.7h1.0v1.0h-1.0zM479.4 503.4h1.1v1.1h-1.1zM483.0 459.5h0.8v0.8h-0.8zM447.8 475.3h1.0v1.0h-1.0zM460.8 492.1h0.6v0.6h-0.6zM463.0 479.6h0.6v0.6h-0.6zM491.3 487.0h0.9v0.9h-0.9zM489.2 501.0h0.9v0.9h-0.9zM500.2 474.2h1.0v1.0h-1.0zM504.2 484.5h1.1v1.1h-1.1zM508.3 487.9h0.7v0.7h-0.7zM476.3 474.2h0.6v0.6h-0.6zM499.1 502.0h1.0v1.0h-1.0zM464.8 456.4h0.7v0.7h-0.7zM456.3 474.8h1.1v1.1h-1.1zM451.6 486.8h0.8v0.8h-0.8zM505.5 465.2h1.1v1.1h-1.1zM483.0 508.9h0.8v0.8h-0.8zM454.6 477.4h0.6v0.6h-0.6zM497.2 461.6h0.7v0.7h-0.7zM477.8 467.8h0.8v0.8h-0.8zM467.8 459.3h0.6v0.6h-0.6zM464.4 465.1h0.8v0.8h-0.8zM485.9 490.8h1.1v1.1h-1.1zM458.8 463.5h1.0v1.0h-1.0zM469.1 487.4h0.9v0.9h-0.9zM461.5 490.5h0.6v0.6h-0.6zM472.1 482.3h1.1v1.1h-1.1zM459.1 498.3h0.9v0.9h-0.9zM460.9 485.8h0.6v0.6h-0.6zM472.8 470.3h0.7v0.7h-0.7zM497.9 473.7h0.8v0.8h-0.8zM472.3 463.0h0.8v0.8h-0.8zM469.0 504.3h0.6v0.6h-0.6zM454.7 501.0h0.9v0.9h-0.9zM461.3 481.5h0.6v0.6h-0.6zM505.0 461.9h1.1v1.1h-1.1zM453.7 482.0h0.7v0.7h-0.7zM490.4 456.8h0.7v0.7h-0.7zM473.2 497.5h0.9v0.9h-0.9zM479.9 468.4h1.1v1.1h-1.1zM479.2 449.5h0.7v0.7h-0.7zM496.0 500.7h1.1v1.1h-1.1zM472.7 487.3h0.8v0.8h-0.8zM494.1 453.6h0.7v0.7h-0.7zM491.5 497.8h0.8v0.8h-0.8zM491.8 460.8h0.7v0.7h-0.7zM464.6 485.3h1.0v1.0h-1.0zM503.7 474.3h0.7v0.7h-0.7zM486.1 460.6h0.6v0.6h-0.6zM489.9 495.1h1.0v1.0h-1.0zM482.8 507.4h0.6v0.6h-0.6zM493.3 455.5h0.6v0.6h-0.6zM494.4 483.1h0.7v0.7h-0.7zM465.1 460.9h0.9v0.9h-0.9zM471.5 510.3h0.7v0.7h-0.7zM466.2 458.5h1.1v1.1h-1.1zM500.3 472.5h0.8v0.8h-0.8zM470.2 489.4h0.9v0.9h-0.9zM495.7 464.1h1.1v1.1h-1.1zM479.1 495.7h1.1v1.1h-1.1zM499.0 467.5h0.9v0.9h-0.9zM475.3 483.2h0.8v0.8h-0.8zM501.8 476.6h1.0v1.0h-1.0zM493.5 502.5h0.9v0.9h-0.9zM496.8 477.3h0.8v0.8h-0.8zM474.8 506.6h0.6v0.6h-0.6zM475.1 449.2h0.7v0.7h-0.7zM466.5 493.7h1.0v1.0h-1.0zM496.0 504.7h0.6v0.6h-0.6zM507.2 485.6h0.6v0.6h-0.6zM457.2 469.0h1.0v1.0h-1.0zM463.8 450.0h0.9v0.9h-0.9zM462.6 506.1h0.6v0.6h-0.6zM474.2 469.0h0.7v0.7h-0.7zM461.2 493.9h0.6v0.6h-0.6zM458.8 492.2h0.7v0.7h-0.7zM454.7 494.8h0.7v0.7h-0.7zM472.4 494.8h0.7v0.7h-0.7zM509.7 486.2h0.9v0.9h-0.9zM464.4 505.9h0.6v0.6h-0.6zM482.1 481.6h0.6v0.6h-0.6zM504.1 479.2h1.0v1.0h-1.0zM459.5 503.8h1.0v1.0h-1.0zM507.1 476.6h0.9v0.9h-0.9zM489.2 482.7h0.8v0.8h-0.8zM495.7 498.5h0.6v0.6h-0.6zM459.6 473.6h0.8v0.8h-0.8zM502.9 492.0h1.0v1.0h-1.0zM470.2 497.0h0.9v0.9h-0.9zM495.9 497.7h0.8v0.8h-0.8zM470.6 454.0h0.8v0.8h-0.8zM474.8 498.9h0.7v0.7h-0.7zM480.2 449.8h0.8v0.8h-0.8zM480.5 501.6h1.0v1.0h-1.0zM474.7 477.7h0.6v0.6h-0.6zM456.2 498.7h0.8v0.8h-0.8zM461.1 461.6h0.6v0.6h-0.6zM457.4 481.8h0.8v0.8h-0.8zM493.7 469.3h1.1v1.1h-1.1zM456.4 482.7h1.0v1.0h-1.0zM470.7 479.9h0.9v0.9h-0.9zM505.5 495.1h0.8v0.8h-0.8zM500.1 469.3h1.0v1.0h-1.0zM463.6 478.2h1.1v1.1h-1.1zM464.0 462.4h1.1v1.1h-1.1zM459.1 471.6h0.7v0.7h-0.7zM463.8 504.2h0.7v0.7h-0.7zM453.1 484.8h0.8v0.8h-0.8zM473.5 482.5h1.0v1.0h-1.0zM497.8 488.4h0.6v0.6h-0.6zM467.3 505.3h1.1v1.1h-1.1zM495.9 483.3h0.9v0.9h-0.9zM456.1 502.2h0.7v0.7h-0.7zM496.6 500.0h0.9v0.9h-0.9zM486.8 475.4h0.6v0.6h-0.6zM500.3 501.4h0.8v0.8h-0.8zM463.3 486.1h0.7v0.7h-0.7zM499.6 497.8h0.6v0.6h-0.6zM477.3 455.7h0.7v0.7h-0.7zM479.5 485.6h1.0v1.0h-1.0zM455.7 462.8h0.9v0.9h-0.9zM504.2 488.9h1.0v1.0h-1.0zM476.8 499.1h1.1v1.1h-1.1zM469.9 470.9h0.7v0.7h-0.7zM477.1 510.2h1.0v1.0h-1.0zM502.9 481.4h0.7v0.7h-0.7zM478.6 502.5h0.7v0.7h-0.7zM476.1 472.9h0.6v0.6h-0.6zM476.2 488.4h1.0v1.0h-1.0zM481.5 454.5h1.0v1.0h-1.0zM494.5 479.8h0.9v0.9h-0.9zM487.0 455.2h0.8v0.8h-0.8zM478.6 509.1h0.9v0.9h-0.9zM485.0 470.5h1.0v1.0h-1.0zM496.1 487.0h0.8v0.8h-0.8zM507.5 491.2h0.8v0.8h-0.8zM503.5 489.5h0.8v0.8h-0.8zM457.0 463.2h1.1v1.1h-1.1zM455.3 466.9h1.1v1.1h-1.1zM470.2 495.7h1.0v1.0h-1.0z" fill="#3a3a94" opacity="0.7"/>
</g>
<circle cx="478.6" cy="478.8" r="33.3" fill="none" stroke="#9a9ab4" stroke-width="1.4"/>
<clipPath id="dc2"><circle cx="406" cy="550.5" r="33"/></clipPath>
<g clip-path="url(#dc2)">
<circle cx="406" cy="550.5" r="33" fill="#b2b2c2"/>
<g filter="url(#bl3)">
<ellipse cx="396" cy="562.5" rx="14.85" ry="13.200000000000001" fill="#cfcfd8"/>
<ellipse cx="402" cy="542.5" rx="16.5" ry="14.85" fill="#bcbcc9"/>
<ellipse cx="374.65" cy="550.5" rx="8.25" ry="26.400000000000002" fill="#a4a4b8"/>
</g>
<path d="M400.8 526.9A25.740000000000002 25.740000000000002 0 0 1 426.3 563.4L416.5 558.8A14.85 14.85 0 0 0 401.7 537.7Z" fill="#cfcfd8" filter="url(#bl25)" opacity="0.9"/>
<path d="M405.0 524.1 C420.9 532.4 417.6 548.9 410.9 553.8 C407.6 557.1 417.6 565.4 422.5 573.6" stroke="#e4e4ea" stroke-width="5" fill="none" opacity="0.55" filter="url(#bl25)"/>
<circle cx="406" cy="550.5" r="28.71" fill="none" stroke="#a4a4b8" stroke-width="1.2" opacity="0.7" filter="url(#bl05)"/>
<path d="M419.0 571.0h1.0v1.0h-1.0zM398.3 575.6h0.8v0.8h-0.8zM424.5 535.5h1.1v1.1h-1.1zM406.5 561.0h0.8v0.8h-0.8zM410.2 527.6h1.1v1.1h-1.1zM436.4 549.4h0.7v0.7h-0.7zM383.2 536.0h1.1v1.1h-1.1zM421.0 570.2h0.6v0.6h-0.6zM405.0 526.5h0.7v0.7h-0.7zM423.3 565.5h0.8v0.8h-0.8zM375.6 543.0h1.1v1.1h-1.1zM403.5 558.8h0.7v0.7h-0.7zM412.3 535.5h0.7v0.7h-0.7zM385.1 534.5h0.7v0.7h-0.7zM418.0 555.1h0.7v0.7h-0.7zM390.7 568.7h1.1v1.1h-1.1zM391.3 571.0h0.9v0.9h-0.9zM401.2 573.6h1.1v1.1h-1.1zM426.6 550.1h1.0v1.0h-1.0zM391.7 575.0h0.8v0.8h-0.8zM407.6 541.8h0.7v0.7h-0.7zM395.8 539.8h0.7v0.7h-0.7zM398.2 535.1h0.8v0.8h-0.8zM410.6 540.7h0.6v0.6h-0.6zM420.6 524.2h0.9v0.9h-0.9zM385.1 529.1h0.9v0.9h-0.9zM420.6 563.3h0.8v0.8h-0.8zM420.6 530.5h0.6v0.6h-0.6zM390.3 526.1h0.6v0.6h-0.6zM413.0 546.5h0.9v0.9h-0.9zM391.0 567.2h0.7v0.7h-0.7zM413.8 565.4h1.0v1.0h-1.0zM420.5 526.4h0.8v0.8h-0.8zM394.6 568.3h0.7v0.7h-0.7zM388.2 565.8h0.7v0.7h-0.7zM410.7 558.6h0.8v0.8h-0.8zM388.8 547.3h0.6v0.6h-0.6zM375.5 556.0h0.9v0.9h-0.9zM384.8 553.3h0.8v0.8h-0.8zM394.4 542.9h1.0v1.0h-1.0zM381.2 557.9h0.6v0.6h-0.6zM397.8 559.7h0.7v0.7h-0.7zM389.7 530.6h0.9v0.9h-0.9zM392.3 576.4h1.0v1.0h-1.0zM390.1 539.4h1.0v1.0h-1.0zM404.4 565.8h0.6v0.6h-0.6zM405.4 537.8h0.8v0.8h-0.8zM384.3 553.1h1.0v1.0h-1.0zM422.8 569.0h0.9v0.9h-0.9zM408.8 567.9h0.8v0.8h-0.8zM411.2 555.4h0.7v0.7h-0.7zM382.1 567.5h0.7v0.7h-0.7zM418.7 523.6h0.7v0.7h-0.7zM415.5 531.0h0.9v0.9h-0.9zM409.9 528.7h0.9v0.9h-0.9zM410.8 556.8h1.0v1.0h-1.0zM399.0 549.2h1.0v1.0h-1.0zM406.9 534.6h1.0v1.0h-1.0zM429.5 544.5h1.0v1.0h-1.0zM413.4 556.5h0.8v0.8h-0.8zM427.4 573.7h0.7v0.7h-0.7zM397.3 550.7h0.6v0.6h-0.6zM406.8 524.6h0.8v0.8h-0.8zM418.9 526.8h0.9v0.9h-0.9zM409.1 525.7h0.6v0.6h-0.6zM405.9 573.7h0.8v0.8h-0.8zM381.9 541.1h0.8v0.8h-0.8zM391.9 541.1h0.9v0.9h-0.9zM437.1 552.8h0.9v0.9h-0.9zM391.0 565.2h0.7v0.7h-0.7zM425.2 539.8h0.8v0.8h-0.8zM422.1 566.1h0.7v0.7h-0.7zM380.8 558.8h1.0v1.0h-1.0zM406.1 572.7h1.0v1.0h-1.0zM392.3 541.6h0.7v0.7h-0.7zM414.9 567.0h0.7v0.7h-0.7zM412.9 520.4h1.1v1.1h-1.1zM399.3 529.0h1.0v1.0h-1.0zM400.4 552.7h1.1v1.1h-1.1zM411.8 554.7h1.0v1.0h-1.0zM381.7 543.8h0.9v0.9h-0.9zM398.1 553.4h0.9v0.9h-0.9zM429.0 548.2h1.0v1.0h-1.0zM425.6 532.8h0.7v0.7h-0.7zM432.4 539.6h1.0v1.0h-1.0zM432.5 563.7h0.9v0.9h-0.9zM398.3 544.4h1.0v1.0h-1.0zM406.2 534.2h0.7v0.7h-0.7zM400.4 537.7h0.8v0.8h-0.8zM404.1 528.3h1.0v1.0h-1.0zM420.0 576.2h0.9v0.9h-0.9zM395.7 548.1h0.9v0.9h-0.9zM381.8 568.6h0.7v0.7h-0.7zM385.4 544.3h1.1v1.1h-1.1zM420.6 533.8h1.0v1.0h-1.0zM396.0 546.3h0.6v0.6h-0.6zM380.9 567.8h1.0v1.0h-1.0zM431.1 532.5h1.0v1.0h-1.0zM393.0 560.3h1.0v1.0h-1.0zM415.6 521.1h0.9v0.9h-0.9zM417.5 538.7h0.7v0.7h-0.7zM394.1 553.9h1.0v1.0h-1.0zM417.4 522.6h0.7v0.7h-0.7zM403.1 546.2h0.7v0.7h-0.7zM379.9 544.5h0.9v0.9h-0.9zM419.7 562.3h0.8v0.8h-0.8zM430.2 551.9h0.8v0.8h-0.8zM376.3 539.7h0.8v0.8h-0.8zM429.7 545.4h0.8v0.8h-0.8zM415.0 577.7h0.8v0.8h-0.8zM402.5 569.6h0.9v0.9h-0.9zM387.4 571.5h0.7v0.7h-0.7zM409.1 575.3h0.6v0.6h-0.6zM388.1 573.2h1.1v1.1h-1.1zM399.4 538.3h0.8v0.8h-0.8zM380.0 563.8h0.7v0.7h-0.7zM405.5 529.6h1.0v1.0h-1.0zM391.5 524.3h0.9v0.9h-0.9zM405.9 571.3h0.8v0.8h-0.8zM419.4 577.5h0.7v0.7h-0.7zM395.7 580.0h0.9v0.9h-0.9zM407.7 547.7h0.9v0.9h-0.9zM380.7 568.4h1.0v1.0h-1.0zM384.0 529.0h1.0v1.0h-1.0zM425.5 565.2h1.1v1.1h-1.1zM421.8 569.5h0.6v0.6h-0.6zM381.8 563.1h0.8v0.8h-0.8zM423.0 544.7h1.0v1.0h-1.0zM425.1 554.2h1.0v1.0h-1.0zM399.8 523.5h0.8v0.8h-0.8z" fill="#3a3a94" opacity="0.7"/>
</g>
<circle cx="406" cy="550.5" r="32.3" fill="none" stroke="#9a9ab4" stroke-width="1.4"/>
<clipPath id="dc3"><circle cx="478.9" cy="551" r="33.8"/></clipPath>
<g clip-path="url(#dc3)">
<circle cx="478.9" cy="551" r="33.8" fill="#b2b2c2"/>
<g filter="url(#bl3)">
<ellipse cx="468.9" cy="563" rx="15.209999999999999" ry="13.52" fill="#cfcfd8"/>
<ellipse cx="474.9" cy="543" rx="16.9" ry="15.209999999999999" fill="#bcbcc9"/>
<ellipse cx="446.78999999999996" cy="551" rx="8.45" ry="27.04" fill="#a4a4b8"/>
</g>
<path d="M473.6 526.7A26.363999999999997 26.363999999999997 0 0 1 499.8 564.1L489.7 559.4A15.209999999999999 15.209999999999999 0 0 0 474.6 537.8Z" fill="#cfcfd8" filter="url(#bl25)" opacity="0.9"/>
<path d="M477.9 524.0 C494.1 532.4 490.7 549.3 484.0 554.4 C480.6 557.8 490.7 566.2 495.8 574.7" stroke="#e4e4ea" stroke-width="5" fill="none" opacity="0.55" filter="url(#bl25)"/>
<circle cx="478.9" cy="551" r="29.406" fill="none" stroke="#a4a4b8" stroke-width="1.2" opacity="0.7" filter="url(#bl05)"/>
<path d="M473.0 565.2h0.7v0.7h-0.7zM498.1 527.9h0.7v0.7h-0.7zM472.5 576.6h1.0v1.0h-1.0zM458.0 559.5h1.0v1.0h-1.0zM449.4 562.9h0.8v0.8h-0.8zM491.4 561.6h0.6v0.6h-0.6zM502.0 538.7h0.7v0.7h-0.7zM508.0 557.8h0.8v0.8h-0.8zM484.1 571.0h0.7v0.7h-0.7zM483.2 553.1h0.6v0.6h-0.6zM465.2 538.4h0.7v0.7h-0.7zM454.0 557.5h0.7v0.7h-0.7zM497.3 570.2h0.7v0.7h-0.7zM492.1 531.9h1.1v1.1h-1.1zM483.7 561.5h0.7v0.7h-0.7zM505.4 547.1h0.9v0.9h-0.9zM472.0 561.6h0.6v0.6h-0.6zM486.0 530.0h1.1v1.1h-1.1zM508.8 553.9h0.7v0.7h-0.7zM491.5 550.0h0.7v0.7h-0.7zM456.1 556.2h0.7v0.7h-0.7zM473.9 520.5h0.6v0.6h-0.6zM492.1 576.2h0.6v0.6h-0.6zM466.9 525.8h1.0v1.0h-1.0zM459.8 546.0h0.6v0.6h-0.6zM477.4 563.6h0.9v0.9h-0.9zM506.8 555.6h1.1v1.1h-1.1zM494.9 571.8h1.0v1.0h-1.0zM484.2 581.5h1.0v1.0h-1.0zM479.6 534.6h1.0v1.0h-1.0zM487.2 521.4h0.9v0.9h-0.9zM500.1 566.1h0.8v0.8h-0.8zM492.8 537.9h0.9v0.9h-0.9zM467.7 548.0h1.0v1.0h-1.0zM456.2 557.6h0.8v0.8h-0.8zM489.8 553.0h0.9v0.9h-0.9zM460.9 561.8h0.7v0.7h-0.7zM459.5 541.5h0.9v0.9h-0.9zM455.1 529.5h1.0v1.0h-1.0zM459.1 532.4h0.7v0.7h-0.7zM479.6 534.7h0.9v0.9h-0.9zM484.0 579.6h0.8v0.8h-0.8zM503.9 536.3h1.1v1.1h-1.1zM480.8 531.5h0.7v0.7h-0.7zM484.9 546.8h1.1v1.1h-1.1zM492.2 572.2h0.9v0.9h-0.9zM474.5 539.4h0.8v0.8h-0.8zM453.7 536.6h0.9v0.9h-0.9zM471.3 536.3h0.8v0.8h-0.8zM464.9 537.8h1.0v1.0h-1.0zM481.2 548.0h0.8v0.8h-0.8zM482.7 576.6h1.1v1.1h-1.1zM474.6 569.3h0.8v0.8h-0.8zM456.3 550.7h0.8v0.8h-0.8zM487.1 534.3h0.9v0.9h-0.9zM486.2 569.2h0.8v0.8h-0.8zM505.6 542.2h0.7v0.7h-0.7zM505.4 539.0h1.0v1.0h-1.0zM479.5 538.6h0.8v0.8h-0.8zM498.9 567.8h1.0v1.0h-1.0zM478.9 575.0h0.6v0.6h-0.6zM473.8 553.1h0.7v0.7h-0.7zM458.9 526.6h1.0v1.0h-1.0zM468.9 532.9h0.7v0.7h-0.7zM495.7 528.7h0.9v0.9h-0.9zM481.8 573.6h0.8v0.8h-0.8zM463.0 571.8h0.9v0.9h-0.9zM466.1 575.5h0.7v0.7h-0.7zM496.8 536.4h0.7v0.7h-0.7zM476.3 573.5h0.8v0.8h-0.8zM464.9 531.5h0.8v0.8h-0.8zM476.5 535.5h0.7v0.7h-0.7zM491.9 534.7h1.1v1.1h-1.1zM506.6 544.5h0.6v0.6h-0.6zM468.5 578.1h0.7v0.7h-0.7zM482.4 550.4h1.0v1.0h-1.0zM470.6 572.3h0.9v0.9h-0.9zM503.1 560.1h0.9v0.9h-0.9zM495.0 540.2h1.1v1.1h-1.1zM509.5 560.5h1.1v1.1h-1.1zM447.7 553.7h0.7v0.7h-0.7zM462.7 557.0h1.1v1.1h-1.1zM483.4 559.0h0.6v0.6h-0.6zM454.5 536.7h0.8v0.8h-0.8zM495.4 577.0h1.1v1.1h-1.1zM488.3 555.8h0.9v0.9h-0.9zM472.1 558.3h0.9v0.9h-0.9zM493.0 540.8h0.9v0.9h-0.9zM483.0 526.8h0.8v0.8h-0.8zM468.4 543.3h1.0v1.0h-1.0zM477.8 567.8h0.7v0.7h-0.7zM493.7 528.7h0.7v0.7h-0.7zM501.9 542.2h0.7v0.7h-0.7zM462.0 562.0h0.7v0.7h-0.7zM473.1 524.1h1.0v1.0h-1.0zM448.7 562.2h0.9v0.9h-0.9zM489.9 556.5h0.8v0.8h-0.8zM467.8 546.2h0.9v0.9h-0.9zM505.6 550.3h0.9v0.9h-0.9zM476.8 562.6h0.9v0.9h-0.9zM451.3 552.5h1.1v1.1h-1.1zM470.2 552.9h1.0v1.0h-1.0zM492.8 554.8h1.0v1.0h-1.0zM492.9 548.6h0.7v0.7h-0.7zM501.7 541.8h1.0v1.0h-1.0zM485.2 542.3h0.9v0.9h-0.9zM493.4 528.9h0.9v0.9h-0.9zM460.8 560.4h0.9v0.9h-0.9zM500.6 569.1h0.9v0.9h-0.9zM498.7 562.4h0.8v0.8h-0.8zM492.1 572.9h0.9v0.9h-0.9zM492.1 549.8h0.9v0.9h-0.9zM505.6 567.7h1.0v1.0h-1.0zM482.7 531.7h1.0v1.0h-1.0zM494.0 556.9h0.7v0.7h-0.7zM477.0 571.1h0.6v0.6h-0.6zM465.6 525.7h0.8v0.8h-0.8zM470.2 535.2h0.9v0.9h-0.9zM502.6 572.6h0.7v0.7h-0.7zM466.3 553.1h0.7v0.7h-0.7zM451.0 535.1h0.7v0.7h-0.7zM485.4 519.5h0.9v0.9h-0.9zM498.2 555.9h0.8v0.8h-0.8zM465.3 565.4h0.9v0.9h-0.9zM504.2 560.3h0.8v0.8h-0.8zM486.0 556.2h0.8v0.8h-0.8zM454.7 571.6h1.0v1.0h-1.0zM451.0 549.7h0.9v0.9h-0.9zM467.6 559.0h1.1v1.1h-1.1zM480.0 557.6h1.0v1.0h-1.0zM453.5 559.9h0.6v0.6h-0.6zM485.6 534.9h0.8v0.8h-0.8zM484.0 555.9h0.7v0.7h-0.7zM494.2 565.7h0.8v0.8h-0.8zM461.8 566.0h0.9v0.9h-0.9zM502.7 567.9h0.7v0.7h-0.7zM465.3 574.2h1.1v1.1h-1.1zM495.6 577.1h0.7v0.7h-0.7zM459.0 539.8h0.7v0.7h-0.7zM471.3 553.1h0.9v0.9h-0.9zM457.2 542.1h0.8v0.8h-0.8zM473.5 560.5h0.8v0.8h-0.8zM475.8 566.3h1.1v1.1h-1.1zM484.9 547.9h0.7v0.7h-0.7zM480.1 550.8h0.7v0.7h-0.7zM508.6 546.0h0.7v0.7h-0.7zM459.3 542.1h0.8v0.8h-0.8zM499.4 554.5h1.1v1.1h-1.1zM489.7 555.2h1.1v1.1h-1.1zM502.4 537.0h0.9v0.9h-0.9zM458.6 557.0h1.1v1.1h-1.1zM491.2 550.3h1.0v1.0h-1.0zM478.2 535.1h0.8v0.8h-0.8zM480.0 550.4h0.9v0.9h-0.9zM508.8 553.6h0.9v0.9h-0.9zM482.8 552.6h0.7v0.7h-0.7zM470.3 523.8h0.7v0.7h-0.7zM460.8 542.9h1.1v1.1h-1.1zM466.6 558.0h0.8v0.8h-0.8zM490.8 544.1h1.0v1.0h-1.0zM484.7 576.3h1.0v1.0h-1.0zM477.5 533.0h1.1v1.1h-1.1zM500.1 530.7h1.1v1.1h-1.1zM447.4 555.7h0.7v0.7h-0.7zM467.5 543.7h0.8v0.8h-0.8zM506.5 560.6h0.8v0.8h-0.8zM463.6 533.6h1.0v1.0h-1.0zM504.9 557.9h1.0v1.0h-1.0zM494.4 572.0h0.8v0.8h-0.8zM467.3 576.3h0.6v0.6h-0.6zM466.2 557.8h1.0v1.0h-1.0zM465.2 544.5h0.7v0.7h-0.7zM474.5 568.8h1.0v1.0h-1.0zM490.4 576.1h0.6v0.6h-0.6zM505.0 565.4h1.0v1.0h-1.0zM452.9 547.7h1.0v1.0h-1.0zM500.6 539.4h0.9v0.9h-0.9zM456.1 537.2h0.6v0.6h-0.6zM470.0 547.9h0.9v0.9h-0.9zM485.8 561.6h0.7v0.7h-0.7z" fill="#3a3a94" opacity="0.7"/>
</g>
<circle cx="478.9" cy="551" r="33.099999999999994" fill="none" stroke="#9a9ab4" stroke-width="1.4"/>
<clipPath id="dc4"><circle cx="406.7" cy="621.4" r="33.8"/></clipPath>
<g clip-path="url(#dc4)">
<circle cx="406.7" cy="621.4" r="33.8" fill="#b2b2c2"/>
<g filter="url(#bl3)">
<ellipse cx="396.7" cy="633.4" rx="15.209999999999999" ry="13.52" fill="#cfcfd8"/>
<ellipse cx="402.7" cy="613.4" rx="16.9" ry="15.209999999999999" fill="#bcbcc9"/>
<ellipse cx="374.59" cy="621.4" rx="8.45" ry="27.04" fill="#a4a4b8"/>
</g>
<path d="M401.4 597.1A26.363999999999997 26.363999999999997 0 0 1 427.6 634.5L417.5 629.8A15.209999999999999 15.209999999999999 0 0 0 402.4 608.2Z" fill="#cfcfd8" filter="url(#bl25)" opacity="0.9"/>
<path d="M405.7 594.4 C421.9 602.8 418.5 619.7 411.8 624.8 C408.4 628.2 418.5 636.6 423.6 645.1" stroke="#e4e4ea" stroke-width="5" fill="none" opacity="0.55" filter="url(#bl25)"/>
<circle cx="406.7" cy="621.4" r="29.406" fill="none" stroke="#a4a4b8" stroke-width="1.2" opacity="0.7" filter="url(#bl05)"/>
<path d="M421.0 598.5h0.7v0.7h-0.7zM420.7 635.5h1.0v1.0h-1.0zM404.8 600.6h0.9v0.9h-0.9zM410.5 613.9h0.9v0.9h-0.9zM407.8 591.9h0.7v0.7h-0.7zM387.2 623.4h0.7v0.7h-0.7zM414.0 598.2h0.9v0.9h-0.9zM404.0 648.4h0.6v0.6h-0.6zM429.3 617.3h0.7v0.7h-0.7zM380.1 627.9h1.0v1.0h-1.0zM426.1 600.7h0.8v0.8h-0.8zM398.8 647.3h0.8v0.8h-0.8zM377.4 614.2h0.7v0.7h-0.7zM422.3 626.1h0.8v0.8h-0.8zM397.9 650.8h0.8v0.8h-0.8zM394.8 637.3h0.9v0.9h-0.9zM395.5 623.2h0.8v0.8h-0.8zM405.7 593.1h1.1v1.1h-1.1zM382.2 638.3h0.9v0.9h-0.9zM430.8 633.4h1.1v1.1h-1.1zM402.9 641.6h0.7v0.7h-0.7zM402.0 590.9h0.7v0.7h-0.7zM384.1 639.4h1.0v1.0h-1.0zM435.0 617.0h1.0v1.0h-1.0zM402.4 637.7h0.8v0.8h-0.8zM404.7 597.4h0.8v0.8h-0.8zM384.7 634.6h0.9v0.9h-0.9zM376.8 609.5h1.1v1.1h-1.1zM388.4 623.2h0.8v0.8h-0.8zM426.8 632.5h0.7v0.7h-0.7zM418.9 604.7h0.7v0.7h-0.7zM391.0 627.4h0.7v0.7h-0.7zM385.0 619.4h0.7v0.7h-0.7zM395.7 636.0h1.0v1.0h-1.0zM395.3 636.9h0.7v0.7h-0.7zM413.6 596.4h1.0v1.0h-1.0zM402.0 634.0h0.7v0.7h-0.7zM411.4 613.5h1.1v1.1h-1.1zM380.5 622.4h1.1v1.1h-1.1zM416.0 600.8h0.6v0.6h-0.6z" fill="#3a3a94" opacity="0.7"/>
</g>
<circle cx="406.7" cy="621.4" r="33.099999999999994" fill="none" stroke="#9a9ab4" stroke-width="1.4"/>
<clipPath id="dc5"><circle cx="478.9" cy="621.4" r="33.8"/></clipPath>
<g clip-path="url(#dc5)">
<circle cx="478.9" cy="621.4" r="33.8" fill="#8e8e95"/>
<g filter="url(#bl3)">
<ellipse cx="468.9" cy="633.4" rx="15.209999999999999" ry="13.52" fill="#98989e"/>
<ellipse cx="474.9" cy="613.4" rx="16.9" ry="15.209999999999999" fill="#98989e"/>
<ellipse cx="446.78999999999996" cy="621.4" rx="8.45" ry="27.04" fill="#808088"/>
</g>
<path d="M473.6 597.1A26.363999999999997 26.363999999999997 0 0 1 499.8 634.5L489.7 629.8A15.209999999999999 15.209999999999999 0 0 0 474.6 608.2Z" fill="#b2b2b6" filter="url(#bl25)" opacity="0.9"/>
<path d="M477.9 594.4 C494.1 602.8 490.7 619.7 484.0 624.8 C480.6 628.2 490.7 636.6 495.8 645.1" stroke="#e4e4ea" stroke-width="5" fill="none" opacity="0.55" filter="url(#bl25)"/>
<circle cx="478.9" cy="621.4" r="29.406" fill="none" stroke="#808088" stroke-width="1.2" opacity="0.7" filter="url(#bl05)"/>
<path d="M458.0 596.7h0.6v0.6h-0.6zM458.5 620.5h0.7v0.7h-0.7zM496.6 605.4h0.9v0.9h-0.9zM473.6 645.0h1.0v1.0h-1.0zM484.2 637.2h0.8v0.8h-0.8zM457.1 619.4h0.8v0.8h-0.8zM455.8 604.3h1.0v1.0h-1.0zM456.0 603.5h0.8v0.8h-0.8zM469.8 633.6h1.0v1.0h-1.0zM464.6 635.3h0.9v0.9h-0.9zM463.4 643.2h0.9v0.9h-0.9zM452.9 620.3h0.9v0.9h-0.9zM465.1 643.8h0.7v0.7h-0.7zM477.3 645.6h0.7v0.7h-0.7zM453.9 604.7h1.0v1.0h-1.0zM473.5 633.0h0.7v0.7h-0.7zM468.9 599.2h0.9v0.9h-0.9zM480.7 615.9h1.0v1.0h-1.0z" fill="#3a3a94" opacity="0.7"/>
</g>
<circle cx="478.9" cy="621.4" r="33.099999999999994" fill="none" stroke="#7a7a98" stroke-width="1.4"/>
<text x="0.0" y="0.0" font-size="12.3" text-anchor="middle" fill="#222" stroke="#222" stroke-width="0.3" textLength="35.7" lengthAdjust="spacingAndGlyphs" transform="translate(520.5,477.5) rotate(90)">R+Pyr</text>
<text x="0.0" y="0.0" font-size="12.3" text-anchor="middle" fill="#222" stroke="#222" stroke-width="0.3" textLength="39.6" lengthAdjust="spacingAndGlyphs" transform="translate(520.5,551.0) rotate(90)">R+Oxa</text>
<text x="0.0" y="0.0" font-size="12.3" text-anchor="middle" fill="#222" stroke="#222" stroke-width="0.3" textLength="65.3" lengthAdjust="spacingAndGlyphs" transform="translate(520.5,623.4) rotate(90)">R+Oxa+Pyr</text>
<line x1="581.3" y1="437.3" x2="581.3" y2="573.4" stroke="#222" stroke-width="1.5"/>
<line x1="577.3" y1="572.8" x2="581.3" y2="572.8" stroke="#222" stroke-width="1.2"/>
<text x="573.1" y="577.4" font-size="12.5" text-anchor="end" fill="#222" stroke="#222" stroke-width="0.3">0</text>
<line x1="577.3" y1="545.7" x2="581.3" y2="545.7" stroke="#222" stroke-width="1.2"/>
<text x="573.1" y="550.3" font-size="12.5" text-anchor="end" fill="#222" stroke="#222" stroke-width="0.3">20</text>
<line x1="577.3" y1="518.6" x2="581.3" y2="518.6" stroke="#222" stroke-width="1.2"/>
<text x="573.1" y="523.2" font-size="12.5" text-anchor="end" fill="#222" stroke="#222" stroke-width="0.3">40</text>
<line x1="577.3" y1="491.5" x2="581.3" y2="491.5" stroke="#222" stroke-width="1.2"/>
<text x="573.1" y="496.1" font-size="12.5" text-anchor="end" fill="#222" stroke="#222" stroke-width="0.3">60</text>
<line x1="577.3" y1="464.4" x2="581.3" y2="464.4" stroke="#222" stroke-width="1.2"/>
<text x="573.1" y="469.0" font-size="12.5" text-anchor="end" fill="#222" stroke="#222" stroke-width="0.3">80</text>
<line x1="577.3" y1="437.3" x2="581.3" y2="437.3" stroke="#222" stroke-width="1.2"/>
<text x="573.1" y="441.9" font-size="12.5" text-anchor="end" fill="#222" stroke="#222" stroke-width="0.3">100</text>
<line x1="581.3" y1="572.8" x2="784.3" y2="572.8" stroke="#222" stroke-width="1.5"/>
<line x1="600.4" y1="572.8" x2="600.4" y2="576.8" stroke="#222" stroke-width="1.2"/>
<line x1="629.1" y1="572.8" x2="629.1" y2="576.8" stroke="#222" stroke-width="1.2"/>
<line x1="658.0" y1="572.8" x2="658.0" y2="576.8" stroke="#222" stroke-width="1.2"/>
<line x1="706.2" y1="572.8" x2="706.2" y2="576.8" stroke="#222" stroke-width="1.2"/>
<line x1="735.4" y1="572.8" x2="735.4" y2="576.8" stroke="#222" stroke-width="1.2"/>
<line x1="764.3" y1="572.8" x2="764.3" y2="576.8" stroke="#222" stroke-width="1.2"/>
<text x="0.0" y="0.0" font-size="12.5" text-anchor="middle" fill="#222" stroke="#222" stroke-width="0.3" textLength="110" lengthAdjust="spacingAndGlyphs" transform="translate(550.3,508.3) rotate(-90)">Number of colonies</text>
<circle cx="626.7" cy="435.7" r="2.6" fill="#1c1cf0"/>
<text x="640.0" y="440.0" font-size="12.8" text-anchor="start" fill="#222" stroke="#222" stroke-width="0.3">SW480</text>
<rect x="624.2" y="447.5" width="5.0" height="5.0" fill="#f01c1c"/>
<text x="640.0" y="454.3" font-size="12.8" text-anchor="start" fill="#222" stroke="#222" stroke-width="0.3">HCT116</text>
<line x1="600.4" y1="498.3" x2="600.4" y2="522.0" stroke="#1c1cf0" stroke-width="1.3"/>
<line x1="589.4" y1="510.5" x2="611.4" y2="510.5" stroke="#1c1cf0" stroke-width="1.4"/>
<line x1="595.4" y1="498.3" x2="605.4" y2="498.3" stroke="#1c1cf0" stroke-width="1.3"/>
<line x1="595.4" y1="522.0" x2="605.4" y2="522.0" stroke="#1c1cf0" stroke-width="1.3"/>
<circle cx="600.4" cy="496.9" r="2.8" fill="#1c1cf0"/>
<circle cx="604.4" cy="514.5" r="2.8" fill="#1c1cf0"/>
<circle cx="596.4" cy="520.0" r="2.8" fill="#1c1cf0"/>
<line x1="629.1" y1="482.0" x2="629.1" y2="510.5" stroke="#1c1cf0" stroke-width="1.3"/>
<line x1="618.1" y1="496.2" x2="640.1" y2="496.2" stroke="#1c1cf0" stroke-width="1.4"/>
<line x1="624.1" y1="482.0" x2="634.1" y2="482.0" stroke="#1c1cf0" stroke-width="1.3"/>
<line x1="624.1" y1="510.5" x2="634.1" y2="510.5" stroke="#1c1cf0" stroke-width="1.3"/>
<circle cx="629.1" cy="480.7" r="2.8" fill="#1c1cf0"/>
<circle cx="633.1" cy="502.3" r="2.8" fill="#1c1cf0"/>
<circle cx="625.1" cy="506.4" r="2.8" fill="#1c1cf0"/>
<line x1="658.0" y1="532.8" x2="658.0" y2="555.2" stroke="#1c1cf0" stroke-width="1.3"/>
<line x1="647.0" y1="543.7" x2="669.0" y2="543.7" stroke="#1c1cf0" stroke-width="1.4"/>
<line x1="653.0" y1="532.8" x2="663.0" y2="532.8" stroke="#1c1cf0" stroke-width="1.3"/>
<line x1="653.0" y1="555.2" x2="663.0" y2="555.2" stroke="#1c1cf0" stroke-width="1.3"/>
<circle cx="654.0" cy="534.9" r="2.8" fill="#1c1cf0"/>
<circle cx="662.0" cy="538.9" r="2.8" fill="#1c1cf0"/>
<circle cx="658.0" cy="555.9" r="2.8" fill="#1c1cf0"/>
<line x1="706.2" y1="460.3" x2="706.2" y2="486.1" stroke="#f01c1c" stroke-width="1.3"/>
<line x1="695.2" y1="472.5" x2="717.2" y2="472.5" stroke="#f01c1c" stroke-width="1.4"/>
<line x1="701.2" y1="460.3" x2="711.2" y2="460.3" stroke="#f01c1c" stroke-width="1.3"/>
<line x1="701.2" y1="486.1" x2="711.2" y2="486.1" stroke="#f01c1c" stroke-width="1.3"/>
<rect x="699.7" y="460.5" width="5.0" height="5.0" fill="#f01c1c"/>
<rect x="707.7" y="466.0" width="5.0" height="5.0" fill="#f01c1c"/>
<rect x="703.7" y="484.3" width="5.0" height="5.0" fill="#f01c1c"/>
<line x1="735.4" y1="446.8" x2="735.4" y2="479.3" stroke="#f01c1c" stroke-width="1.3"/>
<line x1="724.4" y1="462.4" x2="746.4" y2="462.4" stroke="#f01c1c" stroke-width="1.4"/>
<line x1="730.4" y1="446.8" x2="740.4" y2="446.8" stroke="#f01c1c" stroke-width="1.3"/>
<line x1="730.4" y1="479.3" x2="740.4" y2="479.3" stroke="#f01c1c" stroke-width="1.3"/>
<rect x="732.9" y="444.3" width="5.0" height="5.0" fill="#f01c1c"/>
<rect x="732.9" y="456.5" width="5.0" height="5.0" fill="#f01c1c"/>
<rect x="732.9" y="476.1" width="5.0" height="5.0" fill="#f01c1c"/>
<line x1="764.3" y1="543.0" x2="764.3" y2="547.1" stroke="#f01c1c" stroke-width="1.3"/>
<line x1="753.3" y1="545.0" x2="775.3" y2="545.0" stroke="#f01c1c" stroke-width="1.4"/>
<line x1="759.3" y1="543.0" x2="769.3" y2="543.0" stroke="#f01c1c" stroke-width="1.3"/>
<line x1="759.3" y1="547.1" x2="769.3" y2="547.1" stroke="#f01c1c" stroke-width="1.3"/>
<rect x="756.8" y="540.5" width="5.0" height="5.0" fill="#f01c1c"/>
<rect x="761.8" y="544.8" width="5.0" height="5.0" fill="#f01c1c"/>
<rect x="766.8" y="542.5" width="5.0" height="5.0" fill="#f01c1c"/>
<path d="M597.2 476.4V470.9H627V476.4" stroke="#111" stroke-width="1.5" fill="none"/>
<text x="613.6" y="467.9" font-size="12.5" text-anchor="middle" fill="#222" stroke="#222" stroke-width="0.3">ns</text>
<path d="M631.8 476.4V470.9H659.8V476.4" stroke="#111" stroke-width="1.5" fill="none"/>
<text x="647.3" y="471.2" font-size="10.2" text-anchor="middle" fill="#222" stroke="#222" stroke-width="0.3">**</text>
<path d="M701.9 441.7V436.2H732.7V441.7" stroke="#111" stroke-width="1.5" fill="none"/>
<text x="718.8" y="433.2" font-size="12.5" text-anchor="middle" fill="#222" stroke="#222" stroke-width="0.3">ns</text>
<path d="M736.3 441.7V436.2H769.3V441.7" stroke="#111" stroke-width="1.5" fill="none"/>
<text x="754.3" y="436.5" font-size="10.2" text-anchor="middle" fill="#222" stroke="#222" stroke-width="0.3">**</text>
<text x="0.0" y="0.0" font-size="12.8" text-anchor="start" fill="#222" stroke="#222" stroke-width="0.3" textLength="34.9" lengthAdjust="spacingAndGlyphs" transform="translate(572.1,603.8) rotate(-26)">R+Pyr</text>
<text x="0.0" y="0.0" font-size="12.8" text-anchor="start" fill="#222" stroke="#222" stroke-width="0.3" textLength="39.7" lengthAdjust="spacingAndGlyphs" transform="translate(596.0,606.3) rotate(-26)">R+Oxa</text>
<text x="0.0" y="0.0" font-size="12.8" text-anchor="start" fill="#222" stroke="#222" stroke-width="0.3" textLength="66" lengthAdjust="spacingAndGlyphs" transform="translate(607.5,622.2) rotate(-26)">R+Oxa+Pyr</text>
<text x="0.0" y="0.0" font-size="12.8" text-anchor="start" fill="#222" stroke="#222" stroke-width="0.3" textLength="34.6" lengthAdjust="spacingAndGlyphs" transform="translate(677.8,605.6) rotate(-26)">R+Pyr</text>
<text x="0.0" y="0.0" font-size="12.8" text-anchor="start" fill="#222" stroke="#222" stroke-width="0.3" textLength="39.3" lengthAdjust="spacingAndGlyphs" transform="translate(707.5,605.6) rotate(-26)">R+Oxa</text>
<text x="0.0" y="0.0" font-size="12.8" text-anchor="start" fill="#222" stroke="#222" stroke-width="0.3" textLength="66.3" lengthAdjust="spacingAndGlyphs" transform="translate(712.5,622.2) rotate(-26)">R+Oxa+Pyr</text>
<text x="425.5" y="700.6" font-size="17" text-anchor="start" fill="#111" stroke="#111" stroke-width="0.3" font-weight="bold">F</text>
<line x1="489.6" y1="680.0" x2="489.6" y2="860.0" stroke="#222" stroke-width="1.6"/>
<line x1="485.1" y1="859.4" x2="489.6" y2="859.4" stroke="#222" stroke-width="1.4"/>
<line x1="485.1" y1="799.6" x2="489.6" y2="799.6" stroke="#222" stroke-width="1.4"/>
<line x1="485.1" y1="739.8" x2="489.6" y2="739.8" stroke="#222" stroke-width="1.4"/>
<line x1="485.1" y1="680.0" x2="489.6" y2="680.0" stroke="#222" stroke-width="1.4"/>
<text x="476.1" y="687.1" font-size="12.5" text-anchor="end" fill="#222" stroke="#222" stroke-width="0.3">1500</text>
<text x="480.5" y="745.7" font-size="12.5" text-anchor="end" fill="#222" stroke="#222" stroke-width="0.3">1000</text>
<text x="480.5" y="806.4" font-size="12.5" text-anchor="end" fill="#222" stroke="#222" stroke-width="0.3">500</text>
<text x="481.0" y="866.8" font-size="12.5" text-anchor="end" fill="#222" stroke="#222" stroke-width="0.3">0</text>
<line x1="489.6" y1="859.4" x2="734.9" y2="859.4" stroke="#222" stroke-width="1.6"/>
<line x1="489.6" y1="859.4" x2="489.6" y2="863.9" stroke="#222" stroke-width="1.3"/>
<text x="490.3" y="876.0" font-size="12.5" text-anchor="middle" fill="#222" stroke="#222" stroke-width="0.3">0</text>
<line x1="510.0" y1="859.4" x2="510.0" y2="862.4" stroke="#222" stroke-width="1.3"/>
<line x1="530.5" y1="859.4" x2="530.5" y2="863.9" stroke="#222" stroke-width="1.3"/>
<text x="531.2" y="876.0" font-size="12.5" text-anchor="middle" fill="#222" stroke="#222" stroke-width="0.3">6</text>
<line x1="550.9" y1="859.4" x2="550.9" y2="862.4" stroke="#222" stroke-width="1.3"/>
<line x1="571.4" y1="859.4" x2="571.4" y2="863.9" stroke="#222" stroke-width="1.3"/>
<text x="572.1" y="876.0" font-size="12.5" text-anchor="middle" fill="#222" stroke="#222" stroke-width="0.3">12</text>
<line x1="591.8" y1="859.4" x2="591.8" y2="862.4" stroke="#222" stroke-width="1.3"/>
<line x1="612.3" y1="859.4" x2="612.3" y2="863.9" stroke="#222" stroke-width="1.3"/>
<text x="613.0" y="876.0" font-size="12.5" text-anchor="middle" fill="#222" stroke="#222" stroke-width="0.3">18</text>
<line x1="632.7" y1="859.4" x2="632.7" y2="862.4" stroke="#222" stroke-width="1.3"/>
<line x1="653.2" y1="859.4" x2="653.2" y2="863.9" stroke="#222" stroke-width="1.3"/>
<text x="653.9" y="876.0" font-size="12.5" text-anchor="middle" fill="#222" stroke="#222" stroke-width="0.3">24</text>
<line x1="673.6" y1="859.4" x2="673.6" y2="862.4" stroke="#222" stroke-width="1.3"/>
<line x1="694.1" y1="859.4" x2="694.1" y2="863.9" stroke="#222" stroke-width="1.3"/>
<text x="694.8" y="876.0" font-size="12.5" text-anchor="middle" fill="#222" stroke="#222" stroke-width="0.3">30</text>
<line x1="714.5" y1="859.4" x2="714.5" y2="862.4" stroke="#222" stroke-width="1.3"/>
<line x1="734.9" y1="859.4" x2="734.9" y2="863.9" stroke="#222" stroke-width="1.3"/>
<text x="735.6" y="876.0" font-size="12.5" text-anchor="middle" fill="#222" stroke="#222" stroke-width="0.3">36</text>
<text x="619.0" y="892.3" font-size="12.5" text-anchor="middle" fill="#222" stroke="#222" stroke-width="0.3" textLength="114.4" lengthAdjust="spacingAndGlyphs">Days post xenograft</text>
<text x="0" y="0" font-size="12.5" text-anchor="middle" fill="#222" stroke="#222" stroke-width="0.3" transform="translate(448.6,775.5) rotate(-90)" textLength="115" lengthAdjust="spacingAndGlyphs">Tumor volume(mm<tspan font-size="8" dy="-4.5">3</tspan><tspan dy="4.5">)</tspan></text>
<path d="M537.3 858.2L557.8 856.8L578.2 853.8L598.6 848.6L619.1 840.7L639.5 831.4L660.0 816.1L680.4 776.4L700.9 747.9" stroke="#111" stroke-width="2.2" fill="none"/>
<path d="M537.3 858.8L557.8 857.6L578.2 856.1L598.6 853.9L619.1 849.5L639.5 842.8L660.0 832.3L680.4 811.3L700.9 772.1" stroke="#1f1ff0" stroke-width="2.2" fill="none"/>
<path d="M537.3 858.8L557.8 857.6L578.2 855.6L598.6 852.5L619.1 844.2L639.5 841.2L660.0 836.7L680.4 834.9L700.9 827.9" stroke="#f01c1c" stroke-width="2.2" fill="none"/>
<circle cx="537.3" cy="858.2" r="3.4" fill="#111"/>
<circle cx="557.8" cy="856.8" r="3.4" fill="#111"/>
<circle cx="578.2" cy="853.8" r="3.4" fill="#111"/>
<line x1="598.6" y1="842.1" x2="598.6" y2="854.9" stroke="#111" stroke-width="1.6"/>
<line x1="595.1" y1="842.1" x2="602.1" y2="842.1" stroke="#111" stroke-width="1.6"/>
<line x1="595.1" y1="854.9" x2="602.1" y2="854.9" stroke="#111" stroke-width="1.6"/>
<circle cx="598.6" cy="848.6" r="3.4" fill="#111"/>
<line x1="619.1" y1="836.7" x2="619.1" y2="844.2" stroke="#111" stroke-width="1.6"/>
<line x1="615.6" y1="836.7" x2="622.6" y2="836.7" stroke="#111" stroke-width="1.6"/>
<line x1="615.6" y1="844.2" x2="622.6" y2="844.2" stroke="#111" stroke-width="1.6"/>
<circle cx="619.1" cy="840.7" r="3.4" fill="#111"/>
<line x1="639.5" y1="825.8" x2="639.5" y2="837.2" stroke="#111" stroke-width="1.6"/>
<line x1="636.0" y1="825.8" x2="643.0" y2="825.8" stroke="#111" stroke-width="1.6"/>
<line x1="636.0" y1="837.2" x2="643.0" y2="837.2" stroke="#111" stroke-width="1.6"/>
<circle cx="639.5" cy="831.4" r="3.4" fill="#111"/>
<line x1="660.0" y1="807.3" x2="660.0" y2="825.0" stroke="#111" stroke-width="1.6"/>
<line x1="656.5" y1="807.3" x2="663.5" y2="807.3" stroke="#111" stroke-width="1.6"/>
<line x1="656.5" y1="825.0" x2="663.5" y2="825.0" stroke="#111" stroke-width="1.6"/>
<circle cx="660.0" cy="816.1" r="3.4" fill="#111"/>
<line x1="680.4" y1="758.0" x2="680.4" y2="794.5" stroke="#111" stroke-width="1.6"/>
<line x1="676.9" y1="758.0" x2="683.9" y2="758.0" stroke="#111" stroke-width="1.6"/>
<line x1="676.9" y1="794.5" x2="683.9" y2="794.5" stroke="#111" stroke-width="1.6"/>
<circle cx="680.4" cy="776.4" r="3.4" fill="#111"/>
<line x1="700.9" y1="730.9" x2="700.9" y2="764.6" stroke="#111" stroke-width="1.6"/>
<line x1="697.4" y1="730.9" x2="704.4" y2="730.9" stroke="#111" stroke-width="1.6"/>
<line x1="697.4" y1="764.6" x2="704.4" y2="764.6" stroke="#111" stroke-width="1.6"/>
<circle cx="700.9" cy="747.9" r="3.4" fill="#111"/>
<rect x="534.4" y="855.9" width="5.8" height="5.8" fill="#1f1ff0"/>
<rect x="554.9" y="854.7" width="5.8" height="5.8" fill="#1f1ff0"/>
<rect x="575.3" y="853.2" width="5.8" height="5.8" fill="#1f1ff0"/>
<rect x="595.7" y="851.0" width="5.8" height="5.8" fill="#1f1ff0"/>
<rect x="616.2" y="846.6" width="5.8" height="5.8" fill="#1f1ff0"/>
<rect x="636.6" y="839.9" width="5.8" height="5.8" fill="#1f1ff0"/>
<line x1="660.0" y1="827.2" x2="660.0" y2="837.2" stroke="#1f1ff0" stroke-width="1.6"/>
<line x1="656.5" y1="827.2" x2="663.5" y2="827.2" stroke="#1f1ff0" stroke-width="1.6"/>
<line x1="656.5" y1="837.2" x2="663.5" y2="837.2" stroke="#1f1ff0" stroke-width="1.6"/>
<rect x="657.1" y="829.4" width="5.8" height="5.8" fill="#1f1ff0"/>
<line x1="680.4" y1="802.9" x2="680.4" y2="820.1" stroke="#1f1ff0" stroke-width="1.6"/>
<line x1="676.9" y1="802.9" x2="683.9" y2="802.9" stroke="#1f1ff0" stroke-width="1.6"/>
<line x1="676.9" y1="820.1" x2="683.9" y2="820.1" stroke="#1f1ff0" stroke-width="1.6"/>
<rect x="677.5" y="808.4" width="5.8" height="5.8" fill="#1f1ff0"/>
<line x1="700.9" y1="756.7" x2="700.9" y2="786.7" stroke="#1f1ff0" stroke-width="1.6"/>
<line x1="697.4" y1="756.7" x2="704.4" y2="756.7" stroke="#1f1ff0" stroke-width="1.6"/>
<line x1="697.4" y1="786.7" x2="704.4" y2="786.7" stroke="#1f1ff0" stroke-width="1.6"/>
<rect x="698.0" y="769.2" width="5.8" height="5.8" fill="#1f1ff0"/>
<path d="M537.3 855.0L541.1 861.7L533.5 861.7Z" fill="#f01c1c"/>
<path d="M557.8 853.8L561.6 860.5L553.9 860.5Z" fill="#f01c1c"/>
<path d="M578.2 851.7L582.0 858.5L574.4 858.5Z" fill="#f01c1c"/>
<path d="M598.6 848.6L602.5 855.3L594.8 855.3Z" fill="#f01c1c"/>
<path d="M619.1 840.4L622.9 847.1L615.2 847.1Z" fill="#f01c1c"/>
<line x1="639.5" y1="839.1" x2="639.5" y2="844.4" stroke="#f01c1c" stroke-width="1.6"/>
<line x1="636.0" y1="839.1" x2="643.0" y2="839.1" stroke="#f01c1c" stroke-width="1.6"/>
<line x1="636.0" y1="844.4" x2="643.0" y2="844.4" stroke="#f01c1c" stroke-width="1.6"/>
<path d="M639.5 837.4L643.4 844.1L635.7 844.1Z" fill="#f01c1c"/>
<line x1="660.0" y1="830.7" x2="660.0" y2="843.4" stroke="#f01c1c" stroke-width="1.6"/>
<line x1="656.5" y1="830.7" x2="663.5" y2="830.7" stroke="#f01c1c" stroke-width="1.6"/>
<line x1="656.5" y1="843.4" x2="663.5" y2="843.4" stroke="#f01c1c" stroke-width="1.6"/>
<path d="M660.0 832.8L663.8 839.6L656.1 839.6Z" fill="#f01c1c"/>
<line x1="680.4" y1="827.9" x2="680.4" y2="840.7" stroke="#f01c1c" stroke-width="1.6"/>
<line x1="676.9" y1="827.9" x2="683.9" y2="827.9" stroke="#f01c1c" stroke-width="1.6"/>
<line x1="676.9" y1="840.7" x2="683.9" y2="840.7" stroke="#f01c1c" stroke-width="1.6"/>
<path d="M680.4 831.0L684.3 837.8L676.6 837.8Z" fill="#f01c1c"/>
<line x1="700.9" y1="817.8" x2="700.9" y2="836.3" stroke="#f01c1c" stroke-width="1.6"/>
<line x1="697.4" y1="817.8" x2="704.4" y2="817.8" stroke="#f01c1c" stroke-width="1.6"/>
<line x1="697.4" y1="836.3" x2="704.4" y2="836.3" stroke="#f01c1c" stroke-width="1.6"/>
<path d="M700.9 824.1L704.7 830.8L697.0 830.8Z" fill="#f01c1c"/>
<line x1="557.8" y1="855.2" x2="557.8" y2="858.4" stroke="#111" stroke-width="1.4"/>
<line x1="554.2" y1="855.2" x2="561.2" y2="855.2" stroke="#111" stroke-width="1.4"/>
<line x1="578.2" y1="852.2" x2="578.2" y2="855.8" stroke="#111" stroke-width="1.4"/>
<line x1="574.7" y1="852.2" x2="581.7" y2="852.2" stroke="#111" stroke-width="1.4"/>
<line x1="530.7" y1="668.8" x2="547.0" y2="668.8" stroke="#111" stroke-width="2.2"/>
<circle cx="538.8" cy="668.8" r="3.3" fill="#111"/>
<text x="557.9" y="673.4" font-size="12.5" text-anchor="start" fill="#222" stroke="#222" stroke-width="0.3">R+Oxa</text>
<line x1="530.7" y1="692.0" x2="547.0" y2="692.0" stroke="#1f1ff0" stroke-width="2.2"/>
<rect x="535.9" y="689.1" width="5.8" height="5.8" fill="#1f1ff0"/>
<text x="557.9" y="696.6" font-size="12.5" text-anchor="start" fill="#222" stroke="#222" stroke-width="0.3">R+Pyr</text>
<line x1="530.7" y1="716.6" x2="547.0" y2="716.6" stroke="#f01c1c" stroke-width="2.2"/>
<path d="M538.8 712.8L542.6 719.5L535.0 719.5Z" fill="#f01c1c"/>
<text x="557.9" y="721.2" font-size="12.5" text-anchor="start" fill="#222" stroke="#222" stroke-width="0.3">R+Oxa+Pyrv</text>
<path d="M515.6 668.8H508.6V717.9H515.6" stroke="#111" stroke-width="1.5" fill="none"/>
<path d="M524.4 668.8H519.4V694H524.4" stroke="#111" stroke-width="1.5" fill="none"/>
<text x="0.0" y="0.0" font-size="15" text-anchor="middle" fill="#222" stroke="#222" stroke-width="0.3" transform="translate(495.2,695.2) rotate(90)">****</text>
<text x="0.0" y="0.0" font-size="15" text-anchor="middle" fill="#222" stroke="#222" stroke-width="0.3" transform="translate(506.5,681.4) rotate(90)">*</text>
</svg></body></html>
